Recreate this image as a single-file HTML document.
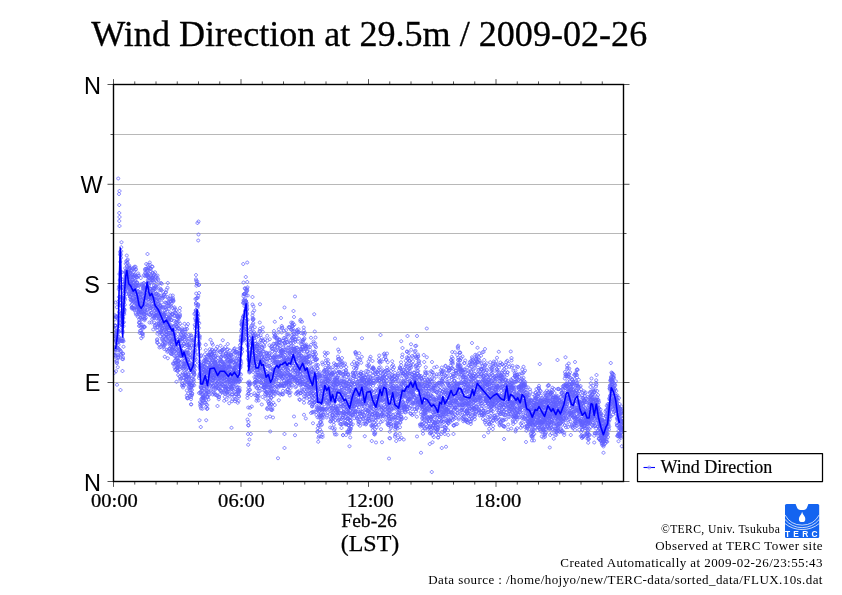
<!DOCTYPE html>
<html lang="en"><head><meta charset="utf-8"><title>Wind Direction at 29.5m / 2009-02-26</title>
<style>html,body{margin:0;padding:0;background:#fff;overflow:hidden}svg{display:block}text{font-family:"Liberation Serif",serif;fill:#000}.sans{font-family:"Liberation Sans",sans-serif}</style></head><body>
<svg width="842" height="595" viewBox="0 0 842 595">
<rect width="842" height="595" fill="#fff"/>
<path d="M113.5 431.5H623.5M113.5 382.5H623.5M113.5 332.5H623.5M113.5 283.5H623.5M113.5 233.5H623.5M113.5 184.5H623.5M113.5 134.5H623.5" stroke="#a0a0a0" stroke-width="0.75" fill="none"/>
<clipPath id="c"><rect x="113.5" y="84.5" width="510.0" height="397.0"/></clipPath>
<path clip-path="url(#c)" d="M114.45 353.25a1.5 1.5 0 1 0 .1 0zM114.45 353.5a1.5 1.5 0 1 0 .1 0zM114.45 358a1.5 1.5 0 1 0 .1 0zM114.45 371.25a1.5 1.5 0 1 0 .1 0zM114.7 318a1.5 1.5 0 1 0 .1 0zM114.7 331a1.5 1.5 0 1 0 .1 0zM114.7 337.75a1.5 1.5 0 1 0 .1 0zM114.7 345.75a1.5 1.5 0 1 0 .1 0zM114.7 350.25a1.5 1.5 0 1 0 .1 0zM114.95 313.75a1.5 1.5 0 1 0 .1 0zM114.95 323.75a1.5 1.5 0 1 0 .1 0zM114.95 337.25a1.5 1.5 0 1 0 .1 0zM114.95 347.75a1.5 1.5 0 1 0 .1 0zM115.2 324.5a1.5 1.5 0 1 0 .1 0zM115.2 336.75a1.5 1.5 0 1 0 .1 0zM115.2 346.25a1.5 1.5 0 1 0 .1 0zM115.2 354.25a1.5 1.5 0 1 0 .1 0zM115.45 324.25a1.5 1.5 0 1 0 .1 0zM115.45 335a1.5 1.5 0 1 0 .1 0zM115.45 348a1.5 1.5 0 1 0 .1 0zM115.45 348.75a1.5 1.5 0 1 0 .1 0zM115.7 301a1.5 1.5 0 1 0 .1 0zM115.7 314.75a1.5 1.5 0 1 0 .1 0zM115.7 326.5a1.5 1.5 0 1 0 .1 0zM115.7 347a1.5 1.5 0 1 0 .1 0zM115.7 354a1.5 1.5 0 1 0 .1 0zM115.95 333.75a1.5 1.5 0 1 0 .1 0zM115.95 335.75a1.5 1.5 0 1 0 .1 0zM115.95 339.5a1.5 1.5 0 1 0 .1 0zM115.95 369.75a1.5 1.5 0 1 0 .1 0zM116.2 315.75a1.5 1.5 0 1 0 .1 0zM116.2 316a1.5 1.5 0 1 0 .1 0zM116.2 329.75a1.5 1.5 0 1 0 .1 0zM116.2 332.75a1.5 1.5 0 1 0 .1 0zM116.45 315.25a1.5 1.5 0 1 0 .1 0zM116.45 326a1.5 1.5 0 1 0 .1 0zM116.45 339.25a1.5 1.5 0 1 0 .1 0zM116.45 341.25a1.5 1.5 0 1 0 .1 0zM116.7 305.75a1.5 1.5 0 1 0 .1 0zM116.7 330a1.5 1.5 0 1 0 .1 0zM116.7 346a1.5 1.5 0 1 0 .1 0zM116.7 359.5a1.5 1.5 0 1 0 .1 0zM116.7 361a1.5 1.5 0 1 0 .1 0zM116.95 338a1.5 1.5 0 1 0 .1 0zM116.95 341a1.5 1.5 0 1 0 .1 0zM116.95 361.75a1.5 1.5 0 1 0 .1 0zM116.95 383.25a1.5 1.5 0 1 0 .1 0zM117.2 331a1.5 1.5 0 1 0 .1 0zM117.2 333.25a1.5 1.5 0 1 0 .1 0zM117.2 341.75a1.5 1.5 0 1 0 .1 0zM117.2 346a1.5 1.5 0 1 0 .1 0zM117.45 330a1.5 1.5 0 1 0 .1 0zM117.45 334.25a1.5 1.5 0 1 0 .1 0zM117.45 336.75a1.5 1.5 0 1 0 .1 0zM117.45 353.25a1.5 1.5 0 1 0 .1 0zM117.7 316.75a1.5 1.5 0 1 0 .1 0zM117.7 330.5a1.5 1.5 0 1 0 .1 0zM117.7 337a1.5 1.5 0 1 0 .1 0zM117.7 341.25a1.5 1.5 0 1 0 .1 0zM117.7 365.75a1.5 1.5 0 1 0 .1 0zM117.95 329a1.5 1.5 0 1 0 .1 0zM117.95 338.25a1.5 1.5 0 1 0 .1 0zM117.95 346.5a1.5 1.5 0 1 0 .1 0zM117.95 355.75a1.5 1.5 0 1 0 .1 0zM118.2 177a1.5 1.5 0 1 0 .1 0zM118.2 300.25a1.5 1.5 0 1 0 .1 0zM118.2 348.75a1.5 1.5 0 1 0 .1 0zM118.2 354a1.5 1.5 0 1 0 .1 0zM118.2 356.75a1.5 1.5 0 1 0 .1 0zM118.45 338.75a1.5 1.5 0 1 0 .1 0zM118.45 343.25a1.5 1.5 0 1 0 .1 0zM118.45 347.25a1.5 1.5 0 1 0 .1 0zM118.45 356a1.5 1.5 0 1 0 .1 0zM118.7 287.75a1.5 1.5 0 1 0 .1 0zM118.7 303.25a1.5 1.5 0 1 0 .1 0zM118.7 314a1.5 1.5 0 1 0 .1 0zM118.7 319.75a1.5 1.5 0 1 0 .1 0zM118.7 323a1.5 1.5 0 1 0 .1 0zM118.95 192.5a1.5 1.5 0 1 0 .1 0zM118.95 285a1.5 1.5 0 1 0 .1 0zM118.95 295.5a1.5 1.5 0 1 0 .1 0zM118.95 335.5a1.5 1.5 0 1 0 .1 0zM118.95 338.5a1.5 1.5 0 1 0 .1 0zM119.2 203.5a1.5 1.5 0 1 0 .1 0zM119.2 211.5a1.5 1.5 0 1 0 .1 0zM119.2 219.5a1.5 1.5 0 1 0 .1 0zM119.2 310.75a1.5 1.5 0 1 0 .1 0zM119.2 324.25a1.5 1.5 0 1 0 .1 0zM119.2 330.25a1.5 1.5 0 1 0 .1 0zM119.2 337a1.5 1.5 0 1 0 .1 0zM119.45 189.5a1.5 1.5 0 1 0 .1 0zM119.45 215.5a1.5 1.5 0 1 0 .1 0zM119.45 224.5a1.5 1.5 0 1 0 .1 0zM119.45 272.5a1.5 1.5 0 1 0 .1 0zM119.45 298.75a1.5 1.5 0 1 0 .1 0zM119.45 324.25a1.5 1.5 0 1 0 .1 0zM119.45 340a1.5 1.5 0 1 0 .1 0zM119.7 278.75a1.5 1.5 0 1 0 .1 0zM119.7 285.5a1.5 1.5 0 1 0 .1 0zM119.7 321.5a1.5 1.5 0 1 0 .1 0zM119.7 339.25a1.5 1.5 0 1 0 .1 0zM119.7 348.25a1.5 1.5 0 1 0 .1 0zM119.95 250.25a1.5 1.5 0 1 0 .1 0zM119.95 253a1.5 1.5 0 1 0 .1 0zM119.95 309.75a1.5 1.5 0 1 0 .1 0zM119.95 317.25a1.5 1.5 0 1 0 .1 0zM120.2 260.25a1.5 1.5 0 1 0 .1 0zM120.2 295.5a1.5 1.5 0 1 0 .1 0zM120.2 304a1.5 1.5 0 1 0 .1 0zM120.2 318.75a1.5 1.5 0 1 0 .1 0zM120.45 297.25a1.5 1.5 0 1 0 .1 0zM120.45 301.5a1.5 1.5 0 1 0 .1 0zM120.45 350.25a1.5 1.5 0 1 0 .1 0zM120.45 388.5a1.5 1.5 0 1 0 .1 0zM120.7 270.25a1.5 1.5 0 1 0 .1 0zM120.7 277a1.5 1.5 0 1 0 .1 0zM120.7 311.5a1.5 1.5 0 1 0 .1 0zM120.7 328.75a1.5 1.5 0 1 0 .1 0zM120.7 349.25a1.5 1.5 0 1 0 .1 0zM120.95 253a1.5 1.5 0 1 0 .1 0zM120.95 256.25a1.5 1.5 0 1 0 .1 0zM120.95 352.5a1.5 1.5 0 1 0 .1 0zM120.95 353.75a1.5 1.5 0 1 0 .1 0zM121.2 245.75a1.5 1.5 0 1 0 .1 0zM121.2 249.75a1.5 1.5 0 1 0 .1 0zM121.2 314.5a1.5 1.5 0 1 0 .1 0zM121.2 339.5a1.5 1.5 0 1 0 .1 0zM121.45 240.75a1.5 1.5 0 1 0 .1 0zM121.45 304.5a1.5 1.5 0 1 0 .1 0zM121.45 312.75a1.5 1.5 0 1 0 .1 0zM121.45 322.5a1.5 1.5 0 1 0 .1 0zM121.7 286.75a1.5 1.5 0 1 0 .1 0zM121.7 311.75a1.5 1.5 0 1 0 .1 0zM121.7 315.75a1.5 1.5 0 1 0 .1 0zM121.7 319.25a1.5 1.5 0 1 0 .1 0zM121.7 339.25a1.5 1.5 0 1 0 .1 0zM121.95 270.75a1.5 1.5 0 1 0 .1 0zM121.95 314a1.5 1.5 0 1 0 .1 0zM121.95 323.5a1.5 1.5 0 1 0 .1 0zM121.95 339.5a1.5 1.5 0 1 0 .1 0zM122.2 285.5a1.5 1.5 0 1 0 .1 0zM122.2 303a1.5 1.5 0 1 0 .1 0zM122.2 336.75a1.5 1.5 0 1 0 .1 0zM122.2 357.5a1.5 1.5 0 1 0 .1 0zM122.45 310a1.5 1.5 0 1 0 .1 0zM122.45 329.5a1.5 1.5 0 1 0 .1 0zM122.45 337.25a1.5 1.5 0 1 0 .1 0zM122.45 369.5a1.5 1.5 0 1 0 .1 0zM122.7 296.75a1.5 1.5 0 1 0 .1 0zM122.7 331a1.5 1.5 0 1 0 .1 0zM122.7 338.5a1.5 1.5 0 1 0 .1 0zM122.7 339.75a1.5 1.5 0 1 0 .1 0zM122.7 352a1.5 1.5 0 1 0 .1 0zM122.95 277.75a1.5 1.5 0 1 0 .1 0zM122.95 352.25a1.5 1.5 0 1 0 .1 0zM122.95 356a1.5 1.5 0 1 0 .1 0zM122.95 357.75a1.5 1.5 0 1 0 .1 0zM123.2 282.75a1.5 1.5 0 1 0 .1 0zM123.2 283a1.5 1.5 0 1 0 .1 0zM123.2 316.75a1.5 1.5 0 1 0 .1 0zM123.2 321.25a1.5 1.5 0 1 0 .1 0zM123.45 304.25a1.5 1.5 0 1 0 .1 0zM123.45 324.75a1.5 1.5 0 1 0 .1 0zM123.45 339.75a1.5 1.5 0 1 0 .1 0zM123.45 345.25a1.5 1.5 0 1 0 .1 0zM123.7 300.25a1.5 1.5 0 1 0 .1 0zM123.7 301a1.5 1.5 0 1 0 .1 0zM123.7 307.25a1.5 1.5 0 1 0 .1 0zM123.7 311.25a1.5 1.5 0 1 0 .1 0zM123.7 320.75a1.5 1.5 0 1 0 .1 0zM123.95 291.75a1.5 1.5 0 1 0 .1 0zM123.95 294.25a1.5 1.5 0 1 0 .1 0zM123.95 296.5a1.5 1.5 0 1 0 .1 0zM123.95 307.25a1.5 1.5 0 1 0 .1 0zM124.2 296a1.5 1.5 0 1 0 .1 0zM124.2 308a1.5 1.5 0 1 0 .1 0zM124.2 310.25a1.5 1.5 0 1 0 .1 0zM124.2 312.75a1.5 1.5 0 1 0 .1 0zM124.45 285.25a1.5 1.5 0 1 0 .1 0zM124.45 287.75a1.5 1.5 0 1 0 .1 0zM124.45 290a1.5 1.5 0 1 0 .1 0zM124.45 308.5a1.5 1.5 0 1 0 .1 0zM124.7 280.75a1.5 1.5 0 1 0 .1 0zM124.7 284.25a1.5 1.5 0 1 0 .1 0zM124.7 297a1.5 1.5 0 1 0 .1 0zM124.7 298.25a1.5 1.5 0 1 0 .1 0zM124.7 303.25a1.5 1.5 0 1 0 .1 0zM124.95 281.25a1.5 1.5 0 1 0 .1 0zM124.95 281.75a1.5 1.5 0 1 0 .1 0zM124.95 288.25a1.5 1.5 0 1 0 .1 0zM124.95 290a1.5 1.5 0 1 0 .1 0zM125.2 266.75a1.5 1.5 0 1 0 .1 0zM125.2 277.5a1.5 1.5 0 1 0 .1 0zM125.2 282.25a1.5 1.5 0 1 0 .1 0zM125.2 284.5a1.5 1.5 0 1 0 .1 0zM125.45 270a1.5 1.5 0 1 0 .1 0zM125.45 271.5a1.5 1.5 0 1 0 .1 0zM125.45 274.25a1.5 1.5 0 1 0 .1 0zM125.45 278.25a1.5 1.5 0 1 0 .1 0zM125.7 262.25a1.5 1.5 0 1 0 .1 0zM125.7 270.25a1.5 1.5 0 1 0 .1 0zM125.7 275a1.5 1.5 0 1 0 .1 0zM125.7 277.5a1.5 1.5 0 1 0 .1 0zM125.7 287.5a1.5 1.5 0 1 0 .1 0zM125.95 271.75a1.5 1.5 0 1 0 .1 0zM125.95 274.25a1.5 1.5 0 1 0 .1 0zM125.95 276.25a1.5 1.5 0 1 0 .1 0zM125.95 281a1.5 1.5 0 1 0 .1 0zM126.2 259.75a1.5 1.5 0 1 0 .1 0zM126.2 272.75a1.5 1.5 0 1 0 .1 0zM126.2 274.75a1.5 1.5 0 1 0 .1 0zM126.2 288a1.5 1.5 0 1 0 .1 0zM126.45 268a1.5 1.5 0 1 0 .1 0zM126.45 272a1.5 1.5 0 1 0 .1 0zM126.45 275.75a1.5 1.5 0 1 0 .1 0zM126.45 277.75a1.5 1.5 0 1 0 .1 0zM126.7 254a1.5 1.5 0 1 0 .1 0zM126.7 269.75a1.5 1.5 0 1 0 .1 0zM126.7 271.75a1.5 1.5 0 1 0 .1 0zM126.7 285a1.5 1.5 0 1 0 .1 0zM126.7 292.5a1.5 1.5 0 1 0 .1 0zM126.95 261.5a1.5 1.5 0 1 0 .1 0zM126.95 264.75a1.5 1.5 0 1 0 .1 0zM126.95 269.75a1.5 1.5 0 1 0 .1 0zM126.95 283.25a1.5 1.5 0 1 0 .1 0zM127.2 259a1.5 1.5 0 1 0 .1 0zM127.2 266a1.5 1.5 0 1 0 .1 0zM127.2 270a1.5 1.5 0 1 0 .1 0zM127.2 273.5a1.5 1.5 0 1 0 .1 0zM127.45 261.25a1.5 1.5 0 1 0 .1 0zM127.45 280.5a1.5 1.5 0 1 0 .1 0zM127.45 282.5a1.5 1.5 0 1 0 .1 0zM127.45 284a1.5 1.5 0 1 0 .1 0zM127.7 258a1.5 1.5 0 1 0 .1 0zM127.7 270a1.5 1.5 0 1 0 .1 0zM127.7 270.75a1.5 1.5 0 1 0 .1 0zM127.7 274.75a1.5 1.5 0 1 0 .1 0zM127.7 281.5a1.5 1.5 0 1 0 .1 0zM127.95 270.5a1.5 1.5 0 1 0 .1 0zM127.95 271.5a1.5 1.5 0 1 0 .1 0zM127.95 275.75a1.5 1.5 0 1 0 .1 0zM127.95 284.25a1.5 1.5 0 1 0 .1 0zM128.2 275a1.5 1.5 0 1 0 .1 0zM128.2 277.75a1.5 1.5 0 1 0 .1 0zM128.2 280.25a1.5 1.5 0 1 0 .1 0zM128.2 283a1.5 1.5 0 1 0 .1 0zM128.45 273a1.5 1.5 0 1 0 .1 0zM128.45 281.25a1.5 1.5 0 1 0 .1 0zM128.45 283a1.5 1.5 0 1 0 .1 0zM128.45 283.75a1.5 1.5 0 1 0 .1 0zM128.7 271a1.5 1.5 0 1 0 .1 0zM128.7 282.75a1.5 1.5 0 1 0 .1 0zM128.7 285.5a1.5 1.5 0 1 0 .1 0zM128.7 292a1.5 1.5 0 1 0 .1 0zM128.7 292.5a1.5 1.5 0 1 0 .1 0zM128.95 265a1.5 1.5 0 1 0 .1 0zM128.95 275.25a1.5 1.5 0 1 0 .1 0zM128.95 286a1.5 1.5 0 1 0 .1 0zM128.95 290.75a1.5 1.5 0 1 0 .1 0zM129.2 264a1.5 1.5 0 1 0 .1 0zM129.2 267.25a1.5 1.5 0 1 0 .1 0zM129.2 268.25a1.5 1.5 0 1 0 .1 0zM129.2 287a1.5 1.5 0 1 0 .1 0zM129.45 266.25a1.5 1.5 0 1 0 .1 0zM129.45 275.75a1.5 1.5 0 1 0 .1 0zM129.45 283.25a1.5 1.5 0 1 0 .1 0zM129.45 284.75a1.5 1.5 0 1 0 .1 0zM129.7 270.5a1.5 1.5 0 1 0 .1 0zM129.7 272a1.5 1.5 0 1 0 .1 0zM129.7 280.75a1.5 1.5 0 1 0 .1 0zM129.7 282a1.5 1.5 0 1 0 .1 0zM129.7 288a1.5 1.5 0 1 0 .1 0zM129.95 266.5a1.5 1.5 0 1 0 .1 0zM129.95 282.75a1.5 1.5 0 1 0 .1 0zM129.95 295a1.5 1.5 0 1 0 .1 0zM129.95 295.5a1.5 1.5 0 1 0 .1 0zM130.2 271.5a1.5 1.5 0 1 0 .1 0zM130.2 283.25a1.5 1.5 0 1 0 .1 0zM130.2 283.75a1.5 1.5 0 1 0 .1 0zM130.2 289.75a1.5 1.5 0 1 0 .1 0zM130.45 278a1.5 1.5 0 1 0 .1 0zM130.45 281a1.5 1.5 0 1 0 .1 0zM130.45 284.75a1.5 1.5 0 1 0 .1 0zM130.45 298a1.5 1.5 0 1 0 .1 0zM130.7 268.75a1.5 1.5 0 1 0 .1 0zM130.7 282.5a1.5 1.5 0 1 0 .1 0zM130.7 283.25a1.5 1.5 0 1 0 .1 0zM130.7 289a1.5 1.5 0 1 0 .1 0zM130.7 295.5a1.5 1.5 0 1 0 .1 0zM130.95 275.25a1.5 1.5 0 1 0 .1 0zM130.95 280a1.5 1.5 0 1 0 .1 0zM130.95 283a1.5 1.5 0 1 0 .1 0zM130.95 293.75a1.5 1.5 0 1 0 .1 0zM131.2 287.5a1.5 1.5 0 1 0 .1 0zM131.2 298.25a1.5 1.5 0 1 0 .1 0zM131.2 299.25a1.5 1.5 0 1 0 .1 0zM131.2 303.75a1.5 1.5 0 1 0 .1 0zM131.45 268.75a1.5 1.5 0 1 0 .1 0zM131.45 278.75a1.5 1.5 0 1 0 .1 0zM131.45 282.25a1.5 1.5 0 1 0 .1 0zM131.45 283.75a1.5 1.5 0 1 0 .1 0zM131.7 289a1.5 1.5 0 1 0 .1 0zM131.7 293.25a1.5 1.5 0 1 0 .1 0zM131.7 306a1.5 1.5 0 1 0 .1 0zM131.7 307a1.5 1.5 0 1 0 .1 0zM131.95 278.25a1.5 1.5 0 1 0 .1 0zM131.95 299.5a1.5 1.5 0 1 0 .1 0zM131.95 302.75a1.5 1.5 0 1 0 .1 0zM131.95 305.75a1.5 1.5 0 1 0 .1 0zM132.2 266.75a1.5 1.5 0 1 0 .1 0zM132.2 272.5a1.5 1.5 0 1 0 .1 0zM132.2 273.75a1.5 1.5 0 1 0 .1 0zM132.2 286a1.5 1.5 0 1 0 .1 0zM132.45 273.75a1.5 1.5 0 1 0 .1 0zM132.45 284.25a1.5 1.5 0 1 0 .1 0zM132.45 289.25a1.5 1.5 0 1 0 .1 0zM132.45 293.25a1.5 1.5 0 1 0 .1 0zM132.7 278.25a1.5 1.5 0 1 0 .1 0zM132.7 283.25a1.5 1.5 0 1 0 .1 0zM132.7 296.25a1.5 1.5 0 1 0 .1 0zM132.7 298.25a1.5 1.5 0 1 0 .1 0zM132.7 306.5a1.5 1.5 0 1 0 .1 0zM132.95 268a1.5 1.5 0 1 0 .1 0zM132.95 275.25a1.5 1.5 0 1 0 .1 0zM132.95 289.5a1.5 1.5 0 1 0 .1 0zM132.95 291.25a1.5 1.5 0 1 0 .1 0zM133.2 275.25a1.5 1.5 0 1 0 .1 0zM133.2 290a1.5 1.5 0 1 0 .1 0zM133.2 291a1.5 1.5 0 1 0 .1 0zM133.2 307a1.5 1.5 0 1 0 .1 0zM133.45 280.5a1.5 1.5 0 1 0 .1 0zM133.45 284.5a1.5 1.5 0 1 0 .1 0zM133.45 289a1.5 1.5 0 1 0 .1 0zM133.45 292a1.5 1.5 0 1 0 .1 0zM133.45 299.75a1.5 1.5 0 1 0 .1 0zM133.7 284.5a1.5 1.5 0 1 0 .1 0zM133.7 287.75a1.5 1.5 0 1 0 .1 0zM133.7 297.25a1.5 1.5 0 1 0 .1 0zM133.7 300.5a1.5 1.5 0 1 0 .1 0zM133.95 266.25a1.5 1.5 0 1 0 .1 0zM133.95 273.5a1.5 1.5 0 1 0 .1 0zM133.95 299a1.5 1.5 0 1 0 .1 0zM133.95 306.5a1.5 1.5 0 1 0 .1 0zM134.2 281a1.5 1.5 0 1 0 .1 0zM134.2 288.75a1.5 1.5 0 1 0 .1 0zM134.2 307.75a1.5 1.5 0 1 0 .1 0zM134.2 308.75a1.5 1.5 0 1 0 .1 0zM134.45 265.25a1.5 1.5 0 1 0 .1 0zM134.45 269.25a1.5 1.5 0 1 0 .1 0zM134.45 280.75a1.5 1.5 0 1 0 .1 0zM134.45 287.25a1.5 1.5 0 1 0 .1 0zM134.45 288a1.5 1.5 0 1 0 .1 0zM134.7 274a1.5 1.5 0 1 0 .1 0zM134.7 279.5a1.5 1.5 0 1 0 .1 0zM134.7 285.25a1.5 1.5 0 1 0 .1 0zM134.7 289.75a1.5 1.5 0 1 0 .1 0zM134.95 272.75a1.5 1.5 0 1 0 .1 0zM134.95 276.25a1.5 1.5 0 1 0 .1 0zM134.95 292.5a1.5 1.5 0 1 0 .1 0zM135.2 295a1.5 1.5 0 1 0 .1 0zM135.2 299.75a1.5 1.5 0 1 0 .1 0zM135.2 301.75a1.5 1.5 0 1 0 .1 0zM135.2 305.5a1.5 1.5 0 1 0 .1 0zM135.45 265.25a1.5 1.5 0 1 0 .1 0zM135.45 268.25a1.5 1.5 0 1 0 .1 0zM135.45 274.5a1.5 1.5 0 1 0 .1 0zM135.45 284a1.5 1.5 0 1 0 .1 0zM135.45 286a1.5 1.5 0 1 0 .1 0zM135.7 293a1.5 1.5 0 1 0 .1 0zM135.7 295.75a1.5 1.5 0 1 0 .1 0zM135.7 298.25a1.5 1.5 0 1 0 .1 0zM135.7 311.5a1.5 1.5 0 1 0 .1 0zM135.95 267.75a1.5 1.5 0 1 0 .1 0zM135.95 292.5a1.5 1.5 0 1 0 .1 0zM135.95 301.5a1.5 1.5 0 1 0 .1 0zM135.95 313a1.5 1.5 0 1 0 .1 0zM136.2 275.75a1.5 1.5 0 1 0 .1 0zM136.2 282.75a1.5 1.5 0 1 0 .1 0zM136.2 284a1.5 1.5 0 1 0 .1 0zM136.2 294.75a1.5 1.5 0 1 0 .1 0zM136.45 280.5a1.5 1.5 0 1 0 .1 0zM136.45 284.5a1.5 1.5 0 1 0 .1 0zM136.45 296.75a1.5 1.5 0 1 0 .1 0zM136.45 297a1.5 1.5 0 1 0 .1 0zM136.45 298.75a1.5 1.5 0 1 0 .1 0zM136.7 276.25a1.5 1.5 0 1 0 .1 0zM136.7 302a1.5 1.5 0 1 0 .1 0zM136.7 302.5a1.5 1.5 0 1 0 .1 0zM136.7 305.5a1.5 1.5 0 1 0 .1 0zM136.95 275.5a1.5 1.5 0 1 0 .1 0zM136.95 281a1.5 1.5 0 1 0 .1 0zM136.95 281.25a1.5 1.5 0 1 0 .1 0zM136.95 306a1.5 1.5 0 1 0 .1 0zM137.2 283.75a1.5 1.5 0 1 0 .1 0zM137.2 291.75a1.5 1.5 0 1 0 .1 0zM137.2 296a1.5 1.5 0 1 0 .1 0zM137.2 308.25a1.5 1.5 0 1 0 .1 0zM137.45 290.75a1.5 1.5 0 1 0 .1 0zM137.45 296a1.5 1.5 0 1 0 .1 0zM137.45 300.75a1.5 1.5 0 1 0 .1 0zM137.45 302.5a1.5 1.5 0 1 0 .1 0zM137.45 313.25a1.5 1.5 0 1 0 .1 0zM137.7 300.75a1.5 1.5 0 1 0 .1 0zM137.7 304.25a1.5 1.5 0 1 0 .1 0zM137.7 306.75a1.5 1.5 0 1 0 .1 0zM137.7 315.25a1.5 1.5 0 1 0 .1 0zM137.95 286.75a1.5 1.5 0 1 0 .1 0zM137.95 290.5a1.5 1.5 0 1 0 .1 0zM137.95 293a1.5 1.5 0 1 0 .1 0zM137.95 300a1.5 1.5 0 1 0 .1 0zM138.2 272a1.5 1.5 0 1 0 .1 0zM138.2 284a1.5 1.5 0 1 0 .1 0zM138.2 289.75a1.5 1.5 0 1 0 .1 0zM138.2 305a1.5 1.5 0 1 0 .1 0zM138.45 273.75a1.5 1.5 0 1 0 .1 0zM138.45 301a1.5 1.5 0 1 0 .1 0zM138.45 310a1.5 1.5 0 1 0 .1 0zM138.45 310.25a1.5 1.5 0 1 0 .1 0zM138.45 311a1.5 1.5 0 1 0 .1 0zM138.7 274.5a1.5 1.5 0 1 0 .1 0zM138.7 292.75a1.5 1.5 0 1 0 .1 0zM138.7 306.75a1.5 1.5 0 1 0 .1 0zM138.7 308.5a1.5 1.5 0 1 0 .1 0zM138.95 284a1.5 1.5 0 1 0 .1 0zM138.95 312.25a1.5 1.5 0 1 0 .1 0zM138.95 321a1.5 1.5 0 1 0 .1 0zM138.95 324.5a1.5 1.5 0 1 0 .1 0zM139.2 306.25a1.5 1.5 0 1 0 .1 0zM139.2 308a1.5 1.5 0 1 0 .1 0zM139.2 318a1.5 1.5 0 1 0 .1 0zM139.2 321.25a1.5 1.5 0 1 0 .1 0zM139.45 290.75a1.5 1.5 0 1 0 .1 0zM139.45 300a1.5 1.5 0 1 0 .1 0zM139.45 302.25a1.5 1.5 0 1 0 .1 0zM139.45 304.5a1.5 1.5 0 1 0 .1 0zM139.45 308.25a1.5 1.5 0 1 0 .1 0zM139.7 296.25a1.5 1.5 0 1 0 .1 0zM139.7 304.5a1.5 1.5 0 1 0 .1 0zM139.7 324a1.5 1.5 0 1 0 .1 0zM139.7 331.5a1.5 1.5 0 1 0 .1 0zM139.95 292.5a1.5 1.5 0 1 0 .1 0zM139.95 304a1.5 1.5 0 1 0 .1 0zM139.95 313.25a1.5 1.5 0 1 0 .1 0zM139.95 329.25a1.5 1.5 0 1 0 .1 0zM140.2 283a1.5 1.5 0 1 0 .1 0zM140.2 295.25a1.5 1.5 0 1 0 .1 0zM140.2 316.25a1.5 1.5 0 1 0 .1 0zM140.2 321a1.5 1.5 0 1 0 .1 0zM140.45 296.25a1.5 1.5 0 1 0 .1 0zM140.45 305.25a1.5 1.5 0 1 0 .1 0zM140.45 305.5a1.5 1.5 0 1 0 .1 0zM140.45 308.5a1.5 1.5 0 1 0 .1 0zM140.45 310.5a1.5 1.5 0 1 0 .1 0zM140.7 276.5a1.5 1.5 0 1 0 .1 0zM140.7 292.75a1.5 1.5 0 1 0 .1 0zM140.7 298.5a1.5 1.5 0 1 0 .1 0zM140.7 316.75a1.5 1.5 0 1 0 .1 0zM140.95 296.25a1.5 1.5 0 1 0 .1 0zM140.95 297.5a1.5 1.5 0 1 0 .1 0zM140.95 311.25a1.5 1.5 0 1 0 .1 0zM140.95 323.5a1.5 1.5 0 1 0 .1 0zM141.2 302.25a1.5 1.5 0 1 0 .1 0zM141.2 325.5a1.5 1.5 0 1 0 .1 0zM141.2 329a1.5 1.5 0 1 0 .1 0zM141.2 336.75a1.5 1.5 0 1 0 .1 0zM141.45 298.75a1.5 1.5 0 1 0 .1 0zM141.45 307.75a1.5 1.5 0 1 0 .1 0zM141.45 309.5a1.5 1.5 0 1 0 .1 0zM141.45 313.75a1.5 1.5 0 1 0 .1 0zM141.45 331.5a1.5 1.5 0 1 0 .1 0zM141.7 289.5a1.5 1.5 0 1 0 .1 0zM141.7 292.5a1.5 1.5 0 1 0 .1 0zM141.7 310.75a1.5 1.5 0 1 0 .1 0zM141.7 317.75a1.5 1.5 0 1 0 .1 0zM141.95 282.75a1.5 1.5 0 1 0 .1 0zM141.95 284a1.5 1.5 0 1 0 .1 0zM141.95 302a1.5 1.5 0 1 0 .1 0zM141.95 310a1.5 1.5 0 1 0 .1 0zM142.2 302.75a1.5 1.5 0 1 0 .1 0zM142.2 306.25a1.5 1.5 0 1 0 .1 0zM142.2 315.75a1.5 1.5 0 1 0 .1 0zM142.2 332.25a1.5 1.5 0 1 0 .1 0zM142.45 302.75a1.5 1.5 0 1 0 .1 0zM142.45 310.5a1.5 1.5 0 1 0 .1 0zM142.45 323.5a1.5 1.5 0 1 0 .1 0zM142.45 327.25a1.5 1.5 0 1 0 .1 0zM142.45 331.75a1.5 1.5 0 1 0 .1 0zM142.7 286.5a1.5 1.5 0 1 0 .1 0zM142.7 325.5a1.5 1.5 0 1 0 .1 0zM142.7 333a1.5 1.5 0 1 0 .1 0zM142.7 335a1.5 1.5 0 1 0 .1 0zM142.95 289.25a1.5 1.5 0 1 0 .1 0zM142.95 290.5a1.5 1.5 0 1 0 .1 0zM142.95 292a1.5 1.5 0 1 0 .1 0zM142.95 295.75a1.5 1.5 0 1 0 .1 0zM143.2 285.25a1.5 1.5 0 1 0 .1 0zM143.2 299.5a1.5 1.5 0 1 0 .1 0zM143.2 301a1.5 1.5 0 1 0 .1 0zM143.2 305.75a1.5 1.5 0 1 0 .1 0zM143.45 281.75a1.5 1.5 0 1 0 .1 0zM143.45 283a1.5 1.5 0 1 0 .1 0zM143.45 286.25a1.5 1.5 0 1 0 .1 0zM143.45 304a1.5 1.5 0 1 0 .1 0zM143.45 311.75a1.5 1.5 0 1 0 .1 0zM143.7 273.75a1.5 1.5 0 1 0 .1 0zM143.7 287a1.5 1.5 0 1 0 .1 0zM143.7 297.25a1.5 1.5 0 1 0 .1 0zM143.95 281.5a1.5 1.5 0 1 0 .1 0zM143.95 297.25a1.5 1.5 0 1 0 .1 0zM143.95 313a1.5 1.5 0 1 0 .1 0zM143.95 317a1.5 1.5 0 1 0 .1 0zM144.2 286.5a1.5 1.5 0 1 0 .1 0zM144.2 309a1.5 1.5 0 1 0 .1 0zM144.2 325.5a1.5 1.5 0 1 0 .1 0zM144.2 325.75a1.5 1.5 0 1 0 .1 0zM144.45 285.5a1.5 1.5 0 1 0 .1 0zM144.45 294.25a1.5 1.5 0 1 0 .1 0zM144.45 312.75a1.5 1.5 0 1 0 .1 0zM144.45 317.25a1.5 1.5 0 1 0 .1 0zM144.45 318.75a1.5 1.5 0 1 0 .1 0zM144.7 274.5a1.5 1.5 0 1 0 .1 0zM144.7 310a1.5 1.5 0 1 0 .1 0zM144.7 312.75a1.5 1.5 0 1 0 .1 0zM144.7 325.25a1.5 1.5 0 1 0 .1 0zM144.95 267.5a1.5 1.5 0 1 0 .1 0zM144.95 288a1.5 1.5 0 1 0 .1 0zM144.95 307.75a1.5 1.5 0 1 0 .1 0zM144.95 317.25a1.5 1.5 0 1 0 .1 0zM145.2 268.75a1.5 1.5 0 1 0 .1 0zM145.2 271a1.5 1.5 0 1 0 .1 0zM145.2 286.25a1.5 1.5 0 1 0 .1 0zM145.2 292.25a1.5 1.5 0 1 0 .1 0zM145.45 272.25a1.5 1.5 0 1 0 .1 0zM145.45 295.5a1.5 1.5 0 1 0 .1 0zM145.45 297.75a1.5 1.5 0 1 0 .1 0zM145.45 303.75a1.5 1.5 0 1 0 .1 0zM145.45 305.25a1.5 1.5 0 1 0 .1 0zM145.7 302.25a1.5 1.5 0 1 0 .1 0zM145.7 303a1.5 1.5 0 1 0 .1 0zM145.7 309a1.5 1.5 0 1 0 .1 0zM145.7 316.25a1.5 1.5 0 1 0 .1 0zM145.95 296.5a1.5 1.5 0 1 0 .1 0zM145.95 299a1.5 1.5 0 1 0 .1 0zM145.95 311.75a1.5 1.5 0 1 0 .1 0zM145.95 313.25a1.5 1.5 0 1 0 .1 0zM146.2 262.5a1.5 1.5 0 1 0 .1 0zM146.2 267.25a1.5 1.5 0 1 0 .1 0zM146.2 290.5a1.5 1.5 0 1 0 .1 0zM146.2 294.5a1.5 1.5 0 1 0 .1 0zM146.45 267.25a1.5 1.5 0 1 0 .1 0zM146.45 273.5a1.5 1.5 0 1 0 .1 0zM146.45 273.75a1.5 1.5 0 1 0 .1 0zM146.45 274.5a1.5 1.5 0 1 0 .1 0zM146.45 287.5a1.5 1.5 0 1 0 .1 0zM146.7 286.5a1.5 1.5 0 1 0 .1 0zM146.7 291.25a1.5 1.5 0 1 0 .1 0zM146.7 291.5a1.5 1.5 0 1 0 .1 0zM146.7 296a1.5 1.5 0 1 0 .1 0zM146.95 268.25a1.5 1.5 0 1 0 .1 0zM146.95 269.5a1.5 1.5 0 1 0 .1 0zM146.95 281.5a1.5 1.5 0 1 0 .1 0zM146.95 285.5a1.5 1.5 0 1 0 .1 0zM147.2 273a1.5 1.5 0 1 0 .1 0zM147.2 292.75a1.5 1.5 0 1 0 .1 0zM147.2 303.75a1.5 1.5 0 1 0 .1 0zM147.2 308.75a1.5 1.5 0 1 0 .1 0zM147.45 252.5a1.5 1.5 0 1 0 .1 0zM147.45 274.25a1.5 1.5 0 1 0 .1 0zM147.45 285a1.5 1.5 0 1 0 .1 0zM147.45 292.75a1.5 1.5 0 1 0 .1 0zM147.45 308a1.5 1.5 0 1 0 .1 0zM147.7 263.25a1.5 1.5 0 1 0 .1 0zM147.7 272.75a1.5 1.5 0 1 0 .1 0zM147.7 273.5a1.5 1.5 0 1 0 .1 0zM147.7 278.75a1.5 1.5 0 1 0 .1 0zM147.95 275a1.5 1.5 0 1 0 .1 0zM147.95 282a1.5 1.5 0 1 0 .1 0zM147.95 287.25a1.5 1.5 0 1 0 .1 0zM147.95 294.5a1.5 1.5 0 1 0 .1 0zM148.2 269a1.5 1.5 0 1 0 .1 0zM148.2 275.5a1.5 1.5 0 1 0 .1 0zM148.2 295.5a1.5 1.5 0 1 0 .1 0zM148.2 298.25a1.5 1.5 0 1 0 .1 0zM148.45 266a1.5 1.5 0 1 0 .1 0zM148.45 267a1.5 1.5 0 1 0 .1 0zM148.45 276.75a1.5 1.5 0 1 0 .1 0zM148.45 282.25a1.5 1.5 0 1 0 .1 0zM148.45 282.5a1.5 1.5 0 1 0 .1 0zM148.7 279.25a1.5 1.5 0 1 0 .1 0zM148.7 286.5a1.5 1.5 0 1 0 .1 0zM148.7 295.75a1.5 1.5 0 1 0 .1 0zM148.7 297.25a1.5 1.5 0 1 0 .1 0zM148.95 283.5a1.5 1.5 0 1 0 .1 0zM148.95 300.5a1.5 1.5 0 1 0 .1 0zM148.95 304.25a1.5 1.5 0 1 0 .1 0zM148.95 312.75a1.5 1.5 0 1 0 .1 0zM149.2 276a1.5 1.5 0 1 0 .1 0zM149.2 276.25a1.5 1.5 0 1 0 .1 0zM149.2 294a1.5 1.5 0 1 0 .1 0zM149.2 302.5a1.5 1.5 0 1 0 .1 0zM149.45 272.5a1.5 1.5 0 1 0 .1 0zM149.45 279a1.5 1.5 0 1 0 .1 0zM149.45 292.25a1.5 1.5 0 1 0 .1 0zM149.45 295.25a1.5 1.5 0 1 0 .1 0zM149.45 321a1.5 1.5 0 1 0 .1 0zM149.7 261a1.5 1.5 0 1 0 .1 0zM149.7 263.25a1.5 1.5 0 1 0 .1 0zM149.7 266.5a1.5 1.5 0 1 0 .1 0zM149.7 306.75a1.5 1.5 0 1 0 .1 0zM149.95 290.75a1.5 1.5 0 1 0 .1 0zM149.95 296.5a1.5 1.5 0 1 0 .1 0zM149.95 305a1.5 1.5 0 1 0 .1 0zM149.95 313.75a1.5 1.5 0 1 0 .1 0zM150.2 281a1.5 1.5 0 1 0 .1 0zM150.2 287a1.5 1.5 0 1 0 .1 0zM150.2 287.25a1.5 1.5 0 1 0 .1 0zM150.2 312.75a1.5 1.5 0 1 0 .1 0zM150.45 267a1.5 1.5 0 1 0 .1 0zM150.45 296.75a1.5 1.5 0 1 0 .1 0zM150.45 298.75a1.5 1.5 0 1 0 .1 0zM150.45 309.5a1.5 1.5 0 1 0 .1 0zM150.7 267.25a1.5 1.5 0 1 0 .1 0zM150.7 270a1.5 1.5 0 1 0 .1 0zM150.7 287.5a1.5 1.5 0 1 0 .1 0zM150.7 291.25a1.5 1.5 0 1 0 .1 0zM150.95 274a1.5 1.5 0 1 0 .1 0zM150.95 275.25a1.5 1.5 0 1 0 .1 0zM150.95 289.5a1.5 1.5 0 1 0 .1 0zM150.95 306.5a1.5 1.5 0 1 0 .1 0zM151.2 291.75a1.5 1.5 0 1 0 .1 0zM151.2 293a1.5 1.5 0 1 0 .1 0zM151.2 296.5a1.5 1.5 0 1 0 .1 0zM151.2 311.25a1.5 1.5 0 1 0 .1 0zM151.45 295.5a1.5 1.5 0 1 0 .1 0zM151.45 297.25a1.5 1.5 0 1 0 .1 0zM151.45 306.25a1.5 1.5 0 1 0 .1 0zM151.45 311a1.5 1.5 0 1 0 .1 0zM151.45 321a1.5 1.5 0 1 0 .1 0zM151.7 277.75a1.5 1.5 0 1 0 .1 0zM151.7 292.5a1.5 1.5 0 1 0 .1 0zM151.7 297.25a1.5 1.5 0 1 0 .1 0zM151.7 304.75a1.5 1.5 0 1 0 .1 0zM151.95 265a1.5 1.5 0 1 0 .1 0zM151.95 276.5a1.5 1.5 0 1 0 .1 0zM151.95 276.75a1.5 1.5 0 1 0 .1 0zM151.95 299.75a1.5 1.5 0 1 0 .1 0zM152.2 281.25a1.5 1.5 0 1 0 .1 0zM152.2 293.5a1.5 1.5 0 1 0 .1 0zM152.2 302.5a1.5 1.5 0 1 0 .1 0zM152.2 317.5a1.5 1.5 0 1 0 .1 0zM152.45 265.25a1.5 1.5 0 1 0 .1 0zM152.45 271a1.5 1.5 0 1 0 .1 0zM152.45 275.75a1.5 1.5 0 1 0 .1 0zM152.45 276.25a1.5 1.5 0 1 0 .1 0zM152.45 279a1.5 1.5 0 1 0 .1 0zM152.7 271.75a1.5 1.5 0 1 0 .1 0zM152.7 278.25a1.5 1.5 0 1 0 .1 0zM152.7 286.75a1.5 1.5 0 1 0 .1 0zM152.7 315a1.5 1.5 0 1 0 .1 0zM152.95 276a1.5 1.5 0 1 0 .1 0zM152.95 289.25a1.5 1.5 0 1 0 .1 0zM152.95 307.25a1.5 1.5 0 1 0 .1 0zM152.95 313.75a1.5 1.5 0 1 0 .1 0zM153.2 296.75a1.5 1.5 0 1 0 .1 0zM153.2 299a1.5 1.5 0 1 0 .1 0zM153.2 301.75a1.5 1.5 0 1 0 .1 0zM153.2 328a1.5 1.5 0 1 0 .1 0zM153.45 274a1.5 1.5 0 1 0 .1 0zM153.45 288.75a1.5 1.5 0 1 0 .1 0zM153.45 291.75a1.5 1.5 0 1 0 .1 0zM153.45 305a1.5 1.5 0 1 0 .1 0zM153.45 316.75a1.5 1.5 0 1 0 .1 0zM153.7 280.75a1.5 1.5 0 1 0 .1 0zM153.7 287a1.5 1.5 0 1 0 .1 0zM153.7 287.25a1.5 1.5 0 1 0 .1 0zM153.7 296.25a1.5 1.5 0 1 0 .1 0zM153.95 284a1.5 1.5 0 1 0 .1 0zM153.95 286.5a1.5 1.5 0 1 0 .1 0zM153.95 297.25a1.5 1.5 0 1 0 .1 0zM153.95 300.5a1.5 1.5 0 1 0 .1 0zM154.2 272.5a1.5 1.5 0 1 0 .1 0zM154.2 297.75a1.5 1.5 0 1 0 .1 0zM154.2 312.5a1.5 1.5 0 1 0 .1 0zM154.2 321a1.5 1.5 0 1 0 .1 0zM154.45 287.5a1.5 1.5 0 1 0 .1 0zM154.45 297.25a1.5 1.5 0 1 0 .1 0zM154.45 309a1.5 1.5 0 1 0 .1 0zM154.45 314.5a1.5 1.5 0 1 0 .1 0zM154.45 316.25a1.5 1.5 0 1 0 .1 0zM154.7 295.25a1.5 1.5 0 1 0 .1 0zM154.7 303.75a1.5 1.5 0 1 0 .1 0zM154.7 314a1.5 1.5 0 1 0 .1 0zM154.7 324.25a1.5 1.5 0 1 0 .1 0zM154.95 270.75a1.5 1.5 0 1 0 .1 0zM154.95 298a1.5 1.5 0 1 0 .1 0zM154.95 301.5a1.5 1.5 0 1 0 .1 0zM154.95 303.75a1.5 1.5 0 1 0 .1 0zM155.2 285a1.5 1.5 0 1 0 .1 0zM155.2 309a1.5 1.5 0 1 0 .1 0zM155.2 323.25a1.5 1.5 0 1 0 .1 0zM155.2 326a1.5 1.5 0 1 0 .1 0zM155.45 277a1.5 1.5 0 1 0 .1 0zM155.45 278.5a1.5 1.5 0 1 0 .1 0zM155.45 287.5a1.5 1.5 0 1 0 .1 0zM155.45 292.5a1.5 1.5 0 1 0 .1 0zM155.45 315.25a1.5 1.5 0 1 0 .1 0zM155.7 275.5a1.5 1.5 0 1 0 .1 0zM155.7 304.75a1.5 1.5 0 1 0 .1 0zM155.7 306.5a1.5 1.5 0 1 0 .1 0zM155.7 313.5a1.5 1.5 0 1 0 .1 0zM155.95 274.25a1.5 1.5 0 1 0 .1 0zM155.95 284.25a1.5 1.5 0 1 0 .1 0zM155.95 304.25a1.5 1.5 0 1 0 .1 0zM155.95 307.75a1.5 1.5 0 1 0 .1 0zM156.2 279.5a1.5 1.5 0 1 0 .1 0zM156.2 292.75a1.5 1.5 0 1 0 .1 0zM156.2 311.75a1.5 1.5 0 1 0 .1 0zM156.2 316.75a1.5 1.5 0 1 0 .1 0zM156.45 286a1.5 1.5 0 1 0 .1 0zM156.45 291.75a1.5 1.5 0 1 0 .1 0zM156.45 306.5a1.5 1.5 0 1 0 .1 0zM156.45 313.25a1.5 1.5 0 1 0 .1 0zM156.45 322.5a1.5 1.5 0 1 0 .1 0zM156.7 292.25a1.5 1.5 0 1 0 .1 0zM156.7 298.25a1.5 1.5 0 1 0 .1 0zM156.7 299.5a1.5 1.5 0 1 0 .1 0zM156.7 308.75a1.5 1.5 0 1 0 .1 0zM156.95 294.25a1.5 1.5 0 1 0 .1 0zM156.95 304a1.5 1.5 0 1 0 .1 0zM156.95 326a1.5 1.5 0 1 0 .1 0zM156.95 338.75a1.5 1.5 0 1 0 .1 0zM157.2 314.25a1.5 1.5 0 1 0 .1 0zM157.2 328.75a1.5 1.5 0 1 0 .1 0zM157.2 337.75a1.5 1.5 0 1 0 .1 0zM157.2 340.75a1.5 1.5 0 1 0 .1 0zM157.45 274a1.5 1.5 0 1 0 .1 0zM157.45 308a1.5 1.5 0 1 0 .1 0zM157.45 313.5a1.5 1.5 0 1 0 .1 0zM157.45 332.25a1.5 1.5 0 1 0 .1 0zM157.45 341.5a1.5 1.5 0 1 0 .1 0zM157.7 277a1.5 1.5 0 1 0 .1 0zM157.7 285a1.5 1.5 0 1 0 .1 0zM157.7 302.5a1.5 1.5 0 1 0 .1 0zM157.7 312.25a1.5 1.5 0 1 0 .1 0zM157.95 300.25a1.5 1.5 0 1 0 .1 0zM157.95 308.25a1.5 1.5 0 1 0 .1 0zM157.95 314.5a1.5 1.5 0 1 0 .1 0zM157.95 325.75a1.5 1.5 0 1 0 .1 0zM158.2 278.25a1.5 1.5 0 1 0 .1 0zM158.2 293a1.5 1.5 0 1 0 .1 0zM158.2 296.5a1.5 1.5 0 1 0 .1 0zM158.2 302.5a1.5 1.5 0 1 0 .1 0zM158.45 298a1.5 1.5 0 1 0 .1 0zM158.45 302.75a1.5 1.5 0 1 0 .1 0zM158.45 319a1.5 1.5 0 1 0 .1 0zM158.45 322a1.5 1.5 0 1 0 .1 0zM158.45 322.75a1.5 1.5 0 1 0 .1 0zM158.7 294a1.5 1.5 0 1 0 .1 0zM158.7 308.5a1.5 1.5 0 1 0 .1 0zM158.7 309.75a1.5 1.5 0 1 0 .1 0zM158.7 312.25a1.5 1.5 0 1 0 .1 0zM158.95 299a1.5 1.5 0 1 0 .1 0zM158.95 317.75a1.5 1.5 0 1 0 .1 0zM158.95 331a1.5 1.5 0 1 0 .1 0zM158.95 343a1.5 1.5 0 1 0 .1 0zM159.2 281.75a1.5 1.5 0 1 0 .1 0zM159.2 295.75a1.5 1.5 0 1 0 .1 0zM159.2 322a1.5 1.5 0 1 0 .1 0zM159.2 323a1.5 1.5 0 1 0 .1 0zM159.45 288.75a1.5 1.5 0 1 0 .1 0zM159.45 311.5a1.5 1.5 0 1 0 .1 0zM159.45 312a1.5 1.5 0 1 0 .1 0zM159.45 316.5a1.5 1.5 0 1 0 .1 0zM159.45 346a1.5 1.5 0 1 0 .1 0zM159.7 307a1.5 1.5 0 1 0 .1 0zM159.7 309.25a1.5 1.5 0 1 0 .1 0zM159.7 309.5a1.5 1.5 0 1 0 .1 0zM159.7 314.25a1.5 1.5 0 1 0 .1 0zM159.95 303.75a1.5 1.5 0 1 0 .1 0zM159.95 317.5a1.5 1.5 0 1 0 .1 0zM159.95 323.75a1.5 1.5 0 1 0 .1 0zM159.95 325.25a1.5 1.5 0 1 0 .1 0zM160.2 304.25a1.5 1.5 0 1 0 .1 0zM160.2 305a1.5 1.5 0 1 0 .1 0zM160.2 313a1.5 1.5 0 1 0 .1 0zM160.2 323.75a1.5 1.5 0 1 0 .1 0zM160.2 334.75a1.5 1.5 0 1 0 .1 0zM160.45 288.25a1.5 1.5 0 1 0 .1 0zM160.45 305a1.5 1.5 0 1 0 .1 0zM160.45 316.5a1.5 1.5 0 1 0 .1 0zM160.45 330.75a1.5 1.5 0 1 0 .1 0zM160.7 287.25a1.5 1.5 0 1 0 .1 0zM160.7 312.25a1.5 1.5 0 1 0 .1 0zM160.7 320.75a1.5 1.5 0 1 0 .1 0zM160.7 345.5a1.5 1.5 0 1 0 .1 0zM160.95 281.5a1.5 1.5 0 1 0 .1 0zM160.95 306.25a1.5 1.5 0 1 0 .1 0zM160.95 319.25a1.5 1.5 0 1 0 .1 0zM160.95 329.75a1.5 1.5 0 1 0 .1 0zM161.2 294a1.5 1.5 0 1 0 .1 0zM161.2 317a1.5 1.5 0 1 0 .1 0zM161.2 322.5a1.5 1.5 0 1 0 .1 0zM161.2 324.25a1.5 1.5 0 1 0 .1 0zM161.2 328.5a1.5 1.5 0 1 0 .1 0zM161.45 288.75a1.5 1.5 0 1 0 .1 0zM161.45 296.25a1.5 1.5 0 1 0 .1 0zM161.45 305.75a1.5 1.5 0 1 0 .1 0zM161.45 313a1.5 1.5 0 1 0 .1 0zM161.7 282.25a1.5 1.5 0 1 0 .1 0zM161.7 301a1.5 1.5 0 1 0 .1 0zM161.7 312.75a1.5 1.5 0 1 0 .1 0zM161.7 330.75a1.5 1.5 0 1 0 .1 0zM161.95 319.5a1.5 1.5 0 1 0 .1 0zM161.95 327a1.5 1.5 0 1 0 .1 0zM161.95 332.25a1.5 1.5 0 1 0 .1 0zM161.95 337.5a1.5 1.5 0 1 0 .1 0zM162.2 297.25a1.5 1.5 0 1 0 .1 0zM162.2 315a1.5 1.5 0 1 0 .1 0zM162.2 328.75a1.5 1.5 0 1 0 .1 0zM162.2 333a1.5 1.5 0 1 0 .1 0zM162.45 326.5a1.5 1.5 0 1 0 .1 0zM162.45 327.5a1.5 1.5 0 1 0 .1 0zM162.45 339a1.5 1.5 0 1 0 .1 0zM162.45 343a1.5 1.5 0 1 0 .1 0zM162.7 306.25a1.5 1.5 0 1 0 .1 0zM162.7 311.25a1.5 1.5 0 1 0 .1 0zM162.7 322a1.5 1.5 0 1 0 .1 0zM162.7 342.25a1.5 1.5 0 1 0 .1 0zM162.95 296.25a1.5 1.5 0 1 0 .1 0zM162.95 305.25a1.5 1.5 0 1 0 .1 0zM162.95 320a1.5 1.5 0 1 0 .1 0zM162.95 336.25a1.5 1.5 0 1 0 .1 0zM163.2 290.5a1.5 1.5 0 1 0 .1 0zM163.2 294.5a1.5 1.5 0 1 0 .1 0zM163.2 313.25a1.5 1.5 0 1 0 .1 0zM163.2 316.5a1.5 1.5 0 1 0 .1 0zM163.2 344a1.5 1.5 0 1 0 .1 0zM163.45 312.25a1.5 1.5 0 1 0 .1 0zM163.45 320.5a1.5 1.5 0 1 0 .1 0zM163.45 323.5a1.5 1.5 0 1 0 .1 0zM163.45 338.25a1.5 1.5 0 1 0 .1 0zM163.7 293.5a1.5 1.5 0 1 0 .1 0zM163.7 314.75a1.5 1.5 0 1 0 .1 0zM163.7 315a1.5 1.5 0 1 0 .1 0zM163.7 345.5a1.5 1.5 0 1 0 .1 0zM163.95 312.5a1.5 1.5 0 1 0 .1 0zM163.95 313.25a1.5 1.5 0 1 0 .1 0zM163.95 334.75a1.5 1.5 0 1 0 .1 0zM163.95 340.25a1.5 1.5 0 1 0 .1 0zM164.2 293a1.5 1.5 0 1 0 .1 0zM164.2 316.25a1.5 1.5 0 1 0 .1 0zM164.2 318.5a1.5 1.5 0 1 0 .1 0zM164.2 343.75a1.5 1.5 0 1 0 .1 0zM164.2 347.5a1.5 1.5 0 1 0 .1 0zM164.45 305.75a1.5 1.5 0 1 0 .1 0zM164.45 313.25a1.5 1.5 0 1 0 .1 0zM164.45 320.25a1.5 1.5 0 1 0 .1 0zM164.45 326.25a1.5 1.5 0 1 0 .1 0zM164.7 312a1.5 1.5 0 1 0 .1 0zM164.7 321.25a1.5 1.5 0 1 0 .1 0zM164.7 321.75a1.5 1.5 0 1 0 .1 0zM164.7 355.25a1.5 1.5 0 1 0 .1 0zM164.95 295a1.5 1.5 0 1 0 .1 0zM164.95 301a1.5 1.5 0 1 0 .1 0zM164.95 308.75a1.5 1.5 0 1 0 .1 0zM164.95 341a1.5 1.5 0 1 0 .1 0zM165.2 321.25a1.5 1.5 0 1 0 .1 0zM165.2 322.75a1.5 1.5 0 1 0 .1 0zM165.2 323.25a1.5 1.5 0 1 0 .1 0zM165.2 328a1.5 1.5 0 1 0 .1 0zM165.2 343a1.5 1.5 0 1 0 .1 0zM165.45 291.25a1.5 1.5 0 1 0 .1 0zM165.45 305.75a1.5 1.5 0 1 0 .1 0zM165.45 311.25a1.5 1.5 0 1 0 .1 0zM165.45 326a1.5 1.5 0 1 0 .1 0zM165.7 330.5a1.5 1.5 0 1 0 .1 0zM165.7 333.5a1.5 1.5 0 1 0 .1 0zM165.7 337.25a1.5 1.5 0 1 0 .1 0zM165.7 341.5a1.5 1.5 0 1 0 .1 0zM165.95 290.75a1.5 1.5 0 1 0 .1 0zM165.95 301.25a1.5 1.5 0 1 0 .1 0zM165.95 329.25a1.5 1.5 0 1 0 .1 0zM165.95 332.75a1.5 1.5 0 1 0 .1 0zM166.2 308a1.5 1.5 0 1 0 .1 0zM166.2 315a1.5 1.5 0 1 0 .1 0zM166.2 330.25a1.5 1.5 0 1 0 .1 0zM166.2 333.5a1.5 1.5 0 1 0 .1 0zM166.2 338a1.5 1.5 0 1 0 .1 0zM166.45 288.25a1.5 1.5 0 1 0 .1 0zM166.45 307.75a1.5 1.5 0 1 0 .1 0zM166.45 326.5a1.5 1.5 0 1 0 .1 0zM166.45 335.25a1.5 1.5 0 1 0 .1 0zM166.7 301.75a1.5 1.5 0 1 0 .1 0zM166.7 304.75a1.5 1.5 0 1 0 .1 0zM166.7 315.25a1.5 1.5 0 1 0 .1 0zM166.7 348.25a1.5 1.5 0 1 0 .1 0zM166.95 321.25a1.5 1.5 0 1 0 .1 0zM166.95 325.5a1.5 1.5 0 1 0 .1 0zM166.95 325.75a1.5 1.5 0 1 0 .1 0zM166.95 330.5a1.5 1.5 0 1 0 .1 0zM167.2 295.5a1.5 1.5 0 1 0 .1 0zM167.2 320.25a1.5 1.5 0 1 0 .1 0zM167.2 326.25a1.5 1.5 0 1 0 .1 0zM167.2 333.25a1.5 1.5 0 1 0 .1 0zM167.2 350.25a1.5 1.5 0 1 0 .1 0zM167.45 286.25a1.5 1.5 0 1 0 .1 0zM167.45 319.5a1.5 1.5 0 1 0 .1 0zM167.45 327a1.5 1.5 0 1 0 .1 0zM167.45 339.25a1.5 1.5 0 1 0 .1 0zM167.7 281.5a1.5 1.5 0 1 0 .1 0zM167.7 322.75a1.5 1.5 0 1 0 .1 0zM167.7 335.25a1.5 1.5 0 1 0 .1 0zM167.7 356.75a1.5 1.5 0 1 0 .1 0zM167.95 316.5a1.5 1.5 0 1 0 .1 0zM167.95 318a1.5 1.5 0 1 0 .1 0zM167.95 322.25a1.5 1.5 0 1 0 .1 0zM167.95 349.25a1.5 1.5 0 1 0 .1 0zM168.2 297a1.5 1.5 0 1 0 .1 0zM168.2 300.25a1.5 1.5 0 1 0 .1 0zM168.2 304.25a1.5 1.5 0 1 0 .1 0zM168.2 317a1.5 1.5 0 1 0 .1 0zM168.2 325.5a1.5 1.5 0 1 0 .1 0zM168.45 301a1.5 1.5 0 1 0 .1 0zM168.45 316.75a1.5 1.5 0 1 0 .1 0zM168.45 321.25a1.5 1.5 0 1 0 .1 0zM168.45 329a1.5 1.5 0 1 0 .1 0zM168.7 301.75a1.5 1.5 0 1 0 .1 0zM168.7 307.5a1.5 1.5 0 1 0 .1 0zM168.7 318.25a1.5 1.5 0 1 0 .1 0zM168.7 335.25a1.5 1.5 0 1 0 .1 0zM168.95 324.75a1.5 1.5 0 1 0 .1 0zM168.95 331.25a1.5 1.5 0 1 0 .1 0zM168.95 339.75a1.5 1.5 0 1 0 .1 0zM168.95 347.25a1.5 1.5 0 1 0 .1 0zM169.2 304.5a1.5 1.5 0 1 0 .1 0zM169.2 312.5a1.5 1.5 0 1 0 .1 0zM169.2 316.5a1.5 1.5 0 1 0 .1 0zM169.2 319.75a1.5 1.5 0 1 0 .1 0zM169.2 328.75a1.5 1.5 0 1 0 .1 0zM169.45 315.75a1.5 1.5 0 1 0 .1 0zM169.45 324.75a1.5 1.5 0 1 0 .1 0zM169.45 341.75a1.5 1.5 0 1 0 .1 0zM169.45 343a1.5 1.5 0 1 0 .1 0zM169.7 297.5a1.5 1.5 0 1 0 .1 0zM169.7 310.75a1.5 1.5 0 1 0 .1 0zM169.7 314a1.5 1.5 0 1 0 .1 0zM169.7 326.5a1.5 1.5 0 1 0 .1 0zM169.95 317.5a1.5 1.5 0 1 0 .1 0zM169.95 331.75a1.5 1.5 0 1 0 .1 0zM169.95 338a1.5 1.5 0 1 0 .1 0zM169.95 346.75a1.5 1.5 0 1 0 .1 0zM170.2 316a1.5 1.5 0 1 0 .1 0zM170.2 331.5a1.5 1.5 0 1 0 .1 0zM170.2 337a1.5 1.5 0 1 0 .1 0zM170.2 341.25a1.5 1.5 0 1 0 .1 0zM170.2 347.75a1.5 1.5 0 1 0 .1 0zM170.45 294a1.5 1.5 0 1 0 .1 0zM170.45 300.25a1.5 1.5 0 1 0 .1 0zM170.45 303.5a1.5 1.5 0 1 0 .1 0zM170.45 351.5a1.5 1.5 0 1 0 .1 0zM170.7 323.5a1.5 1.5 0 1 0 .1 0zM170.7 324.75a1.5 1.5 0 1 0 .1 0zM170.7 334.25a1.5 1.5 0 1 0 .1 0zM170.7 339.5a1.5 1.5 0 1 0 .1 0zM170.95 305a1.5 1.5 0 1 0 .1 0zM170.95 324.75a1.5 1.5 0 1 0 .1 0zM170.95 332a1.5 1.5 0 1 0 .1 0zM170.95 352.25a1.5 1.5 0 1 0 .1 0zM171.2 297.5a1.5 1.5 0 1 0 .1 0zM171.2 299.5a1.5 1.5 0 1 0 .1 0zM171.2 318.5a1.5 1.5 0 1 0 .1 0zM171.2 332.5a1.5 1.5 0 1 0 .1 0zM171.2 345.5a1.5 1.5 0 1 0 .1 0zM171.45 302a1.5 1.5 0 1 0 .1 0zM171.45 342.5a1.5 1.5 0 1 0 .1 0zM171.45 343a1.5 1.5 0 1 0 .1 0zM171.45 352.5a1.5 1.5 0 1 0 .1 0zM171.7 312.75a1.5 1.5 0 1 0 .1 0zM171.7 318.5a1.5 1.5 0 1 0 .1 0zM171.7 326.25a1.5 1.5 0 1 0 .1 0zM171.7 350.75a1.5 1.5 0 1 0 .1 0zM171.95 331.25a1.5 1.5 0 1 0 .1 0zM171.95 338.25a1.5 1.5 0 1 0 .1 0zM171.95 347.25a1.5 1.5 0 1 0 .1 0zM171.95 348.5a1.5 1.5 0 1 0 .1 0zM172.2 298.75a1.5 1.5 0 1 0 .1 0zM172.2 313a1.5 1.5 0 1 0 .1 0zM172.2 339.5a1.5 1.5 0 1 0 .1 0zM172.2 346.5a1.5 1.5 0 1 0 .1 0zM172.2 347.75a1.5 1.5 0 1 0 .1 0zM172.45 297.75a1.5 1.5 0 1 0 .1 0zM172.45 306.5a1.5 1.5 0 1 0 .1 0zM172.45 312.25a1.5 1.5 0 1 0 .1 0zM172.45 352.5a1.5 1.5 0 1 0 .1 0zM172.7 294a1.5 1.5 0 1 0 .1 0zM172.7 312.5a1.5 1.5 0 1 0 .1 0zM172.7 337a1.5 1.5 0 1 0 .1 0zM172.7 338a1.5 1.5 0 1 0 .1 0zM172.95 296.75a1.5 1.5 0 1 0 .1 0zM172.95 299a1.5 1.5 0 1 0 .1 0zM172.95 345.75a1.5 1.5 0 1 0 .1 0zM172.95 349a1.5 1.5 0 1 0 .1 0zM173.2 300a1.5 1.5 0 1 0 .1 0zM173.2 332.5a1.5 1.5 0 1 0 .1 0zM173.2 337.5a1.5 1.5 0 1 0 .1 0zM173.2 361.75a1.5 1.5 0 1 0 .1 0zM173.2 362.5a1.5 1.5 0 1 0 .1 0zM173.45 299a1.5 1.5 0 1 0 .1 0zM173.45 329.25a1.5 1.5 0 1 0 .1 0zM173.45 334.75a1.5 1.5 0 1 0 .1 0zM173.45 340.25a1.5 1.5 0 1 0 .1 0zM173.7 314.25a1.5 1.5 0 1 0 .1 0zM173.7 319.25a1.5 1.5 0 1 0 .1 0zM173.7 345.5a1.5 1.5 0 1 0 .1 0zM173.7 346a1.5 1.5 0 1 0 .1 0zM173.95 325.25a1.5 1.5 0 1 0 .1 0zM173.95 332.75a1.5 1.5 0 1 0 .1 0zM173.95 334a1.5 1.5 0 1 0 .1 0zM173.95 354a1.5 1.5 0 1 0 .1 0zM174.2 308.5a1.5 1.5 0 1 0 .1 0zM174.2 324a1.5 1.5 0 1 0 .1 0zM174.2 332.5a1.5 1.5 0 1 0 .1 0zM174.2 333.75a1.5 1.5 0 1 0 .1 0zM174.2 350.25a1.5 1.5 0 1 0 .1 0zM174.45 305.75a1.5 1.5 0 1 0 .1 0zM174.45 343.25a1.5 1.5 0 1 0 .1 0zM174.45 362a1.5 1.5 0 1 0 .1 0zM174.45 365.75a1.5 1.5 0 1 0 .1 0zM174.7 307a1.5 1.5 0 1 0 .1 0zM174.7 329.75a1.5 1.5 0 1 0 .1 0zM174.7 342.75a1.5 1.5 0 1 0 .1 0zM174.7 359.5a1.5 1.5 0 1 0 .1 0zM174.95 314.5a1.5 1.5 0 1 0 .1 0zM174.95 323.75a1.5 1.5 0 1 0 .1 0zM174.95 337a1.5 1.5 0 1 0 .1 0zM174.95 338.75a1.5 1.5 0 1 0 .1 0zM175.2 310.75a1.5 1.5 0 1 0 .1 0zM175.2 327.75a1.5 1.5 0 1 0 .1 0zM175.2 341.5a1.5 1.5 0 1 0 .1 0zM175.2 355a1.5 1.5 0 1 0 .1 0zM175.2 368.5a1.5 1.5 0 1 0 .1 0zM175.45 339.75a1.5 1.5 0 1 0 .1 0zM175.45 349.75a1.5 1.5 0 1 0 .1 0zM175.45 358.75a1.5 1.5 0 1 0 .1 0zM175.45 361.25a1.5 1.5 0 1 0 .1 0zM175.7 311.5a1.5 1.5 0 1 0 .1 0zM175.7 339.25a1.5 1.5 0 1 0 .1 0zM175.7 346.5a1.5 1.5 0 1 0 .1 0zM175.7 367.5a1.5 1.5 0 1 0 .1 0zM175.95 312.25a1.5 1.5 0 1 0 .1 0zM175.95 320.5a1.5 1.5 0 1 0 .1 0zM175.95 323.25a1.5 1.5 0 1 0 .1 0zM175.95 361.25a1.5 1.5 0 1 0 .1 0zM176.2 308.5a1.5 1.5 0 1 0 .1 0zM176.2 336.5a1.5 1.5 0 1 0 .1 0zM176.2 343a1.5 1.5 0 1 0 .1 0zM176.2 347.75a1.5 1.5 0 1 0 .1 0zM176.2 351.5a1.5 1.5 0 1 0 .1 0zM176.45 356a1.5 1.5 0 1 0 .1 0zM176.45 357.25a1.5 1.5 0 1 0 .1 0zM176.45 365.5a1.5 1.5 0 1 0 .1 0zM176.45 380.25a1.5 1.5 0 1 0 .1 0zM176.7 318.5a1.5 1.5 0 1 0 .1 0zM176.7 343.25a1.5 1.5 0 1 0 .1 0zM176.7 348.5a1.5 1.5 0 1 0 .1 0zM176.7 362.75a1.5 1.5 0 1 0 .1 0zM176.95 314.5a1.5 1.5 0 1 0 .1 0zM176.95 320a1.5 1.5 0 1 0 .1 0zM176.95 324.75a1.5 1.5 0 1 0 .1 0zM176.95 325.5a1.5 1.5 0 1 0 .1 0zM177.2 321.25a1.5 1.5 0 1 0 .1 0zM177.2 356.5a1.5 1.5 0 1 0 .1 0zM177.2 366.5a1.5 1.5 0 1 0 .1 0zM177.2 367a1.5 1.5 0 1 0 .1 0zM177.2 369a1.5 1.5 0 1 0 .1 0zM177.45 315.5a1.5 1.5 0 1 0 .1 0zM177.45 327a1.5 1.5 0 1 0 .1 0zM177.45 359.75a1.5 1.5 0 1 0 .1 0zM177.45 369.75a1.5 1.5 0 1 0 .1 0zM177.7 332.5a1.5 1.5 0 1 0 .1 0zM177.7 356.25a1.5 1.5 0 1 0 .1 0zM177.7 361a1.5 1.5 0 1 0 .1 0zM177.7 364a1.5 1.5 0 1 0 .1 0zM177.95 326.75a1.5 1.5 0 1 0 .1 0zM177.95 338.25a1.5 1.5 0 1 0 .1 0zM177.95 365.5a1.5 1.5 0 1 0 .1 0zM177.95 369a1.5 1.5 0 1 0 .1 0zM178.2 314.75a1.5 1.5 0 1 0 .1 0zM178.2 316.25a1.5 1.5 0 1 0 .1 0zM178.2 349.25a1.5 1.5 0 1 0 .1 0zM178.2 362.5a1.5 1.5 0 1 0 .1 0zM178.2 373.5a1.5 1.5 0 1 0 .1 0zM178.45 315.75a1.5 1.5 0 1 0 .1 0zM178.45 320a1.5 1.5 0 1 0 .1 0zM178.45 352a1.5 1.5 0 1 0 .1 0zM178.45 359.5a1.5 1.5 0 1 0 .1 0zM178.7 323.75a1.5 1.5 0 1 0 .1 0zM178.7 344.5a1.5 1.5 0 1 0 .1 0zM178.7 352.5a1.5 1.5 0 1 0 .1 0zM178.7 359.5a1.5 1.5 0 1 0 .1 0zM178.95 316.75a1.5 1.5 0 1 0 .1 0zM178.95 327.25a1.5 1.5 0 1 0 .1 0zM178.95 339.25a1.5 1.5 0 1 0 .1 0zM178.95 345.5a1.5 1.5 0 1 0 .1 0zM179.2 340a1.5 1.5 0 1 0 .1 0zM179.2 342a1.5 1.5 0 1 0 .1 0zM179.2 348.5a1.5 1.5 0 1 0 .1 0zM179.2 359.75a1.5 1.5 0 1 0 .1 0zM179.2 364a1.5 1.5 0 1 0 .1 0zM179.45 309.5a1.5 1.5 0 1 0 .1 0zM179.45 330a1.5 1.5 0 1 0 .1 0zM179.45 353.75a1.5 1.5 0 1 0 .1 0zM179.45 375a1.5 1.5 0 1 0 .1 0zM179.7 312.75a1.5 1.5 0 1 0 .1 0zM179.7 315a1.5 1.5 0 1 0 .1 0zM179.7 365.25a1.5 1.5 0 1 0 .1 0zM179.7 368a1.5 1.5 0 1 0 .1 0zM179.95 306.5a1.5 1.5 0 1 0 .1 0zM179.95 314a1.5 1.5 0 1 0 .1 0zM179.95 335.75a1.5 1.5 0 1 0 .1 0zM179.95 352.25a1.5 1.5 0 1 0 .1 0zM180.2 322.25a1.5 1.5 0 1 0 .1 0zM180.2 336a1.5 1.5 0 1 0 .1 0zM180.2 348.75a1.5 1.5 0 1 0 .1 0zM180.2 354a1.5 1.5 0 1 0 .1 0zM180.2 378.25a1.5 1.5 0 1 0 .1 0zM180.45 338a1.5 1.5 0 1 0 .1 0zM180.45 338.75a1.5 1.5 0 1 0 .1 0zM180.45 351.25a1.5 1.5 0 1 0 .1 0zM180.45 377a1.5 1.5 0 1 0 .1 0zM180.7 349a1.5 1.5 0 1 0 .1 0zM180.7 354a1.5 1.5 0 1 0 .1 0zM180.7 354.25a1.5 1.5 0 1 0 .1 0zM180.7 361a1.5 1.5 0 1 0 .1 0zM180.95 350.5a1.5 1.5 0 1 0 .1 0zM180.95 354.5a1.5 1.5 0 1 0 .1 0zM180.95 354.75a1.5 1.5 0 1 0 .1 0zM180.95 365a1.5 1.5 0 1 0 .1 0zM181.2 332.5a1.5 1.5 0 1 0 .1 0zM181.2 333.75a1.5 1.5 0 1 0 .1 0zM181.2 344.75a1.5 1.5 0 1 0 .1 0zM181.2 345.75a1.5 1.5 0 1 0 .1 0zM181.2 348.75a1.5 1.5 0 1 0 .1 0zM181.45 328.75a1.5 1.5 0 1 0 .1 0zM181.45 336.75a1.5 1.5 0 1 0 .1 0zM181.45 354.5a1.5 1.5 0 1 0 .1 0zM181.45 377a1.5 1.5 0 1 0 .1 0zM181.7 330.5a1.5 1.5 0 1 0 .1 0zM181.7 339.75a1.5 1.5 0 1 0 .1 0zM181.7 359.75a1.5 1.5 0 1 0 .1 0zM181.7 373.5a1.5 1.5 0 1 0 .1 0zM181.95 326.75a1.5 1.5 0 1 0 .1 0zM181.95 351.5a1.5 1.5 0 1 0 .1 0zM181.95 381.75a1.5 1.5 0 1 0 .1 0zM181.95 384.25a1.5 1.5 0 1 0 .1 0zM182.2 337.5a1.5 1.5 0 1 0 .1 0zM182.2 344.25a1.5 1.5 0 1 0 .1 0zM182.2 349.5a1.5 1.5 0 1 0 .1 0zM182.2 351.25a1.5 1.5 0 1 0 .1 0zM182.2 366.5a1.5 1.5 0 1 0 .1 0zM182.45 328.25a1.5 1.5 0 1 0 .1 0zM182.45 330.25a1.5 1.5 0 1 0 .1 0zM182.45 344a1.5 1.5 0 1 0 .1 0zM182.45 351.5a1.5 1.5 0 1 0 .1 0zM182.7 354.25a1.5 1.5 0 1 0 .1 0zM182.7 354.75a1.5 1.5 0 1 0 .1 0zM182.7 371.5a1.5 1.5 0 1 0 .1 0zM182.7 382.5a1.5 1.5 0 1 0 .1 0zM182.95 353a1.5 1.5 0 1 0 .1 0zM182.95 373a1.5 1.5 0 1 0 .1 0zM182.95 386a1.5 1.5 0 1 0 .1 0zM183.2 332.5a1.5 1.5 0 1 0 .1 0zM183.2 336.5a1.5 1.5 0 1 0 .1 0zM183.2 365.25a1.5 1.5 0 1 0 .1 0zM183.2 367.5a1.5 1.5 0 1 0 .1 0zM183.2 384a1.5 1.5 0 1 0 .1 0zM183.45 354.25a1.5 1.5 0 1 0 .1 0zM183.45 359.5a1.5 1.5 0 1 0 .1 0zM183.45 364.75a1.5 1.5 0 1 0 .1 0zM183.45 376.5a1.5 1.5 0 1 0 .1 0zM183.7 351.25a1.5 1.5 0 1 0 .1 0zM183.7 356a1.5 1.5 0 1 0 .1 0zM183.7 362a1.5 1.5 0 1 0 .1 0zM183.7 363a1.5 1.5 0 1 0 .1 0zM183.95 342.25a1.5 1.5 0 1 0 .1 0zM183.95 342.5a1.5 1.5 0 1 0 .1 0zM183.95 367a1.5 1.5 0 1 0 .1 0zM183.95 384a1.5 1.5 0 1 0 .1 0zM184.2 334a1.5 1.5 0 1 0 .1 0zM184.2 335.5a1.5 1.5 0 1 0 .1 0zM184.2 350.25a1.5 1.5 0 1 0 .1 0zM184.2 354a1.5 1.5 0 1 0 .1 0zM184.2 376.25a1.5 1.5 0 1 0 .1 0zM184.45 322.25a1.5 1.5 0 1 0 .1 0zM184.45 335.5a1.5 1.5 0 1 0 .1 0zM184.45 338a1.5 1.5 0 1 0 .1 0zM184.45 363.25a1.5 1.5 0 1 0 .1 0zM184.7 344.5a1.5 1.5 0 1 0 .1 0zM184.7 355.25a1.5 1.5 0 1 0 .1 0zM184.7 359.25a1.5 1.5 0 1 0 .1 0zM184.7 381a1.5 1.5 0 1 0 .1 0zM184.95 328a1.5 1.5 0 1 0 .1 0zM184.95 362a1.5 1.5 0 1 0 .1 0zM184.95 363a1.5 1.5 0 1 0 .1 0zM184.95 371.5a1.5 1.5 0 1 0 .1 0zM185.2 330.25a1.5 1.5 0 1 0 .1 0zM185.2 332.25a1.5 1.5 0 1 0 .1 0zM185.2 340.5a1.5 1.5 0 1 0 .1 0zM185.2 365a1.5 1.5 0 1 0 .1 0zM185.2 373.75a1.5 1.5 0 1 0 .1 0zM185.45 327.75a1.5 1.5 0 1 0 .1 0zM185.45 333.5a1.5 1.5 0 1 0 .1 0zM185.45 336.25a1.5 1.5 0 1 0 .1 0zM185.45 351.25a1.5 1.5 0 1 0 .1 0zM185.7 362.5a1.5 1.5 0 1 0 .1 0zM185.7 371.25a1.5 1.5 0 1 0 .1 0zM185.7 378a1.5 1.5 0 1 0 .1 0zM185.7 379.5a1.5 1.5 0 1 0 .1 0zM185.95 355a1.5 1.5 0 1 0 .1 0zM185.95 367.75a1.5 1.5 0 1 0 .1 0zM185.95 372.75a1.5 1.5 0 1 0 .1 0zM185.95 374.25a1.5 1.5 0 1 0 .1 0zM186.2 357.25a1.5 1.5 0 1 0 .1 0zM186.2 364a1.5 1.5 0 1 0 .1 0zM186.2 374.75a1.5 1.5 0 1 0 .1 0zM186.2 375.25a1.5 1.5 0 1 0 .1 0zM186.2 377.5a1.5 1.5 0 1 0 .1 0zM186.45 351a1.5 1.5 0 1 0 .1 0zM186.45 352.25a1.5 1.5 0 1 0 .1 0zM186.45 374a1.5 1.5 0 1 0 .1 0zM186.45 378.5a1.5 1.5 0 1 0 .1 0zM186.7 324.75a1.5 1.5 0 1 0 .1 0zM186.7 348.5a1.5 1.5 0 1 0 .1 0zM186.7 389a1.5 1.5 0 1 0 .1 0zM186.7 394a1.5 1.5 0 1 0 .1 0zM186.95 327.5a1.5 1.5 0 1 0 .1 0zM186.95 343.75a1.5 1.5 0 1 0 .1 0zM186.95 359.75a1.5 1.5 0 1 0 .1 0zM186.95 396.25a1.5 1.5 0 1 0 .1 0zM187.2 341a1.5 1.5 0 1 0 .1 0zM187.2 359.25a1.5 1.5 0 1 0 .1 0zM187.2 366a1.5 1.5 0 1 0 .1 0zM187.2 367.25a1.5 1.5 0 1 0 .1 0zM187.2 383a1.5 1.5 0 1 0 .1 0zM187.45 343.75a1.5 1.5 0 1 0 .1 0zM187.45 348.5a1.5 1.5 0 1 0 .1 0zM187.45 362a1.5 1.5 0 1 0 .1 0zM187.45 397a1.5 1.5 0 1 0 .1 0zM187.7 337.25a1.5 1.5 0 1 0 .1 0zM187.7 350.75a1.5 1.5 0 1 0 .1 0zM187.7 354.5a1.5 1.5 0 1 0 .1 0zM187.7 358a1.5 1.5 0 1 0 .1 0zM187.95 322.5a1.5 1.5 0 1 0 .1 0zM187.95 339.75a1.5 1.5 0 1 0 .1 0zM187.95 352.5a1.5 1.5 0 1 0 .1 0zM187.95 358.25a1.5 1.5 0 1 0 .1 0zM187.95 396.5a1.5 1.5 0 1 0 .1 0zM188.2 372.75a1.5 1.5 0 1 0 .1 0zM188.2 375a1.5 1.5 0 1 0 .1 0zM188.2 381.25a1.5 1.5 0 1 0 .1 0zM188.2 392a1.5 1.5 0 1 0 .1 0zM188.45 343.25a1.5 1.5 0 1 0 .1 0zM188.45 359a1.5 1.5 0 1 0 .1 0zM188.45 368.5a1.5 1.5 0 1 0 .1 0zM188.45 373.25a1.5 1.5 0 1 0 .1 0zM188.7 351.5a1.5 1.5 0 1 0 .1 0zM188.7 360.5a1.5 1.5 0 1 0 .1 0zM188.7 377.25a1.5 1.5 0 1 0 .1 0zM188.7 385.5a1.5 1.5 0 1 0 .1 0zM188.95 333.25a1.5 1.5 0 1 0 .1 0zM188.95 337.25a1.5 1.5 0 1 0 .1 0zM188.95 363.75a1.5 1.5 0 1 0 .1 0zM188.95 376.25a1.5 1.5 0 1 0 .1 0zM188.95 382.5a1.5 1.5 0 1 0 .1 0zM189.2 342.75a1.5 1.5 0 1 0 .1 0zM189.2 344.25a1.5 1.5 0 1 0 .1 0zM189.2 345.75a1.5 1.5 0 1 0 .1 0zM189.2 380.75a1.5 1.5 0 1 0 .1 0zM189.45 361a1.5 1.5 0 1 0 .1 0zM189.45 376a1.5 1.5 0 1 0 .1 0zM189.45 381.75a1.5 1.5 0 1 0 .1 0zM189.45 386.5a1.5 1.5 0 1 0 .1 0zM189.7 356a1.5 1.5 0 1 0 .1 0zM189.7 375a1.5 1.5 0 1 0 .1 0zM189.7 381a1.5 1.5 0 1 0 .1 0zM189.7 382.5a1.5 1.5 0 1 0 .1 0zM189.95 364.25a1.5 1.5 0 1 0 .1 0zM189.95 364.5a1.5 1.5 0 1 0 .1 0zM189.95 385.25a1.5 1.5 0 1 0 .1 0zM189.95 388.75a1.5 1.5 0 1 0 .1 0zM189.95 394.5a1.5 1.5 0 1 0 .1 0zM190.2 346.25a1.5 1.5 0 1 0 .1 0zM190.2 346.5a1.5 1.5 0 1 0 .1 0zM190.2 353.75a1.5 1.5 0 1 0 .1 0zM190.2 365.75a1.5 1.5 0 1 0 .1 0zM190.45 334.25a1.5 1.5 0 1 0 .1 0zM190.45 364.5a1.5 1.5 0 1 0 .1 0zM190.45 381a1.5 1.5 0 1 0 .1 0zM190.45 391a1.5 1.5 0 1 0 .1 0zM190.7 364.5a1.5 1.5 0 1 0 .1 0zM190.7 370.75a1.5 1.5 0 1 0 .1 0zM190.7 386a1.5 1.5 0 1 0 .1 0zM190.7 388.5a1.5 1.5 0 1 0 .1 0zM190.95 379.75a1.5 1.5 0 1 0 .1 0zM190.95 393.75a1.5 1.5 0 1 0 .1 0zM190.95 395.75a1.5 1.5 0 1 0 .1 0zM190.95 397.75a1.5 1.5 0 1 0 .1 0zM190.95 402.75a1.5 1.5 0 1 0 .1 0zM191.2 333.75a1.5 1.5 0 1 0 .1 0zM191.2 355.75a1.5 1.5 0 1 0 .1 0zM191.2 383.75a1.5 1.5 0 1 0 .1 0zM191.2 403a1.5 1.5 0 1 0 .1 0zM191.45 336a1.5 1.5 0 1 0 .1 0zM191.45 362.75a1.5 1.5 0 1 0 .1 0zM191.45 367.75a1.5 1.5 0 1 0 .1 0zM191.45 386a1.5 1.5 0 1 0 .1 0zM191.7 339.25a1.5 1.5 0 1 0 .1 0zM191.7 354.5a1.5 1.5 0 1 0 .1 0zM191.7 365.25a1.5 1.5 0 1 0 .1 0zM191.7 384a1.5 1.5 0 1 0 .1 0zM191.95 344a1.5 1.5 0 1 0 .1 0zM191.95 363.25a1.5 1.5 0 1 0 .1 0zM191.95 388.5a1.5 1.5 0 1 0 .1 0zM191.95 392a1.5 1.5 0 1 0 .1 0zM191.95 393.75a1.5 1.5 0 1 0 .1 0zM192.2 340.5a1.5 1.5 0 1 0 .1 0zM192.2 377a1.5 1.5 0 1 0 .1 0zM192.2 384a1.5 1.5 0 1 0 .1 0zM192.2 392a1.5 1.5 0 1 0 .1 0zM192.45 338.75a1.5 1.5 0 1 0 .1 0zM192.45 362.25a1.5 1.5 0 1 0 .1 0zM192.45 369.75a1.5 1.5 0 1 0 .1 0zM192.45 384.25a1.5 1.5 0 1 0 .1 0zM192.7 349a1.5 1.5 0 1 0 .1 0zM192.7 350.75a1.5 1.5 0 1 0 .1 0zM192.7 355.75a1.5 1.5 0 1 0 .1 0zM192.7 367.5a1.5 1.5 0 1 0 .1 0zM192.95 357.75a1.5 1.5 0 1 0 .1 0zM192.95 363.5a1.5 1.5 0 1 0 .1 0zM192.95 364.5a1.5 1.5 0 1 0 .1 0zM192.95 371.5a1.5 1.5 0 1 0 .1 0zM192.95 382.5a1.5 1.5 0 1 0 .1 0zM193.2 352a1.5 1.5 0 1 0 .1 0zM193.2 366.25a1.5 1.5 0 1 0 .1 0zM193.2 370.75a1.5 1.5 0 1 0 .1 0zM193.2 378.5a1.5 1.5 0 1 0 .1 0zM193.45 339a1.5 1.5 0 1 0 .1 0zM193.45 356.75a1.5 1.5 0 1 0 .1 0zM193.45 360a1.5 1.5 0 1 0 .1 0zM193.45 374.75a1.5 1.5 0 1 0 .1 0zM193.7 364.25a1.5 1.5 0 1 0 .1 0zM193.7 370.75a1.5 1.5 0 1 0 .1 0zM193.7 378a1.5 1.5 0 1 0 .1 0zM193.7 380.25a1.5 1.5 0 1 0 .1 0zM193.95 344a1.5 1.5 0 1 0 .1 0zM193.95 364a1.5 1.5 0 1 0 .1 0zM193.95 368a1.5 1.5 0 1 0 .1 0zM193.95 371a1.5 1.5 0 1 0 .1 0zM193.95 372a1.5 1.5 0 1 0 .1 0zM194.2 337.75a1.5 1.5 0 1 0 .1 0zM194.2 344.25a1.5 1.5 0 1 0 .1 0zM194.2 373.5a1.5 1.5 0 1 0 .1 0zM194.2 383.75a1.5 1.5 0 1 0 .1 0zM194.45 312.5a1.5 1.5 0 1 0 .1 0zM194.45 349.75a1.5 1.5 0 1 0 .1 0zM194.45 358.75a1.5 1.5 0 1 0 .1 0zM194.45 372.75a1.5 1.5 0 1 0 .1 0zM194.7 323.25a1.5 1.5 0 1 0 .1 0zM194.7 348.5a1.5 1.5 0 1 0 .1 0zM194.7 351.5a1.5 1.5 0 1 0 .1 0zM194.7 368.75a1.5 1.5 0 1 0 .1 0zM194.95 317a1.5 1.5 0 1 0 .1 0zM194.95 327a1.5 1.5 0 1 0 .1 0zM194.95 343a1.5 1.5 0 1 0 .1 0zM194.95 346a1.5 1.5 0 1 0 .1 0zM194.95 364.75a1.5 1.5 0 1 0 .1 0zM195.2 311.25a1.5 1.5 0 1 0 .1 0zM195.2 353a1.5 1.5 0 1 0 .1 0zM195.2 356.25a1.5 1.5 0 1 0 .1 0zM195.2 361.5a1.5 1.5 0 1 0 .1 0zM195.45 297.5a1.5 1.5 0 1 0 .1 0zM195.45 324.5a1.5 1.5 0 1 0 .1 0zM195.45 335a1.5 1.5 0 1 0 .1 0zM195.45 348.75a1.5 1.5 0 1 0 .1 0zM195.7 308.75a1.5 1.5 0 1 0 .1 0zM195.7 313.75a1.5 1.5 0 1 0 .1 0zM195.7 319.5a1.5 1.5 0 1 0 .1 0zM195.7 358a1.5 1.5 0 1 0 .1 0zM195.95 273.5a1.5 1.5 0 1 0 .1 0zM195.95 277.75a1.5 1.5 0 1 0 .1 0zM195.95 301.5a1.5 1.5 0 1 0 .1 0zM195.95 301.75a1.5 1.5 0 1 0 .1 0zM195.95 308.75a1.5 1.5 0 1 0 .1 0zM196.2 279.25a1.5 1.5 0 1 0 .1 0zM196.2 292a1.5 1.5 0 1 0 .1 0zM196.2 303.5a1.5 1.5 0 1 0 .1 0zM196.2 317.75a1.5 1.5 0 1 0 .1 0zM196.45 284.25a1.5 1.5 0 1 0 .1 0zM196.45 297a1.5 1.5 0 1 0 .1 0zM196.45 310.25a1.5 1.5 0 1 0 .1 0zM196.45 319.5a1.5 1.5 0 1 0 .1 0zM196.7 296.75a1.5 1.5 0 1 0 .1 0zM196.7 309.25a1.5 1.5 0 1 0 .1 0zM196.7 310.5a1.5 1.5 0 1 0 .1 0zM196.7 324.5a1.5 1.5 0 1 0 .1 0zM196.95 282a1.5 1.5 0 1 0 .1 0zM196.95 282.25a1.5 1.5 0 1 0 .1 0zM196.95 313.75a1.5 1.5 0 1 0 .1 0zM196.95 317.75a1.5 1.5 0 1 0 .1 0zM196.95 321a1.5 1.5 0 1 0 .1 0zM197.2 280a1.5 1.5 0 1 0 .1 0zM197.2 313.25a1.5 1.5 0 1 0 .1 0zM197.2 319.5a1.5 1.5 0 1 0 .1 0zM197.2 324.75a1.5 1.5 0 1 0 .1 0zM197.45 221.5a1.5 1.5 0 1 0 .1 0zM197.45 306.25a1.5 1.5 0 1 0 .1 0zM197.45 320.75a1.5 1.5 0 1 0 .1 0zM197.45 330.75a1.5 1.5 0 1 0 .1 0zM197.7 296.25a1.5 1.5 0 1 0 .1 0zM197.7 331.25a1.5 1.5 0 1 0 .1 0zM197.7 331.5a1.5 1.5 0 1 0 .1 0zM197.7 334.75a1.5 1.5 0 1 0 .1 0zM197.95 302.75a1.5 1.5 0 1 0 .1 0zM197.95 304.5a1.5 1.5 0 1 0 .1 0zM197.95 312a1.5 1.5 0 1 0 .1 0zM197.95 317.75a1.5 1.5 0 1 0 .1 0zM197.95 325a1.5 1.5 0 1 0 .1 0zM198.2 239a1.5 1.5 0 1 0 .1 0zM198.2 294.5a1.5 1.5 0 1 0 .1 0zM198.2 303.5a1.5 1.5 0 1 0 .1 0zM198.2 314.5a1.5 1.5 0 1 0 .1 0zM198.2 320.5a1.5 1.5 0 1 0 .1 0zM198.45 220a1.5 1.5 0 1 0 .1 0zM198.45 233a1.5 1.5 0 1 0 .1 0zM198.45 340a1.5 1.5 0 1 0 .1 0zM198.45 344.5a1.5 1.5 0 1 0 .1 0zM198.45 353a1.5 1.5 0 1 0 .1 0zM198.7 283.5a1.5 1.5 0 1 0 .1 0zM198.7 326.5a1.5 1.5 0 1 0 .1 0zM198.7 334.5a1.5 1.5 0 1 0 .1 0zM198.7 343.75a1.5 1.5 0 1 0 .1 0zM198.95 283.25a1.5 1.5 0 1 0 .1 0zM198.95 291.5a1.5 1.5 0 1 0 .1 0zM198.95 341.5a1.5 1.5 0 1 0 .1 0zM198.95 376.5a1.5 1.5 0 1 0 .1 0zM198.95 391.5a1.5 1.5 0 1 0 .1 0zM199.2 321.75a1.5 1.5 0 1 0 .1 0zM199.2 342a1.5 1.5 0 1 0 .1 0zM199.2 362a1.5 1.5 0 1 0 .1 0zM199.2 374.5a1.5 1.5 0 1 0 .1 0zM199.45 336a1.5 1.5 0 1 0 .1 0zM199.45 337.5a1.5 1.5 0 1 0 .1 0zM199.45 343a1.5 1.5 0 1 0 .1 0zM199.45 366a1.5 1.5 0 1 0 .1 0zM199.45 418.75a1.5 1.5 0 1 0 .1 0zM199.7 334.5a1.5 1.5 0 1 0 .1 0zM199.7 360a1.5 1.5 0 1 0 .1 0zM199.7 365.5a1.5 1.5 0 1 0 .1 0zM199.7 372.5a1.5 1.5 0 1 0 .1 0zM199.95 347a1.5 1.5 0 1 0 .1 0zM199.95 364a1.5 1.5 0 1 0 .1 0zM199.95 372.75a1.5 1.5 0 1 0 .1 0zM199.95 374.75a1.5 1.5 0 1 0 .1 0zM199.95 400.75a1.5 1.5 0 1 0 .1 0zM200.2 363.5a1.5 1.5 0 1 0 .1 0zM200.2 368.5a1.5 1.5 0 1 0 .1 0zM200.2 371a1.5 1.5 0 1 0 .1 0zM200.2 403.25a1.5 1.5 0 1 0 .1 0zM200.45 367.25a1.5 1.5 0 1 0 .1 0zM200.45 391a1.5 1.5 0 1 0 .1 0zM200.45 391.25a1.5 1.5 0 1 0 .1 0zM200.45 405a1.5 1.5 0 1 0 .1 0zM200.7 366.75a1.5 1.5 0 1 0 .1 0zM200.7 384.5a1.5 1.5 0 1 0 .1 0zM200.7 385.75a1.5 1.5 0 1 0 .1 0zM200.7 390a1.5 1.5 0 1 0 .1 0zM200.7 425.5a1.5 1.5 0 1 0 .1 0zM200.95 354.75a1.5 1.5 0 1 0 .1 0zM200.95 382a1.5 1.5 0 1 0 .1 0zM200.95 386.5a1.5 1.5 0 1 0 .1 0zM200.95 401.75a1.5 1.5 0 1 0 .1 0zM200.95 407a1.5 1.5 0 1 0 .1 0zM201.2 353.75a1.5 1.5 0 1 0 .1 0zM201.2 381a1.5 1.5 0 1 0 .1 0zM201.2 386a1.5 1.5 0 1 0 .1 0zM201.2 397.5a1.5 1.5 0 1 0 .1 0zM201.45 379.5a1.5 1.5 0 1 0 .1 0zM201.45 387a1.5 1.5 0 1 0 .1 0zM201.45 393.25a1.5 1.5 0 1 0 .1 0zM201.45 403.75a1.5 1.5 0 1 0 .1 0zM201.7 363.25a1.5 1.5 0 1 0 .1 0zM201.7 364.25a1.5 1.5 0 1 0 .1 0zM201.7 377.25a1.5 1.5 0 1 0 .1 0zM201.7 389.5a1.5 1.5 0 1 0 .1 0zM201.95 367a1.5 1.5 0 1 0 .1 0zM201.95 375.5a1.5 1.5 0 1 0 .1 0zM201.95 396.75a1.5 1.5 0 1 0 .1 0zM201.95 398.75a1.5 1.5 0 1 0 .1 0zM201.95 402.25a1.5 1.5 0 1 0 .1 0zM202.2 371.5a1.5 1.5 0 1 0 .1 0zM202.2 373a1.5 1.5 0 1 0 .1 0zM202.2 376.25a1.5 1.5 0 1 0 .1 0zM202.2 381.25a1.5 1.5 0 1 0 .1 0zM202.45 366.25a1.5 1.5 0 1 0 .1 0zM202.45 388.75a1.5 1.5 0 1 0 .1 0zM202.45 392.5a1.5 1.5 0 1 0 .1 0zM202.45 407.25a1.5 1.5 0 1 0 .1 0zM202.7 370.25a1.5 1.5 0 1 0 .1 0zM202.7 371.25a1.5 1.5 0 1 0 .1 0zM202.7 374.75a1.5 1.5 0 1 0 .1 0zM202.7 381.5a1.5 1.5 0 1 0 .1 0zM202.95 368a1.5 1.5 0 1 0 .1 0zM202.95 374.25a1.5 1.5 0 1 0 .1 0zM202.95 393.75a1.5 1.5 0 1 0 .1 0zM202.95 396a1.5 1.5 0 1 0 .1 0zM202.95 396.25a1.5 1.5 0 1 0 .1 0zM203.2 378.5a1.5 1.5 0 1 0 .1 0zM203.2 394.75a1.5 1.5 0 1 0 .1 0zM203.2 396.75a1.5 1.5 0 1 0 .1 0zM203.2 399.25a1.5 1.5 0 1 0 .1 0zM203.45 362.5a1.5 1.5 0 1 0 .1 0zM203.45 365.5a1.5 1.5 0 1 0 .1 0zM203.45 395.75a1.5 1.5 0 1 0 .1 0zM203.45 397a1.5 1.5 0 1 0 .1 0zM203.7 361.75a1.5 1.5 0 1 0 .1 0zM203.7 368a1.5 1.5 0 1 0 .1 0zM203.7 384.25a1.5 1.5 0 1 0 .1 0zM203.7 386.5a1.5 1.5 0 1 0 .1 0zM203.95 359.75a1.5 1.5 0 1 0 .1 0zM203.95 372.75a1.5 1.5 0 1 0 .1 0zM203.95 379a1.5 1.5 0 1 0 .1 0zM203.95 387.5a1.5 1.5 0 1 0 .1 0zM203.95 399a1.5 1.5 0 1 0 .1 0zM204.2 358.75a1.5 1.5 0 1 0 .1 0zM204.2 361.75a1.5 1.5 0 1 0 .1 0zM204.2 364.25a1.5 1.5 0 1 0 .1 0zM204.2 395a1.5 1.5 0 1 0 .1 0zM204.45 382.5a1.5 1.5 0 1 0 .1 0zM204.45 383a1.5 1.5 0 1 0 .1 0zM204.45 396.75a1.5 1.5 0 1 0 .1 0zM204.45 401.25a1.5 1.5 0 1 0 .1 0zM204.7 365.5a1.5 1.5 0 1 0 .1 0zM204.7 369.75a1.5 1.5 0 1 0 .1 0zM204.7 379.5a1.5 1.5 0 1 0 .1 0zM204.7 384.75a1.5 1.5 0 1 0 .1 0zM204.95 352.75a1.5 1.5 0 1 0 .1 0zM204.95 369.25a1.5 1.5 0 1 0 .1 0zM204.95 371a1.5 1.5 0 1 0 .1 0zM204.95 380.5a1.5 1.5 0 1 0 .1 0zM204.95 391a1.5 1.5 0 1 0 .1 0zM205.2 356a1.5 1.5 0 1 0 .1 0zM205.2 358a1.5 1.5 0 1 0 .1 0zM205.2 363a1.5 1.5 0 1 0 .1 0zM205.2 365.25a1.5 1.5 0 1 0 .1 0zM205.45 368.5a1.5 1.5 0 1 0 .1 0zM205.45 374a1.5 1.5 0 1 0 .1 0zM205.45 392.75a1.5 1.5 0 1 0 .1 0zM205.45 401a1.5 1.5 0 1 0 .1 0zM205.7 343.25a1.5 1.5 0 1 0 .1 0zM205.7 348.75a1.5 1.5 0 1 0 .1 0zM205.7 359a1.5 1.5 0 1 0 .1 0zM205.7 380.75a1.5 1.5 0 1 0 .1 0zM205.95 357.25a1.5 1.5 0 1 0 .1 0zM205.95 359.75a1.5 1.5 0 1 0 .1 0zM205.95 369.5a1.5 1.5 0 1 0 .1 0zM205.95 398.75a1.5 1.5 0 1 0 .1 0zM206.2 370a1.5 1.5 0 1 0 .1 0zM206.2 392.25a1.5 1.5 0 1 0 .1 0zM206.2 402.75a1.5 1.5 0 1 0 .1 0zM206.2 405.5a1.5 1.5 0 1 0 .1 0zM206.2 418.75a1.5 1.5 0 1 0 .1 0zM206.45 371.5a1.5 1.5 0 1 0 .1 0zM206.45 388.75a1.5 1.5 0 1 0 .1 0zM206.45 390.25a1.5 1.5 0 1 0 .1 0zM206.45 391.75a1.5 1.5 0 1 0 .1 0zM206.7 366.25a1.5 1.5 0 1 0 .1 0zM206.7 371.5a1.5 1.5 0 1 0 .1 0zM206.7 385.75a1.5 1.5 0 1 0 .1 0zM206.95 355.25a1.5 1.5 0 1 0 .1 0zM206.95 368.75a1.5 1.5 0 1 0 .1 0zM206.95 386.75a1.5 1.5 0 1 0 .1 0zM206.95 395.5a1.5 1.5 0 1 0 .1 0zM206.95 407.5a1.5 1.5 0 1 0 .1 0zM207.2 358a1.5 1.5 0 1 0 .1 0zM207.2 373.5a1.5 1.5 0 1 0 .1 0zM207.2 384.75a1.5 1.5 0 1 0 .1 0zM207.2 403.5a1.5 1.5 0 1 0 .1 0zM207.45 360.75a1.5 1.5 0 1 0 .1 0zM207.45 389.5a1.5 1.5 0 1 0 .1 0zM207.45 395a1.5 1.5 0 1 0 .1 0zM207.45 407a1.5 1.5 0 1 0 .1 0zM207.7 370.5a1.5 1.5 0 1 0 .1 0zM207.7 377a1.5 1.5 0 1 0 .1 0zM207.7 379.75a1.5 1.5 0 1 0 .1 0zM207.7 395.75a1.5 1.5 0 1 0 .1 0zM207.95 368a1.5 1.5 0 1 0 .1 0zM207.95 370.5a1.5 1.5 0 1 0 .1 0zM207.95 371.5a1.5 1.5 0 1 0 .1 0zM207.95 382.5a1.5 1.5 0 1 0 .1 0zM208.2 353.25a1.5 1.5 0 1 0 .1 0zM208.2 361a1.5 1.5 0 1 0 .1 0zM208.2 379.75a1.5 1.5 0 1 0 .1 0zM208.2 383a1.5 1.5 0 1 0 .1 0zM208.45 375a1.5 1.5 0 1 0 .1 0zM208.45 391a1.5 1.5 0 1 0 .1 0zM208.45 393.25a1.5 1.5 0 1 0 .1 0zM208.45 398a1.5 1.5 0 1 0 .1 0zM208.7 353.5a1.5 1.5 0 1 0 .1 0zM208.7 365.5a1.5 1.5 0 1 0 .1 0zM208.7 368a1.5 1.5 0 1 0 .1 0zM208.7 390.25a1.5 1.5 0 1 0 .1 0zM208.95 353a1.5 1.5 0 1 0 .1 0zM208.95 361.5a1.5 1.5 0 1 0 .1 0zM208.95 367.5a1.5 1.5 0 1 0 .1 0zM208.95 371.25a1.5 1.5 0 1 0 .1 0zM208.95 379.5a1.5 1.5 0 1 0 .1 0zM209.2 354a1.5 1.5 0 1 0 .1 0zM209.2 354.25a1.5 1.5 0 1 0 .1 0zM209.2 366a1.5 1.5 0 1 0 .1 0zM209.2 366.25a1.5 1.5 0 1 0 .1 0zM209.45 358.25a1.5 1.5 0 1 0 .1 0zM209.45 370a1.5 1.5 0 1 0 .1 0zM209.45 376.5a1.5 1.5 0 1 0 .1 0zM209.45 393a1.5 1.5 0 1 0 .1 0zM209.7 347.75a1.5 1.5 0 1 0 .1 0zM209.7 351a1.5 1.5 0 1 0 .1 0zM209.7 354a1.5 1.5 0 1 0 .1 0zM209.7 370.75a1.5 1.5 0 1 0 .1 0zM209.95 365.25a1.5 1.5 0 1 0 .1 0zM209.95 372.5a1.5 1.5 0 1 0 .1 0zM209.95 374.25a1.5 1.5 0 1 0 .1 0zM209.95 379.25a1.5 1.5 0 1 0 .1 0zM209.95 383.25a1.5 1.5 0 1 0 .1 0zM210.2 369a1.5 1.5 0 1 0 .1 0zM210.2 375a1.5 1.5 0 1 0 .1 0zM210.2 384.5a1.5 1.5 0 1 0 .1 0zM210.45 338.25a1.5 1.5 0 1 0 .1 0zM210.45 350a1.5 1.5 0 1 0 .1 0zM210.45 362.75a1.5 1.5 0 1 0 .1 0zM210.45 373.5a1.5 1.5 0 1 0 .1 0zM210.7 355.25a1.5 1.5 0 1 0 .1 0zM210.7 370a1.5 1.5 0 1 0 .1 0zM210.7 377.5a1.5 1.5 0 1 0 .1 0zM210.7 389.25a1.5 1.5 0 1 0 .1 0zM210.95 353.5a1.5 1.5 0 1 0 .1 0zM210.95 364.25a1.5 1.5 0 1 0 .1 0zM210.95 365.5a1.5 1.5 0 1 0 .1 0zM210.95 378.25a1.5 1.5 0 1 0 .1 0zM210.95 388a1.5 1.5 0 1 0 .1 0zM211.2 353.5a1.5 1.5 0 1 0 .1 0zM211.2 356.5a1.5 1.5 0 1 0 .1 0zM211.2 358a1.5 1.5 0 1 0 .1 0zM211.2 361.5a1.5 1.5 0 1 0 .1 0zM211.45 352.75a1.5 1.5 0 1 0 .1 0zM211.45 361.25a1.5 1.5 0 1 0 .1 0zM211.45 367.5a1.5 1.5 0 1 0 .1 0zM211.45 382.75a1.5 1.5 0 1 0 .1 0zM211.7 352.5a1.5 1.5 0 1 0 .1 0zM211.7 352.75a1.5 1.5 0 1 0 .1 0zM211.7 357a1.5 1.5 0 1 0 .1 0zM211.7 366.5a1.5 1.5 0 1 0 .1 0zM211.95 341.5a1.5 1.5 0 1 0 .1 0zM211.95 348a1.5 1.5 0 1 0 .1 0zM211.95 373.75a1.5 1.5 0 1 0 .1 0zM211.95 378.75a1.5 1.5 0 1 0 .1 0zM211.95 382a1.5 1.5 0 1 0 .1 0zM212.2 348.75a1.5 1.5 0 1 0 .1 0zM212.2 351.5a1.5 1.5 0 1 0 .1 0zM212.2 364a1.5 1.5 0 1 0 .1 0zM212.2 385.25a1.5 1.5 0 1 0 .1 0zM212.45 369a1.5 1.5 0 1 0 .1 0zM212.45 369.25a1.5 1.5 0 1 0 .1 0zM212.45 370.25a1.5 1.5 0 1 0 .1 0zM212.45 374.5a1.5 1.5 0 1 0 .1 0zM212.7 343.25a1.5 1.5 0 1 0 .1 0zM212.7 354.5a1.5 1.5 0 1 0 .1 0zM212.7 358.5a1.5 1.5 0 1 0 .1 0zM212.7 393a1.5 1.5 0 1 0 .1 0zM212.95 371.5a1.5 1.5 0 1 0 .1 0zM212.95 373.5a1.5 1.5 0 1 0 .1 0zM212.95 376a1.5 1.5 0 1 0 .1 0zM212.95 378.75a1.5 1.5 0 1 0 .1 0zM212.95 384.25a1.5 1.5 0 1 0 .1 0zM213.2 370.25a1.5 1.5 0 1 0 .1 0zM213.2 375.5a1.5 1.5 0 1 0 .1 0zM213.2 376a1.5 1.5 0 1 0 .1 0zM213.2 390.25a1.5 1.5 0 1 0 .1 0zM213.45 356.5a1.5 1.5 0 1 0 .1 0zM213.45 360.5a1.5 1.5 0 1 0 .1 0zM213.45 378.75a1.5 1.5 0 1 0 .1 0zM213.45 385a1.5 1.5 0 1 0 .1 0zM213.7 350.25a1.5 1.5 0 1 0 .1 0zM213.7 375.75a1.5 1.5 0 1 0 .1 0zM213.7 376.75a1.5 1.5 0 1 0 .1 0zM213.7 391.75a1.5 1.5 0 1 0 .1 0zM213.95 349.75a1.5 1.5 0 1 0 .1 0zM213.95 351.75a1.5 1.5 0 1 0 .1 0zM213.95 356a1.5 1.5 0 1 0 .1 0zM213.95 365.25a1.5 1.5 0 1 0 .1 0zM213.95 366.5a1.5 1.5 0 1 0 .1 0zM214.2 364.5a1.5 1.5 0 1 0 .1 0zM214.2 373.25a1.5 1.5 0 1 0 .1 0zM214.2 381a1.5 1.5 0 1 0 .1 0zM214.2 386.25a1.5 1.5 0 1 0 .1 0zM214.45 365.25a1.5 1.5 0 1 0 .1 0zM214.45 366a1.5 1.5 0 1 0 .1 0zM214.45 374a1.5 1.5 0 1 0 .1 0zM214.45 391.25a1.5 1.5 0 1 0 .1 0zM214.7 359.25a1.5 1.5 0 1 0 .1 0zM214.7 360.25a1.5 1.5 0 1 0 .1 0zM214.7 361a1.5 1.5 0 1 0 .1 0zM214.7 362a1.5 1.5 0 1 0 .1 0zM214.7 376.5a1.5 1.5 0 1 0 .1 0zM214.95 361.25a1.5 1.5 0 1 0 .1 0zM214.95 364a1.5 1.5 0 1 0 .1 0zM214.95 379.75a1.5 1.5 0 1 0 .1 0zM214.95 393.25a1.5 1.5 0 1 0 .1 0zM215.2 354.5a1.5 1.5 0 1 0 .1 0zM215.2 361a1.5 1.5 0 1 0 .1 0zM215.2 362.25a1.5 1.5 0 1 0 .1 0zM215.2 367.25a1.5 1.5 0 1 0 .1 0zM215.45 354.75a1.5 1.5 0 1 0 .1 0zM215.45 365.25a1.5 1.5 0 1 0 .1 0zM215.45 369.25a1.5 1.5 0 1 0 .1 0zM215.45 387.75a1.5 1.5 0 1 0 .1 0zM215.7 358a1.5 1.5 0 1 0 .1 0zM215.7 367a1.5 1.5 0 1 0 .1 0zM215.7 374a1.5 1.5 0 1 0 .1 0zM215.7 376.75a1.5 1.5 0 1 0 .1 0zM215.7 386.75a1.5 1.5 0 1 0 .1 0zM215.95 347.5a1.5 1.5 0 1 0 .1 0zM215.95 370.5a1.5 1.5 0 1 0 .1 0zM215.95 383a1.5 1.5 0 1 0 .1 0zM215.95 386a1.5 1.5 0 1 0 .1 0zM216.2 366.25a1.5 1.5 0 1 0 .1 0zM216.2 372.5a1.5 1.5 0 1 0 .1 0zM216.2 383.5a1.5 1.5 0 1 0 .1 0zM216.2 393.25a1.5 1.5 0 1 0 .1 0zM216.45 366.25a1.5 1.5 0 1 0 .1 0zM216.45 371.25a1.5 1.5 0 1 0 .1 0zM216.45 372a1.5 1.5 0 1 0 .1 0zM216.45 375.5a1.5 1.5 0 1 0 .1 0zM216.7 354a1.5 1.5 0 1 0 .1 0zM216.7 365a1.5 1.5 0 1 0 .1 0zM216.7 368.25a1.5 1.5 0 1 0 .1 0zM216.7 382a1.5 1.5 0 1 0 .1 0zM216.7 394a1.5 1.5 0 1 0 .1 0zM216.95 364a1.5 1.5 0 1 0 .1 0zM216.95 366.75a1.5 1.5 0 1 0 .1 0zM216.95 381.75a1.5 1.5 0 1 0 .1 0zM216.95 385.5a1.5 1.5 0 1 0 .1 0zM217.2 345.25a1.5 1.5 0 1 0 .1 0zM217.2 370a1.5 1.5 0 1 0 .1 0zM217.2 371.75a1.5 1.5 0 1 0 .1 0zM217.2 377a1.5 1.5 0 1 0 .1 0zM217.45 350a1.5 1.5 0 1 0 .1 0zM217.45 381.75a1.5 1.5 0 1 0 .1 0zM217.45 394.25a1.5 1.5 0 1 0 .1 0zM217.45 404.5a1.5 1.5 0 1 0 .1 0zM217.7 348.5a1.5 1.5 0 1 0 .1 0zM217.7 356.5a1.5 1.5 0 1 0 .1 0zM217.7 359.75a1.5 1.5 0 1 0 .1 0zM217.7 365.25a1.5 1.5 0 1 0 .1 0zM217.7 373a1.5 1.5 0 1 0 .1 0zM217.95 370a1.5 1.5 0 1 0 .1 0zM217.95 371a1.5 1.5 0 1 0 .1 0zM217.95 374a1.5 1.5 0 1 0 .1 0zM217.95 386.5a1.5 1.5 0 1 0 .1 0zM218.2 361.5a1.5 1.5 0 1 0 .1 0zM218.2 364a1.5 1.5 0 1 0 .1 0zM218.2 367.25a1.5 1.5 0 1 0 .1 0zM218.2 373.75a1.5 1.5 0 1 0 .1 0zM218.45 363a1.5 1.5 0 1 0 .1 0zM218.45 377.75a1.5 1.5 0 1 0 .1 0zM218.45 379.25a1.5 1.5 0 1 0 .1 0zM218.45 380.25a1.5 1.5 0 1 0 .1 0zM218.7 367.75a1.5 1.5 0 1 0 .1 0zM218.7 370a1.5 1.5 0 1 0 .1 0zM218.7 386.75a1.5 1.5 0 1 0 .1 0zM218.7 395.75a1.5 1.5 0 1 0 .1 0zM218.7 397.75a1.5 1.5 0 1 0 .1 0zM218.95 374a1.5 1.5 0 1 0 .1 0zM218.95 374.25a1.5 1.5 0 1 0 .1 0zM218.95 387.75a1.5 1.5 0 1 0 .1 0zM218.95 395.5a1.5 1.5 0 1 0 .1 0zM219.2 364.75a1.5 1.5 0 1 0 .1 0zM219.2 368.75a1.5 1.5 0 1 0 .1 0zM219.2 372.5a1.5 1.5 0 1 0 .1 0zM219.2 383a1.5 1.5 0 1 0 .1 0zM219.45 364.75a1.5 1.5 0 1 0 .1 0zM219.45 367.5a1.5 1.5 0 1 0 .1 0zM219.45 371.25a1.5 1.5 0 1 0 .1 0zM219.45 385.5a1.5 1.5 0 1 0 .1 0zM219.7 368a1.5 1.5 0 1 0 .1 0zM219.7 369.25a1.5 1.5 0 1 0 .1 0zM219.7 373.5a1.5 1.5 0 1 0 .1 0zM219.7 375.25a1.5 1.5 0 1 0 .1 0zM219.7 378.75a1.5 1.5 0 1 0 .1 0zM219.95 360a1.5 1.5 0 1 0 .1 0zM219.95 364.5a1.5 1.5 0 1 0 .1 0zM219.95 365a1.5 1.5 0 1 0 .1 0zM219.95 376.75a1.5 1.5 0 1 0 .1 0zM220.2 350.5a1.5 1.5 0 1 0 .1 0zM220.2 372.75a1.5 1.5 0 1 0 .1 0zM220.2 389a1.5 1.5 0 1 0 .1 0zM220.2 392.5a1.5 1.5 0 1 0 .1 0zM220.45 344.25a1.5 1.5 0 1 0 .1 0zM220.45 351a1.5 1.5 0 1 0 .1 0zM220.45 355.75a1.5 1.5 0 1 0 .1 0zM220.45 382.5a1.5 1.5 0 1 0 .1 0zM220.7 358a1.5 1.5 0 1 0 .1 0zM220.7 359.25a1.5 1.5 0 1 0 .1 0zM220.7 366.5a1.5 1.5 0 1 0 .1 0zM220.7 368a1.5 1.5 0 1 0 .1 0zM220.7 384a1.5 1.5 0 1 0 .1 0zM220.95 368.5a1.5 1.5 0 1 0 .1 0zM220.95 370a1.5 1.5 0 1 0 .1 0zM220.95 373.25a1.5 1.5 0 1 0 .1 0zM220.95 375.5a1.5 1.5 0 1 0 .1 0zM221.2 355.25a1.5 1.5 0 1 0 .1 0zM221.2 367a1.5 1.5 0 1 0 .1 0zM221.2 389a1.5 1.5 0 1 0 .1 0zM221.2 389.75a1.5 1.5 0 1 0 .1 0zM221.45 355.5a1.5 1.5 0 1 0 .1 0zM221.45 359.5a1.5 1.5 0 1 0 .1 0zM221.45 375.25a1.5 1.5 0 1 0 .1 0zM221.45 378.75a1.5 1.5 0 1 0 .1 0zM221.7 348.75a1.5 1.5 0 1 0 .1 0zM221.7 360a1.5 1.5 0 1 0 .1 0zM221.7 360.25a1.5 1.5 0 1 0 .1 0zM221.7 382.5a1.5 1.5 0 1 0 .1 0zM221.7 391a1.5 1.5 0 1 0 .1 0zM221.95 350a1.5 1.5 0 1 0 .1 0zM221.95 368.75a1.5 1.5 0 1 0 .1 0zM221.95 376a1.5 1.5 0 1 0 .1 0zM221.95 383.25a1.5 1.5 0 1 0 .1 0zM222.2 348.25a1.5 1.5 0 1 0 .1 0zM222.2 365.75a1.5 1.5 0 1 0 .1 0zM222.2 366.5a1.5 1.5 0 1 0 .1 0zM222.2 377a1.5 1.5 0 1 0 .1 0zM222.45 363a1.5 1.5 0 1 0 .1 0zM222.45 372a1.5 1.5 0 1 0 .1 0zM222.45 379.75a1.5 1.5 0 1 0 .1 0zM222.45 387.25a1.5 1.5 0 1 0 .1 0zM222.7 338.75a1.5 1.5 0 1 0 .1 0zM222.7 354.25a1.5 1.5 0 1 0 .1 0zM222.7 369a1.5 1.5 0 1 0 .1 0zM222.7 371.75a1.5 1.5 0 1 0 .1 0zM222.7 372.75a1.5 1.5 0 1 0 .1 0zM222.95 348.5a1.5 1.5 0 1 0 .1 0zM222.95 353a1.5 1.5 0 1 0 .1 0zM222.95 373a1.5 1.5 0 1 0 .1 0zM222.95 383.25a1.5 1.5 0 1 0 .1 0zM223.2 361a1.5 1.5 0 1 0 .1 0zM223.2 366.75a1.5 1.5 0 1 0 .1 0zM223.2 372.5a1.5 1.5 0 1 0 .1 0zM223.2 374.25a1.5 1.5 0 1 0 .1 0zM223.45 362.5a1.5 1.5 0 1 0 .1 0zM223.45 368.25a1.5 1.5 0 1 0 .1 0zM223.45 373.5a1.5 1.5 0 1 0 .1 0zM223.45 380a1.5 1.5 0 1 0 .1 0zM223.7 347.5a1.5 1.5 0 1 0 .1 0zM223.7 363.5a1.5 1.5 0 1 0 .1 0zM223.7 364.5a1.5 1.5 0 1 0 .1 0zM223.7 369.25a1.5 1.5 0 1 0 .1 0zM223.7 384.75a1.5 1.5 0 1 0 .1 0zM223.95 364.75a1.5 1.5 0 1 0 .1 0zM223.95 365.75a1.5 1.5 0 1 0 .1 0zM223.95 376.25a1.5 1.5 0 1 0 .1 0zM223.95 391.25a1.5 1.5 0 1 0 .1 0zM224.2 365.75a1.5 1.5 0 1 0 .1 0zM224.2 373a1.5 1.5 0 1 0 .1 0zM224.2 374.75a1.5 1.5 0 1 0 .1 0zM224.2 399.25a1.5 1.5 0 1 0 .1 0zM224.45 362.75a1.5 1.5 0 1 0 .1 0zM224.45 379.5a1.5 1.5 0 1 0 .1 0zM224.45 385.25a1.5 1.5 0 1 0 .1 0zM224.45 390.25a1.5 1.5 0 1 0 .1 0zM224.7 362.25a1.5 1.5 0 1 0 .1 0zM224.7 368a1.5 1.5 0 1 0 .1 0zM224.7 376.25a1.5 1.5 0 1 0 .1 0zM224.7 378.75a1.5 1.5 0 1 0 .1 0zM224.7 395.25a1.5 1.5 0 1 0 .1 0zM224.95 354.75a1.5 1.5 0 1 0 .1 0zM224.95 370.5a1.5 1.5 0 1 0 .1 0zM224.95 387a1.5 1.5 0 1 0 .1 0zM224.95 392.25a1.5 1.5 0 1 0 .1 0zM225.2 345.5a1.5 1.5 0 1 0 .1 0zM225.2 360.5a1.5 1.5 0 1 0 .1 0zM225.2 367.5a1.5 1.5 0 1 0 .1 0zM225.2 385.5a1.5 1.5 0 1 0 .1 0zM225.45 367.25a1.5 1.5 0 1 0 .1 0zM225.45 370a1.5 1.5 0 1 0 .1 0zM225.45 381.75a1.5 1.5 0 1 0 .1 0zM225.45 389.25a1.5 1.5 0 1 0 .1 0zM225.7 369.25a1.5 1.5 0 1 0 .1 0zM225.7 373.25a1.5 1.5 0 1 0 .1 0zM225.7 374.5a1.5 1.5 0 1 0 .1 0zM225.7 375.5a1.5 1.5 0 1 0 .1 0zM225.7 388.25a1.5 1.5 0 1 0 .1 0zM225.95 352a1.5 1.5 0 1 0 .1 0zM225.95 352.25a1.5 1.5 0 1 0 .1 0zM225.95 354.75a1.5 1.5 0 1 0 .1 0zM225.95 385a1.5 1.5 0 1 0 .1 0zM226.2 351.25a1.5 1.5 0 1 0 .1 0zM226.2 356.5a1.5 1.5 0 1 0 .1 0zM226.2 365a1.5 1.5 0 1 0 .1 0zM226.2 385.25a1.5 1.5 0 1 0 .1 0zM226.45 355.75a1.5 1.5 0 1 0 .1 0zM226.45 366a1.5 1.5 0 1 0 .1 0zM226.45 378.25a1.5 1.5 0 1 0 .1 0zM226.45 398a1.5 1.5 0 1 0 .1 0zM226.7 359a1.5 1.5 0 1 0 .1 0zM226.7 369.5a1.5 1.5 0 1 0 .1 0zM226.7 370.75a1.5 1.5 0 1 0 .1 0zM226.7 386a1.5 1.5 0 1 0 .1 0zM226.7 390.5a1.5 1.5 0 1 0 .1 0zM226.95 348.25a1.5 1.5 0 1 0 .1 0zM226.95 381a1.5 1.5 0 1 0 .1 0zM226.95 386.75a1.5 1.5 0 1 0 .1 0zM226.95 392a1.5 1.5 0 1 0 .1 0zM227.2 378a1.5 1.5 0 1 0 .1 0zM227.2 382a1.5 1.5 0 1 0 .1 0zM227.2 386.75a1.5 1.5 0 1 0 .1 0zM227.2 390.25a1.5 1.5 0 1 0 .1 0zM227.45 359.75a1.5 1.5 0 1 0 .1 0zM227.45 365.5a1.5 1.5 0 1 0 .1 0zM227.45 369.25a1.5 1.5 0 1 0 .1 0zM227.45 369.5a1.5 1.5 0 1 0 .1 0zM227.7 342.5a1.5 1.5 0 1 0 .1 0zM227.7 347.75a1.5 1.5 0 1 0 .1 0zM227.7 353.5a1.5 1.5 0 1 0 .1 0zM227.7 354.5a1.5 1.5 0 1 0 .1 0zM227.7 358.25a1.5 1.5 0 1 0 .1 0zM227.95 352.25a1.5 1.5 0 1 0 .1 0zM227.95 365.75a1.5 1.5 0 1 0 .1 0zM227.95 373.75a1.5 1.5 0 1 0 .1 0zM227.95 393.75a1.5 1.5 0 1 0 .1 0zM228.2 358a1.5 1.5 0 1 0 .1 0zM228.2 376.5a1.5 1.5 0 1 0 .1 0zM228.2 380a1.5 1.5 0 1 0 .1 0zM228.2 387.5a1.5 1.5 0 1 0 .1 0zM228.45 362.25a1.5 1.5 0 1 0 .1 0zM228.45 363.25a1.5 1.5 0 1 0 .1 0zM228.45 373.5a1.5 1.5 0 1 0 .1 0zM228.45 390.5a1.5 1.5 0 1 0 .1 0zM228.7 355.25a1.5 1.5 0 1 0 .1 0zM228.7 365a1.5 1.5 0 1 0 .1 0zM228.7 378a1.5 1.5 0 1 0 .1 0zM228.7 387.5a1.5 1.5 0 1 0 .1 0zM228.7 390.25a1.5 1.5 0 1 0 .1 0zM228.95 355.5a1.5 1.5 0 1 0 .1 0zM228.95 365a1.5 1.5 0 1 0 .1 0zM228.95 366.25a1.5 1.5 0 1 0 .1 0zM228.95 377.5a1.5 1.5 0 1 0 .1 0zM229.2 378a1.5 1.5 0 1 0 .1 0zM229.2 378.75a1.5 1.5 0 1 0 .1 0zM229.2 395a1.5 1.5 0 1 0 .1 0zM229.2 401.75a1.5 1.5 0 1 0 .1 0zM229.45 352.75a1.5 1.5 0 1 0 .1 0zM229.45 356.5a1.5 1.5 0 1 0 .1 0zM229.45 360a1.5 1.5 0 1 0 .1 0zM229.45 371.5a1.5 1.5 0 1 0 .1 0zM229.7 359.75a1.5 1.5 0 1 0 .1 0zM229.7 365a1.5 1.5 0 1 0 .1 0zM229.7 370.25a1.5 1.5 0 1 0 .1 0zM229.7 380.25a1.5 1.5 0 1 0 .1 0zM229.7 382.75a1.5 1.5 0 1 0 .1 0zM229.95 349a1.5 1.5 0 1 0 .1 0zM229.95 373a1.5 1.5 0 1 0 .1 0zM229.95 376a1.5 1.5 0 1 0 .1 0zM229.95 383.75a1.5 1.5 0 1 0 .1 0zM230.2 359.25a1.5 1.5 0 1 0 .1 0zM230.2 359.5a1.5 1.5 0 1 0 .1 0zM230.2 361.25a1.5 1.5 0 1 0 .1 0zM230.2 365.25a1.5 1.5 0 1 0 .1 0zM230.45 356.5a1.5 1.5 0 1 0 .1 0zM230.45 363.5a1.5 1.5 0 1 0 .1 0zM230.45 370.75a1.5 1.5 0 1 0 .1 0zM230.45 383.25a1.5 1.5 0 1 0 .1 0zM230.7 352.75a1.5 1.5 0 1 0 .1 0zM230.7 353.75a1.5 1.5 0 1 0 .1 0zM230.7 358.75a1.5 1.5 0 1 0 .1 0zM230.7 379.5a1.5 1.5 0 1 0 .1 0zM230.7 385.75a1.5 1.5 0 1 0 .1 0zM230.95 354.75a1.5 1.5 0 1 0 .1 0zM230.95 367.25a1.5 1.5 0 1 0 .1 0zM230.95 372.5a1.5 1.5 0 1 0 .1 0zM230.95 384.75a1.5 1.5 0 1 0 .1 0zM231.2 378.5a1.5 1.5 0 1 0 .1 0zM231.2 381.5a1.5 1.5 0 1 0 .1 0zM231.2 387a1.5 1.5 0 1 0 .1 0zM231.2 387.75a1.5 1.5 0 1 0 .1 0zM231.45 353.5a1.5 1.5 0 1 0 .1 0zM231.45 359.25a1.5 1.5 0 1 0 .1 0zM231.45 377.25a1.5 1.5 0 1 0 .1 0zM231.45 379.5a1.5 1.5 0 1 0 .1 0zM231.45 426.25a1.5 1.5 0 1 0 .1 0zM231.7 359.25a1.5 1.5 0 1 0 .1 0zM231.7 368.25a1.5 1.5 0 1 0 .1 0zM231.7 371.25a1.5 1.5 0 1 0 .1 0zM231.7 385.5a1.5 1.5 0 1 0 .1 0zM231.7 392.75a1.5 1.5 0 1 0 .1 0zM231.95 359.25a1.5 1.5 0 1 0 .1 0zM231.95 372.75a1.5 1.5 0 1 0 .1 0zM231.95 393a1.5 1.5 0 1 0 .1 0zM231.95 399.75a1.5 1.5 0 1 0 .1 0zM232.2 376.5a1.5 1.5 0 1 0 .1 0zM232.2 377a1.5 1.5 0 1 0 .1 0zM232.2 387.75a1.5 1.5 0 1 0 .1 0zM232.45 372.5a1.5 1.5 0 1 0 .1 0zM232.45 387a1.5 1.5 0 1 0 .1 0zM232.45 393a1.5 1.5 0 1 0 .1 0zM232.45 397.75a1.5 1.5 0 1 0 .1 0zM232.7 366.25a1.5 1.5 0 1 0 .1 0zM232.7 372.25a1.5 1.5 0 1 0 .1 0zM232.7 376.25a1.5 1.5 0 1 0 .1 0zM232.7 377a1.5 1.5 0 1 0 .1 0zM232.95 371a1.5 1.5 0 1 0 .1 0zM232.95 375.25a1.5 1.5 0 1 0 .1 0zM232.95 380a1.5 1.5 0 1 0 .1 0zM232.95 384.5a1.5 1.5 0 1 0 .1 0zM233.2 349.5a1.5 1.5 0 1 0 .1 0zM233.2 358.25a1.5 1.5 0 1 0 .1 0zM233.2 360.5a1.5 1.5 0 1 0 .1 0zM233.2 381.5a1.5 1.5 0 1 0 .1 0zM233.45 352.75a1.5 1.5 0 1 0 .1 0zM233.45 360.5a1.5 1.5 0 1 0 .1 0zM233.45 366.75a1.5 1.5 0 1 0 .1 0zM233.45 373a1.5 1.5 0 1 0 .1 0zM233.7 373.75a1.5 1.5 0 1 0 .1 0zM233.7 380.25a1.5 1.5 0 1 0 .1 0zM233.7 382.75a1.5 1.5 0 1 0 .1 0zM233.7 385a1.5 1.5 0 1 0 .1 0zM233.7 389.25a1.5 1.5 0 1 0 .1 0zM233.95 368.25a1.5 1.5 0 1 0 .1 0zM233.95 368.5a1.5 1.5 0 1 0 .1 0zM233.95 370.25a1.5 1.5 0 1 0 .1 0zM233.95 377.5a1.5 1.5 0 1 0 .1 0zM234.2 347.5a1.5 1.5 0 1 0 .1 0zM234.2 349a1.5 1.5 0 1 0 .1 0zM234.2 379a1.5 1.5 0 1 0 .1 0zM234.2 379.25a1.5 1.5 0 1 0 .1 0zM234.45 356.75a1.5 1.5 0 1 0 .1 0zM234.45 366.5a1.5 1.5 0 1 0 .1 0zM234.45 367a1.5 1.5 0 1 0 .1 0zM234.45 371.75a1.5 1.5 0 1 0 .1 0zM234.7 346.75a1.5 1.5 0 1 0 .1 0zM234.7 363a1.5 1.5 0 1 0 .1 0zM234.7 366a1.5 1.5 0 1 0 .1 0zM234.7 367.5a1.5 1.5 0 1 0 .1 0zM234.7 395a1.5 1.5 0 1 0 .1 0zM234.95 362.5a1.5 1.5 0 1 0 .1 0zM234.95 381a1.5 1.5 0 1 0 .1 0zM234.95 390.25a1.5 1.5 0 1 0 .1 0zM234.95 399.75a1.5 1.5 0 1 0 .1 0zM235.2 350.5a1.5 1.5 0 1 0 .1 0zM235.2 351.25a1.5 1.5 0 1 0 .1 0zM235.2 376.5a1.5 1.5 0 1 0 .1 0zM235.2 397.5a1.5 1.5 0 1 0 .1 0zM235.45 361.25a1.5 1.5 0 1 0 .1 0zM235.45 366.25a1.5 1.5 0 1 0 .1 0zM235.45 378.5a1.5 1.5 0 1 0 .1 0zM235.45 382.25a1.5 1.5 0 1 0 .1 0zM235.7 362.75a1.5 1.5 0 1 0 .1 0zM235.7 366a1.5 1.5 0 1 0 .1 0zM235.7 368.5a1.5 1.5 0 1 0 .1 0zM235.7 374.25a1.5 1.5 0 1 0 .1 0zM235.7 378.5a1.5 1.5 0 1 0 .1 0zM235.95 359.75a1.5 1.5 0 1 0 .1 0zM235.95 371.25a1.5 1.5 0 1 0 .1 0zM235.95 392.75a1.5 1.5 0 1 0 .1 0zM235.95 393a1.5 1.5 0 1 0 .1 0zM236.2 350.5a1.5 1.5 0 1 0 .1 0zM236.2 380.25a1.5 1.5 0 1 0 .1 0zM236.2 392.25a1.5 1.5 0 1 0 .1 0zM236.2 398a1.5 1.5 0 1 0 .1 0zM236.45 356.5a1.5 1.5 0 1 0 .1 0zM236.45 365.75a1.5 1.5 0 1 0 .1 0zM236.45 371a1.5 1.5 0 1 0 .1 0zM236.45 377.25a1.5 1.5 0 1 0 .1 0zM236.7 350.25a1.5 1.5 0 1 0 .1 0zM236.7 369.5a1.5 1.5 0 1 0 .1 0zM236.7 371.5a1.5 1.5 0 1 0 .1 0zM236.7 380a1.5 1.5 0 1 0 .1 0zM236.7 386.25a1.5 1.5 0 1 0 .1 0zM236.95 359.75a1.5 1.5 0 1 0 .1 0zM236.95 374.5a1.5 1.5 0 1 0 .1 0zM236.95 375.75a1.5 1.5 0 1 0 .1 0zM236.95 379.5a1.5 1.5 0 1 0 .1 0zM237.2 350.5a1.5 1.5 0 1 0 .1 0zM237.2 364a1.5 1.5 0 1 0 .1 0zM237.2 376.5a1.5 1.5 0 1 0 .1 0zM237.2 386a1.5 1.5 0 1 0 .1 0zM237.45 352a1.5 1.5 0 1 0 .1 0zM237.45 355a1.5 1.5 0 1 0 .1 0zM237.45 362.5a1.5 1.5 0 1 0 .1 0zM237.45 375.5a1.5 1.5 0 1 0 .1 0zM237.7 361.5a1.5 1.5 0 1 0 .1 0zM237.7 372.5a1.5 1.5 0 1 0 .1 0zM237.7 385.5a1.5 1.5 0 1 0 .1 0zM237.7 388.5a1.5 1.5 0 1 0 .1 0zM237.7 401.25a1.5 1.5 0 1 0 .1 0zM237.95 363a1.5 1.5 0 1 0 .1 0zM237.95 370.5a1.5 1.5 0 1 0 .1 0zM237.95 379.25a1.5 1.5 0 1 0 .1 0zM237.95 388.75a1.5 1.5 0 1 0 .1 0zM238.2 370.5a1.5 1.5 0 1 0 .1 0zM238.2 378a1.5 1.5 0 1 0 .1 0zM238.2 389.75a1.5 1.5 0 1 0 .1 0zM238.2 392.5a1.5 1.5 0 1 0 .1 0zM238.45 357.5a1.5 1.5 0 1 0 .1 0zM238.45 378.5a1.5 1.5 0 1 0 .1 0zM238.45 390.75a1.5 1.5 0 1 0 .1 0zM238.45 399.5a1.5 1.5 0 1 0 .1 0zM238.7 352a1.5 1.5 0 1 0 .1 0zM238.7 368.5a1.5 1.5 0 1 0 .1 0zM238.7 375.5a1.5 1.5 0 1 0 .1 0zM238.7 380.75a1.5 1.5 0 1 0 .1 0zM238.7 394.5a1.5 1.5 0 1 0 .1 0zM238.95 378a1.5 1.5 0 1 0 .1 0zM238.95 390a1.5 1.5 0 1 0 .1 0zM238.95 390.25a1.5 1.5 0 1 0 .1 0zM238.95 395.25a1.5 1.5 0 1 0 .1 0zM239.2 346.75a1.5 1.5 0 1 0 .1 0zM239.2 357.25a1.5 1.5 0 1 0 .1 0zM239.2 380a1.5 1.5 0 1 0 .1 0zM239.2 388.5a1.5 1.5 0 1 0 .1 0zM239.45 364a1.5 1.5 0 1 0 .1 0zM239.45 364.5a1.5 1.5 0 1 0 .1 0zM239.45 377.5a1.5 1.5 0 1 0 .1 0zM239.45 386.25a1.5 1.5 0 1 0 .1 0zM239.7 351.25a1.5 1.5 0 1 0 .1 0zM239.7 358.5a1.5 1.5 0 1 0 .1 0zM239.7 372a1.5 1.5 0 1 0 .1 0zM239.7 379.75a1.5 1.5 0 1 0 .1 0zM239.7 389a1.5 1.5 0 1 0 .1 0zM239.95 343.5a1.5 1.5 0 1 0 .1 0zM239.95 354.75a1.5 1.5 0 1 0 .1 0zM239.95 364a1.5 1.5 0 1 0 .1 0zM239.95 366.75a1.5 1.5 0 1 0 .1 0zM240.2 346.75a1.5 1.5 0 1 0 .1 0zM240.2 352a1.5 1.5 0 1 0 .1 0zM240.2 358.25a1.5 1.5 0 1 0 .1 0zM240.2 358.75a1.5 1.5 0 1 0 .1 0zM240.45 349a1.5 1.5 0 1 0 .1 0zM240.45 352.25a1.5 1.5 0 1 0 .1 0zM240.45 363.5a1.5 1.5 0 1 0 .1 0zM240.45 365.75a1.5 1.5 0 1 0 .1 0zM240.7 338a1.5 1.5 0 1 0 .1 0zM240.7 339.5a1.5 1.5 0 1 0 .1 0zM240.7 346.25a1.5 1.5 0 1 0 .1 0zM240.7 353a1.5 1.5 0 1 0 .1 0zM240.7 359.75a1.5 1.5 0 1 0 .1 0zM240.95 335.25a1.5 1.5 0 1 0 .1 0zM240.95 338.5a1.5 1.5 0 1 0 .1 0zM240.95 373a1.5 1.5 0 1 0 .1 0zM240.95 377.5a1.5 1.5 0 1 0 .1 0zM241.2 329.25a1.5 1.5 0 1 0 .1 0zM241.2 339.75a1.5 1.5 0 1 0 .1 0zM241.2 342.25a1.5 1.5 0 1 0 .1 0zM241.2 361.75a1.5 1.5 0 1 0 .1 0zM241.45 320.25a1.5 1.5 0 1 0 .1 0zM241.45 323a1.5 1.5 0 1 0 .1 0zM241.45 333.75a1.5 1.5 0 1 0 .1 0zM241.45 339.25a1.5 1.5 0 1 0 .1 0zM241.45 347a1.5 1.5 0 1 0 .1 0zM241.7 322.5a1.5 1.5 0 1 0 .1 0zM241.7 323.5a1.5 1.5 0 1 0 .1 0zM241.7 327.5a1.5 1.5 0 1 0 .1 0zM241.7 347.5a1.5 1.5 0 1 0 .1 0zM241.95 319a1.5 1.5 0 1 0 .1 0zM241.95 327.5a1.5 1.5 0 1 0 .1 0zM241.95 340a1.5 1.5 0 1 0 .1 0zM241.95 350.25a1.5 1.5 0 1 0 .1 0zM242.2 322a1.5 1.5 0 1 0 .1 0zM242.2 324.75a1.5 1.5 0 1 0 .1 0zM242.2 334.75a1.5 1.5 0 1 0 .1 0zM242.2 337.5a1.5 1.5 0 1 0 .1 0zM242.45 330.5a1.5 1.5 0 1 0 .1 0zM242.45 331.5a1.5 1.5 0 1 0 .1 0zM242.45 334a1.5 1.5 0 1 0 .1 0zM242.45 335a1.5 1.5 0 1 0 .1 0zM242.45 339a1.5 1.5 0 1 0 .1 0zM242.7 317.5a1.5 1.5 0 1 0 .1 0zM242.7 320.25a1.5 1.5 0 1 0 .1 0zM242.7 337.5a1.5 1.5 0 1 0 .1 0zM242.7 338a1.5 1.5 0 1 0 .1 0zM242.95 301.5a1.5 1.5 0 1 0 .1 0zM242.95 326a1.5 1.5 0 1 0 .1 0zM242.95 327a1.5 1.5 0 1 0 .1 0zM242.95 332.5a1.5 1.5 0 1 0 .1 0zM243.2 262.5a1.5 1.5 0 1 0 .1 0zM243.2 315a1.5 1.5 0 1 0 .1 0zM243.2 315.25a1.5 1.5 0 1 0 .1 0zM243.2 323a1.5 1.5 0 1 0 .1 0zM243.2 323.75a1.5 1.5 0 1 0 .1 0zM243.45 281a1.5 1.5 0 1 0 .1 0zM243.45 294.75a1.5 1.5 0 1 0 .1 0zM243.45 315.25a1.5 1.5 0 1 0 .1 0zM243.45 332.25a1.5 1.5 0 1 0 .1 0zM243.45 337.75a1.5 1.5 0 1 0 .1 0zM243.7 292.75a1.5 1.5 0 1 0 .1 0zM243.7 298.5a1.5 1.5 0 1 0 .1 0zM243.7 299.25a1.5 1.5 0 1 0 .1 0zM243.7 300.75a1.5 1.5 0 1 0 .1 0zM243.95 292.5a1.5 1.5 0 1 0 .1 0zM243.95 301.5a1.5 1.5 0 1 0 .1 0zM243.95 313.25a1.5 1.5 0 1 0 .1 0zM243.95 322.75a1.5 1.5 0 1 0 .1 0zM244.2 328.5a1.5 1.5 0 1 0 .1 0zM244.2 333.25a1.5 1.5 0 1 0 .1 0zM244.2 337a1.5 1.5 0 1 0 .1 0zM244.2 337.5a1.5 1.5 0 1 0 .1 0zM244.45 292.5a1.5 1.5 0 1 0 .1 0zM244.45 304.75a1.5 1.5 0 1 0 .1 0zM244.45 315a1.5 1.5 0 1 0 .1 0zM244.45 335a1.5 1.5 0 1 0 .1 0zM244.45 339a1.5 1.5 0 1 0 .1 0zM244.7 286.75a1.5 1.5 0 1 0 .1 0zM244.7 292.5a1.5 1.5 0 1 0 .1 0zM244.7 324.5a1.5 1.5 0 1 0 .1 0zM244.7 326.75a1.5 1.5 0 1 0 .1 0zM244.95 297.75a1.5 1.5 0 1 0 .1 0zM244.95 302.25a1.5 1.5 0 1 0 .1 0zM244.95 309a1.5 1.5 0 1 0 .1 0zM244.95 330.5a1.5 1.5 0 1 0 .1 0zM245.2 287.25a1.5 1.5 0 1 0 .1 0zM245.2 310.5a1.5 1.5 0 1 0 .1 0zM245.2 316.25a1.5 1.5 0 1 0 .1 0zM245.2 316.75a1.5 1.5 0 1 0 .1 0zM245.45 292.25a1.5 1.5 0 1 0 .1 0zM245.45 299.5a1.5 1.5 0 1 0 .1 0zM245.45 299.75a1.5 1.5 0 1 0 .1 0zM245.45 301.75a1.5 1.5 0 1 0 .1 0zM245.45 327.75a1.5 1.5 0 1 0 .1 0zM245.7 275.5a1.5 1.5 0 1 0 .1 0zM245.7 299.25a1.5 1.5 0 1 0 .1 0zM245.7 309.75a1.5 1.5 0 1 0 .1 0zM245.7 322.25a1.5 1.5 0 1 0 .1 0zM245.95 288.25a1.5 1.5 0 1 0 .1 0zM245.95 290.75a1.5 1.5 0 1 0 .1 0zM245.95 299.5a1.5 1.5 0 1 0 .1 0zM245.95 301.25a1.5 1.5 0 1 0 .1 0zM246.2 294a1.5 1.5 0 1 0 .1 0zM246.2 303.75a1.5 1.5 0 1 0 .1 0zM246.2 305.25a1.5 1.5 0 1 0 .1 0zM246.2 320a1.5 1.5 0 1 0 .1 0zM246.45 303a1.5 1.5 0 1 0 .1 0zM246.45 319a1.5 1.5 0 1 0 .1 0zM246.45 322.5a1.5 1.5 0 1 0 .1 0zM246.45 327.75a1.5 1.5 0 1 0 .1 0zM246.45 330.5a1.5 1.5 0 1 0 .1 0zM246.7 301.25a1.5 1.5 0 1 0 .1 0zM246.7 308a1.5 1.5 0 1 0 .1 0zM246.7 308.25a1.5 1.5 0 1 0 .1 0zM246.7 311.5a1.5 1.5 0 1 0 .1 0zM246.95 287a1.5 1.5 0 1 0 .1 0zM246.95 289.75a1.5 1.5 0 1 0 .1 0zM246.95 304.25a1.5 1.5 0 1 0 .1 0zM246.95 312.75a1.5 1.5 0 1 0 .1 0zM247.2 261a1.5 1.5 0 1 0 .1 0zM247.2 280.5a1.5 1.5 0 1 0 .1 0zM247.2 288.75a1.5 1.5 0 1 0 .1 0zM247.2 307a1.5 1.5 0 1 0 .1 0zM247.2 342.75a1.5 1.5 0 1 0 .1 0zM247.45 285.75a1.5 1.5 0 1 0 .1 0zM247.45 318.25a1.5 1.5 0 1 0 .1 0zM247.45 393.75a1.5 1.5 0 1 0 .1 0zM247.45 396.5a1.5 1.5 0 1 0 .1 0zM247.45 418a1.5 1.5 0 1 0 .1 0zM247.7 294a1.5 1.5 0 1 0 .1 0zM247.7 332a1.5 1.5 0 1 0 .1 0zM247.7 349.25a1.5 1.5 0 1 0 .1 0zM247.7 381.25a1.5 1.5 0 1 0 .1 0zM247.95 334.25a1.5 1.5 0 1 0 .1 0zM247.95 339.25a1.5 1.5 0 1 0 .1 0zM247.95 345a1.5 1.5 0 1 0 .1 0zM247.95 432.5a1.5 1.5 0 1 0 .1 0zM248.2 343.5a1.5 1.5 0 1 0 .1 0zM248.2 357.25a1.5 1.5 0 1 0 .1 0zM248.2 389.75a1.5 1.5 0 1 0 .1 0zM248.2 406a1.5 1.5 0 1 0 .1 0zM248.2 423.75a1.5 1.5 0 1 0 .1 0zM248.2 443.25a1.5 1.5 0 1 0 .1 0zM248.45 386.25a1.5 1.5 0 1 0 .1 0zM248.45 392a1.5 1.5 0 1 0 .1 0zM248.45 392.25a1.5 1.5 0 1 0 .1 0zM248.45 420.5a1.5 1.5 0 1 0 .1 0zM248.45 424a1.5 1.5 0 1 0 .1 0zM248.7 354a1.5 1.5 0 1 0 .1 0zM248.7 355a1.5 1.5 0 1 0 .1 0zM248.7 358.75a1.5 1.5 0 1 0 .1 0zM248.7 382a1.5 1.5 0 1 0 .1 0zM248.95 346a1.5 1.5 0 1 0 .1 0zM248.95 351.25a1.5 1.5 0 1 0 .1 0zM248.95 364.5a1.5 1.5 0 1 0 .1 0zM248.95 369.25a1.5 1.5 0 1 0 .1 0zM249.2 355.25a1.5 1.5 0 1 0 .1 0zM249.2 371a1.5 1.5 0 1 0 .1 0zM249.2 380a1.5 1.5 0 1 0 .1 0zM249.2 388.75a1.5 1.5 0 1 0 .1 0zM249.45 359.75a1.5 1.5 0 1 0 .1 0zM249.45 369.5a1.5 1.5 0 1 0 .1 0zM249.45 383.25a1.5 1.5 0 1 0 .1 0zM249.45 383.75a1.5 1.5 0 1 0 .1 0zM249.45 438a1.5 1.5 0 1 0 .1 0zM249.7 336.75a1.5 1.5 0 1 0 .1 0zM249.7 362a1.5 1.5 0 1 0 .1 0zM249.7 382.75a1.5 1.5 0 1 0 .1 0zM249.7 413.25a1.5 1.5 0 1 0 .1 0zM249.95 370.75a1.5 1.5 0 1 0 .1 0zM249.95 381.5a1.5 1.5 0 1 0 .1 0zM249.95 388.25a1.5 1.5 0 1 0 .1 0zM249.95 406.25a1.5 1.5 0 1 0 .1 0zM250.2 327.75a1.5 1.5 0 1 0 .1 0zM250.2 352a1.5 1.5 0 1 0 .1 0zM250.2 354.25a1.5 1.5 0 1 0 .1 0zM250.2 361a1.5 1.5 0 1 0 .1 0zM250.45 341a1.5 1.5 0 1 0 .1 0zM250.45 351.5a1.5 1.5 0 1 0 .1 0zM250.45 351.75a1.5 1.5 0 1 0 .1 0zM250.45 358.25a1.5 1.5 0 1 0 .1 0zM250.45 366a1.5 1.5 0 1 0 .1 0zM250.7 326a1.5 1.5 0 1 0 .1 0zM250.7 355a1.5 1.5 0 1 0 .1 0zM250.7 369.5a1.5 1.5 0 1 0 .1 0zM250.7 432.5a1.5 1.5 0 1 0 .1 0zM250.95 350.5a1.5 1.5 0 1 0 .1 0zM250.95 350.75a1.5 1.5 0 1 0 .1 0zM250.95 355.25a1.5 1.5 0 1 0 .1 0zM250.95 356a1.5 1.5 0 1 0 .1 0zM251.2 330.25a1.5 1.5 0 1 0 .1 0zM251.2 339.75a1.5 1.5 0 1 0 .1 0zM251.2 357.5a1.5 1.5 0 1 0 .1 0zM251.2 393.5a1.5 1.5 0 1 0 .1 0zM251.45 324.25a1.5 1.5 0 1 0 .1 0zM251.45 334.75a1.5 1.5 0 1 0 .1 0zM251.45 342a1.5 1.5 0 1 0 .1 0zM251.45 359.25a1.5 1.5 0 1 0 .1 0zM251.45 365.75a1.5 1.5 0 1 0 .1 0zM251.7 338.25a1.5 1.5 0 1 0 .1 0zM251.7 351.25a1.5 1.5 0 1 0 .1 0zM251.7 367a1.5 1.5 0 1 0 .1 0zM251.7 405a1.5 1.5 0 1 0 .1 0zM251.95 336a1.5 1.5 0 1 0 .1 0zM251.95 338.75a1.5 1.5 0 1 0 .1 0zM251.95 346.5a1.5 1.5 0 1 0 .1 0zM251.95 364.25a1.5 1.5 0 1 0 .1 0zM252.2 331.25a1.5 1.5 0 1 0 .1 0zM252.2 341.25a1.5 1.5 0 1 0 .1 0zM252.2 346.5a1.5 1.5 0 1 0 .1 0zM252.2 348.25a1.5 1.5 0 1 0 .1 0zM252.45 295.5a1.5 1.5 0 1 0 .1 0zM252.45 303a1.5 1.5 0 1 0 .1 0zM252.45 314a1.5 1.5 0 1 0 .1 0zM252.45 327a1.5 1.5 0 1 0 .1 0zM252.45 332.25a1.5 1.5 0 1 0 .1 0zM252.45 337.25a1.5 1.5 0 1 0 .1 0zM252.45 348a1.5 1.5 0 1 0 .1 0zM252.45 353.75a1.5 1.5 0 1 0 .1 0zM252.7 311a1.5 1.5 0 1 0 .1 0zM252.7 316.75a1.5 1.5 0 1 0 .1 0zM252.7 318a1.5 1.5 0 1 0 .1 0zM252.7 323a1.5 1.5 0 1 0 .1 0zM252.95 318.5a1.5 1.5 0 1 0 .1 0zM252.95 345a1.5 1.5 0 1 0 .1 0zM252.95 360.5a1.5 1.5 0 1 0 .1 0zM252.95 362a1.5 1.5 0 1 0 .1 0zM253.2 321.5a1.5 1.5 0 1 0 .1 0zM253.2 358.25a1.5 1.5 0 1 0 .1 0zM253.2 362a1.5 1.5 0 1 0 .1 0zM253.2 370.5a1.5 1.5 0 1 0 .1 0zM253.45 305a1.5 1.5 0 1 0 .1 0zM253.45 317.5a1.5 1.5 0 1 0 .1 0zM253.45 334.75a1.5 1.5 0 1 0 .1 0zM253.45 345.5a1.5 1.5 0 1 0 .1 0zM253.45 367.25a1.5 1.5 0 1 0 .1 0zM253.7 333.5a1.5 1.5 0 1 0 .1 0zM253.7 352.25a1.5 1.5 0 1 0 .1 0zM253.7 360a1.5 1.5 0 1 0 .1 0zM253.7 361.5a1.5 1.5 0 1 0 .1 0zM253.95 330.5a1.5 1.5 0 1 0 .1 0zM253.95 334.75a1.5 1.5 0 1 0 .1 0zM253.95 336.5a1.5 1.5 0 1 0 .1 0zM253.95 364a1.5 1.5 0 1 0 .1 0zM254.2 309a1.5 1.5 0 1 0 .1 0zM254.2 347.5a1.5 1.5 0 1 0 .1 0zM254.2 366.25a1.5 1.5 0 1 0 .1 0zM254.2 382.75a1.5 1.5 0 1 0 .1 0zM254.45 344.75a1.5 1.5 0 1 0 .1 0zM254.45 369a1.5 1.5 0 1 0 .1 0zM254.45 375.5a1.5 1.5 0 1 0 .1 0zM254.45 381.5a1.5 1.5 0 1 0 .1 0zM254.45 391.75a1.5 1.5 0 1 0 .1 0zM254.7 325.75a1.5 1.5 0 1 0 .1 0zM254.7 332.25a1.5 1.5 0 1 0 .1 0zM254.7 345.25a1.5 1.5 0 1 0 .1 0zM254.7 380.5a1.5 1.5 0 1 0 .1 0zM254.95 342.25a1.5 1.5 0 1 0 .1 0zM254.95 358a1.5 1.5 0 1 0 .1 0zM254.95 363.25a1.5 1.5 0 1 0 .1 0zM254.95 380.75a1.5 1.5 0 1 0 .1 0zM255.2 339.5a1.5 1.5 0 1 0 .1 0zM255.2 354.25a1.5 1.5 0 1 0 .1 0zM255.2 377.75a1.5 1.5 0 1 0 .1 0zM255.2 393.75a1.5 1.5 0 1 0 .1 0zM255.45 334a1.5 1.5 0 1 0 .1 0zM255.45 342.5a1.5 1.5 0 1 0 .1 0zM255.45 354a1.5 1.5 0 1 0 .1 0zM255.45 359.75a1.5 1.5 0 1 0 .1 0zM255.45 384.25a1.5 1.5 0 1 0 .1 0zM255.7 348.25a1.5 1.5 0 1 0 .1 0zM255.7 352a1.5 1.5 0 1 0 .1 0zM255.7 356.25a1.5 1.5 0 1 0 .1 0zM255.7 373.25a1.5 1.5 0 1 0 .1 0zM255.95 342a1.5 1.5 0 1 0 .1 0zM255.95 354.5a1.5 1.5 0 1 0 .1 0zM255.95 366a1.5 1.5 0 1 0 .1 0zM255.95 375.75a1.5 1.5 0 1 0 .1 0zM256.2 336a1.5 1.5 0 1 0 .1 0zM256.2 349a1.5 1.5 0 1 0 .1 0zM256.2 357.75a1.5 1.5 0 1 0 .1 0zM256.2 360a1.5 1.5 0 1 0 .1 0zM256.45 344.5a1.5 1.5 0 1 0 .1 0zM256.45 354.5a1.5 1.5 0 1 0 .1 0zM256.45 380.25a1.5 1.5 0 1 0 .1 0zM256.45 386.25a1.5 1.5 0 1 0 .1 0zM256.45 399.25a1.5 1.5 0 1 0 .1 0zM256.7 358a1.5 1.5 0 1 0 .1 0zM256.7 379a1.5 1.5 0 1 0 .1 0zM256.7 379.25a1.5 1.5 0 1 0 .1 0zM256.7 381a1.5 1.5 0 1 0 .1 0zM256.95 344.75a1.5 1.5 0 1 0 .1 0zM256.95 347.25a1.5 1.5 0 1 0 .1 0zM256.95 369a1.5 1.5 0 1 0 .1 0zM256.95 394.25a1.5 1.5 0 1 0 .1 0zM257.2 370.75a1.5 1.5 0 1 0 .1 0zM257.2 373.75a1.5 1.5 0 1 0 .1 0zM257.2 386.5a1.5 1.5 0 1 0 .1 0zM257.2 397.25a1.5 1.5 0 1 0 .1 0zM257.45 342.75a1.5 1.5 0 1 0 .1 0zM257.45 345.25a1.5 1.5 0 1 0 .1 0zM257.45 349.5a1.5 1.5 0 1 0 .1 0zM257.45 368.25a1.5 1.5 0 1 0 .1 0zM257.45 376.75a1.5 1.5 0 1 0 .1 0zM257.7 357a1.5 1.5 0 1 0 .1 0zM257.7 371a1.5 1.5 0 1 0 .1 0zM257.7 373a1.5 1.5 0 1 0 .1 0zM257.7 395.5a1.5 1.5 0 1 0 .1 0zM257.95 363a1.5 1.5 0 1 0 .1 0zM257.95 363.5a1.5 1.5 0 1 0 .1 0zM257.95 385a1.5 1.5 0 1 0 .1 0zM257.95 392.5a1.5 1.5 0 1 0 .1 0zM258.2 332.75a1.5 1.5 0 1 0 .1 0zM258.2 334.5a1.5 1.5 0 1 0 .1 0zM258.2 350.75a1.5 1.5 0 1 0 .1 0zM258.2 358a1.5 1.5 0 1 0 .1 0zM258.45 353.75a1.5 1.5 0 1 0 .1 0zM258.45 360.75a1.5 1.5 0 1 0 .1 0zM258.45 371a1.5 1.5 0 1 0 .1 0zM258.45 394.25a1.5 1.5 0 1 0 .1 0zM258.45 399a1.5 1.5 0 1 0 .1 0zM258.7 346.5a1.5 1.5 0 1 0 .1 0zM258.7 350.75a1.5 1.5 0 1 0 .1 0zM258.7 355.5a1.5 1.5 0 1 0 .1 0zM258.7 389.5a1.5 1.5 0 1 0 .1 0zM258.95 349a1.5 1.5 0 1 0 .1 0zM258.95 356.75a1.5 1.5 0 1 0 .1 0zM258.95 374a1.5 1.5 0 1 0 .1 0zM258.95 378a1.5 1.5 0 1 0 .1 0zM259.2 366.75a1.5 1.5 0 1 0 .1 0zM259.2 367.75a1.5 1.5 0 1 0 .1 0zM259.2 373.5a1.5 1.5 0 1 0 .1 0zM259.2 375.25a1.5 1.5 0 1 0 .1 0zM259.45 329.75a1.5 1.5 0 1 0 .1 0zM259.45 341a1.5 1.5 0 1 0 .1 0zM259.45 344.75a1.5 1.5 0 1 0 .1 0zM259.45 362.5a1.5 1.5 0 1 0 .1 0zM259.45 380.75a1.5 1.5 0 1 0 .1 0zM259.7 321a1.5 1.5 0 1 0 .1 0zM259.7 342.75a1.5 1.5 0 1 0 .1 0zM259.7 362a1.5 1.5 0 1 0 .1 0zM259.7 386.5a1.5 1.5 0 1 0 .1 0zM259.95 302.75a1.5 1.5 0 1 0 .1 0zM259.95 327.25a1.5 1.5 0 1 0 .1 0zM259.95 349.5a1.5 1.5 0 1 0 .1 0zM259.95 358.5a1.5 1.5 0 1 0 .1 0zM259.95 363a1.5 1.5 0 1 0 .1 0zM259.95 369a1.5 1.5 0 1 0 .1 0zM260.2 329.5a1.5 1.5 0 1 0 .1 0zM260.2 351.5a1.5 1.5 0 1 0 .1 0zM260.2 353.5a1.5 1.5 0 1 0 .1 0zM260.2 389.25a1.5 1.5 0 1 0 .1 0zM260.45 333.75a1.5 1.5 0 1 0 .1 0zM260.45 353.25a1.5 1.5 0 1 0 .1 0zM260.45 359.25a1.5 1.5 0 1 0 .1 0zM260.45 361.75a1.5 1.5 0 1 0 .1 0zM260.45 367.25a1.5 1.5 0 1 0 .1 0zM260.7 338.5a1.5 1.5 0 1 0 .1 0zM260.7 366.25a1.5 1.5 0 1 0 .1 0zM260.7 374a1.5 1.5 0 1 0 .1 0zM260.7 376.5a1.5 1.5 0 1 0 .1 0zM260.95 352.5a1.5 1.5 0 1 0 .1 0zM260.95 361.75a1.5 1.5 0 1 0 .1 0zM260.95 381a1.5 1.5 0 1 0 .1 0zM260.95 384.5a1.5 1.5 0 1 0 .1 0zM261.2 339a1.5 1.5 0 1 0 .1 0zM261.2 373.75a1.5 1.5 0 1 0 .1 0zM261.2 380.5a1.5 1.5 0 1 0 .1 0zM261.2 381.25a1.5 1.5 0 1 0 .1 0zM261.45 336.5a1.5 1.5 0 1 0 .1 0zM261.45 345.5a1.5 1.5 0 1 0 .1 0zM261.45 360.75a1.5 1.5 0 1 0 .1 0zM261.45 371.75a1.5 1.5 0 1 0 .1 0zM261.45 377.25a1.5 1.5 0 1 0 .1 0zM261.7 355.75a1.5 1.5 0 1 0 .1 0zM261.7 375a1.5 1.5 0 1 0 .1 0zM261.7 403a1.5 1.5 0 1 0 .1 0zM261.95 355.5a1.5 1.5 0 1 0 .1 0zM261.95 368a1.5 1.5 0 1 0 .1 0zM261.95 373.25a1.5 1.5 0 1 0 .1 0zM261.95 375a1.5 1.5 0 1 0 .1 0zM262.2 346a1.5 1.5 0 1 0 .1 0zM262.2 346.5a1.5 1.5 0 1 0 .1 0zM262.2 359.25a1.5 1.5 0 1 0 .1 0zM262.2 366a1.5 1.5 0 1 0 .1 0zM262.45 354.5a1.5 1.5 0 1 0 .1 0zM262.45 367a1.5 1.5 0 1 0 .1 0zM262.45 371.75a1.5 1.5 0 1 0 .1 0zM262.45 375.75a1.5 1.5 0 1 0 .1 0zM262.45 395.5a1.5 1.5 0 1 0 .1 0zM262.7 326a1.5 1.5 0 1 0 .1 0zM262.7 330.25a1.5 1.5 0 1 0 .1 0zM262.7 350.25a1.5 1.5 0 1 0 .1 0zM262.95 339.5a1.5 1.5 0 1 0 .1 0zM262.95 349.5a1.5 1.5 0 1 0 .1 0zM262.95 374.5a1.5 1.5 0 1 0 .1 0zM262.95 377a1.5 1.5 0 1 0 .1 0zM263.2 339a1.5 1.5 0 1 0 .1 0zM263.2 358a1.5 1.5 0 1 0 .1 0zM263.2 361.5a1.5 1.5 0 1 0 .1 0zM263.2 375.5a1.5 1.5 0 1 0 .1 0zM263.45 370a1.5 1.5 0 1 0 .1 0zM263.45 375.25a1.5 1.5 0 1 0 .1 0zM263.45 380.75a1.5 1.5 0 1 0 .1 0zM263.45 385.5a1.5 1.5 0 1 0 .1 0zM263.45 386a1.5 1.5 0 1 0 .1 0zM263.7 343.5a1.5 1.5 0 1 0 .1 0zM263.7 358.5a1.5 1.5 0 1 0 .1 0zM263.7 365a1.5 1.5 0 1 0 .1 0zM263.7 386.25a1.5 1.5 0 1 0 .1 0zM263.95 350a1.5 1.5 0 1 0 .1 0zM263.95 355.75a1.5 1.5 0 1 0 .1 0zM263.95 361.75a1.5 1.5 0 1 0 .1 0zM263.95 383.25a1.5 1.5 0 1 0 .1 0zM264.2 345a1.5 1.5 0 1 0 .1 0zM264.2 375.5a1.5 1.5 0 1 0 .1 0zM264.2 383.75a1.5 1.5 0 1 0 .1 0zM264.2 389.25a1.5 1.5 0 1 0 .1 0zM264.45 362.75a1.5 1.5 0 1 0 .1 0zM264.45 368.75a1.5 1.5 0 1 0 .1 0zM264.45 370.75a1.5 1.5 0 1 0 .1 0zM264.45 375a1.5 1.5 0 1 0 .1 0zM264.45 383.5a1.5 1.5 0 1 0 .1 0zM264.7 354.75a1.5 1.5 0 1 0 .1 0zM264.7 359.25a1.5 1.5 0 1 0 .1 0zM264.7 385.5a1.5 1.5 0 1 0 .1 0zM264.7 386.5a1.5 1.5 0 1 0 .1 0zM264.95 337.75a1.5 1.5 0 1 0 .1 0zM264.95 341.25a1.5 1.5 0 1 0 .1 0zM264.95 368.5a1.5 1.5 0 1 0 .1 0zM264.95 392.75a1.5 1.5 0 1 0 .1 0zM265.2 365.5a1.5 1.5 0 1 0 .1 0zM265.2 382.5a1.5 1.5 0 1 0 .1 0zM265.2 383.25a1.5 1.5 0 1 0 .1 0zM265.2 389.25a1.5 1.5 0 1 0 .1 0zM265.45 373.5a1.5 1.5 0 1 0 .1 0zM265.45 373.75a1.5 1.5 0 1 0 .1 0zM265.45 379.25a1.5 1.5 0 1 0 .1 0zM265.45 384a1.5 1.5 0 1 0 .1 0zM265.45 397.25a1.5 1.5 0 1 0 .1 0zM265.7 377a1.5 1.5 0 1 0 .1 0zM265.7 379a1.5 1.5 0 1 0 .1 0zM265.7 385.75a1.5 1.5 0 1 0 .1 0zM265.7 390.25a1.5 1.5 0 1 0 .1 0zM265.95 377a1.5 1.5 0 1 0 .1 0zM265.95 378.5a1.5 1.5 0 1 0 .1 0zM265.95 379.25a1.5 1.5 0 1 0 .1 0zM265.95 379.75a1.5 1.5 0 1 0 .1 0zM266.2 382.25a1.5 1.5 0 1 0 .1 0zM266.2 385a1.5 1.5 0 1 0 .1 0zM266.2 390.25a1.5 1.5 0 1 0 .1 0zM266.2 393.5a1.5 1.5 0 1 0 .1 0zM266.45 351.75a1.5 1.5 0 1 0 .1 0zM266.45 352.25a1.5 1.5 0 1 0 .1 0zM266.45 357.5a1.5 1.5 0 1 0 .1 0zM266.45 360.5a1.5 1.5 0 1 0 .1 0zM266.45 391.25a1.5 1.5 0 1 0 .1 0zM266.45 416a1.5 1.5 0 1 0 .1 0zM266.7 351.25a1.5 1.5 0 1 0 .1 0zM266.7 354.25a1.5 1.5 0 1 0 .1 0zM266.7 362.75a1.5 1.5 0 1 0 .1 0zM266.7 379.5a1.5 1.5 0 1 0 .1 0zM266.95 370.25a1.5 1.5 0 1 0 .1 0zM266.95 380.5a1.5 1.5 0 1 0 .1 0zM266.95 381.5a1.5 1.5 0 1 0 .1 0zM266.95 407a1.5 1.5 0 1 0 .1 0zM267.2 334.25a1.5 1.5 0 1 0 .1 0zM267.2 375.25a1.5 1.5 0 1 0 .1 0zM267.2 376.5a1.5 1.5 0 1 0 .1 0zM267.2 392a1.5 1.5 0 1 0 .1 0zM267.45 339a1.5 1.5 0 1 0 .1 0zM267.45 353a1.5 1.5 0 1 0 .1 0zM267.45 364.5a1.5 1.5 0 1 0 .1 0zM267.45 383.5a1.5 1.5 0 1 0 .1 0zM267.45 407.75a1.5 1.5 0 1 0 .1 0zM267.7 356.75a1.5 1.5 0 1 0 .1 0zM267.7 377.75a1.5 1.5 0 1 0 .1 0zM267.7 385.5a1.5 1.5 0 1 0 .1 0zM267.7 390a1.5 1.5 0 1 0 .1 0zM267.95 357.5a1.5 1.5 0 1 0 .1 0zM267.95 372a1.5 1.5 0 1 0 .1 0zM267.95 394.25a1.5 1.5 0 1 0 .1 0zM267.95 406a1.5 1.5 0 1 0 .1 0zM268.2 377a1.5 1.5 0 1 0 .1 0zM268.2 393.5a1.5 1.5 0 1 0 .1 0zM268.2 400.5a1.5 1.5 0 1 0 .1 0zM268.45 371.25a1.5 1.5 0 1 0 .1 0zM268.45 375.75a1.5 1.5 0 1 0 .1 0zM268.45 377.25a1.5 1.5 0 1 0 .1 0zM268.45 385.75a1.5 1.5 0 1 0 .1 0zM268.45 399.5a1.5 1.5 0 1 0 .1 0zM268.7 374.75a1.5 1.5 0 1 0 .1 0zM268.7 375.5a1.5 1.5 0 1 0 .1 0zM268.7 379.25a1.5 1.5 0 1 0 .1 0zM268.7 380a1.5 1.5 0 1 0 .1 0zM268.95 354.25a1.5 1.5 0 1 0 .1 0zM268.95 381a1.5 1.5 0 1 0 .1 0zM268.95 402a1.5 1.5 0 1 0 .1 0zM268.95 402.5a1.5 1.5 0 1 0 .1 0zM269.2 352.5a1.5 1.5 0 1 0 .1 0zM269.2 364.5a1.5 1.5 0 1 0 .1 0zM269.2 373.5a1.5 1.5 0 1 0 .1 0zM269.2 380.5a1.5 1.5 0 1 0 .1 0zM269.2 386a1.5 1.5 0 1 0 .1 0zM269.45 343.75a1.5 1.5 0 1 0 .1 0zM269.45 351.25a1.5 1.5 0 1 0 .1 0zM269.45 364.25a1.5 1.5 0 1 0 .1 0zM269.45 382.75a1.5 1.5 0 1 0 .1 0zM269.7 337.75a1.5 1.5 0 1 0 .1 0zM269.7 372.25a1.5 1.5 0 1 0 .1 0zM269.7 383.5a1.5 1.5 0 1 0 .1 0zM269.7 389a1.5 1.5 0 1 0 .1 0zM269.95 359.25a1.5 1.5 0 1 0 .1 0zM269.95 373.25a1.5 1.5 0 1 0 .1 0zM269.95 381.5a1.5 1.5 0 1 0 .1 0zM269.95 404a1.5 1.5 0 1 0 .1 0zM269.95 415a1.5 1.5 0 1 0 .1 0zM270.2 356a1.5 1.5 0 1 0 .1 0zM270.2 366.5a1.5 1.5 0 1 0 .1 0zM270.2 386a1.5 1.5 0 1 0 .1 0zM270.2 391.5a1.5 1.5 0 1 0 .1 0zM270.2 398.5a1.5 1.5 0 1 0 .1 0zM270.2 430a1.5 1.5 0 1 0 .1 0zM270.45 368a1.5 1.5 0 1 0 .1 0zM270.45 375.25a1.5 1.5 0 1 0 .1 0zM270.45 385a1.5 1.5 0 1 0 .1 0zM270.45 394.25a1.5 1.5 0 1 0 .1 0zM270.7 356a1.5 1.5 0 1 0 .1 0zM270.7 380.5a1.5 1.5 0 1 0 .1 0zM270.7 389.5a1.5 1.5 0 1 0 .1 0zM270.7 390.5a1.5 1.5 0 1 0 .1 0zM270.95 345.25a1.5 1.5 0 1 0 .1 0zM270.95 387.5a1.5 1.5 0 1 0 .1 0zM270.95 396a1.5 1.5 0 1 0 .1 0zM270.95 407.75a1.5 1.5 0 1 0 .1 0zM271.2 363.5a1.5 1.5 0 1 0 .1 0zM271.2 392.5a1.5 1.5 0 1 0 .1 0zM271.2 396.5a1.5 1.5 0 1 0 .1 0zM271.2 402.5a1.5 1.5 0 1 0 .1 0zM271.2 408.5a1.5 1.5 0 1 0 .1 0zM271.45 372.5a1.5 1.5 0 1 0 .1 0zM271.45 373.25a1.5 1.5 0 1 0 .1 0zM271.45 385a1.5 1.5 0 1 0 .1 0zM271.45 403.25a1.5 1.5 0 1 0 .1 0zM271.7 347.5a1.5 1.5 0 1 0 .1 0zM271.7 373a1.5 1.5 0 1 0 .1 0zM271.7 375.25a1.5 1.5 0 1 0 .1 0zM271.95 344.75a1.5 1.5 0 1 0 .1 0zM271.95 346.75a1.5 1.5 0 1 0 .1 0zM271.95 372a1.5 1.5 0 1 0 .1 0zM271.95 379a1.5 1.5 0 1 0 .1 0zM272.2 350a1.5 1.5 0 1 0 .1 0zM272.2 353.75a1.5 1.5 0 1 0 .1 0zM272.2 388.75a1.5 1.5 0 1 0 .1 0zM272.2 407a1.5 1.5 0 1 0 .1 0zM272.2 408.5a1.5 1.5 0 1 0 .1 0zM272.45 359a1.5 1.5 0 1 0 .1 0zM272.45 367.5a1.5 1.5 0 1 0 .1 0zM272.45 380a1.5 1.5 0 1 0 .1 0zM272.45 390a1.5 1.5 0 1 0 .1 0zM272.7 355.75a1.5 1.5 0 1 0 .1 0zM272.7 373.25a1.5 1.5 0 1 0 .1 0zM272.7 375a1.5 1.5 0 1 0 .1 0zM272.7 384.25a1.5 1.5 0 1 0 .1 0zM272.95 356a1.5 1.5 0 1 0 .1 0zM272.95 368.25a1.5 1.5 0 1 0 .1 0zM272.95 381.5a1.5 1.5 0 1 0 .1 0zM272.95 384.25a1.5 1.5 0 1 0 .1 0zM272.95 416a1.5 1.5 0 1 0 .1 0zM273.2 347.25a1.5 1.5 0 1 0 .1 0zM273.2 371a1.5 1.5 0 1 0 .1 0zM273.2 381a1.5 1.5 0 1 0 .1 0zM273.2 390.25a1.5 1.5 0 1 0 .1 0zM273.2 401.25a1.5 1.5 0 1 0 .1 0zM273.45 342.25a1.5 1.5 0 1 0 .1 0zM273.45 360a1.5 1.5 0 1 0 .1 0zM273.45 390.25a1.5 1.5 0 1 0 .1 0zM273.45 394.5a1.5 1.5 0 1 0 .1 0zM273.7 361.75a1.5 1.5 0 1 0 .1 0zM273.7 368.25a1.5 1.5 0 1 0 .1 0zM273.7 368.75a1.5 1.5 0 1 0 .1 0zM273.7 380.25a1.5 1.5 0 1 0 .1 0zM273.95 329.5a1.5 1.5 0 1 0 .1 0zM273.95 332a1.5 1.5 0 1 0 .1 0zM273.95 368.75a1.5 1.5 0 1 0 .1 0zM273.95 392.25a1.5 1.5 0 1 0 .1 0zM274.2 335.25a1.5 1.5 0 1 0 .1 0zM274.2 355.5a1.5 1.5 0 1 0 .1 0zM274.2 356.75a1.5 1.5 0 1 0 .1 0zM274.2 378.75a1.5 1.5 0 1 0 .1 0zM274.2 388.5a1.5 1.5 0 1 0 .1 0zM274.45 342.5a1.5 1.5 0 1 0 .1 0zM274.45 358.5a1.5 1.5 0 1 0 .1 0zM274.45 366.25a1.5 1.5 0 1 0 .1 0zM274.45 385a1.5 1.5 0 1 0 .1 0zM274.7 320.25a1.5 1.5 0 1 0 .1 0zM274.7 356.75a1.5 1.5 0 1 0 .1 0zM274.7 376.25a1.5 1.5 0 1 0 .1 0zM274.7 376.75a1.5 1.5 0 1 0 .1 0zM274.7 403.5a1.5 1.5 0 1 0 .1 0zM274.95 333.25a1.5 1.5 0 1 0 .1 0zM274.95 344.5a1.5 1.5 0 1 0 .1 0zM274.95 350.5a1.5 1.5 0 1 0 .1 0zM274.95 360.5a1.5 1.5 0 1 0 .1 0zM275.2 334a1.5 1.5 0 1 0 .1 0zM275.2 335.25a1.5 1.5 0 1 0 .1 0zM275.2 354a1.5 1.5 0 1 0 .1 0zM275.2 361.25a1.5 1.5 0 1 0 .1 0zM275.2 374a1.5 1.5 0 1 0 .1 0zM275.45 336.5a1.5 1.5 0 1 0 .1 0zM275.45 348.5a1.5 1.5 0 1 0 .1 0zM275.45 358a1.5 1.5 0 1 0 .1 0zM275.45 380.5a1.5 1.5 0 1 0 .1 0zM275.7 360.25a1.5 1.5 0 1 0 .1 0zM275.7 362a1.5 1.5 0 1 0 .1 0zM275.7 378.25a1.5 1.5 0 1 0 .1 0zM275.7 392.25a1.5 1.5 0 1 0 .1 0zM275.95 349.25a1.5 1.5 0 1 0 .1 0zM275.95 368.25a1.5 1.5 0 1 0 .1 0zM275.95 369.5a1.5 1.5 0 1 0 .1 0zM275.95 371.75a1.5 1.5 0 1 0 .1 0zM276.2 342.25a1.5 1.5 0 1 0 .1 0zM276.2 355.25a1.5 1.5 0 1 0 .1 0zM276.2 360.75a1.5 1.5 0 1 0 .1 0zM276.2 366.5a1.5 1.5 0 1 0 .1 0zM276.2 371.75a1.5 1.5 0 1 0 .1 0zM276.45 377a1.5 1.5 0 1 0 .1 0zM276.45 384.75a1.5 1.5 0 1 0 .1 0zM276.45 388.5a1.5 1.5 0 1 0 .1 0zM276.45 390.25a1.5 1.5 0 1 0 .1 0zM276.7 336.5a1.5 1.5 0 1 0 .1 0zM276.7 341a1.5 1.5 0 1 0 .1 0zM276.7 353.75a1.5 1.5 0 1 0 .1 0zM276.7 384.5a1.5 1.5 0 1 0 .1 0zM276.95 338a1.5 1.5 0 1 0 .1 0zM276.95 355.5a1.5 1.5 0 1 0 .1 0zM276.95 371.75a1.5 1.5 0 1 0 .1 0zM276.95 373.5a1.5 1.5 0 1 0 .1 0zM277.2 336.25a1.5 1.5 0 1 0 .1 0zM277.2 345.25a1.5 1.5 0 1 0 .1 0zM277.2 360.75a1.5 1.5 0 1 0 .1 0zM277.2 364a1.5 1.5 0 1 0 .1 0zM277.2 369.5a1.5 1.5 0 1 0 .1 0zM277.45 342.25a1.5 1.5 0 1 0 .1 0zM277.45 346a1.5 1.5 0 1 0 .1 0zM277.45 368a1.5 1.5 0 1 0 .1 0zM277.45 375.5a1.5 1.5 0 1 0 .1 0zM277.7 363.25a1.5 1.5 0 1 0 .1 0zM277.7 364a1.5 1.5 0 1 0 .1 0zM277.7 376.25a1.5 1.5 0 1 0 .1 0zM277.7 385a1.5 1.5 0 1 0 .1 0zM277.95 360.25a1.5 1.5 0 1 0 .1 0zM277.95 368.75a1.5 1.5 0 1 0 .1 0zM277.95 373.5a1.5 1.5 0 1 0 .1 0zM277.95 391.5a1.5 1.5 0 1 0 .1 0zM277.95 456.75a1.5 1.5 0 1 0 .1 0zM278.2 331a1.5 1.5 0 1 0 .1 0zM278.2 362.5a1.5 1.5 0 1 0 .1 0zM278.2 369.25a1.5 1.5 0 1 0 .1 0zM278.2 382.75a1.5 1.5 0 1 0 .1 0zM278.2 386a1.5 1.5 0 1 0 .1 0zM278.45 340.75a1.5 1.5 0 1 0 .1 0zM278.45 355.25a1.5 1.5 0 1 0 .1 0zM278.45 360.75a1.5 1.5 0 1 0 .1 0zM278.45 370.75a1.5 1.5 0 1 0 .1 0zM278.7 327.75a1.5 1.5 0 1 0 .1 0zM278.7 343.75a1.5 1.5 0 1 0 .1 0zM278.7 362a1.5 1.5 0 1 0 .1 0zM278.7 367a1.5 1.5 0 1 0 .1 0zM278.7 398.75a1.5 1.5 0 1 0 .1 0zM278.95 338.75a1.5 1.5 0 1 0 .1 0zM278.95 364.5a1.5 1.5 0 1 0 .1 0zM278.95 373a1.5 1.5 0 1 0 .1 0zM278.95 379.5a1.5 1.5 0 1 0 .1 0zM279.2 338a1.5 1.5 0 1 0 .1 0zM279.2 349.75a1.5 1.5 0 1 0 .1 0zM279.2 363.5a1.5 1.5 0 1 0 .1 0zM279.2 365.5a1.5 1.5 0 1 0 .1 0zM279.2 369.5a1.5 1.5 0 1 0 .1 0zM279.45 340.5a1.5 1.5 0 1 0 .1 0zM279.45 341a1.5 1.5 0 1 0 .1 0zM279.45 358.25a1.5 1.5 0 1 0 .1 0zM279.7 370.25a1.5 1.5 0 1 0 .1 0zM279.7 370.5a1.5 1.5 0 1 0 .1 0zM279.7 384a1.5 1.5 0 1 0 .1 0zM279.7 392a1.5 1.5 0 1 0 .1 0zM279.95 338.25a1.5 1.5 0 1 0 .1 0zM279.95 355a1.5 1.5 0 1 0 .1 0zM279.95 360.5a1.5 1.5 0 1 0 .1 0zM279.95 383.25a1.5 1.5 0 1 0 .1 0zM280.2 344.25a1.5 1.5 0 1 0 .1 0zM280.2 347.5a1.5 1.5 0 1 0 .1 0zM280.2 366.75a1.5 1.5 0 1 0 .1 0zM280.2 384.75a1.5 1.5 0 1 0 .1 0zM280.2 393.25a1.5 1.5 0 1 0 .1 0zM280.45 348a1.5 1.5 0 1 0 .1 0zM280.45 350.75a1.5 1.5 0 1 0 .1 0zM280.45 366.5a1.5 1.5 0 1 0 .1 0zM280.45 374a1.5 1.5 0 1 0 .1 0zM280.7 353.5a1.5 1.5 0 1 0 .1 0zM280.7 354.25a1.5 1.5 0 1 0 .1 0zM280.7 374.5a1.5 1.5 0 1 0 .1 0zM280.7 383.5a1.5 1.5 0 1 0 .1 0zM280.95 316.5a1.5 1.5 0 1 0 .1 0zM280.95 349.5a1.5 1.5 0 1 0 .1 0zM280.95 369a1.5 1.5 0 1 0 .1 0zM280.95 373.75a1.5 1.5 0 1 0 .1 0zM280.95 375.25a1.5 1.5 0 1 0 .1 0zM281.2 349.25a1.5 1.5 0 1 0 .1 0zM281.2 354.25a1.5 1.5 0 1 0 .1 0zM281.2 361.25a1.5 1.5 0 1 0 .1 0zM281.2 373a1.5 1.5 0 1 0 .1 0zM281.2 375.75a1.5 1.5 0 1 0 .1 0zM281.45 349.5a1.5 1.5 0 1 0 .1 0zM281.45 352a1.5 1.5 0 1 0 .1 0zM281.45 361.5a1.5 1.5 0 1 0 .1 0zM281.45 382.5a1.5 1.5 0 1 0 .1 0zM281.7 324.5a1.5 1.5 0 1 0 .1 0zM281.7 331a1.5 1.5 0 1 0 .1 0zM281.7 350.25a1.5 1.5 0 1 0 .1 0zM281.7 392.5a1.5 1.5 0 1 0 .1 0zM281.95 326.5a1.5 1.5 0 1 0 .1 0zM281.95 350.5a1.5 1.5 0 1 0 .1 0zM281.95 376.5a1.5 1.5 0 1 0 .1 0zM281.95 384.25a1.5 1.5 0 1 0 .1 0zM282.2 326a1.5 1.5 0 1 0 .1 0zM282.2 360a1.5 1.5 0 1 0 .1 0zM282.2 369.5a1.5 1.5 0 1 0 .1 0zM282.2 371.75a1.5 1.5 0 1 0 .1 0zM282.2 373.5a1.5 1.5 0 1 0 .1 0zM282.2 377.25a1.5 1.5 0 1 0 .1 0zM282.45 348.75a1.5 1.5 0 1 0 .1 0zM282.45 354.25a1.5 1.5 0 1 0 .1 0zM282.45 362.5a1.5 1.5 0 1 0 .1 0zM282.45 392.75a1.5 1.5 0 1 0 .1 0zM282.7 342.25a1.5 1.5 0 1 0 .1 0zM282.7 354.5a1.5 1.5 0 1 0 .1 0zM282.7 383.5a1.5 1.5 0 1 0 .1 0zM282.7 384.75a1.5 1.5 0 1 0 .1 0zM282.95 339.25a1.5 1.5 0 1 0 .1 0zM282.95 339.5a1.5 1.5 0 1 0 .1 0zM282.95 389.25a1.5 1.5 0 1 0 .1 0zM282.95 393a1.5 1.5 0 1 0 .1 0zM283.2 346a1.5 1.5 0 1 0 .1 0zM283.2 350a1.5 1.5 0 1 0 .1 0zM283.2 351a1.5 1.5 0 1 0 .1 0zM283.2 358a1.5 1.5 0 1 0 .1 0zM283.2 364a1.5 1.5 0 1 0 .1 0zM283.45 356a1.5 1.5 0 1 0 .1 0zM283.45 367a1.5 1.5 0 1 0 .1 0zM283.45 375a1.5 1.5 0 1 0 .1 0zM283.45 382.25a1.5 1.5 0 1 0 .1 0zM283.7 336.5a1.5 1.5 0 1 0 .1 0zM283.7 375.75a1.5 1.5 0 1 0 .1 0zM283.7 379.5a1.5 1.5 0 1 0 .1 0zM283.95 329.25a1.5 1.5 0 1 0 .1 0zM283.95 347.75a1.5 1.5 0 1 0 .1 0zM283.95 357.75a1.5 1.5 0 1 0 .1 0zM283.95 384.25a1.5 1.5 0 1 0 .1 0zM284.2 341a1.5 1.5 0 1 0 .1 0zM284.2 359.25a1.5 1.5 0 1 0 .1 0zM284.2 373a1.5 1.5 0 1 0 .1 0zM284.2 378.75a1.5 1.5 0 1 0 .1 0zM284.2 384.5a1.5 1.5 0 1 0 .1 0zM284.45 306a1.5 1.5 0 1 0 .1 0zM284.45 341.25a1.5 1.5 0 1 0 .1 0zM284.45 360.25a1.5 1.5 0 1 0 .1 0zM284.45 362.25a1.5 1.5 0 1 0 .1 0zM284.45 371.75a1.5 1.5 0 1 0 .1 0zM284.45 432.5a1.5 1.5 0 1 0 .1 0zM284.45 446.5a1.5 1.5 0 1 0 .1 0zM284.7 359a1.5 1.5 0 1 0 .1 0zM284.7 365.5a1.5 1.5 0 1 0 .1 0zM284.7 365.75a1.5 1.5 0 1 0 .1 0zM284.7 384.5a1.5 1.5 0 1 0 .1 0zM284.95 342.25a1.5 1.5 0 1 0 .1 0zM284.95 348.5a1.5 1.5 0 1 0 .1 0zM284.95 363.5a1.5 1.5 0 1 0 .1 0zM284.95 374a1.5 1.5 0 1 0 .1 0zM285.2 336.25a1.5 1.5 0 1 0 .1 0zM285.2 350.75a1.5 1.5 0 1 0 .1 0zM285.2 353.25a1.5 1.5 0 1 0 .1 0zM285.2 357.5a1.5 1.5 0 1 0 .1 0zM285.2 368.75a1.5 1.5 0 1 0 .1 0zM285.45 360.25a1.5 1.5 0 1 0 .1 0zM285.45 372.5a1.5 1.5 0 1 0 .1 0zM285.45 390a1.5 1.5 0 1 0 .1 0zM285.7 337.75a1.5 1.5 0 1 0 .1 0zM285.7 344.25a1.5 1.5 0 1 0 .1 0zM285.7 364.25a1.5 1.5 0 1 0 .1 0zM285.7 381.5a1.5 1.5 0 1 0 .1 0zM285.95 328.75a1.5 1.5 0 1 0 .1 0zM285.95 359.25a1.5 1.5 0 1 0 .1 0zM285.95 381.25a1.5 1.5 0 1 0 .1 0zM285.95 382.5a1.5 1.5 0 1 0 .1 0zM286.2 348.5a1.5 1.5 0 1 0 .1 0zM286.2 356.5a1.5 1.5 0 1 0 .1 0zM286.2 361.75a1.5 1.5 0 1 0 .1 0zM286.2 365.5a1.5 1.5 0 1 0 .1 0zM286.2 370.25a1.5 1.5 0 1 0 .1 0zM286.45 337.75a1.5 1.5 0 1 0 .1 0zM286.45 361.25a1.5 1.5 0 1 0 .1 0zM286.45 374.75a1.5 1.5 0 1 0 .1 0zM286.45 378a1.5 1.5 0 1 0 .1 0zM286.7 333a1.5 1.5 0 1 0 .1 0zM286.7 365a1.5 1.5 0 1 0 .1 0zM286.7 365.25a1.5 1.5 0 1 0 .1 0zM286.7 381.25a1.5 1.5 0 1 0 .1 0zM286.95 340.75a1.5 1.5 0 1 0 .1 0zM286.95 358a1.5 1.5 0 1 0 .1 0zM286.95 364.75a1.5 1.5 0 1 0 .1 0zM286.95 381.5a1.5 1.5 0 1 0 .1 0zM287.2 340.5a1.5 1.5 0 1 0 .1 0zM287.2 352.25a1.5 1.5 0 1 0 .1 0zM287.2 356a1.5 1.5 0 1 0 .1 0zM287.2 367.25a1.5 1.5 0 1 0 .1 0zM287.2 390.5a1.5 1.5 0 1 0 .1 0zM287.45 368.75a1.5 1.5 0 1 0 .1 0zM287.45 374.5a1.5 1.5 0 1 0 .1 0zM287.45 380.5a1.5 1.5 0 1 0 .1 0zM287.45 388.25a1.5 1.5 0 1 0 .1 0zM287.7 371.25a1.5 1.5 0 1 0 .1 0zM287.7 377.5a1.5 1.5 0 1 0 .1 0zM287.7 381a1.5 1.5 0 1 0 .1 0zM287.7 387.5a1.5 1.5 0 1 0 .1 0zM287.95 332.75a1.5 1.5 0 1 0 .1 0zM287.95 348.75a1.5 1.5 0 1 0 .1 0zM287.95 357.5a1.5 1.5 0 1 0 .1 0zM287.95 369a1.5 1.5 0 1 0 .1 0zM288.2 334.25a1.5 1.5 0 1 0 .1 0zM288.2 346.5a1.5 1.5 0 1 0 .1 0zM288.2 368.5a1.5 1.5 0 1 0 .1 0zM288.2 376.5a1.5 1.5 0 1 0 .1 0zM288.2 379a1.5 1.5 0 1 0 .1 0zM288.45 340.75a1.5 1.5 0 1 0 .1 0zM288.45 358.25a1.5 1.5 0 1 0 .1 0zM288.45 383a1.5 1.5 0 1 0 .1 0zM288.45 391.5a1.5 1.5 0 1 0 .1 0zM288.7 325.5a1.5 1.5 0 1 0 .1 0zM288.7 346a1.5 1.5 0 1 0 .1 0zM288.7 358a1.5 1.5 0 1 0 .1 0zM288.7 373a1.5 1.5 0 1 0 .1 0zM288.7 380.5a1.5 1.5 0 1 0 .1 0zM288.95 356a1.5 1.5 0 1 0 .1 0zM288.95 372.75a1.5 1.5 0 1 0 .1 0zM288.95 384a1.5 1.5 0 1 0 .1 0zM288.95 385.5a1.5 1.5 0 1 0 .1 0zM289.2 326a1.5 1.5 0 1 0 .1 0zM289.2 351.25a1.5 1.5 0 1 0 .1 0zM289.2 357.5a1.5 1.5 0 1 0 .1 0zM289.2 379a1.5 1.5 0 1 0 .1 0zM289.2 391a1.5 1.5 0 1 0 .1 0zM289.45 326a1.5 1.5 0 1 0 .1 0zM289.45 350a1.5 1.5 0 1 0 .1 0zM289.45 352.25a1.5 1.5 0 1 0 .1 0zM289.45 355.75a1.5 1.5 0 1 0 .1 0zM289.7 373.75a1.5 1.5 0 1 0 .1 0zM289.7 379.25a1.5 1.5 0 1 0 .1 0zM289.7 381.5a1.5 1.5 0 1 0 .1 0zM289.7 394a1.5 1.5 0 1 0 .1 0zM289.95 345.75a1.5 1.5 0 1 0 .1 0zM289.95 363.25a1.5 1.5 0 1 0 .1 0zM289.95 363.75a1.5 1.5 0 1 0 .1 0zM289.95 381.5a1.5 1.5 0 1 0 .1 0zM290.2 352.5a1.5 1.5 0 1 0 .1 0zM290.2 357.75a1.5 1.5 0 1 0 .1 0zM290.2 371.75a1.5 1.5 0 1 0 .1 0zM290.2 373.5a1.5 1.5 0 1 0 .1 0zM290.2 380a1.5 1.5 0 1 0 .1 0zM290.45 350.75a1.5 1.5 0 1 0 .1 0zM290.45 367.5a1.5 1.5 0 1 0 .1 0zM290.45 386.5a1.5 1.5 0 1 0 .1 0zM290.45 390.75a1.5 1.5 0 1 0 .1 0zM290.7 338.5a1.5 1.5 0 1 0 .1 0zM290.7 341.25a1.5 1.5 0 1 0 .1 0zM290.7 358.75a1.5 1.5 0 1 0 .1 0zM290.7 361.5a1.5 1.5 0 1 0 .1 0zM290.95 342a1.5 1.5 0 1 0 .1 0zM290.95 344.75a1.5 1.5 0 1 0 .1 0zM290.95 373.75a1.5 1.5 0 1 0 .1 0zM290.95 375.75a1.5 1.5 0 1 0 .1 0zM291.2 321a1.5 1.5 0 1 0 .1 0zM291.2 328.25a1.5 1.5 0 1 0 .1 0zM291.2 353.5a1.5 1.5 0 1 0 .1 0zM291.2 360.25a1.5 1.5 0 1 0 .1 0zM291.2 376a1.5 1.5 0 1 0 .1 0zM291.45 349.25a1.5 1.5 0 1 0 .1 0zM291.45 358a1.5 1.5 0 1 0 .1 0zM291.45 360.25a1.5 1.5 0 1 0 .1 0zM291.45 375.25a1.5 1.5 0 1 0 .1 0zM291.7 328.25a1.5 1.5 0 1 0 .1 0zM291.7 349.25a1.5 1.5 0 1 0 .1 0zM291.7 351.75a1.5 1.5 0 1 0 .1 0zM291.7 383a1.5 1.5 0 1 0 .1 0zM291.95 333.25a1.5 1.5 0 1 0 .1 0zM291.95 336.25a1.5 1.5 0 1 0 .1 0zM291.95 337.25a1.5 1.5 0 1 0 .1 0zM291.95 375.5a1.5 1.5 0 1 0 .1 0zM292.2 322.25a1.5 1.5 0 1 0 .1 0zM292.2 324a1.5 1.5 0 1 0 .1 0zM292.2 324.75a1.5 1.5 0 1 0 .1 0zM292.2 361a1.5 1.5 0 1 0 .1 0zM292.2 361.75a1.5 1.5 0 1 0 .1 0zM292.2 379a1.5 1.5 0 1 0 .1 0zM292.45 347.75a1.5 1.5 0 1 0 .1 0zM292.45 355.75a1.5 1.5 0 1 0 .1 0zM292.45 358.25a1.5 1.5 0 1 0 .1 0zM292.45 383.75a1.5 1.5 0 1 0 .1 0zM292.7 321.25a1.5 1.5 0 1 0 .1 0zM292.7 327.25a1.5 1.5 0 1 0 .1 0zM292.7 329.25a1.5 1.5 0 1 0 .1 0zM292.7 364.25a1.5 1.5 0 1 0 .1 0zM292.95 324.5a1.5 1.5 0 1 0 .1 0zM292.95 338.75a1.5 1.5 0 1 0 .1 0zM292.95 369.25a1.5 1.5 0 1 0 .1 0zM292.95 377.75a1.5 1.5 0 1 0 .1 0zM293.2 336.75a1.5 1.5 0 1 0 .1 0zM293.2 341.5a1.5 1.5 0 1 0 .1 0zM293.2 364a1.5 1.5 0 1 0 .1 0zM293.2 368.25a1.5 1.5 0 1 0 .1 0zM293.2 375.75a1.5 1.5 0 1 0 .1 0zM293.45 309.5a1.5 1.5 0 1 0 .1 0zM293.45 332.75a1.5 1.5 0 1 0 .1 0zM293.45 335.25a1.5 1.5 0 1 0 .1 0zM293.45 347.5a1.5 1.5 0 1 0 .1 0zM293.45 375.5a1.5 1.5 0 1 0 .1 0zM293.7 345a1.5 1.5 0 1 0 .1 0zM293.7 347a1.5 1.5 0 1 0 .1 0zM293.7 356.25a1.5 1.5 0 1 0 .1 0zM293.7 359.5a1.5 1.5 0 1 0 .1 0zM293.95 315.5a1.5 1.5 0 1 0 .1 0zM293.95 348a1.5 1.5 0 1 0 .1 0zM293.95 349.75a1.5 1.5 0 1 0 .1 0zM293.95 350.5a1.5 1.5 0 1 0 .1 0zM293.95 377a1.5 1.5 0 1 0 .1 0zM293.95 415a1.5 1.5 0 1 0 .1 0zM294.2 323.25a1.5 1.5 0 1 0 .1 0zM294.2 332.5a1.5 1.5 0 1 0 .1 0zM294.2 357.5a1.5 1.5 0 1 0 .1 0zM294.2 370.25a1.5 1.5 0 1 0 .1 0zM294.2 379a1.5 1.5 0 1 0 .1 0zM294.45 330a1.5 1.5 0 1 0 .1 0zM294.45 348a1.5 1.5 0 1 0 .1 0zM294.45 351.5a1.5 1.5 0 1 0 .1 0zM294.45 367.25a1.5 1.5 0 1 0 .1 0zM294.7 338.25a1.5 1.5 0 1 0 .1 0zM294.7 346.75a1.5 1.5 0 1 0 .1 0zM294.7 355.75a1.5 1.5 0 1 0 .1 0zM294.7 366.5a1.5 1.5 0 1 0 .1 0zM294.95 295a1.5 1.5 0 1 0 .1 0zM294.95 347.75a1.5 1.5 0 1 0 .1 0zM294.95 349.5a1.5 1.5 0 1 0 .1 0zM294.95 376a1.5 1.5 0 1 0 .1 0zM294.95 376.5a1.5 1.5 0 1 0 .1 0zM294.95 433.75a1.5 1.5 0 1 0 .1 0zM295.2 338a1.5 1.5 0 1 0 .1 0zM295.2 340.25a1.5 1.5 0 1 0 .1 0zM295.2 350.5a1.5 1.5 0 1 0 .1 0zM295.2 356a1.5 1.5 0 1 0 .1 0zM295.2 372.75a1.5 1.5 0 1 0 .1 0zM295.45 338a1.5 1.5 0 1 0 .1 0zM295.45 368.75a1.5 1.5 0 1 0 .1 0zM295.45 376.5a1.5 1.5 0 1 0 .1 0zM295.45 385.75a1.5 1.5 0 1 0 .1 0zM295.7 363.75a1.5 1.5 0 1 0 .1 0zM295.7 368.25a1.5 1.5 0 1 0 .1 0zM295.7 378.5a1.5 1.5 0 1 0 .1 0zM295.7 392.25a1.5 1.5 0 1 0 .1 0zM295.95 355a1.5 1.5 0 1 0 .1 0zM295.95 357.75a1.5 1.5 0 1 0 .1 0zM295.95 368.75a1.5 1.5 0 1 0 .1 0zM295.95 369.5a1.5 1.5 0 1 0 .1 0zM295.95 380.5a1.5 1.5 0 1 0 .1 0zM295.95 423.25a1.5 1.5 0 1 0 .1 0zM296.2 346.5a1.5 1.5 0 1 0 .1 0zM296.2 359a1.5 1.5 0 1 0 .1 0zM296.2 363.5a1.5 1.5 0 1 0 .1 0zM296.2 384.75a1.5 1.5 0 1 0 .1 0zM296.45 332.5a1.5 1.5 0 1 0 .1 0zM296.45 334.75a1.5 1.5 0 1 0 .1 0zM296.45 356a1.5 1.5 0 1 0 .1 0zM296.45 372.5a1.5 1.5 0 1 0 .1 0zM296.7 329.75a1.5 1.5 0 1 0 .1 0zM296.7 350.75a1.5 1.5 0 1 0 .1 0zM296.7 351.75a1.5 1.5 0 1 0 .1 0zM296.7 375.5a1.5 1.5 0 1 0 .1 0zM296.95 328.5a1.5 1.5 0 1 0 .1 0zM296.95 346.25a1.5 1.5 0 1 0 .1 0zM296.95 360.25a1.5 1.5 0 1 0 .1 0zM296.95 378.5a1.5 1.5 0 1 0 .1 0zM296.95 391.5a1.5 1.5 0 1 0 .1 0zM297.2 346.25a1.5 1.5 0 1 0 .1 0zM297.2 363.5a1.5 1.5 0 1 0 .1 0zM297.2 376.75a1.5 1.5 0 1 0 .1 0zM297.2 379.5a1.5 1.5 0 1 0 .1 0zM297.45 373a1.5 1.5 0 1 0 .1 0zM297.45 379.75a1.5 1.5 0 1 0 .1 0zM297.45 381.75a1.5 1.5 0 1 0 .1 0zM297.45 390.25a1.5 1.5 0 1 0 .1 0zM297.7 330a1.5 1.5 0 1 0 .1 0zM297.7 331a1.5 1.5 0 1 0 .1 0zM297.7 372.25a1.5 1.5 0 1 0 .1 0zM297.7 381.25a1.5 1.5 0 1 0 .1 0zM297.95 340.25a1.5 1.5 0 1 0 .1 0zM297.95 366.5a1.5 1.5 0 1 0 .1 0zM297.95 369.75a1.5 1.5 0 1 0 .1 0zM297.95 372.25a1.5 1.5 0 1 0 .1 0zM297.95 393.25a1.5 1.5 0 1 0 .1 0zM298.2 350.25a1.5 1.5 0 1 0 .1 0zM298.2 353.75a1.5 1.5 0 1 0 .1 0zM298.2 365a1.5 1.5 0 1 0 .1 0zM298.2 391a1.5 1.5 0 1 0 .1 0zM298.45 327.75a1.5 1.5 0 1 0 .1 0zM298.45 367.5a1.5 1.5 0 1 0 .1 0zM298.45 368.5a1.5 1.5 0 1 0 .1 0zM298.45 376.75a1.5 1.5 0 1 0 .1 0zM298.7 330.75a1.5 1.5 0 1 0 .1 0zM298.7 364.75a1.5 1.5 0 1 0 .1 0zM298.7 365.5a1.5 1.5 0 1 0 .1 0zM298.7 389.75a1.5 1.5 0 1 0 .1 0zM298.95 337a1.5 1.5 0 1 0 .1 0zM298.95 356.5a1.5 1.5 0 1 0 .1 0zM298.95 364.25a1.5 1.5 0 1 0 .1 0zM298.95 365.75a1.5 1.5 0 1 0 .1 0zM298.95 377a1.5 1.5 0 1 0 .1 0zM299.2 350a1.5 1.5 0 1 0 .1 0zM299.2 352a1.5 1.5 0 1 0 .1 0zM299.2 353a1.5 1.5 0 1 0 .1 0zM299.2 354.25a1.5 1.5 0 1 0 .1 0zM299.45 350a1.5 1.5 0 1 0 .1 0zM299.45 356.75a1.5 1.5 0 1 0 .1 0zM299.45 379.25a1.5 1.5 0 1 0 .1 0zM299.45 397.75a1.5 1.5 0 1 0 .1 0zM299.7 369.75a1.5 1.5 0 1 0 .1 0zM299.7 380a1.5 1.5 0 1 0 .1 0zM299.7 381a1.5 1.5 0 1 0 .1 0zM299.7 398.5a1.5 1.5 0 1 0 .1 0zM299.95 372.25a1.5 1.5 0 1 0 .1 0zM299.95 373a1.5 1.5 0 1 0 .1 0zM299.95 382.25a1.5 1.5 0 1 0 .1 0zM299.95 383.5a1.5 1.5 0 1 0 .1 0zM299.95 391.5a1.5 1.5 0 1 0 .1 0zM300.2 361a1.5 1.5 0 1 0 .1 0zM300.2 369.5a1.5 1.5 0 1 0 .1 0zM300.2 373.75a1.5 1.5 0 1 0 .1 0zM300.2 379.25a1.5 1.5 0 1 0 .1 0zM300.45 318.25a1.5 1.5 0 1 0 .1 0zM300.45 319.75a1.5 1.5 0 1 0 .1 0zM300.45 347a1.5 1.5 0 1 0 .1 0zM300.45 356a1.5 1.5 0 1 0 .1 0zM300.45 358.5a1.5 1.5 0 1 0 .1 0zM300.45 361.75a1.5 1.5 0 1 0 .1 0zM300.7 360a1.5 1.5 0 1 0 .1 0zM300.7 370a1.5 1.5 0 1 0 .1 0zM300.7 370.25a1.5 1.5 0 1 0 .1 0zM300.7 391.75a1.5 1.5 0 1 0 .1 0zM300.95 331.5a1.5 1.5 0 1 0 .1 0zM300.95 342.75a1.5 1.5 0 1 0 .1 0zM300.95 347.5a1.5 1.5 0 1 0 .1 0zM300.95 347.75a1.5 1.5 0 1 0 .1 0zM300.95 354.25a1.5 1.5 0 1 0 .1 0zM301.2 350.25a1.5 1.5 0 1 0 .1 0zM301.2 360a1.5 1.5 0 1 0 .1 0zM301.2 383a1.5 1.5 0 1 0 .1 0zM301.2 391.5a1.5 1.5 0 1 0 .1 0zM301.45 348.25a1.5 1.5 0 1 0 .1 0zM301.45 375.5a1.5 1.5 0 1 0 .1 0zM301.45 376.25a1.5 1.5 0 1 0 .1 0zM301.45 382.5a1.5 1.5 0 1 0 .1 0zM301.7 340.25a1.5 1.5 0 1 0 .1 0zM301.7 354.5a1.5 1.5 0 1 0 .1 0zM301.7 377.5a1.5 1.5 0 1 0 .1 0zM301.7 386.75a1.5 1.5 0 1 0 .1 0zM301.95 320.25a1.5 1.5 0 1 0 .1 0zM301.95 365.75a1.5 1.5 0 1 0 .1 0zM301.95 366.75a1.5 1.5 0 1 0 .1 0zM301.95 368.75a1.5 1.5 0 1 0 .1 0zM301.95 380.5a1.5 1.5 0 1 0 .1 0zM302.2 342.5a1.5 1.5 0 1 0 .1 0zM302.2 345.75a1.5 1.5 0 1 0 .1 0zM302.2 362.25a1.5 1.5 0 1 0 .1 0zM302.2 388.25a1.5 1.5 0 1 0 .1 0zM302.45 339a1.5 1.5 0 1 0 .1 0zM302.45 347.5a1.5 1.5 0 1 0 .1 0zM302.45 359.25a1.5 1.5 0 1 0 .1 0zM302.45 378.5a1.5 1.5 0 1 0 .1 0zM302.7 355a1.5 1.5 0 1 0 .1 0zM302.7 356.5a1.5 1.5 0 1 0 .1 0zM302.7 382.25a1.5 1.5 0 1 0 .1 0zM302.7 390.25a1.5 1.5 0 1 0 .1 0zM302.95 338.25a1.5 1.5 0 1 0 .1 0zM302.95 340.5a1.5 1.5 0 1 0 .1 0zM302.95 345.5a1.5 1.5 0 1 0 .1 0zM302.95 368.25a1.5 1.5 0 1 0 .1 0zM302.95 370a1.5 1.5 0 1 0 .1 0zM303.2 331.75a1.5 1.5 0 1 0 .1 0zM303.2 359.75a1.5 1.5 0 1 0 .1 0zM303.2 363.25a1.5 1.5 0 1 0 .1 0zM303.2 365.25a1.5 1.5 0 1 0 .1 0zM303.45 348a1.5 1.5 0 1 0 .1 0zM303.45 365a1.5 1.5 0 1 0 .1 0zM303.45 375.25a1.5 1.5 0 1 0 .1 0zM303.45 380a1.5 1.5 0 1 0 .1 0zM303.7 326a1.5 1.5 0 1 0 .1 0zM303.7 329a1.5 1.5 0 1 0 .1 0zM303.7 358.25a1.5 1.5 0 1 0 .1 0zM303.7 373.5a1.5 1.5 0 1 0 .1 0zM303.7 398a1.5 1.5 0 1 0 .1 0zM303.95 338a1.5 1.5 0 1 0 .1 0zM303.95 366.75a1.5 1.5 0 1 0 .1 0zM303.95 388.5a1.5 1.5 0 1 0 .1 0zM303.95 394.75a1.5 1.5 0 1 0 .1 0zM303.95 401.25a1.5 1.5 0 1 0 .1 0zM303.95 413.25a1.5 1.5 0 1 0 .1 0zM304.2 333.25a1.5 1.5 0 1 0 .1 0zM304.2 350a1.5 1.5 0 1 0 .1 0zM304.2 356.5a1.5 1.5 0 1 0 .1 0zM304.2 382.75a1.5 1.5 0 1 0 .1 0zM304.45 337a1.5 1.5 0 1 0 .1 0zM304.45 358.25a1.5 1.5 0 1 0 .1 0zM304.45 360.5a1.5 1.5 0 1 0 .1 0zM304.45 361a1.5 1.5 0 1 0 .1 0zM304.7 357a1.5 1.5 0 1 0 .1 0zM304.7 361.75a1.5 1.5 0 1 0 .1 0zM304.7 368.5a1.5 1.5 0 1 0 .1 0zM304.7 380a1.5 1.5 0 1 0 .1 0zM304.95 331.25a1.5 1.5 0 1 0 .1 0zM304.95 344a1.5 1.5 0 1 0 .1 0zM304.95 370.5a1.5 1.5 0 1 0 .1 0zM304.95 382.75a1.5 1.5 0 1 0 .1 0zM304.95 383.5a1.5 1.5 0 1 0 .1 0zM305.2 344a1.5 1.5 0 1 0 .1 0zM305.2 344.75a1.5 1.5 0 1 0 .1 0zM305.2 345.75a1.5 1.5 0 1 0 .1 0zM305.2 392.25a1.5 1.5 0 1 0 .1 0zM305.45 347.5a1.5 1.5 0 1 0 .1 0zM305.45 370a1.5 1.5 0 1 0 .1 0zM305.45 374.5a1.5 1.5 0 1 0 .1 0zM305.45 394.75a1.5 1.5 0 1 0 .1 0zM305.7 372.75a1.5 1.5 0 1 0 .1 0zM305.7 379a1.5 1.5 0 1 0 .1 0zM305.7 386a1.5 1.5 0 1 0 .1 0zM305.7 390.25a1.5 1.5 0 1 0 .1 0zM305.7 417a1.5 1.5 0 1 0 .1 0zM305.95 346.5a1.5 1.5 0 1 0 .1 0zM305.95 356.5a1.5 1.5 0 1 0 .1 0zM305.95 360.25a1.5 1.5 0 1 0 .1 0zM305.95 363a1.5 1.5 0 1 0 .1 0zM305.95 376a1.5 1.5 0 1 0 .1 0zM306.2 343a1.5 1.5 0 1 0 .1 0zM306.2 345a1.5 1.5 0 1 0 .1 0zM306.2 353.5a1.5 1.5 0 1 0 .1 0zM306.2 366.75a1.5 1.5 0 1 0 .1 0zM306.45 345a1.5 1.5 0 1 0 .1 0zM306.45 355.25a1.5 1.5 0 1 0 .1 0zM306.45 358.5a1.5 1.5 0 1 0 .1 0zM306.45 383.5a1.5 1.5 0 1 0 .1 0zM306.7 361.25a1.5 1.5 0 1 0 .1 0zM306.7 369.75a1.5 1.5 0 1 0 .1 0zM306.7 383.5a1.5 1.5 0 1 0 .1 0zM306.7 392a1.5 1.5 0 1 0 .1 0zM306.95 350.25a1.5 1.5 0 1 0 .1 0zM306.95 356a1.5 1.5 0 1 0 .1 0zM306.95 386.5a1.5 1.5 0 1 0 .1 0zM306.95 388.25a1.5 1.5 0 1 0 .1 0zM306.95 396.25a1.5 1.5 0 1 0 .1 0zM307.2 349.5a1.5 1.5 0 1 0 .1 0zM307.2 356.25a1.5 1.5 0 1 0 .1 0zM307.2 359.75a1.5 1.5 0 1 0 .1 0zM307.2 370.75a1.5 1.5 0 1 0 .1 0zM307.45 375.75a1.5 1.5 0 1 0 .1 0zM307.45 376a1.5 1.5 0 1 0 .1 0zM307.45 378.5a1.5 1.5 0 1 0 .1 0zM307.45 384.25a1.5 1.5 0 1 0 .1 0zM307.7 374.75a1.5 1.5 0 1 0 .1 0zM307.7 376.5a1.5 1.5 0 1 0 .1 0zM307.7 381.5a1.5 1.5 0 1 0 .1 0zM307.7 385.25a1.5 1.5 0 1 0 .1 0zM307.95 345.5a1.5 1.5 0 1 0 .1 0zM307.95 368.75a1.5 1.5 0 1 0 .1 0zM307.95 370.5a1.5 1.5 0 1 0 .1 0zM307.95 381.25a1.5 1.5 0 1 0 .1 0zM307.95 392.5a1.5 1.5 0 1 0 .1 0zM308.2 355.5a1.5 1.5 0 1 0 .1 0zM308.2 360.25a1.5 1.5 0 1 0 .1 0zM308.2 369.5a1.5 1.5 0 1 0 .1 0zM308.2 372.5a1.5 1.5 0 1 0 .1 0zM308.45 352.75a1.5 1.5 0 1 0 .1 0zM308.45 368.25a1.5 1.5 0 1 0 .1 0zM308.45 371.5a1.5 1.5 0 1 0 .1 0zM308.45 380.25a1.5 1.5 0 1 0 .1 0zM308.7 354.75a1.5 1.5 0 1 0 .1 0zM308.7 362.5a1.5 1.5 0 1 0 .1 0zM308.7 366.75a1.5 1.5 0 1 0 .1 0zM308.7 385.25a1.5 1.5 0 1 0 .1 0zM308.95 358a1.5 1.5 0 1 0 .1 0zM308.95 371.5a1.5 1.5 0 1 0 .1 0zM308.95 375a1.5 1.5 0 1 0 .1 0zM308.95 377.75a1.5 1.5 0 1 0 .1 0zM308.95 395.25a1.5 1.5 0 1 0 .1 0zM309.2 378.75a1.5 1.5 0 1 0 .1 0zM309.2 385.5a1.5 1.5 0 1 0 .1 0zM309.2 388.75a1.5 1.5 0 1 0 .1 0zM309.2 401.5a1.5 1.5 0 1 0 .1 0zM309.45 351.75a1.5 1.5 0 1 0 .1 0zM309.45 392a1.5 1.5 0 1 0 .1 0zM309.45 398a1.5 1.5 0 1 0 .1 0zM309.7 345.5a1.5 1.5 0 1 0 .1 0zM309.7 354.5a1.5 1.5 0 1 0 .1 0zM309.7 372.25a1.5 1.5 0 1 0 .1 0zM309.7 379.25a1.5 1.5 0 1 0 .1 0zM309.95 377a1.5 1.5 0 1 0 .1 0zM309.95 379.25a1.5 1.5 0 1 0 .1 0zM309.95 383.25a1.5 1.5 0 1 0 .1 0zM309.95 386.75a1.5 1.5 0 1 0 .1 0zM309.95 400.5a1.5 1.5 0 1 0 .1 0zM310.2 348.25a1.5 1.5 0 1 0 .1 0zM310.2 362a1.5 1.5 0 1 0 .1 0zM310.2 371.25a1.5 1.5 0 1 0 .1 0zM310.2 378.5a1.5 1.5 0 1 0 .1 0zM310.45 361a1.5 1.5 0 1 0 .1 0zM310.45 375.25a1.5 1.5 0 1 0 .1 0zM310.45 388.5a1.5 1.5 0 1 0 .1 0zM310.45 391.5a1.5 1.5 0 1 0 .1 0zM310.7 379.5a1.5 1.5 0 1 0 .1 0zM310.7 383.75a1.5 1.5 0 1 0 .1 0zM310.7 385.25a1.5 1.5 0 1 0 .1 0zM310.7 393.25a1.5 1.5 0 1 0 .1 0zM310.95 336.25a1.5 1.5 0 1 0 .1 0zM310.95 343.25a1.5 1.5 0 1 0 .1 0zM310.95 377.25a1.5 1.5 0 1 0 .1 0zM310.95 386a1.5 1.5 0 1 0 .1 0zM310.95 411.5a1.5 1.5 0 1 0 .1 0zM311.2 377.75a1.5 1.5 0 1 0 .1 0zM311.2 378.75a1.5 1.5 0 1 0 .1 0zM311.2 380.5a1.5 1.5 0 1 0 .1 0zM311.2 390.25a1.5 1.5 0 1 0 .1 0zM311.45 366a1.5 1.5 0 1 0 .1 0zM311.45 370.5a1.5 1.5 0 1 0 .1 0zM311.45 375.75a1.5 1.5 0 1 0 .1 0zM311.45 380.5a1.5 1.5 0 1 0 .1 0zM311.7 370.5a1.5 1.5 0 1 0 .1 0zM311.7 373.25a1.5 1.5 0 1 0 .1 0zM311.7 394.5a1.5 1.5 0 1 0 .1 0zM311.7 399a1.5 1.5 0 1 0 .1 0zM311.95 355.25a1.5 1.5 0 1 0 .1 0zM311.95 367.5a1.5 1.5 0 1 0 .1 0zM311.95 370.5a1.5 1.5 0 1 0 .1 0zM311.95 372a1.5 1.5 0 1 0 .1 0zM311.95 404.75a1.5 1.5 0 1 0 .1 0zM312.2 380a1.5 1.5 0 1 0 .1 0zM312.2 395.75a1.5 1.5 0 1 0 .1 0zM312.2 405a1.5 1.5 0 1 0 .1 0zM312.2 410.5a1.5 1.5 0 1 0 .1 0zM312.45 377.25a1.5 1.5 0 1 0 .1 0zM312.45 385.75a1.5 1.5 0 1 0 .1 0zM312.45 390.25a1.5 1.5 0 1 0 .1 0zM312.45 403.5a1.5 1.5 0 1 0 .1 0zM312.7 370.25a1.5 1.5 0 1 0 .1 0zM312.7 392.25a1.5 1.5 0 1 0 .1 0zM312.7 402.75a1.5 1.5 0 1 0 .1 0zM312.7 411a1.5 1.5 0 1 0 .1 0zM312.95 350.75a1.5 1.5 0 1 0 .1 0zM312.95 353.5a1.5 1.5 0 1 0 .1 0zM312.95 360a1.5 1.5 0 1 0 .1 0zM312.95 391.75a1.5 1.5 0 1 0 .1 0zM312.95 396a1.5 1.5 0 1 0 .1 0zM312.95 421.75a1.5 1.5 0 1 0 .1 0zM313.2 365.75a1.5 1.5 0 1 0 .1 0zM313.2 384.5a1.5 1.5 0 1 0 .1 0zM313.2 389a1.5 1.5 0 1 0 .1 0zM313.2 399.5a1.5 1.5 0 1 0 .1 0zM313.45 340a1.5 1.5 0 1 0 .1 0zM313.45 342a1.5 1.5 0 1 0 .1 0zM313.45 369a1.5 1.5 0 1 0 .1 0zM313.45 383a1.5 1.5 0 1 0 .1 0zM313.7 383.5a1.5 1.5 0 1 0 .1 0zM313.7 383.75a1.5 1.5 0 1 0 .1 0zM313.7 384.5a1.5 1.5 0 1 0 .1 0zM313.7 387.25a1.5 1.5 0 1 0 .1 0zM313.95 355a1.5 1.5 0 1 0 .1 0zM313.95 386a1.5 1.5 0 1 0 .1 0zM313.95 386.5a1.5 1.5 0 1 0 .1 0zM313.95 401.25a1.5 1.5 0 1 0 .1 0zM313.95 410.25a1.5 1.5 0 1 0 .1 0zM314.2 312.75a1.5 1.5 0 1 0 .1 0zM314.2 355.75a1.5 1.5 0 1 0 .1 0zM314.2 381a1.5 1.5 0 1 0 .1 0zM314.2 400.25a1.5 1.5 0 1 0 .1 0zM314.45 350a1.5 1.5 0 1 0 .1 0zM314.45 376.5a1.5 1.5 0 1 0 .1 0zM314.45 378.25a1.5 1.5 0 1 0 .1 0zM314.45 394.75a1.5 1.5 0 1 0 .1 0zM314.7 330a1.5 1.5 0 1 0 .1 0zM314.7 378.25a1.5 1.5 0 1 0 .1 0zM314.7 379.75a1.5 1.5 0 1 0 .1 0zM314.7 394.5a1.5 1.5 0 1 0 .1 0zM314.7 401a1.5 1.5 0 1 0 .1 0zM314.95 350.5a1.5 1.5 0 1 0 .1 0zM314.95 354.25a1.5 1.5 0 1 0 .1 0zM314.95 375.5a1.5 1.5 0 1 0 .1 0zM314.95 377.25a1.5 1.5 0 1 0 .1 0zM314.95 379a1.5 1.5 0 1 0 .1 0zM315.2 342a1.5 1.5 0 1 0 .1 0zM315.2 344.75a1.5 1.5 0 1 0 .1 0zM315.2 358a1.5 1.5 0 1 0 .1 0zM315.2 400.5a1.5 1.5 0 1 0 .1 0zM315.45 336a1.5 1.5 0 1 0 .1 0zM315.45 358.5a1.5 1.5 0 1 0 .1 0zM315.45 385.25a1.5 1.5 0 1 0 .1 0zM315.45 387a1.5 1.5 0 1 0 .1 0zM315.7 369a1.5 1.5 0 1 0 .1 0zM315.7 383.25a1.5 1.5 0 1 0 .1 0zM315.7 386.25a1.5 1.5 0 1 0 .1 0zM315.7 395.75a1.5 1.5 0 1 0 .1 0zM315.95 345.75a1.5 1.5 0 1 0 .1 0zM315.95 352.75a1.5 1.5 0 1 0 .1 0zM315.95 375a1.5 1.5 0 1 0 .1 0zM315.95 392.75a1.5 1.5 0 1 0 .1 0zM315.95 410.5a1.5 1.5 0 1 0 .1 0zM316.2 358.5a1.5 1.5 0 1 0 .1 0zM316.2 363a1.5 1.5 0 1 0 .1 0zM316.2 381.75a1.5 1.5 0 1 0 .1 0zM316.2 392.75a1.5 1.5 0 1 0 .1 0zM316.45 357.25a1.5 1.5 0 1 0 .1 0zM316.45 364.25a1.5 1.5 0 1 0 .1 0zM316.45 408.25a1.5 1.5 0 1 0 .1 0zM316.45 413.5a1.5 1.5 0 1 0 .1 0zM316.7 370.75a1.5 1.5 0 1 0 .1 0zM316.7 391.75a1.5 1.5 0 1 0 .1 0zM316.7 404.75a1.5 1.5 0 1 0 .1 0zM316.7 406.5a1.5 1.5 0 1 0 .1 0zM316.95 357.75a1.5 1.5 0 1 0 .1 0zM316.95 375.75a1.5 1.5 0 1 0 .1 0zM316.95 378.25a1.5 1.5 0 1 0 .1 0zM316.95 379a1.5 1.5 0 1 0 .1 0zM316.95 398.75a1.5 1.5 0 1 0 .1 0zM317.2 366.75a1.5 1.5 0 1 0 .1 0zM317.2 373.25a1.5 1.5 0 1 0 .1 0zM317.2 373.75a1.5 1.5 0 1 0 .1 0zM317.2 398.75a1.5 1.5 0 1 0 .1 0zM317.45 389a1.5 1.5 0 1 0 .1 0zM317.45 415.75a1.5 1.5 0 1 0 .1 0zM317.45 430a1.5 1.5 0 1 0 .1 0zM317.45 430.5a1.5 1.5 0 1 0 .1 0zM317.7 367a1.5 1.5 0 1 0 .1 0zM317.7 376a1.5 1.5 0 1 0 .1 0zM317.7 397.5a1.5 1.5 0 1 0 .1 0zM317.7 426.75a1.5 1.5 0 1 0 .1 0zM317.95 363.5a1.5 1.5 0 1 0 .1 0zM317.95 386.25a1.5 1.5 0 1 0 .1 0zM317.95 396.75a1.5 1.5 0 1 0 .1 0zM317.95 398a1.5 1.5 0 1 0 .1 0zM317.95 408.75a1.5 1.5 0 1 0 .1 0zM318.2 385a1.5 1.5 0 1 0 .1 0zM318.2 398.5a1.5 1.5 0 1 0 .1 0zM318.2 407.25a1.5 1.5 0 1 0 .1 0zM318.2 423.75a1.5 1.5 0 1 0 .1 0zM318.2 440.25a1.5 1.5 0 1 0 .1 0zM318.45 394.25a1.5 1.5 0 1 0 .1 0zM318.45 404a1.5 1.5 0 1 0 .1 0zM318.45 405.75a1.5 1.5 0 1 0 .1 0zM318.45 436.25a1.5 1.5 0 1 0 .1 0zM318.7 371.75a1.5 1.5 0 1 0 .1 0zM318.7 373.5a1.5 1.5 0 1 0 .1 0zM318.7 376a1.5 1.5 0 1 0 .1 0zM318.7 424a1.5 1.5 0 1 0 .1 0zM318.95 381a1.5 1.5 0 1 0 .1 0zM318.95 387.75a1.5 1.5 0 1 0 .1 0zM318.95 399.5a1.5 1.5 0 1 0 .1 0zM318.95 410a1.5 1.5 0 1 0 .1 0zM318.95 434.75a1.5 1.5 0 1 0 .1 0zM319.2 374.75a1.5 1.5 0 1 0 .1 0zM319.2 395.25a1.5 1.5 0 1 0 .1 0zM319.2 413.5a1.5 1.5 0 1 0 .1 0zM319.2 416.25a1.5 1.5 0 1 0 .1 0zM319.45 389.25a1.5 1.5 0 1 0 .1 0zM319.45 398.75a1.5 1.5 0 1 0 .1 0zM319.45 406.75a1.5 1.5 0 1 0 .1 0zM319.45 409.25a1.5 1.5 0 1 0 .1 0zM319.7 372.75a1.5 1.5 0 1 0 .1 0zM319.7 376.25a1.5 1.5 0 1 0 .1 0zM319.7 390.25a1.5 1.5 0 1 0 .1 0zM319.7 414.25a1.5 1.5 0 1 0 .1 0zM319.95 370.75a1.5 1.5 0 1 0 .1 0zM319.95 382.5a1.5 1.5 0 1 0 .1 0zM319.95 407a1.5 1.5 0 1 0 .1 0zM319.95 415.5a1.5 1.5 0 1 0 .1 0zM319.95 428a1.5 1.5 0 1 0 .1 0zM320.2 374.25a1.5 1.5 0 1 0 .1 0zM320.2 384.75a1.5 1.5 0 1 0 .1 0zM320.2 399a1.5 1.5 0 1 0 .1 0zM320.2 420.5a1.5 1.5 0 1 0 .1 0zM320.45 374.75a1.5 1.5 0 1 0 .1 0zM320.45 401.25a1.5 1.5 0 1 0 .1 0zM320.45 408.25a1.5 1.5 0 1 0 .1 0zM320.45 420.5a1.5 1.5 0 1 0 .1 0zM320.7 394a1.5 1.5 0 1 0 .1 0zM320.7 400a1.5 1.5 0 1 0 .1 0zM320.7 411.75a1.5 1.5 0 1 0 .1 0zM320.7 424a1.5 1.5 0 1 0 .1 0zM320.95 386.75a1.5 1.5 0 1 0 .1 0zM320.95 407a1.5 1.5 0 1 0 .1 0zM320.95 407.25a1.5 1.5 0 1 0 .1 0zM320.95 413.75a1.5 1.5 0 1 0 .1 0zM320.95 417a1.5 1.5 0 1 0 .1 0zM320.95 435a1.5 1.5 0 1 0 .1 0zM321.2 394.25a1.5 1.5 0 1 0 .1 0zM321.2 400.5a1.5 1.5 0 1 0 .1 0zM321.2 413.75a1.5 1.5 0 1 0 .1 0zM321.2 420.5a1.5 1.5 0 1 0 .1 0zM321.45 379.25a1.5 1.5 0 1 0 .1 0zM321.45 392.25a1.5 1.5 0 1 0 .1 0zM321.45 398.75a1.5 1.5 0 1 0 .1 0zM321.45 430.25a1.5 1.5 0 1 0 .1 0zM321.7 379.75a1.5 1.5 0 1 0 .1 0zM321.7 389.75a1.5 1.5 0 1 0 .1 0zM321.7 392.75a1.5 1.5 0 1 0 .1 0zM321.7 404.75a1.5 1.5 0 1 0 .1 0zM321.95 382.75a1.5 1.5 0 1 0 .1 0zM321.95 384.25a1.5 1.5 0 1 0 .1 0zM321.95 396.75a1.5 1.5 0 1 0 .1 0zM321.95 407.25a1.5 1.5 0 1 0 .1 0zM321.95 423a1.5 1.5 0 1 0 .1 0zM322.2 361a1.5 1.5 0 1 0 .1 0zM322.2 374.25a1.5 1.5 0 1 0 .1 0zM322.2 407a1.5 1.5 0 1 0 .1 0zM322.2 407.75a1.5 1.5 0 1 0 .1 0zM322.45 378.75a1.5 1.5 0 1 0 .1 0zM322.45 409a1.5 1.5 0 1 0 .1 0zM322.45 415.75a1.5 1.5 0 1 0 .1 0zM322.45 433.25a1.5 1.5 0 1 0 .1 0zM322.45 435.5a1.5 1.5 0 1 0 .1 0zM322.7 363a1.5 1.5 0 1 0 .1 0zM322.7 389.25a1.5 1.5 0 1 0 .1 0zM322.7 413a1.5 1.5 0 1 0 .1 0zM322.7 413.75a1.5 1.5 0 1 0 .1 0zM322.7 417a1.5 1.5 0 1 0 .1 0zM322.95 383.75a1.5 1.5 0 1 0 .1 0zM322.95 397.5a1.5 1.5 0 1 0 .1 0zM322.95 399a1.5 1.5 0 1 0 .1 0zM322.95 408a1.5 1.5 0 1 0 .1 0zM323.2 374.75a1.5 1.5 0 1 0 .1 0zM323.2 380.75a1.5 1.5 0 1 0 .1 0zM323.2 398.25a1.5 1.5 0 1 0 .1 0zM323.2 407a1.5 1.5 0 1 0 .1 0zM323.45 383a1.5 1.5 0 1 0 .1 0zM323.45 387.5a1.5 1.5 0 1 0 .1 0zM323.45 399.25a1.5 1.5 0 1 0 .1 0zM323.45 407.75a1.5 1.5 0 1 0 .1 0zM323.7 385.75a1.5 1.5 0 1 0 .1 0zM323.7 386.25a1.5 1.5 0 1 0 .1 0zM323.7 398a1.5 1.5 0 1 0 .1 0zM323.7 400.25a1.5 1.5 0 1 0 .1 0zM323.7 413.25a1.5 1.5 0 1 0 .1 0zM323.95 369.75a1.5 1.5 0 1 0 .1 0zM323.95 387.5a1.5 1.5 0 1 0 .1 0zM323.95 390.25a1.5 1.5 0 1 0 .1 0zM323.95 392.75a1.5 1.5 0 1 0 .1 0zM324.2 369a1.5 1.5 0 1 0 .1 0zM324.2 370.5a1.5 1.5 0 1 0 .1 0zM324.2 372.75a1.5 1.5 0 1 0 .1 0zM324.2 397.25a1.5 1.5 0 1 0 .1 0zM324.45 385.25a1.5 1.5 0 1 0 .1 0zM324.45 388.75a1.5 1.5 0 1 0 .1 0zM324.45 402.75a1.5 1.5 0 1 0 .1 0zM324.45 409.25a1.5 1.5 0 1 0 .1 0zM324.7 351a1.5 1.5 0 1 0 .1 0zM324.7 368.5a1.5 1.5 0 1 0 .1 0zM324.7 375a1.5 1.5 0 1 0 .1 0zM324.7 387.25a1.5 1.5 0 1 0 .1 0zM324.7 411a1.5 1.5 0 1 0 .1 0zM324.95 354.5a1.5 1.5 0 1 0 .1 0zM324.95 385.5a1.5 1.5 0 1 0 .1 0zM324.95 394a1.5 1.5 0 1 0 .1 0zM324.95 397.25a1.5 1.5 0 1 0 .1 0zM325.2 361.75a1.5 1.5 0 1 0 .1 0zM325.2 377.25a1.5 1.5 0 1 0 .1 0zM325.2 381a1.5 1.5 0 1 0 .1 0zM325.2 407.75a1.5 1.5 0 1 0 .1 0zM325.45 366.25a1.5 1.5 0 1 0 .1 0zM325.45 378a1.5 1.5 0 1 0 .1 0zM325.45 380.5a1.5 1.5 0 1 0 .1 0zM325.45 385.5a1.5 1.5 0 1 0 .1 0zM325.7 375.25a1.5 1.5 0 1 0 .1 0zM325.7 380.25a1.5 1.5 0 1 0 .1 0zM325.7 386.5a1.5 1.5 0 1 0 .1 0zM325.7 396.75a1.5 1.5 0 1 0 .1 0zM325.7 398.5a1.5 1.5 0 1 0 .1 0zM325.95 358.75a1.5 1.5 0 1 0 .1 0zM325.95 380.5a1.5 1.5 0 1 0 .1 0zM325.95 393.75a1.5 1.5 0 1 0 .1 0zM326.2 352.25a1.5 1.5 0 1 0 .1 0zM326.2 368.25a1.5 1.5 0 1 0 .1 0zM326.2 383.75a1.5 1.5 0 1 0 .1 0zM326.2 387a1.5 1.5 0 1 0 .1 0zM326.45 374a1.5 1.5 0 1 0 .1 0zM326.45 377.25a1.5 1.5 0 1 0 .1 0zM326.45 385a1.5 1.5 0 1 0 .1 0zM326.45 407.25a1.5 1.5 0 1 0 .1 0zM326.7 370.25a1.5 1.5 0 1 0 .1 0zM326.7 378.5a1.5 1.5 0 1 0 .1 0zM326.7 393.25a1.5 1.5 0 1 0 .1 0zM326.7 407.5a1.5 1.5 0 1 0 .1 0zM326.7 416a1.5 1.5 0 1 0 .1 0zM326.95 381.75a1.5 1.5 0 1 0 .1 0zM326.95 384.5a1.5 1.5 0 1 0 .1 0zM326.95 392.75a1.5 1.5 0 1 0 .1 0zM326.95 414.25a1.5 1.5 0 1 0 .1 0zM327.2 371a1.5 1.5 0 1 0 .1 0zM327.2 377a1.5 1.5 0 1 0 .1 0zM327.2 381.5a1.5 1.5 0 1 0 .1 0zM327.2 402a1.5 1.5 0 1 0 .1 0zM327.45 372.25a1.5 1.5 0 1 0 .1 0zM327.45 400.75a1.5 1.5 0 1 0 .1 0zM327.45 402.75a1.5 1.5 0 1 0 .1 0zM327.45 406.25a1.5 1.5 0 1 0 .1 0zM327.7 351.5a1.5 1.5 0 1 0 .1 0zM327.7 358.25a1.5 1.5 0 1 0 .1 0zM327.7 375a1.5 1.5 0 1 0 .1 0zM327.7 378.75a1.5 1.5 0 1 0 .1 0zM327.7 387.5a1.5 1.5 0 1 0 .1 0zM327.95 361.75a1.5 1.5 0 1 0 .1 0zM327.95 396.5a1.5 1.5 0 1 0 .1 0zM327.95 400.5a1.5 1.5 0 1 0 .1 0zM327.95 411a1.5 1.5 0 1 0 .1 0zM328.2 366.5a1.5 1.5 0 1 0 .1 0zM328.2 378.75a1.5 1.5 0 1 0 .1 0zM328.2 382.5a1.5 1.5 0 1 0 .1 0zM328.2 390.75a1.5 1.5 0 1 0 .1 0zM328.45 362a1.5 1.5 0 1 0 .1 0zM328.45 365a1.5 1.5 0 1 0 .1 0zM328.45 390.75a1.5 1.5 0 1 0 .1 0zM328.45 401.5a1.5 1.5 0 1 0 .1 0zM328.7 370.75a1.5 1.5 0 1 0 .1 0zM328.7 374.25a1.5 1.5 0 1 0 .1 0zM328.7 386.75a1.5 1.5 0 1 0 .1 0zM328.7 390.5a1.5 1.5 0 1 0 .1 0zM328.7 400a1.5 1.5 0 1 0 .1 0zM328.95 379a1.5 1.5 0 1 0 .1 0zM328.95 391.75a1.5 1.5 0 1 0 .1 0zM328.95 397.25a1.5 1.5 0 1 0 .1 0zM328.95 402.25a1.5 1.5 0 1 0 .1 0zM329.2 368a1.5 1.5 0 1 0 .1 0zM329.2 387.5a1.5 1.5 0 1 0 .1 0zM329.2 391.5a1.5 1.5 0 1 0 .1 0zM329.2 407.5a1.5 1.5 0 1 0 .1 0zM329.45 365.75a1.5 1.5 0 1 0 .1 0zM329.45 376.75a1.5 1.5 0 1 0 .1 0zM329.45 378.25a1.5 1.5 0 1 0 .1 0zM329.45 382.5a1.5 1.5 0 1 0 .1 0zM329.7 371.75a1.5 1.5 0 1 0 .1 0zM329.7 390.25a1.5 1.5 0 1 0 .1 0zM329.7 397.5a1.5 1.5 0 1 0 .1 0zM329.7 399a1.5 1.5 0 1 0 .1 0zM329.7 412.25a1.5 1.5 0 1 0 .1 0zM329.95 377.75a1.5 1.5 0 1 0 .1 0zM329.95 380.25a1.5 1.5 0 1 0 .1 0zM329.95 390.75a1.5 1.5 0 1 0 .1 0zM329.95 399.75a1.5 1.5 0 1 0 .1 0zM330.2 393.75a1.5 1.5 0 1 0 .1 0zM330.2 398.75a1.5 1.5 0 1 0 .1 0zM330.2 420a1.5 1.5 0 1 0 .1 0zM330.2 426a1.5 1.5 0 1 0 .1 0zM330.45 391.75a1.5 1.5 0 1 0 .1 0zM330.45 394.25a1.5 1.5 0 1 0 .1 0zM330.45 398.25a1.5 1.5 0 1 0 .1 0zM330.45 406.5a1.5 1.5 0 1 0 .1 0zM330.7 374.5a1.5 1.5 0 1 0 .1 0zM330.7 393.25a1.5 1.5 0 1 0 .1 0zM330.7 393.75a1.5 1.5 0 1 0 .1 0zM330.7 403.5a1.5 1.5 0 1 0 .1 0zM330.7 420a1.5 1.5 0 1 0 .1 0zM330.95 372.5a1.5 1.5 0 1 0 .1 0zM330.95 384.5a1.5 1.5 0 1 0 .1 0zM330.95 404.75a1.5 1.5 0 1 0 .1 0zM330.95 416.25a1.5 1.5 0 1 0 .1 0zM331.2 373.5a1.5 1.5 0 1 0 .1 0zM331.2 397.25a1.5 1.5 0 1 0 .1 0zM331.2 399a1.5 1.5 0 1 0 .1 0zM331.2 417.25a1.5 1.5 0 1 0 .1 0zM331.45 393a1.5 1.5 0 1 0 .1 0zM331.45 399.25a1.5 1.5 0 1 0 .1 0zM331.45 406.5a1.5 1.5 0 1 0 .1 0zM331.45 418.75a1.5 1.5 0 1 0 .1 0zM331.7 373a1.5 1.5 0 1 0 .1 0zM331.7 385.5a1.5 1.5 0 1 0 .1 0zM331.7 392.25a1.5 1.5 0 1 0 .1 0zM331.7 394a1.5 1.5 0 1 0 .1 0zM331.7 410.5a1.5 1.5 0 1 0 .1 0zM331.95 371.5a1.5 1.5 0 1 0 .1 0zM331.95 385.25a1.5 1.5 0 1 0 .1 0zM331.95 394.75a1.5 1.5 0 1 0 .1 0zM331.95 408.75a1.5 1.5 0 1 0 .1 0zM332.2 388.5a1.5 1.5 0 1 0 .1 0zM332.2 388.75a1.5 1.5 0 1 0 .1 0zM332.2 413.25a1.5 1.5 0 1 0 .1 0zM332.2 426.5a1.5 1.5 0 1 0 .1 0zM332.45 365.75a1.5 1.5 0 1 0 .1 0zM332.45 371.25a1.5 1.5 0 1 0 .1 0zM332.45 380.5a1.5 1.5 0 1 0 .1 0zM332.45 398.75a1.5 1.5 0 1 0 .1 0zM332.7 368.25a1.5 1.5 0 1 0 .1 0zM332.7 372a1.5 1.5 0 1 0 .1 0zM332.7 385.75a1.5 1.5 0 1 0 .1 0zM332.7 398.5a1.5 1.5 0 1 0 .1 0zM332.7 413.75a1.5 1.5 0 1 0 .1 0zM332.95 381a1.5 1.5 0 1 0 .1 0zM332.95 406.75a1.5 1.5 0 1 0 .1 0zM332.95 410.25a1.5 1.5 0 1 0 .1 0zM332.95 414a1.5 1.5 0 1 0 .1 0zM333.2 372.5a1.5 1.5 0 1 0 .1 0zM333.2 391a1.5 1.5 0 1 0 .1 0zM333.2 398a1.5 1.5 0 1 0 .1 0zM333.2 416.5a1.5 1.5 0 1 0 .1 0zM333.45 376.25a1.5 1.5 0 1 0 .1 0zM333.45 404.25a1.5 1.5 0 1 0 .1 0zM333.45 410.75a1.5 1.5 0 1 0 .1 0zM333.45 420.25a1.5 1.5 0 1 0 .1 0zM333.7 382.75a1.5 1.5 0 1 0 .1 0zM333.7 383.75a1.5 1.5 0 1 0 .1 0zM333.7 389a1.5 1.5 0 1 0 .1 0zM333.7 392.75a1.5 1.5 0 1 0 .1 0zM333.7 423.25a1.5 1.5 0 1 0 .1 0zM333.95 361.75a1.5 1.5 0 1 0 .1 0zM333.95 380.75a1.5 1.5 0 1 0 .1 0zM333.95 381.75a1.5 1.5 0 1 0 .1 0zM333.95 415a1.5 1.5 0 1 0 .1 0zM334.2 371a1.5 1.5 0 1 0 .1 0zM334.2 389.25a1.5 1.5 0 1 0 .1 0zM334.2 401.25a1.5 1.5 0 1 0 .1 0zM334.2 428.5a1.5 1.5 0 1 0 .1 0zM334.45 378.5a1.5 1.5 0 1 0 .1 0zM334.45 388.25a1.5 1.5 0 1 0 .1 0zM334.45 388.75a1.5 1.5 0 1 0 .1 0zM334.45 431a1.5 1.5 0 1 0 .1 0zM334.7 393.75a1.5 1.5 0 1 0 .1 0zM334.7 400.25a1.5 1.5 0 1 0 .1 0zM334.7 406.5a1.5 1.5 0 1 0 .1 0zM334.7 408.75a1.5 1.5 0 1 0 .1 0zM334.7 427a1.5 1.5 0 1 0 .1 0zM334.95 337a1.5 1.5 0 1 0 .1 0zM334.95 376.75a1.5 1.5 0 1 0 .1 0zM334.95 377.75a1.5 1.5 0 1 0 .1 0zM334.95 399.75a1.5 1.5 0 1 0 .1 0zM334.95 416a1.5 1.5 0 1 0 .1 0zM334.95 433a1.5 1.5 0 1 0 .1 0zM335.2 373a1.5 1.5 0 1 0 .1 0zM335.2 394a1.5 1.5 0 1 0 .1 0zM335.2 405a1.5 1.5 0 1 0 .1 0zM335.2 418.75a1.5 1.5 0 1 0 .1 0zM335.45 363a1.5 1.5 0 1 0 .1 0zM335.45 384.5a1.5 1.5 0 1 0 .1 0zM335.45 386.5a1.5 1.5 0 1 0 .1 0zM335.45 394.5a1.5 1.5 0 1 0 .1 0zM335.7 363.5a1.5 1.5 0 1 0 .1 0zM335.7 378.5a1.5 1.5 0 1 0 .1 0zM335.7 381.75a1.5 1.5 0 1 0 .1 0zM335.7 405a1.5 1.5 0 1 0 .1 0zM335.7 410.75a1.5 1.5 0 1 0 .1 0zM335.95 365.75a1.5 1.5 0 1 0 .1 0zM335.95 383.25a1.5 1.5 0 1 0 .1 0zM335.95 385.5a1.5 1.5 0 1 0 .1 0zM335.95 407a1.5 1.5 0 1 0 .1 0zM336.2 379a1.5 1.5 0 1 0 .1 0zM336.2 398a1.5 1.5 0 1 0 .1 0zM336.2 408.25a1.5 1.5 0 1 0 .1 0zM336.2 413.75a1.5 1.5 0 1 0 .1 0zM336.45 369.5a1.5 1.5 0 1 0 .1 0zM336.45 389.25a1.5 1.5 0 1 0 .1 0zM336.45 389.75a1.5 1.5 0 1 0 .1 0zM336.45 393.25a1.5 1.5 0 1 0 .1 0zM336.45 433a1.5 1.5 0 1 0 .1 0zM336.7 376.5a1.5 1.5 0 1 0 .1 0zM336.7 377a1.5 1.5 0 1 0 .1 0zM336.7 382.75a1.5 1.5 0 1 0 .1 0zM336.7 391.25a1.5 1.5 0 1 0 .1 0zM336.7 395a1.5 1.5 0 1 0 .1 0zM336.95 376a1.5 1.5 0 1 0 .1 0zM336.95 388.75a1.5 1.5 0 1 0 .1 0zM336.95 407.25a1.5 1.5 0 1 0 .1 0zM336.95 411.5a1.5 1.5 0 1 0 .1 0zM337.2 363.5a1.5 1.5 0 1 0 .1 0zM337.2 378.5a1.5 1.5 0 1 0 .1 0zM337.2 379.25a1.5 1.5 0 1 0 .1 0zM337.2 408.75a1.5 1.5 0 1 0 .1 0zM337.45 371.5a1.5 1.5 0 1 0 .1 0zM337.45 379.75a1.5 1.5 0 1 0 .1 0zM337.45 408.25a1.5 1.5 0 1 0 .1 0zM337.45 412.25a1.5 1.5 0 1 0 .1 0zM337.7 375.75a1.5 1.5 0 1 0 .1 0zM337.7 382.75a1.5 1.5 0 1 0 .1 0zM337.7 404.25a1.5 1.5 0 1 0 .1 0zM337.7 407.25a1.5 1.5 0 1 0 .1 0zM337.7 413.75a1.5 1.5 0 1 0 .1 0zM337.95 355a1.5 1.5 0 1 0 .1 0zM337.95 357.75a1.5 1.5 0 1 0 .1 0zM337.95 383a1.5 1.5 0 1 0 .1 0zM337.95 419.25a1.5 1.5 0 1 0 .1 0zM338.2 348a1.5 1.5 0 1 0 .1 0zM338.2 363.75a1.5 1.5 0 1 0 .1 0zM338.2 365.5a1.5 1.5 0 1 0 .1 0zM338.2 396a1.5 1.5 0 1 0 .1 0zM338.45 370.25a1.5 1.5 0 1 0 .1 0zM338.45 410.5a1.5 1.5 0 1 0 .1 0zM338.45 411.5a1.5 1.5 0 1 0 .1 0zM338.7 357.25a1.5 1.5 0 1 0 .1 0zM338.7 373.75a1.5 1.5 0 1 0 .1 0zM338.7 378.5a1.5 1.5 0 1 0 .1 0zM338.7 390.25a1.5 1.5 0 1 0 .1 0zM338.7 418.75a1.5 1.5 0 1 0 .1 0zM338.95 389.5a1.5 1.5 0 1 0 .1 0zM338.95 397.5a1.5 1.5 0 1 0 .1 0zM338.95 398.5a1.5 1.5 0 1 0 .1 0zM338.95 417.75a1.5 1.5 0 1 0 .1 0zM339.2 350.25a1.5 1.5 0 1 0 .1 0zM339.2 357.75a1.5 1.5 0 1 0 .1 0zM339.2 387.75a1.5 1.5 0 1 0 .1 0zM339.2 404.75a1.5 1.5 0 1 0 .1 0zM339.45 370.75a1.5 1.5 0 1 0 .1 0zM339.45 381.75a1.5 1.5 0 1 0 .1 0zM339.45 398a1.5 1.5 0 1 0 .1 0zM339.45 411.25a1.5 1.5 0 1 0 .1 0zM339.7 370.25a1.5 1.5 0 1 0 .1 0zM339.7 371.75a1.5 1.5 0 1 0 .1 0zM339.7 389.75a1.5 1.5 0 1 0 .1 0zM339.7 411.75a1.5 1.5 0 1 0 .1 0zM339.7 416a1.5 1.5 0 1 0 .1 0zM339.95 361a1.5 1.5 0 1 0 .1 0zM339.95 383.5a1.5 1.5 0 1 0 .1 0zM339.95 397.5a1.5 1.5 0 1 0 .1 0zM339.95 398.25a1.5 1.5 0 1 0 .1 0zM340.2 379.75a1.5 1.5 0 1 0 .1 0zM340.2 382.25a1.5 1.5 0 1 0 .1 0zM340.2 391.25a1.5 1.5 0 1 0 .1 0zM340.2 422.5a1.5 1.5 0 1 0 .1 0zM340.45 371.5a1.5 1.5 0 1 0 .1 0zM340.45 390.25a1.5 1.5 0 1 0 .1 0zM340.45 391.5a1.5 1.5 0 1 0 .1 0zM340.45 400a1.5 1.5 0 1 0 .1 0zM340.7 394.75a1.5 1.5 0 1 0 .1 0zM340.7 396a1.5 1.5 0 1 0 .1 0zM340.7 399a1.5 1.5 0 1 0 .1 0zM340.7 402.5a1.5 1.5 0 1 0 .1 0zM340.7 422.5a1.5 1.5 0 1 0 .1 0zM340.95 360.75a1.5 1.5 0 1 0 .1 0zM340.95 389.5a1.5 1.5 0 1 0 .1 0zM340.95 395.75a1.5 1.5 0 1 0 .1 0zM340.95 405a1.5 1.5 0 1 0 .1 0zM341.2 365.75a1.5 1.5 0 1 0 .1 0zM341.2 381.75a1.5 1.5 0 1 0 .1 0zM341.2 404.75a1.5 1.5 0 1 0 .1 0zM341.2 408.75a1.5 1.5 0 1 0 .1 0zM341.45 362.25a1.5 1.5 0 1 0 .1 0zM341.45 417.5a1.5 1.5 0 1 0 .1 0zM341.45 422.75a1.5 1.5 0 1 0 .1 0zM341.45 426.5a1.5 1.5 0 1 0 .1 0zM341.7 379.75a1.5 1.5 0 1 0 .1 0zM341.7 385.75a1.5 1.5 0 1 0 .1 0zM341.7 386a1.5 1.5 0 1 0 .1 0zM341.7 388.25a1.5 1.5 0 1 0 .1 0zM341.7 391.25a1.5 1.5 0 1 0 .1 0zM341.95 356.5a1.5 1.5 0 1 0 .1 0zM341.95 360.25a1.5 1.5 0 1 0 .1 0zM341.95 393a1.5 1.5 0 1 0 .1 0zM341.95 396.5a1.5 1.5 0 1 0 .1 0zM342.2 376.75a1.5 1.5 0 1 0 .1 0zM342.2 389.75a1.5 1.5 0 1 0 .1 0zM342.2 398.5a1.5 1.5 0 1 0 .1 0zM342.2 398.75a1.5 1.5 0 1 0 .1 0zM342.45 364.25a1.5 1.5 0 1 0 .1 0zM342.45 380.5a1.5 1.5 0 1 0 .1 0zM342.45 416a1.5 1.5 0 1 0 .1 0zM342.45 422.5a1.5 1.5 0 1 0 .1 0zM342.7 393.5a1.5 1.5 0 1 0 .1 0zM342.7 404.25a1.5 1.5 0 1 0 .1 0zM342.7 411.75a1.5 1.5 0 1 0 .1 0zM342.7 413.5a1.5 1.5 0 1 0 .1 0zM342.7 416a1.5 1.5 0 1 0 .1 0zM342.95 373.75a1.5 1.5 0 1 0 .1 0zM342.95 418.5a1.5 1.5 0 1 0 .1 0zM342.95 433.5a1.5 1.5 0 1 0 .1 0zM342.95 433.75a1.5 1.5 0 1 0 .1 0zM343.2 372.5a1.5 1.5 0 1 0 .1 0zM343.2 401.75a1.5 1.5 0 1 0 .1 0zM343.2 410.5a1.5 1.5 0 1 0 .1 0zM343.2 413.75a1.5 1.5 0 1 0 .1 0zM343.45 369.75a1.5 1.5 0 1 0 .1 0zM343.45 373a1.5 1.5 0 1 0 .1 0zM343.45 384a1.5 1.5 0 1 0 .1 0zM343.45 404.5a1.5 1.5 0 1 0 .1 0zM343.7 377a1.5 1.5 0 1 0 .1 0zM343.7 380.25a1.5 1.5 0 1 0 .1 0zM343.7 385a1.5 1.5 0 1 0 .1 0zM343.7 393.5a1.5 1.5 0 1 0 .1 0zM343.7 410a1.5 1.5 0 1 0 .1 0zM343.95 380.75a1.5 1.5 0 1 0 .1 0zM343.95 407.5a1.5 1.5 0 1 0 .1 0zM343.95 411a1.5 1.5 0 1 0 .1 0zM343.95 412a1.5 1.5 0 1 0 .1 0zM344.2 363.5a1.5 1.5 0 1 0 .1 0zM344.2 380a1.5 1.5 0 1 0 .1 0zM344.2 391.5a1.5 1.5 0 1 0 .1 0zM344.45 387a1.5 1.5 0 1 0 .1 0zM344.45 395.25a1.5 1.5 0 1 0 .1 0zM344.45 402.5a1.5 1.5 0 1 0 .1 0zM344.45 402.75a1.5 1.5 0 1 0 .1 0zM344.7 384.25a1.5 1.5 0 1 0 .1 0zM344.7 396.75a1.5 1.5 0 1 0 .1 0zM344.7 399.25a1.5 1.5 0 1 0 .1 0zM344.7 402.75a1.5 1.5 0 1 0 .1 0zM344.7 411.75a1.5 1.5 0 1 0 .1 0zM344.95 362a1.5 1.5 0 1 0 .1 0zM344.95 371.5a1.5 1.5 0 1 0 .1 0zM344.95 419.25a1.5 1.5 0 1 0 .1 0zM344.95 421.5a1.5 1.5 0 1 0 .1 0zM345.2 372.75a1.5 1.5 0 1 0 .1 0zM345.2 403.25a1.5 1.5 0 1 0 .1 0zM345.2 406a1.5 1.5 0 1 0 .1 0zM345.2 416a1.5 1.5 0 1 0 .1 0zM345.45 380.75a1.5 1.5 0 1 0 .1 0zM345.45 392a1.5 1.5 0 1 0 .1 0zM345.45 393.75a1.5 1.5 0 1 0 .1 0zM345.45 423a1.5 1.5 0 1 0 .1 0zM345.7 369a1.5 1.5 0 1 0 .1 0zM345.7 387.25a1.5 1.5 0 1 0 .1 0zM345.7 391.75a1.5 1.5 0 1 0 .1 0zM345.7 415.25a1.5 1.5 0 1 0 .1 0zM345.7 421.75a1.5 1.5 0 1 0 .1 0zM345.95 368.5a1.5 1.5 0 1 0 .1 0zM345.95 370.75a1.5 1.5 0 1 0 .1 0zM345.95 383.25a1.5 1.5 0 1 0 .1 0zM345.95 433.5a1.5 1.5 0 1 0 .1 0zM346.2 365.5a1.5 1.5 0 1 0 .1 0zM346.2 381.25a1.5 1.5 0 1 0 .1 0zM346.2 399.75a1.5 1.5 0 1 0 .1 0zM346.2 422.5a1.5 1.5 0 1 0 .1 0zM346.45 375.25a1.5 1.5 0 1 0 .1 0zM346.45 387.25a1.5 1.5 0 1 0 .1 0zM346.45 412.5a1.5 1.5 0 1 0 .1 0zM346.45 422.5a1.5 1.5 0 1 0 .1 0zM346.7 387.25a1.5 1.5 0 1 0 .1 0zM346.7 401.75a1.5 1.5 0 1 0 .1 0zM346.7 405.5a1.5 1.5 0 1 0 .1 0zM346.7 407.75a1.5 1.5 0 1 0 .1 0zM346.7 422.75a1.5 1.5 0 1 0 .1 0zM346.95 382a1.5 1.5 0 1 0 .1 0zM346.95 396a1.5 1.5 0 1 0 .1 0zM346.95 410.5a1.5 1.5 0 1 0 .1 0zM346.95 417.5a1.5 1.5 0 1 0 .1 0zM347.2 378.5a1.5 1.5 0 1 0 .1 0zM347.2 383.75a1.5 1.5 0 1 0 .1 0zM347.2 405.5a1.5 1.5 0 1 0 .1 0zM347.2 416.75a1.5 1.5 0 1 0 .1 0zM347.45 409.5a1.5 1.5 0 1 0 .1 0zM347.45 412.25a1.5 1.5 0 1 0 .1 0zM347.45 429.75a1.5 1.5 0 1 0 .1 0zM347.45 430.5a1.5 1.5 0 1 0 .1 0zM347.7 393a1.5 1.5 0 1 0 .1 0zM347.7 400a1.5 1.5 0 1 0 .1 0zM347.7 406.5a1.5 1.5 0 1 0 .1 0zM347.7 406.75a1.5 1.5 0 1 0 .1 0zM347.7 430.75a1.5 1.5 0 1 0 .1 0zM347.95 373.25a1.5 1.5 0 1 0 .1 0zM347.95 373.5a1.5 1.5 0 1 0 .1 0zM347.95 385.25a1.5 1.5 0 1 0 .1 0zM347.95 416.75a1.5 1.5 0 1 0 .1 0zM348.2 372.25a1.5 1.5 0 1 0 .1 0zM348.2 382.5a1.5 1.5 0 1 0 .1 0zM348.2 411.5a1.5 1.5 0 1 0 .1 0zM348.2 424a1.5 1.5 0 1 0 .1 0zM348.45 395.5a1.5 1.5 0 1 0 .1 0zM348.45 401.25a1.5 1.5 0 1 0 .1 0zM348.45 407.5a1.5 1.5 0 1 0 .1 0zM348.45 411.25a1.5 1.5 0 1 0 .1 0zM348.7 384.5a1.5 1.5 0 1 0 .1 0zM348.7 410.25a1.5 1.5 0 1 0 .1 0zM348.7 417.75a1.5 1.5 0 1 0 .1 0zM348.7 423.75a1.5 1.5 0 1 0 .1 0zM348.7 424a1.5 1.5 0 1 0 .1 0zM348.95 403a1.5 1.5 0 1 0 .1 0zM348.95 412a1.5 1.5 0 1 0 .1 0zM348.95 421.75a1.5 1.5 0 1 0 .1 0zM348.95 427.75a1.5 1.5 0 1 0 .1 0zM349.2 380a1.5 1.5 0 1 0 .1 0zM349.2 389.25a1.5 1.5 0 1 0 .1 0zM349.2 390.25a1.5 1.5 0 1 0 .1 0zM349.2 430.5a1.5 1.5 0 1 0 .1 0zM349.45 379.25a1.5 1.5 0 1 0 .1 0zM349.45 389a1.5 1.5 0 1 0 .1 0zM349.45 396a1.5 1.5 0 1 0 .1 0zM349.45 397.75a1.5 1.5 0 1 0 .1 0zM349.45 431.75a1.5 1.5 0 1 0 .1 0zM349.45 444.75a1.5 1.5 0 1 0 .1 0zM349.7 403a1.5 1.5 0 1 0 .1 0zM349.7 412.25a1.5 1.5 0 1 0 .1 0zM349.7 415.5a1.5 1.5 0 1 0 .1 0zM349.7 429.5a1.5 1.5 0 1 0 .1 0zM349.95 385.75a1.5 1.5 0 1 0 .1 0zM349.95 403.25a1.5 1.5 0 1 0 .1 0zM349.95 409a1.5 1.5 0 1 0 .1 0zM349.95 419.25a1.5 1.5 0 1 0 .1 0zM350.2 377.75a1.5 1.5 0 1 0 .1 0zM350.2 426.75a1.5 1.5 0 1 0 .1 0zM350.2 428.25a1.5 1.5 0 1 0 .1 0zM350.2 436a1.5 1.5 0 1 0 .1 0zM350.45 376a1.5 1.5 0 1 0 .1 0zM350.45 409a1.5 1.5 0 1 0 .1 0zM350.45 415.75a1.5 1.5 0 1 0 .1 0zM350.45 418.5a1.5 1.5 0 1 0 .1 0zM350.45 422.5a1.5 1.5 0 1 0 .1 0zM350.7 382.75a1.5 1.5 0 1 0 .1 0zM350.7 391a1.5 1.5 0 1 0 .1 0zM350.7 419.25a1.5 1.5 0 1 0 .1 0zM350.7 427.25a1.5 1.5 0 1 0 .1 0zM350.95 385.75a1.5 1.5 0 1 0 .1 0zM350.95 386.5a1.5 1.5 0 1 0 .1 0zM350.95 396.75a1.5 1.5 0 1 0 .1 0zM350.95 422a1.5 1.5 0 1 0 .1 0zM351.2 389.75a1.5 1.5 0 1 0 .1 0zM351.2 402.25a1.5 1.5 0 1 0 .1 0zM351.2 412.25a1.5 1.5 0 1 0 .1 0zM351.2 425a1.5 1.5 0 1 0 .1 0zM351.45 390a1.5 1.5 0 1 0 .1 0zM351.45 401a1.5 1.5 0 1 0 .1 0zM351.45 404.5a1.5 1.5 0 1 0 .1 0zM351.45 405.75a1.5 1.5 0 1 0 .1 0zM351.45 407.5a1.5 1.5 0 1 0 .1 0zM351.7 382.5a1.5 1.5 0 1 0 .1 0zM351.7 384a1.5 1.5 0 1 0 .1 0zM351.7 397.5a1.5 1.5 0 1 0 .1 0zM351.7 413.75a1.5 1.5 0 1 0 .1 0zM351.95 362.75a1.5 1.5 0 1 0 .1 0zM351.95 394a1.5 1.5 0 1 0 .1 0zM351.95 394.25a1.5 1.5 0 1 0 .1 0zM351.95 395.25a1.5 1.5 0 1 0 .1 0zM352.2 380.75a1.5 1.5 0 1 0 .1 0zM352.2 399.5a1.5 1.5 0 1 0 .1 0zM352.2 400.5a1.5 1.5 0 1 0 .1 0zM352.2 404.75a1.5 1.5 0 1 0 .1 0zM352.45 397.5a1.5 1.5 0 1 0 .1 0zM352.45 400a1.5 1.5 0 1 0 .1 0zM352.45 401.25a1.5 1.5 0 1 0 .1 0zM352.45 406.75a1.5 1.5 0 1 0 .1 0zM352.45 413a1.5 1.5 0 1 0 .1 0zM352.7 372a1.5 1.5 0 1 0 .1 0zM352.7 402.75a1.5 1.5 0 1 0 .1 0zM352.7 413.5a1.5 1.5 0 1 0 .1 0zM352.7 422.75a1.5 1.5 0 1 0 .1 0zM352.95 371a1.5 1.5 0 1 0 .1 0zM352.95 374.5a1.5 1.5 0 1 0 .1 0zM352.95 379.25a1.5 1.5 0 1 0 .1 0zM352.95 381.25a1.5 1.5 0 1 0 .1 0zM353.2 371a1.5 1.5 0 1 0 .1 0zM353.2 397.25a1.5 1.5 0 1 0 .1 0zM353.2 405a1.5 1.5 0 1 0 .1 0zM353.2 410.25a1.5 1.5 0 1 0 .1 0zM353.45 396a1.5 1.5 0 1 0 .1 0zM353.45 401.75a1.5 1.5 0 1 0 .1 0zM353.45 404.5a1.5 1.5 0 1 0 .1 0zM353.45 408.75a1.5 1.5 0 1 0 .1 0zM353.45 413a1.5 1.5 0 1 0 .1 0zM353.7 391.75a1.5 1.5 0 1 0 .1 0zM353.7 394.25a1.5 1.5 0 1 0 .1 0zM353.7 396a1.5 1.5 0 1 0 .1 0zM353.7 400.25a1.5 1.5 0 1 0 .1 0zM353.95 360.25a1.5 1.5 0 1 0 .1 0zM353.95 366.5a1.5 1.5 0 1 0 .1 0zM353.95 374.5a1.5 1.5 0 1 0 .1 0zM353.95 383a1.5 1.5 0 1 0 .1 0zM354.2 374.75a1.5 1.5 0 1 0 .1 0zM354.2 397.75a1.5 1.5 0 1 0 .1 0zM354.2 404.5a1.5 1.5 0 1 0 .1 0zM354.2 416.75a1.5 1.5 0 1 0 .1 0zM354.45 375.5a1.5 1.5 0 1 0 .1 0zM354.45 382.5a1.5 1.5 0 1 0 .1 0zM354.45 388.25a1.5 1.5 0 1 0 .1 0zM354.45 392.25a1.5 1.5 0 1 0 .1 0zM354.45 411a1.5 1.5 0 1 0 .1 0zM354.7 388a1.5 1.5 0 1 0 .1 0zM354.7 393.5a1.5 1.5 0 1 0 .1 0zM354.7 400.75a1.5 1.5 0 1 0 .1 0zM354.7 404.75a1.5 1.5 0 1 0 .1 0zM354.95 371.5a1.5 1.5 0 1 0 .1 0zM354.95 398.75a1.5 1.5 0 1 0 .1 0zM354.95 410.25a1.5 1.5 0 1 0 .1 0zM354.95 413a1.5 1.5 0 1 0 .1 0zM355.2 385.75a1.5 1.5 0 1 0 .1 0zM355.2 398.75a1.5 1.5 0 1 0 .1 0zM355.2 409.25a1.5 1.5 0 1 0 .1 0zM355.2 410.5a1.5 1.5 0 1 0 .1 0zM355.45 350.5a1.5 1.5 0 1 0 .1 0zM355.45 351a1.5 1.5 0 1 0 .1 0zM355.45 364a1.5 1.5 0 1 0 .1 0zM355.45 392.5a1.5 1.5 0 1 0 .1 0zM355.45 403.25a1.5 1.5 0 1 0 .1 0zM355.7 352a1.5 1.5 0 1 0 .1 0zM355.7 371.25a1.5 1.5 0 1 0 .1 0zM355.7 388.5a1.5 1.5 0 1 0 .1 0zM355.7 395a1.5 1.5 0 1 0 .1 0zM355.95 353a1.5 1.5 0 1 0 .1 0zM355.95 367.5a1.5 1.5 0 1 0 .1 0zM355.95 378.25a1.5 1.5 0 1 0 .1 0zM355.95 394.75a1.5 1.5 0 1 0 .1 0zM356.2 388.75a1.5 1.5 0 1 0 .1 0zM356.2 390a1.5 1.5 0 1 0 .1 0zM356.2 397.75a1.5 1.5 0 1 0 .1 0zM356.2 406.5a1.5 1.5 0 1 0 .1 0zM356.45 366.5a1.5 1.5 0 1 0 .1 0zM356.45 375.25a1.5 1.5 0 1 0 .1 0zM356.45 388a1.5 1.5 0 1 0 .1 0zM356.45 400.25a1.5 1.5 0 1 0 .1 0zM356.45 410.5a1.5 1.5 0 1 0 .1 0zM356.7 364.75a1.5 1.5 0 1 0 .1 0zM356.7 380.5a1.5 1.5 0 1 0 .1 0zM356.7 401a1.5 1.5 0 1 0 .1 0zM356.7 416a1.5 1.5 0 1 0 .1 0zM356.95 361.75a1.5 1.5 0 1 0 .1 0zM356.95 381.75a1.5 1.5 0 1 0 .1 0zM356.95 388a1.5 1.5 0 1 0 .1 0zM356.95 416.75a1.5 1.5 0 1 0 .1 0zM357.2 361.75a1.5 1.5 0 1 0 .1 0zM357.2 390.75a1.5 1.5 0 1 0 .1 0zM357.2 403a1.5 1.5 0 1 0 .1 0zM357.2 417.25a1.5 1.5 0 1 0 .1 0zM357.45 356.25a1.5 1.5 0 1 0 .1 0zM357.45 371.25a1.5 1.5 0 1 0 .1 0zM357.45 399.5a1.5 1.5 0 1 0 .1 0zM357.45 400.25a1.5 1.5 0 1 0 .1 0zM357.7 363a1.5 1.5 0 1 0 .1 0zM357.7 383.25a1.5 1.5 0 1 0 .1 0zM357.7 384.5a1.5 1.5 0 1 0 .1 0zM357.7 403.5a1.5 1.5 0 1 0 .1 0zM357.95 388a1.5 1.5 0 1 0 .1 0zM357.95 391.75a1.5 1.5 0 1 0 .1 0zM357.95 396.5a1.5 1.5 0 1 0 .1 0zM357.95 412.5a1.5 1.5 0 1 0 .1 0zM358.2 380.25a1.5 1.5 0 1 0 .1 0zM358.2 396a1.5 1.5 0 1 0 .1 0zM358.2 400a1.5 1.5 0 1 0 .1 0zM358.2 420a1.5 1.5 0 1 0 .1 0zM358.45 384.5a1.5 1.5 0 1 0 .1 0zM358.45 408a1.5 1.5 0 1 0 .1 0zM358.45 410a1.5 1.5 0 1 0 .1 0zM358.45 415.5a1.5 1.5 0 1 0 .1 0zM358.45 422.75a1.5 1.5 0 1 0 .1 0zM358.7 357.75a1.5 1.5 0 1 0 .1 0zM358.7 373.75a1.5 1.5 0 1 0 .1 0zM358.7 393.5a1.5 1.5 0 1 0 .1 0zM358.7 402.5a1.5 1.5 0 1 0 .1 0zM358.95 377.5a1.5 1.5 0 1 0 .1 0zM358.95 399.5a1.5 1.5 0 1 0 .1 0zM358.95 405.75a1.5 1.5 0 1 0 .1 0zM358.95 420.75a1.5 1.5 0 1 0 .1 0zM359.2 351.75a1.5 1.5 0 1 0 .1 0zM359.2 373.5a1.5 1.5 0 1 0 .1 0zM359.2 383.5a1.5 1.5 0 1 0 .1 0zM359.2 400a1.5 1.5 0 1 0 .1 0zM359.45 379.25a1.5 1.5 0 1 0 .1 0zM359.45 391.5a1.5 1.5 0 1 0 .1 0zM359.45 393.25a1.5 1.5 0 1 0 .1 0zM359.45 400a1.5 1.5 0 1 0 .1 0zM359.45 420.25a1.5 1.5 0 1 0 .1 0zM359.7 386.5a1.5 1.5 0 1 0 .1 0zM359.7 392.5a1.5 1.5 0 1 0 .1 0zM359.7 412a1.5 1.5 0 1 0 .1 0zM359.95 399.25a1.5 1.5 0 1 0 .1 0zM359.95 403a1.5 1.5 0 1 0 .1 0zM359.95 412a1.5 1.5 0 1 0 .1 0zM359.95 424.25a1.5 1.5 0 1 0 .1 0zM360.2 358.25a1.5 1.5 0 1 0 .1 0zM360.2 379.5a1.5 1.5 0 1 0 .1 0zM360.2 384.5a1.5 1.5 0 1 0 .1 0zM360.2 400.75a1.5 1.5 0 1 0 .1 0zM360.45 372.25a1.5 1.5 0 1 0 .1 0zM360.45 384.25a1.5 1.5 0 1 0 .1 0zM360.45 393.25a1.5 1.5 0 1 0 .1 0zM360.45 398.25a1.5 1.5 0 1 0 .1 0zM360.45 410.25a1.5 1.5 0 1 0 .1 0zM360.7 372a1.5 1.5 0 1 0 .1 0zM360.7 387.75a1.5 1.5 0 1 0 .1 0zM360.7 392.75a1.5 1.5 0 1 0 .1 0zM360.7 418a1.5 1.5 0 1 0 .1 0zM360.95 370.25a1.5 1.5 0 1 0 .1 0zM360.95 372.75a1.5 1.5 0 1 0 .1 0zM360.95 375.5a1.5 1.5 0 1 0 .1 0zM360.95 385.5a1.5 1.5 0 1 0 .1 0zM361.2 361.25a1.5 1.5 0 1 0 .1 0zM361.2 385a1.5 1.5 0 1 0 .1 0zM361.2 389.25a1.5 1.5 0 1 0 .1 0zM361.2 414.5a1.5 1.5 0 1 0 .1 0zM361.45 377.25a1.5 1.5 0 1 0 .1 0zM361.45 381.5a1.5 1.5 0 1 0 .1 0zM361.45 387.25a1.5 1.5 0 1 0 .1 0zM361.45 402.5a1.5 1.5 0 1 0 .1 0zM361.45 415.5a1.5 1.5 0 1 0 .1 0zM361.7 355.25a1.5 1.5 0 1 0 .1 0zM361.7 377.75a1.5 1.5 0 1 0 .1 0zM361.7 379.25a1.5 1.5 0 1 0 .1 0zM361.7 412a1.5 1.5 0 1 0 .1 0zM361.95 336.75a1.5 1.5 0 1 0 .1 0zM361.95 375a1.5 1.5 0 1 0 .1 0zM361.95 376.75a1.5 1.5 0 1 0 .1 0zM361.95 379.5a1.5 1.5 0 1 0 .1 0zM361.95 410.25a1.5 1.5 0 1 0 .1 0zM362.2 381.5a1.5 1.5 0 1 0 .1 0zM362.2 384.5a1.5 1.5 0 1 0 .1 0zM362.2 399.5a1.5 1.5 0 1 0 .1 0zM362.2 404.25a1.5 1.5 0 1 0 .1 0zM362.45 373.75a1.5 1.5 0 1 0 .1 0zM362.45 400.75a1.5 1.5 0 1 0 .1 0zM362.45 402.5a1.5 1.5 0 1 0 .1 0zM362.45 410.5a1.5 1.5 0 1 0 .1 0zM362.45 417.25a1.5 1.5 0 1 0 .1 0zM362.7 376.25a1.5 1.5 0 1 0 .1 0zM362.7 388.75a1.5 1.5 0 1 0 .1 0zM362.7 402.5a1.5 1.5 0 1 0 .1 0zM362.7 407.25a1.5 1.5 0 1 0 .1 0zM362.95 371.25a1.5 1.5 0 1 0 .1 0zM362.95 382.5a1.5 1.5 0 1 0 .1 0zM362.95 394a1.5 1.5 0 1 0 .1 0zM362.95 397.75a1.5 1.5 0 1 0 .1 0zM363.2 386a1.5 1.5 0 1 0 .1 0zM363.2 395.25a1.5 1.5 0 1 0 .1 0zM363.2 397.25a1.5 1.5 0 1 0 .1 0zM363.2 422.25a1.5 1.5 0 1 0 .1 0zM363.45 378.25a1.5 1.5 0 1 0 .1 0zM363.45 386.75a1.5 1.5 0 1 0 .1 0zM363.45 398.25a1.5 1.5 0 1 0 .1 0zM363.45 402.25a1.5 1.5 0 1 0 .1 0zM363.45 417.5a1.5 1.5 0 1 0 .1 0zM363.7 391a1.5 1.5 0 1 0 .1 0zM363.7 396a1.5 1.5 0 1 0 .1 0zM363.7 396.5a1.5 1.5 0 1 0 .1 0zM363.7 404.25a1.5 1.5 0 1 0 .1 0zM363.95 378a1.5 1.5 0 1 0 .1 0zM363.95 379.25a1.5 1.5 0 1 0 .1 0zM363.95 391.25a1.5 1.5 0 1 0 .1 0zM363.95 413.25a1.5 1.5 0 1 0 .1 0zM364.2 381a1.5 1.5 0 1 0 .1 0zM364.2 384a1.5 1.5 0 1 0 .1 0zM364.2 386.75a1.5 1.5 0 1 0 .1 0zM364.2 392.25a1.5 1.5 0 1 0 .1 0zM364.45 376a1.5 1.5 0 1 0 .1 0zM364.45 380.5a1.5 1.5 0 1 0 .1 0zM364.45 390a1.5 1.5 0 1 0 .1 0zM364.45 400.75a1.5 1.5 0 1 0 .1 0zM364.45 414.75a1.5 1.5 0 1 0 .1 0zM364.7 398.25a1.5 1.5 0 1 0 .1 0zM364.7 398.5a1.5 1.5 0 1 0 .1 0zM364.7 413.75a1.5 1.5 0 1 0 .1 0zM364.7 422a1.5 1.5 0 1 0 .1 0zM364.7 434.75a1.5 1.5 0 1 0 .1 0zM364.95 386.75a1.5 1.5 0 1 0 .1 0zM364.95 394.25a1.5 1.5 0 1 0 .1 0zM364.95 396.25a1.5 1.5 0 1 0 .1 0zM365.2 376a1.5 1.5 0 1 0 .1 0zM365.2 396.75a1.5 1.5 0 1 0 .1 0zM365.2 399a1.5 1.5 0 1 0 .1 0zM365.2 401.5a1.5 1.5 0 1 0 .1 0zM365.45 407.5a1.5 1.5 0 1 0 .1 0zM365.45 408.25a1.5 1.5 0 1 0 .1 0zM365.45 411.25a1.5 1.5 0 1 0 .1 0zM365.45 416.75a1.5 1.5 0 1 0 .1 0zM365.45 419.75a1.5 1.5 0 1 0 .1 0zM365.7 375.75a1.5 1.5 0 1 0 .1 0zM365.7 383.25a1.5 1.5 0 1 0 .1 0zM365.7 386.25a1.5 1.5 0 1 0 .1 0zM365.7 423a1.5 1.5 0 1 0 .1 0zM365.95 373.5a1.5 1.5 0 1 0 .1 0zM365.95 396.75a1.5 1.5 0 1 0 .1 0zM365.95 402.25a1.5 1.5 0 1 0 .1 0zM365.95 402.75a1.5 1.5 0 1 0 .1 0zM366.2 369.5a1.5 1.5 0 1 0 .1 0zM366.2 379.25a1.5 1.5 0 1 0 .1 0zM366.2 387.5a1.5 1.5 0 1 0 .1 0zM366.2 422.25a1.5 1.5 0 1 0 .1 0zM366.45 381.75a1.5 1.5 0 1 0 .1 0zM366.45 382.5a1.5 1.5 0 1 0 .1 0zM366.45 384.25a1.5 1.5 0 1 0 .1 0zM366.45 400a1.5 1.5 0 1 0 .1 0zM366.45 401.25a1.5 1.5 0 1 0 .1 0zM366.7 373.25a1.5 1.5 0 1 0 .1 0zM366.7 378.5a1.5 1.5 0 1 0 .1 0zM366.7 382.75a1.5 1.5 0 1 0 .1 0zM366.7 408.25a1.5 1.5 0 1 0 .1 0zM366.95 387.25a1.5 1.5 0 1 0 .1 0zM366.95 388.75a1.5 1.5 0 1 0 .1 0zM366.95 394.75a1.5 1.5 0 1 0 .1 0zM366.95 395.75a1.5 1.5 0 1 0 .1 0zM367.2 364a1.5 1.5 0 1 0 .1 0zM367.2 394.25a1.5 1.5 0 1 0 .1 0zM367.2 399a1.5 1.5 0 1 0 .1 0zM367.2 420a1.5 1.5 0 1 0 .1 0zM367.45 390.75a1.5 1.5 0 1 0 .1 0zM367.45 396.5a1.5 1.5 0 1 0 .1 0zM367.45 404a1.5 1.5 0 1 0 .1 0zM367.45 409.25a1.5 1.5 0 1 0 .1 0zM367.45 420.5a1.5 1.5 0 1 0 .1 0zM367.7 370a1.5 1.5 0 1 0 .1 0zM367.7 379.25a1.5 1.5 0 1 0 .1 0zM367.7 380.75a1.5 1.5 0 1 0 .1 0zM367.7 396a1.5 1.5 0 1 0 .1 0zM367.95 384.5a1.5 1.5 0 1 0 .1 0zM367.95 388.5a1.5 1.5 0 1 0 .1 0zM367.95 411.75a1.5 1.5 0 1 0 .1 0zM367.95 417.5a1.5 1.5 0 1 0 .1 0zM368.2 375.5a1.5 1.5 0 1 0 .1 0zM368.2 380.25a1.5 1.5 0 1 0 .1 0zM368.2 408.75a1.5 1.5 0 1 0 .1 0zM368.2 409.75a1.5 1.5 0 1 0 .1 0zM368.45 360a1.5 1.5 0 1 0 .1 0zM368.45 364.75a1.5 1.5 0 1 0 .1 0zM368.45 395.5a1.5 1.5 0 1 0 .1 0zM368.45 409.75a1.5 1.5 0 1 0 .1 0zM368.45 414.75a1.5 1.5 0 1 0 .1 0zM368.7 394.25a1.5 1.5 0 1 0 .1 0zM368.7 416.75a1.5 1.5 0 1 0 .1 0zM368.7 417a1.5 1.5 0 1 0 .1 0zM368.7 418.75a1.5 1.5 0 1 0 .1 0zM368.95 363.5a1.5 1.5 0 1 0 .1 0zM368.95 378.5a1.5 1.5 0 1 0 .1 0zM368.95 381.5a1.5 1.5 0 1 0 .1 0zM368.95 414.75a1.5 1.5 0 1 0 .1 0zM369.2 367.75a1.5 1.5 0 1 0 .1 0zM369.2 389.75a1.5 1.5 0 1 0 .1 0zM369.2 397a1.5 1.5 0 1 0 .1 0zM369.2 410.75a1.5 1.5 0 1 0 .1 0zM369.45 392.5a1.5 1.5 0 1 0 .1 0zM369.45 404a1.5 1.5 0 1 0 .1 0zM369.45 407.25a1.5 1.5 0 1 0 .1 0zM369.45 413a1.5 1.5 0 1 0 .1 0zM369.45 419.5a1.5 1.5 0 1 0 .1 0zM369.7 357.25a1.5 1.5 0 1 0 .1 0zM369.7 379.5a1.5 1.5 0 1 0 .1 0zM369.7 399.75a1.5 1.5 0 1 0 .1 0zM369.7 405.25a1.5 1.5 0 1 0 .1 0zM369.95 375.5a1.5 1.5 0 1 0 .1 0zM369.95 380.25a1.5 1.5 0 1 0 .1 0zM369.95 380.5a1.5 1.5 0 1 0 .1 0zM369.95 388.25a1.5 1.5 0 1 0 .1 0zM370.2 372a1.5 1.5 0 1 0 .1 0zM370.2 384.5a1.5 1.5 0 1 0 .1 0zM370.2 391.75a1.5 1.5 0 1 0 .1 0zM370.2 403.5a1.5 1.5 0 1 0 .1 0zM370.45 355.25a1.5 1.5 0 1 0 .1 0zM370.45 376a1.5 1.5 0 1 0 .1 0zM370.45 379.5a1.5 1.5 0 1 0 .1 0zM370.45 382.5a1.5 1.5 0 1 0 .1 0zM370.45 387.75a1.5 1.5 0 1 0 .1 0zM370.7 377a1.5 1.5 0 1 0 .1 0zM370.7 380.75a1.5 1.5 0 1 0 .1 0zM370.7 391.25a1.5 1.5 0 1 0 .1 0zM370.7 398.25a1.5 1.5 0 1 0 .1 0zM370.95 389.75a1.5 1.5 0 1 0 .1 0zM370.95 390.25a1.5 1.5 0 1 0 .1 0zM370.95 404.75a1.5 1.5 0 1 0 .1 0zM370.95 405.75a1.5 1.5 0 1 0 .1 0zM371.2 382.25a1.5 1.5 0 1 0 .1 0zM371.2 397a1.5 1.5 0 1 0 .1 0zM371.2 400a1.5 1.5 0 1 0 .1 0zM371.2 406.25a1.5 1.5 0 1 0 .1 0zM371.45 389.25a1.5 1.5 0 1 0 .1 0zM371.45 394.75a1.5 1.5 0 1 0 .1 0zM371.45 409.5a1.5 1.5 0 1 0 .1 0zM371.45 423.5a1.5 1.5 0 1 0 .1 0zM371.45 424.5a1.5 1.5 0 1 0 .1 0zM371.7 397.5a1.5 1.5 0 1 0 .1 0zM371.7 415a1.5 1.5 0 1 0 .1 0zM371.7 418.5a1.5 1.5 0 1 0 .1 0zM371.7 439.5a1.5 1.5 0 1 0 .1 0zM371.95 381.25a1.5 1.5 0 1 0 .1 0zM371.95 389.75a1.5 1.5 0 1 0 .1 0zM371.95 413.25a1.5 1.5 0 1 0 .1 0zM371.95 420a1.5 1.5 0 1 0 .1 0zM372.2 394.25a1.5 1.5 0 1 0 .1 0zM372.2 400a1.5 1.5 0 1 0 .1 0zM372.2 402.5a1.5 1.5 0 1 0 .1 0zM372.2 412.75a1.5 1.5 0 1 0 .1 0zM372.45 359.5a1.5 1.5 0 1 0 .1 0zM372.45 367a1.5 1.5 0 1 0 .1 0zM372.45 409.75a1.5 1.5 0 1 0 .1 0zM372.45 413.5a1.5 1.5 0 1 0 .1 0zM372.45 425.5a1.5 1.5 0 1 0 .1 0zM372.7 366.25a1.5 1.5 0 1 0 .1 0zM372.7 370.5a1.5 1.5 0 1 0 .1 0zM372.7 423.5a1.5 1.5 0 1 0 .1 0zM372.7 428.75a1.5 1.5 0 1 0 .1 0zM372.95 367.5a1.5 1.5 0 1 0 .1 0zM372.95 377a1.5 1.5 0 1 0 .1 0zM372.95 381.5a1.5 1.5 0 1 0 .1 0zM372.95 384.25a1.5 1.5 0 1 0 .1 0zM373.2 365.75a1.5 1.5 0 1 0 .1 0zM373.2 374a1.5 1.5 0 1 0 .1 0zM373.2 407.5a1.5 1.5 0 1 0 .1 0zM373.2 418.25a1.5 1.5 0 1 0 .1 0zM373.45 367a1.5 1.5 0 1 0 .1 0zM373.45 379a1.5 1.5 0 1 0 .1 0zM373.45 395.75a1.5 1.5 0 1 0 .1 0zM373.45 402a1.5 1.5 0 1 0 .1 0zM373.45 424.5a1.5 1.5 0 1 0 .1 0zM373.7 379a1.5 1.5 0 1 0 .1 0zM373.7 397.75a1.5 1.5 0 1 0 .1 0zM373.7 402a1.5 1.5 0 1 0 .1 0zM373.7 402.25a1.5 1.5 0 1 0 .1 0zM373.95 367.25a1.5 1.5 0 1 0 .1 0zM373.95 381.75a1.5 1.5 0 1 0 .1 0zM373.95 400.25a1.5 1.5 0 1 0 .1 0zM373.95 401.5a1.5 1.5 0 1 0 .1 0zM374.2 390.75a1.5 1.5 0 1 0 .1 0zM374.2 395.5a1.5 1.5 0 1 0 .1 0zM374.2 400a1.5 1.5 0 1 0 .1 0zM374.2 432.75a1.5 1.5 0 1 0 .1 0zM374.45 371.25a1.5 1.5 0 1 0 .1 0zM374.45 403.25a1.5 1.5 0 1 0 .1 0zM374.45 408.25a1.5 1.5 0 1 0 .1 0zM374.45 412.25a1.5 1.5 0 1 0 .1 0zM374.45 431.25a1.5 1.5 0 1 0 .1 0zM374.7 395a1.5 1.5 0 1 0 .1 0zM374.7 400a1.5 1.5 0 1 0 .1 0zM374.7 411.75a1.5 1.5 0 1 0 .1 0zM374.7 433a1.5 1.5 0 1 0 .1 0zM374.95 396.5a1.5 1.5 0 1 0 .1 0zM374.95 414.25a1.5 1.5 0 1 0 .1 0zM374.95 423.25a1.5 1.5 0 1 0 .1 0zM374.95 427.75a1.5 1.5 0 1 0 .1 0zM375.2 372.5a1.5 1.5 0 1 0 .1 0zM375.2 381a1.5 1.5 0 1 0 .1 0zM375.2 395.25a1.5 1.5 0 1 0 .1 0zM375.2 431.5a1.5 1.5 0 1 0 .1 0zM375.45 370.75a1.5 1.5 0 1 0 .1 0zM375.45 389.5a1.5 1.5 0 1 0 .1 0zM375.45 401.75a1.5 1.5 0 1 0 .1 0zM375.45 411a1.5 1.5 0 1 0 .1 0zM375.45 418.5a1.5 1.5 0 1 0 .1 0zM375.7 395a1.5 1.5 0 1 0 .1 0zM375.7 403.25a1.5 1.5 0 1 0 .1 0zM375.7 416a1.5 1.5 0 1 0 .1 0zM375.7 419.5a1.5 1.5 0 1 0 .1 0zM375.95 398.25a1.5 1.5 0 1 0 .1 0zM375.95 406.75a1.5 1.5 0 1 0 .1 0zM375.95 415.75a1.5 1.5 0 1 0 .1 0zM375.95 422.75a1.5 1.5 0 1 0 .1 0zM375.95 441a1.5 1.5 0 1 0 .1 0zM376.2 375a1.5 1.5 0 1 0 .1 0zM376.2 387.5a1.5 1.5 0 1 0 .1 0zM376.2 401.25a1.5 1.5 0 1 0 .1 0zM376.2 404.5a1.5 1.5 0 1 0 .1 0zM376.45 391.75a1.5 1.5 0 1 0 .1 0zM376.45 395.5a1.5 1.5 0 1 0 .1 0zM376.45 405a1.5 1.5 0 1 0 .1 0zM376.45 409.25a1.5 1.5 0 1 0 .1 0zM376.45 426a1.5 1.5 0 1 0 .1 0zM376.7 377.75a1.5 1.5 0 1 0 .1 0zM376.7 402a1.5 1.5 0 1 0 .1 0zM376.7 404.75a1.5 1.5 0 1 0 .1 0zM376.7 413.75a1.5 1.5 0 1 0 .1 0zM376.95 379.25a1.5 1.5 0 1 0 .1 0zM376.95 397.5a1.5 1.5 0 1 0 .1 0zM376.95 402a1.5 1.5 0 1 0 .1 0zM377.2 370.75a1.5 1.5 0 1 0 .1 0zM377.2 378.75a1.5 1.5 0 1 0 .1 0zM377.2 398.25a1.5 1.5 0 1 0 .1 0zM377.2 411.75a1.5 1.5 0 1 0 .1 0zM377.2 412.25a1.5 1.5 0 1 0 .1 0zM377.45 370.5a1.5 1.5 0 1 0 .1 0zM377.45 375a1.5 1.5 0 1 0 .1 0zM377.45 394.25a1.5 1.5 0 1 0 .1 0zM377.45 403a1.5 1.5 0 1 0 .1 0zM377.7 388.25a1.5 1.5 0 1 0 .1 0zM377.7 394a1.5 1.5 0 1 0 .1 0zM377.7 400a1.5 1.5 0 1 0 .1 0zM377.7 410a1.5 1.5 0 1 0 .1 0zM377.95 368.5a1.5 1.5 0 1 0 .1 0zM377.95 377.5a1.5 1.5 0 1 0 .1 0zM377.95 404.25a1.5 1.5 0 1 0 .1 0zM377.95 416a1.5 1.5 0 1 0 .1 0zM378.2 372.75a1.5 1.5 0 1 0 .1 0zM378.2 396.25a1.5 1.5 0 1 0 .1 0zM378.2 402a1.5 1.5 0 1 0 .1 0zM378.2 414a1.5 1.5 0 1 0 .1 0zM378.2 415.75a1.5 1.5 0 1 0 .1 0zM378.45 369.5a1.5 1.5 0 1 0 .1 0zM378.45 395.25a1.5 1.5 0 1 0 .1 0zM378.45 401.5a1.5 1.5 0 1 0 .1 0zM378.45 413a1.5 1.5 0 1 0 .1 0zM378.7 387.75a1.5 1.5 0 1 0 .1 0zM378.7 406a1.5 1.5 0 1 0 .1 0zM378.7 406.5a1.5 1.5 0 1 0 .1 0zM378.7 423.25a1.5 1.5 0 1 0 .1 0zM378.95 357.5a1.5 1.5 0 1 0 .1 0zM378.95 366.25a1.5 1.5 0 1 0 .1 0zM378.95 379a1.5 1.5 0 1 0 .1 0zM378.95 387.25a1.5 1.5 0 1 0 .1 0zM379.2 354a1.5 1.5 0 1 0 .1 0zM379.2 360.25a1.5 1.5 0 1 0 .1 0zM379.2 376.75a1.5 1.5 0 1 0 .1 0zM379.2 379.5a1.5 1.5 0 1 0 .1 0zM379.2 383.5a1.5 1.5 0 1 0 .1 0zM379.45 378.75a1.5 1.5 0 1 0 .1 0zM379.45 398a1.5 1.5 0 1 0 .1 0zM379.45 399.25a1.5 1.5 0 1 0 .1 0zM379.45 405.5a1.5 1.5 0 1 0 .1 0zM379.7 385.75a1.5 1.5 0 1 0 .1 0zM379.7 390.5a1.5 1.5 0 1 0 .1 0zM379.7 393.5a1.5 1.5 0 1 0 .1 0zM379.7 394.25a1.5 1.5 0 1 0 .1 0zM379.95 359.5a1.5 1.5 0 1 0 .1 0zM379.95 361.25a1.5 1.5 0 1 0 .1 0zM379.95 387.25a1.5 1.5 0 1 0 .1 0zM379.95 395.5a1.5 1.5 0 1 0 .1 0zM380.2 374.5a1.5 1.5 0 1 0 .1 0zM380.2 376.75a1.5 1.5 0 1 0 .1 0zM380.2 385a1.5 1.5 0 1 0 .1 0zM380.2 416.25a1.5 1.5 0 1 0 .1 0zM380.45 333.5a1.5 1.5 0 1 0 .1 0zM380.45 365.75a1.5 1.5 0 1 0 .1 0zM380.45 371a1.5 1.5 0 1 0 .1 0zM380.45 395a1.5 1.5 0 1 0 .1 0zM380.45 398a1.5 1.5 0 1 0 .1 0zM380.7 387.25a1.5 1.5 0 1 0 .1 0zM380.7 399a1.5 1.5 0 1 0 .1 0zM380.7 414.75a1.5 1.5 0 1 0 .1 0zM380.7 420.5a1.5 1.5 0 1 0 .1 0zM380.95 383.25a1.5 1.5 0 1 0 .1 0zM380.95 395.5a1.5 1.5 0 1 0 .1 0zM380.95 398.25a1.5 1.5 0 1 0 .1 0zM380.95 427.75a1.5 1.5 0 1 0 .1 0zM381.2 380.25a1.5 1.5 0 1 0 .1 0zM381.2 388.75a1.5 1.5 0 1 0 .1 0zM381.2 404a1.5 1.5 0 1 0 .1 0zM381.2 405a1.5 1.5 0 1 0 .1 0zM381.2 413a1.5 1.5 0 1 0 .1 0zM381.45 360.25a1.5 1.5 0 1 0 .1 0zM381.45 377.75a1.5 1.5 0 1 0 .1 0zM381.45 394.25a1.5 1.5 0 1 0 .1 0zM381.45 408.75a1.5 1.5 0 1 0 .1 0zM381.7 388.75a1.5 1.5 0 1 0 .1 0zM381.7 405.75a1.5 1.5 0 1 0 .1 0zM381.7 408.25a1.5 1.5 0 1 0 .1 0zM381.7 413.25a1.5 1.5 0 1 0 .1 0zM381.95 369.75a1.5 1.5 0 1 0 .1 0zM381.95 394.25a1.5 1.5 0 1 0 .1 0zM381.95 399.25a1.5 1.5 0 1 0 .1 0zM381.95 412.25a1.5 1.5 0 1 0 .1 0zM381.95 440.75a1.5 1.5 0 1 0 .1 0zM382.2 376.5a1.5 1.5 0 1 0 .1 0zM382.2 386.25a1.5 1.5 0 1 0 .1 0zM382.2 387.75a1.5 1.5 0 1 0 .1 0zM382.2 395.25a1.5 1.5 0 1 0 .1 0zM382.2 399a1.5 1.5 0 1 0 .1 0zM382.45 374a1.5 1.5 0 1 0 .1 0zM382.45 397.75a1.5 1.5 0 1 0 .1 0zM382.45 412.25a1.5 1.5 0 1 0 .1 0zM382.45 419.75a1.5 1.5 0 1 0 .1 0zM382.7 378a1.5 1.5 0 1 0 .1 0zM382.7 391.75a1.5 1.5 0 1 0 .1 0zM382.7 406.5a1.5 1.5 0 1 0 .1 0zM382.7 409.25a1.5 1.5 0 1 0 .1 0zM382.95 375.25a1.5 1.5 0 1 0 .1 0zM382.95 385.5a1.5 1.5 0 1 0 .1 0zM382.95 411a1.5 1.5 0 1 0 .1 0zM382.95 414.75a1.5 1.5 0 1 0 .1 0zM383.2 368.75a1.5 1.5 0 1 0 .1 0zM383.2 372.75a1.5 1.5 0 1 0 .1 0zM383.2 391.5a1.5 1.5 0 1 0 .1 0zM383.2 392.25a1.5 1.5 0 1 0 .1 0zM383.2 393a1.5 1.5 0 1 0 .1 0zM383.45 357.5a1.5 1.5 0 1 0 .1 0zM383.45 379.5a1.5 1.5 0 1 0 .1 0zM383.45 383.75a1.5 1.5 0 1 0 .1 0zM383.45 385a1.5 1.5 0 1 0 .1 0zM383.7 352.75a1.5 1.5 0 1 0 .1 0zM383.7 379a1.5 1.5 0 1 0 .1 0zM383.7 379.5a1.5 1.5 0 1 0 .1 0zM383.7 413.75a1.5 1.5 0 1 0 .1 0zM383.95 370.25a1.5 1.5 0 1 0 .1 0zM383.95 376.5a1.5 1.5 0 1 0 .1 0zM383.95 388.5a1.5 1.5 0 1 0 .1 0zM383.95 406.75a1.5 1.5 0 1 0 .1 0zM384.2 374.5a1.5 1.5 0 1 0 .1 0zM384.2 381.75a1.5 1.5 0 1 0 .1 0zM384.2 391a1.5 1.5 0 1 0 .1 0zM384.2 400.5a1.5 1.5 0 1 0 .1 0zM384.2 415a1.5 1.5 0 1 0 .1 0zM384.45 352a1.5 1.5 0 1 0 .1 0zM384.45 382a1.5 1.5 0 1 0 .1 0zM384.45 388a1.5 1.5 0 1 0 .1 0zM384.45 389.5a1.5 1.5 0 1 0 .1 0zM384.7 387.5a1.5 1.5 0 1 0 .1 0zM384.7 392.25a1.5 1.5 0 1 0 .1 0zM384.7 402.75a1.5 1.5 0 1 0 .1 0zM384.7 408.5a1.5 1.5 0 1 0 .1 0zM384.95 377.75a1.5 1.5 0 1 0 .1 0zM384.95 385.25a1.5 1.5 0 1 0 .1 0zM384.95 396.5a1.5 1.5 0 1 0 .1 0zM384.95 408a1.5 1.5 0 1 0 .1 0zM385.2 354a1.5 1.5 0 1 0 .1 0zM385.2 355.5a1.5 1.5 0 1 0 .1 0zM385.2 369.5a1.5 1.5 0 1 0 .1 0zM385.2 373.5a1.5 1.5 0 1 0 .1 0zM385.2 405.75a1.5 1.5 0 1 0 .1 0zM385.45 382.25a1.5 1.5 0 1 0 .1 0zM385.45 382.75a1.5 1.5 0 1 0 .1 0zM385.45 391.5a1.5 1.5 0 1 0 .1 0zM385.45 399.25a1.5 1.5 0 1 0 .1 0zM385.7 372.75a1.5 1.5 0 1 0 .1 0zM385.7 383.5a1.5 1.5 0 1 0 .1 0zM385.7 397.75a1.5 1.5 0 1 0 .1 0zM385.7 398.75a1.5 1.5 0 1 0 .1 0zM385.95 358.25a1.5 1.5 0 1 0 .1 0zM385.95 386a1.5 1.5 0 1 0 .1 0zM385.95 392.5a1.5 1.5 0 1 0 .1 0zM385.95 393a1.5 1.5 0 1 0 .1 0zM386.2 358.25a1.5 1.5 0 1 0 .1 0zM386.2 388.5a1.5 1.5 0 1 0 .1 0zM386.2 396.5a1.5 1.5 0 1 0 .1 0zM386.2 398.25a1.5 1.5 0 1 0 .1 0zM386.2 418a1.5 1.5 0 1 0 .1 0zM386.45 379a1.5 1.5 0 1 0 .1 0zM386.45 384.25a1.5 1.5 0 1 0 .1 0zM386.45 398a1.5 1.5 0 1 0 .1 0zM386.45 413a1.5 1.5 0 1 0 .1 0zM386.7 368.75a1.5 1.5 0 1 0 .1 0zM386.7 375.75a1.5 1.5 0 1 0 .1 0zM386.7 402.25a1.5 1.5 0 1 0 .1 0zM386.7 402.5a1.5 1.5 0 1 0 .1 0zM386.95 352a1.5 1.5 0 1 0 .1 0zM386.95 366a1.5 1.5 0 1 0 .1 0zM386.95 390.25a1.5 1.5 0 1 0 .1 0zM386.95 410.25a1.5 1.5 0 1 0 .1 0zM387.2 379.5a1.5 1.5 0 1 0 .1 0zM387.2 396a1.5 1.5 0 1 0 .1 0zM387.2 398.25a1.5 1.5 0 1 0 .1 0zM387.2 403a1.5 1.5 0 1 0 .1 0zM387.2 406.25a1.5 1.5 0 1 0 .1 0zM387.45 406.75a1.5 1.5 0 1 0 .1 0zM387.45 413.5a1.5 1.5 0 1 0 .1 0zM387.45 419a1.5 1.5 0 1 0 .1 0zM387.45 422.25a1.5 1.5 0 1 0 .1 0zM387.7 360.75a1.5 1.5 0 1 0 .1 0zM387.7 369a1.5 1.5 0 1 0 .1 0zM387.7 371.5a1.5 1.5 0 1 0 .1 0zM387.7 405.5a1.5 1.5 0 1 0 .1 0zM387.95 392a1.5 1.5 0 1 0 .1 0zM387.95 411a1.5 1.5 0 1 0 .1 0zM387.95 414.75a1.5 1.5 0 1 0 .1 0zM387.95 423.5a1.5 1.5 0 1 0 .1 0zM388.2 388.5a1.5 1.5 0 1 0 .1 0zM388.2 400a1.5 1.5 0 1 0 .1 0zM388.2 402.5a1.5 1.5 0 1 0 .1 0zM388.2 405.5a1.5 1.5 0 1 0 .1 0zM388.2 422a1.5 1.5 0 1 0 .1 0zM388.45 389.75a1.5 1.5 0 1 0 .1 0zM388.45 395.25a1.5 1.5 0 1 0 .1 0zM388.45 409.5a1.5 1.5 0 1 0 .1 0zM388.45 414.75a1.5 1.5 0 1 0 .1 0zM388.7 367.75a1.5 1.5 0 1 0 .1 0zM388.7 402a1.5 1.5 0 1 0 .1 0zM388.7 406a1.5 1.5 0 1 0 .1 0zM388.7 414.25a1.5 1.5 0 1 0 .1 0zM388.95 371a1.5 1.5 0 1 0 .1 0zM388.95 411.25a1.5 1.5 0 1 0 .1 0zM388.95 421.75a1.5 1.5 0 1 0 .1 0zM388.95 423.75a1.5 1.5 0 1 0 .1 0zM388.95 457a1.5 1.5 0 1 0 .1 0zM389.2 374.75a1.5 1.5 0 1 0 .1 0zM389.2 376a1.5 1.5 0 1 0 .1 0zM389.2 389.5a1.5 1.5 0 1 0 .1 0zM389.2 391.5a1.5 1.5 0 1 0 .1 0zM389.2 408.25a1.5 1.5 0 1 0 .1 0zM389.45 391.25a1.5 1.5 0 1 0 .1 0zM389.45 391.75a1.5 1.5 0 1 0 .1 0zM389.45 416.5a1.5 1.5 0 1 0 .1 0zM389.45 417.75a1.5 1.5 0 1 0 .1 0zM389.45 436.5a1.5 1.5 0 1 0 .1 0zM389.7 390.5a1.5 1.5 0 1 0 .1 0zM389.7 412.5a1.5 1.5 0 1 0 .1 0zM389.7 420a1.5 1.5 0 1 0 .1 0zM389.7 430.25a1.5 1.5 0 1 0 .1 0zM389.95 386.75a1.5 1.5 0 1 0 .1 0zM389.95 387.5a1.5 1.5 0 1 0 .1 0zM389.95 390.75a1.5 1.5 0 1 0 .1 0zM389.95 408.75a1.5 1.5 0 1 0 .1 0zM389.95 437a1.5 1.5 0 1 0 .1 0zM390.2 375.75a1.5 1.5 0 1 0 .1 0zM390.2 383.25a1.5 1.5 0 1 0 .1 0zM390.2 384.75a1.5 1.5 0 1 0 .1 0zM390.2 391.25a1.5 1.5 0 1 0 .1 0zM390.2 405.75a1.5 1.5 0 1 0 .1 0zM390.45 380a1.5 1.5 0 1 0 .1 0zM390.45 393.25a1.5 1.5 0 1 0 .1 0zM390.45 399.5a1.5 1.5 0 1 0 .1 0zM390.45 403a1.5 1.5 0 1 0 .1 0zM390.7 383a1.5 1.5 0 1 0 .1 0zM390.7 422.25a1.5 1.5 0 1 0 .1 0zM390.7 422.5a1.5 1.5 0 1 0 .1 0zM390.7 426.75a1.5 1.5 0 1 0 .1 0zM390.95 369.5a1.5 1.5 0 1 0 .1 0zM390.95 402.25a1.5 1.5 0 1 0 .1 0zM390.95 415.25a1.5 1.5 0 1 0 .1 0zM390.95 425.25a1.5 1.5 0 1 0 .1 0zM391.2 390.25a1.5 1.5 0 1 0 .1 0zM391.2 409a1.5 1.5 0 1 0 .1 0zM391.2 412.75a1.5 1.5 0 1 0 .1 0zM391.2 416.75a1.5 1.5 0 1 0 .1 0zM391.2 417.75a1.5 1.5 0 1 0 .1 0zM391.45 390.75a1.5 1.5 0 1 0 .1 0zM391.45 395.75a1.5 1.5 0 1 0 .1 0zM391.45 407.25a1.5 1.5 0 1 0 .1 0zM391.45 407.75a1.5 1.5 0 1 0 .1 0zM391.7 377.25a1.5 1.5 0 1 0 .1 0zM391.7 377.5a1.5 1.5 0 1 0 .1 0zM391.7 378.75a1.5 1.5 0 1 0 .1 0zM391.7 380.25a1.5 1.5 0 1 0 .1 0zM391.95 364.75a1.5 1.5 0 1 0 .1 0zM391.95 373.25a1.5 1.5 0 1 0 .1 0zM391.95 385.75a1.5 1.5 0 1 0 .1 0zM391.95 387a1.5 1.5 0 1 0 .1 0zM392.2 359.75a1.5 1.5 0 1 0 .1 0zM392.2 374a1.5 1.5 0 1 0 .1 0zM392.2 383a1.5 1.5 0 1 0 .1 0zM392.2 393.25a1.5 1.5 0 1 0 .1 0zM392.2 396.5a1.5 1.5 0 1 0 .1 0zM392.45 391a1.5 1.5 0 1 0 .1 0zM392.45 392.75a1.5 1.5 0 1 0 .1 0zM392.45 404.25a1.5 1.5 0 1 0 .1 0zM392.45 418.25a1.5 1.5 0 1 0 .1 0zM392.7 376.75a1.5 1.5 0 1 0 .1 0zM392.7 379.5a1.5 1.5 0 1 0 .1 0zM392.7 394.5a1.5 1.5 0 1 0 .1 0zM392.7 397.25a1.5 1.5 0 1 0 .1 0zM392.95 363.5a1.5 1.5 0 1 0 .1 0zM392.95 367.75a1.5 1.5 0 1 0 .1 0zM392.95 384a1.5 1.5 0 1 0 .1 0zM392.95 386.5a1.5 1.5 0 1 0 .1 0zM393.2 375a1.5 1.5 0 1 0 .1 0zM393.2 391.75a1.5 1.5 0 1 0 .1 0zM393.2 401.5a1.5 1.5 0 1 0 .1 0zM393.2 402.25a1.5 1.5 0 1 0 .1 0zM393.2 413.25a1.5 1.5 0 1 0 .1 0zM393.45 387a1.5 1.5 0 1 0 .1 0zM393.45 391.5a1.5 1.5 0 1 0 .1 0zM393.45 407a1.5 1.5 0 1 0 .1 0zM393.45 423a1.5 1.5 0 1 0 .1 0zM393.7 384.5a1.5 1.5 0 1 0 .1 0zM393.7 388.5a1.5 1.5 0 1 0 .1 0zM393.7 405.5a1.5 1.5 0 1 0 .1 0zM393.7 424.25a1.5 1.5 0 1 0 .1 0zM393.95 366a1.5 1.5 0 1 0 .1 0zM393.95 391.75a1.5 1.5 0 1 0 .1 0zM393.95 395a1.5 1.5 0 1 0 .1 0zM393.95 398.75a1.5 1.5 0 1 0 .1 0zM394.2 387a1.5 1.5 0 1 0 .1 0zM394.2 395.25a1.5 1.5 0 1 0 .1 0zM394.2 402a1.5 1.5 0 1 0 .1 0zM394.2 403.25a1.5 1.5 0 1 0 .1 0zM394.2 406.75a1.5 1.5 0 1 0 .1 0zM394.45 374.75a1.5 1.5 0 1 0 .1 0zM394.45 388.75a1.5 1.5 0 1 0 .1 0zM394.45 398.75a1.5 1.5 0 1 0 .1 0zM394.45 418.5a1.5 1.5 0 1 0 .1 0zM394.7 374.5a1.5 1.5 0 1 0 .1 0zM394.7 378.5a1.5 1.5 0 1 0 .1 0zM394.7 393.25a1.5 1.5 0 1 0 .1 0zM394.7 416a1.5 1.5 0 1 0 .1 0zM394.95 371.25a1.5 1.5 0 1 0 .1 0zM394.95 390a1.5 1.5 0 1 0 .1 0zM394.95 394.25a1.5 1.5 0 1 0 .1 0zM394.95 415.5a1.5 1.5 0 1 0 .1 0zM394.95 435.25a1.5 1.5 0 1 0 .1 0zM395.2 377.75a1.5 1.5 0 1 0 .1 0zM395.2 395.25a1.5 1.5 0 1 0 .1 0zM395.2 412.75a1.5 1.5 0 1 0 .1 0zM395.2 428a1.5 1.5 0 1 0 .1 0zM395.2 433.25a1.5 1.5 0 1 0 .1 0zM395.45 380.25a1.5 1.5 0 1 0 .1 0zM395.45 391.25a1.5 1.5 0 1 0 .1 0zM395.45 391.75a1.5 1.5 0 1 0 .1 0zM395.45 417.25a1.5 1.5 0 1 0 .1 0zM395.7 415.5a1.5 1.5 0 1 0 .1 0zM395.7 421.5a1.5 1.5 0 1 0 .1 0zM395.7 425.75a1.5 1.5 0 1 0 .1 0zM395.7 432.25a1.5 1.5 0 1 0 .1 0zM395.95 392.25a1.5 1.5 0 1 0 .1 0zM395.95 394a1.5 1.5 0 1 0 .1 0zM395.95 403.25a1.5 1.5 0 1 0 .1 0zM395.95 423.5a1.5 1.5 0 1 0 .1 0zM396.2 384.5a1.5 1.5 0 1 0 .1 0zM396.2 405.5a1.5 1.5 0 1 0 .1 0zM396.2 425.25a1.5 1.5 0 1 0 .1 0zM396.2 426a1.5 1.5 0 1 0 .1 0zM396.2 439.5a1.5 1.5 0 1 0 .1 0zM396.45 386.5a1.5 1.5 0 1 0 .1 0zM396.45 398.75a1.5 1.5 0 1 0 .1 0zM396.45 408a1.5 1.5 0 1 0 .1 0zM396.45 422a1.5 1.5 0 1 0 .1 0zM396.7 377a1.5 1.5 0 1 0 .1 0zM396.7 398a1.5 1.5 0 1 0 .1 0zM396.7 405.75a1.5 1.5 0 1 0 .1 0zM396.7 424.75a1.5 1.5 0 1 0 .1 0zM396.95 376a1.5 1.5 0 1 0 .1 0zM396.95 384.75a1.5 1.5 0 1 0 .1 0zM396.95 389.25a1.5 1.5 0 1 0 .1 0zM396.95 421.75a1.5 1.5 0 1 0 .1 0zM397.2 386.75a1.5 1.5 0 1 0 .1 0zM397.2 387.75a1.5 1.5 0 1 0 .1 0zM397.2 392.5a1.5 1.5 0 1 0 .1 0zM397.2 392.75a1.5 1.5 0 1 0 .1 0zM397.2 393.5a1.5 1.5 0 1 0 .1 0zM397.45 403a1.5 1.5 0 1 0 .1 0zM397.45 411a1.5 1.5 0 1 0 .1 0zM397.45 416.5a1.5 1.5 0 1 0 .1 0zM397.45 427a1.5 1.5 0 1 0 .1 0zM397.7 374.25a1.5 1.5 0 1 0 .1 0zM397.7 393.5a1.5 1.5 0 1 0 .1 0zM397.7 403.5a1.5 1.5 0 1 0 .1 0zM397.7 413.5a1.5 1.5 0 1 0 .1 0zM397.95 372.5a1.5 1.5 0 1 0 .1 0zM397.95 374a1.5 1.5 0 1 0 .1 0zM397.95 400.25a1.5 1.5 0 1 0 .1 0zM397.95 407.5a1.5 1.5 0 1 0 .1 0zM398.2 380a1.5 1.5 0 1 0 .1 0zM398.2 383.75a1.5 1.5 0 1 0 .1 0zM398.2 407.25a1.5 1.5 0 1 0 .1 0zM398.2 421.25a1.5 1.5 0 1 0 .1 0zM398.2 436a1.5 1.5 0 1 0 .1 0zM398.45 378.75a1.5 1.5 0 1 0 .1 0zM398.45 390a1.5 1.5 0 1 0 .1 0zM398.45 395.25a1.5 1.5 0 1 0 .1 0zM398.45 406a1.5 1.5 0 1 0 .1 0zM398.7 387a1.5 1.5 0 1 0 .1 0zM398.7 411.25a1.5 1.5 0 1 0 .1 0zM398.7 411.75a1.5 1.5 0 1 0 .1 0zM398.7 413.5a1.5 1.5 0 1 0 .1 0zM398.95 369a1.5 1.5 0 1 0 .1 0zM398.95 392.5a1.5 1.5 0 1 0 .1 0zM398.95 404.5a1.5 1.5 0 1 0 .1 0zM398.95 417.25a1.5 1.5 0 1 0 .1 0zM399.2 400.5a1.5 1.5 0 1 0 .1 0zM399.2 404.5a1.5 1.5 0 1 0 .1 0zM399.2 405.75a1.5 1.5 0 1 0 .1 0zM399.2 408.75a1.5 1.5 0 1 0 .1 0zM399.2 410.5a1.5 1.5 0 1 0 .1 0zM399.45 394.5a1.5 1.5 0 1 0 .1 0zM399.45 402.25a1.5 1.5 0 1 0 .1 0zM399.45 402.75a1.5 1.5 0 1 0 .1 0zM399.45 412.25a1.5 1.5 0 1 0 .1 0zM399.7 365.75a1.5 1.5 0 1 0 .1 0zM399.7 403.75a1.5 1.5 0 1 0 .1 0zM399.7 432.25a1.5 1.5 0 1 0 .1 0zM399.7 437.75a1.5 1.5 0 1 0 .1 0zM399.95 367a1.5 1.5 0 1 0 .1 0zM399.95 396.5a1.5 1.5 0 1 0 .1 0zM399.95 396.75a1.5 1.5 0 1 0 .1 0zM399.95 425.75a1.5 1.5 0 1 0 .1 0zM400.2 366.5a1.5 1.5 0 1 0 .1 0zM400.2 389.75a1.5 1.5 0 1 0 .1 0zM400.2 392a1.5 1.5 0 1 0 .1 0zM400.2 420.5a1.5 1.5 0 1 0 .1 0zM400.2 421.5a1.5 1.5 0 1 0 .1 0zM400.45 387.5a1.5 1.5 0 1 0 .1 0zM400.45 391.5a1.5 1.5 0 1 0 .1 0zM400.45 397a1.5 1.5 0 1 0 .1 0zM400.45 417.5a1.5 1.5 0 1 0 .1 0zM400.7 367.75a1.5 1.5 0 1 0 .1 0zM400.7 392a1.5 1.5 0 1 0 .1 0zM400.7 404a1.5 1.5 0 1 0 .1 0zM400.7 414.75a1.5 1.5 0 1 0 .1 0zM400.95 360.75a1.5 1.5 0 1 0 .1 0zM400.95 385a1.5 1.5 0 1 0 .1 0zM400.95 386.25a1.5 1.5 0 1 0 .1 0zM400.95 418.25a1.5 1.5 0 1 0 .1 0zM401.2 339.75a1.5 1.5 0 1 0 .1 0zM401.2 363.75a1.5 1.5 0 1 0 .1 0zM401.2 372a1.5 1.5 0 1 0 .1 0zM401.2 382.75a1.5 1.5 0 1 0 .1 0zM401.2 406.75a1.5 1.5 0 1 0 .1 0zM401.2 415.25a1.5 1.5 0 1 0 .1 0zM401.45 377a1.5 1.5 0 1 0 .1 0zM401.45 381a1.5 1.5 0 1 0 .1 0zM401.45 405.5a1.5 1.5 0 1 0 .1 0zM401.45 416a1.5 1.5 0 1 0 .1 0zM401.45 436.25a1.5 1.5 0 1 0 .1 0zM401.7 382.25a1.5 1.5 0 1 0 .1 0zM401.7 389a1.5 1.5 0 1 0 .1 0zM401.7 393.5a1.5 1.5 0 1 0 .1 0zM401.7 398.25a1.5 1.5 0 1 0 .1 0zM401.95 355.75a1.5 1.5 0 1 0 .1 0zM401.95 370.25a1.5 1.5 0 1 0 .1 0zM401.95 409a1.5 1.5 0 1 0 .1 0zM401.95 417.5a1.5 1.5 0 1 0 .1 0zM402.2 372a1.5 1.5 0 1 0 .1 0zM402.2 374.25a1.5 1.5 0 1 0 .1 0zM402.2 388.75a1.5 1.5 0 1 0 .1 0zM402.2 389.25a1.5 1.5 0 1 0 .1 0zM402.2 410.75a1.5 1.5 0 1 0 .1 0zM402.45 346.5a1.5 1.5 0 1 0 .1 0zM402.45 353a1.5 1.5 0 1 0 .1 0zM402.45 383.25a1.5 1.5 0 1 0 .1 0zM402.45 395.25a1.5 1.5 0 1 0 .1 0zM402.7 368.75a1.5 1.5 0 1 0 .1 0zM402.7 400a1.5 1.5 0 1 0 .1 0zM402.7 401a1.5 1.5 0 1 0 .1 0zM402.7 405a1.5 1.5 0 1 0 .1 0zM402.95 391a1.5 1.5 0 1 0 .1 0zM402.95 393.5a1.5 1.5 0 1 0 .1 0zM402.95 394.25a1.5 1.5 0 1 0 .1 0zM402.95 400.75a1.5 1.5 0 1 0 .1 0zM403.2 371.5a1.5 1.5 0 1 0 .1 0zM403.2 372.25a1.5 1.5 0 1 0 .1 0zM403.2 384.5a1.5 1.5 0 1 0 .1 0zM403.2 388.5a1.5 1.5 0 1 0 .1 0zM403.2 393.75a1.5 1.5 0 1 0 .1 0zM403.45 379.25a1.5 1.5 0 1 0 .1 0zM403.45 380.25a1.5 1.5 0 1 0 .1 0zM403.45 380.75a1.5 1.5 0 1 0 .1 0zM403.45 393a1.5 1.5 0 1 0 .1 0zM403.7 368.25a1.5 1.5 0 1 0 .1 0zM403.7 372a1.5 1.5 0 1 0 .1 0zM403.7 402a1.5 1.5 0 1 0 .1 0zM403.7 405.75a1.5 1.5 0 1 0 .1 0zM403.7 438a1.5 1.5 0 1 0 .1 0zM403.95 392.75a1.5 1.5 0 1 0 .1 0zM403.95 395.25a1.5 1.5 0 1 0 .1 0zM403.95 403.25a1.5 1.5 0 1 0 .1 0zM403.95 405.75a1.5 1.5 0 1 0 .1 0zM403.95 406a1.5 1.5 0 1 0 .1 0zM404.2 394a1.5 1.5 0 1 0 .1 0zM404.2 404.5a1.5 1.5 0 1 0 .1 0zM404.2 407.5a1.5 1.5 0 1 0 .1 0zM404.2 407.75a1.5 1.5 0 1 0 .1 0zM404.45 380.75a1.5 1.5 0 1 0 .1 0zM404.45 389.75a1.5 1.5 0 1 0 .1 0zM404.45 392.5a1.5 1.5 0 1 0 .1 0zM404.45 407.5a1.5 1.5 0 1 0 .1 0zM404.7 382.25a1.5 1.5 0 1 0 .1 0zM404.7 405.5a1.5 1.5 0 1 0 .1 0zM404.7 409a1.5 1.5 0 1 0 .1 0zM404.7 410.5a1.5 1.5 0 1 0 .1 0zM404.95 366a1.5 1.5 0 1 0 .1 0zM404.95 373.25a1.5 1.5 0 1 0 .1 0zM404.95 388.75a1.5 1.5 0 1 0 .1 0zM404.95 394.25a1.5 1.5 0 1 0 .1 0zM404.95 405a1.5 1.5 0 1 0 .1 0zM405.2 370.5a1.5 1.5 0 1 0 .1 0zM405.2 379a1.5 1.5 0 1 0 .1 0zM405.2 395.25a1.5 1.5 0 1 0 .1 0zM405.2 404.25a1.5 1.5 0 1 0 .1 0zM405.45 381.75a1.5 1.5 0 1 0 .1 0zM405.45 405.75a1.5 1.5 0 1 0 .1 0zM405.45 407.25a1.5 1.5 0 1 0 .1 0zM405.45 411a1.5 1.5 0 1 0 .1 0zM405.7 359.25a1.5 1.5 0 1 0 .1 0zM405.7 371.25a1.5 1.5 0 1 0 .1 0zM405.7 389a1.5 1.5 0 1 0 .1 0zM405.7 416.75a1.5 1.5 0 1 0 .1 0zM405.95 364.5a1.5 1.5 0 1 0 .1 0zM405.95 374.5a1.5 1.5 0 1 0 .1 0zM405.95 384a1.5 1.5 0 1 0 .1 0zM405.95 387.75a1.5 1.5 0 1 0 .1 0zM405.95 405a1.5 1.5 0 1 0 .1 0zM406.2 373.25a1.5 1.5 0 1 0 .1 0zM406.2 376a1.5 1.5 0 1 0 .1 0zM406.2 384.75a1.5 1.5 0 1 0 .1 0zM406.2 389.25a1.5 1.5 0 1 0 .1 0zM406.45 362.5a1.5 1.5 0 1 0 .1 0zM406.45 363a1.5 1.5 0 1 0 .1 0zM406.45 367.25a1.5 1.5 0 1 0 .1 0zM406.45 388a1.5 1.5 0 1 0 .1 0zM406.7 356a1.5 1.5 0 1 0 .1 0zM406.7 375.5a1.5 1.5 0 1 0 .1 0zM406.7 386.5a1.5 1.5 0 1 0 .1 0zM406.7 393.25a1.5 1.5 0 1 0 .1 0zM406.95 350a1.5 1.5 0 1 0 .1 0zM406.95 350.25a1.5 1.5 0 1 0 .1 0zM406.95 378a1.5 1.5 0 1 0 .1 0zM406.95 391.5a1.5 1.5 0 1 0 .1 0zM406.95 408.25a1.5 1.5 0 1 0 .1 0zM407.2 372.25a1.5 1.5 0 1 0 .1 0zM407.2 387.5a1.5 1.5 0 1 0 .1 0zM407.2 397a1.5 1.5 0 1 0 .1 0zM407.2 407.75a1.5 1.5 0 1 0 .1 0zM407.45 334.5a1.5 1.5 0 1 0 .1 0zM407.45 368.75a1.5 1.5 0 1 0 .1 0zM407.45 400.25a1.5 1.5 0 1 0 .1 0zM407.45 404.5a1.5 1.5 0 1 0 .1 0zM407.45 405.5a1.5 1.5 0 1 0 .1 0zM407.7 357.25a1.5 1.5 0 1 0 .1 0zM407.7 386.25a1.5 1.5 0 1 0 .1 0zM407.7 399.5a1.5 1.5 0 1 0 .1 0zM407.7 400.25a1.5 1.5 0 1 0 .1 0zM407.95 386.5a1.5 1.5 0 1 0 .1 0zM407.95 389a1.5 1.5 0 1 0 .1 0zM407.95 395.5a1.5 1.5 0 1 0 .1 0zM407.95 398.5a1.5 1.5 0 1 0 .1 0zM407.95 410a1.5 1.5 0 1 0 .1 0zM408.2 371a1.5 1.5 0 1 0 .1 0zM408.2 377.75a1.5 1.5 0 1 0 .1 0zM408.2 384.75a1.5 1.5 0 1 0 .1 0zM408.2 397a1.5 1.5 0 1 0 .1 0zM408.45 351a1.5 1.5 0 1 0 .1 0zM408.45 356.5a1.5 1.5 0 1 0 .1 0zM408.45 385.5a1.5 1.5 0 1 0 .1 0zM408.45 402.75a1.5 1.5 0 1 0 .1 0zM408.7 389.75a1.5 1.5 0 1 0 .1 0zM408.7 390a1.5 1.5 0 1 0 .1 0zM408.7 391.5a1.5 1.5 0 1 0 .1 0zM408.7 397.5a1.5 1.5 0 1 0 .1 0zM408.95 354.5a1.5 1.5 0 1 0 .1 0zM408.95 359.25a1.5 1.5 0 1 0 .1 0zM408.95 385.5a1.5 1.5 0 1 0 .1 0zM408.95 389a1.5 1.5 0 1 0 .1 0zM408.95 398.25a1.5 1.5 0 1 0 .1 0zM409.2 367.5a1.5 1.5 0 1 0 .1 0zM409.2 391.25a1.5 1.5 0 1 0 .1 0zM409.2 395.25a1.5 1.5 0 1 0 .1 0zM409.2 398a1.5 1.5 0 1 0 .1 0zM409.45 359.75a1.5 1.5 0 1 0 .1 0zM409.45 372.25a1.5 1.5 0 1 0 .1 0zM409.45 379.75a1.5 1.5 0 1 0 .1 0zM409.45 384a1.5 1.5 0 1 0 .1 0zM409.7 364.5a1.5 1.5 0 1 0 .1 0zM409.7 366.5a1.5 1.5 0 1 0 .1 0zM409.7 381a1.5 1.5 0 1 0 .1 0zM409.7 382a1.5 1.5 0 1 0 .1 0zM409.95 359.25a1.5 1.5 0 1 0 .1 0zM409.95 370a1.5 1.5 0 1 0 .1 0zM409.95 374.5a1.5 1.5 0 1 0 .1 0zM409.95 387.5a1.5 1.5 0 1 0 .1 0zM409.95 406.5a1.5 1.5 0 1 0 .1 0zM410.2 364a1.5 1.5 0 1 0 .1 0zM410.2 372a1.5 1.5 0 1 0 .1 0zM410.2 379.75a1.5 1.5 0 1 0 .1 0zM410.2 397.75a1.5 1.5 0 1 0 .1 0zM410.45 391.25a1.5 1.5 0 1 0 .1 0zM410.45 398a1.5 1.5 0 1 0 .1 0zM410.45 404.5a1.5 1.5 0 1 0 .1 0zM410.45 412a1.5 1.5 0 1 0 .1 0zM410.7 385.5a1.5 1.5 0 1 0 .1 0zM410.7 390.25a1.5 1.5 0 1 0 .1 0zM410.7 395a1.5 1.5 0 1 0 .1 0zM410.7 395.75a1.5 1.5 0 1 0 .1 0zM410.95 342.75a1.5 1.5 0 1 0 .1 0zM410.95 363.25a1.5 1.5 0 1 0 .1 0zM410.95 366.25a1.5 1.5 0 1 0 .1 0zM410.95 391a1.5 1.5 0 1 0 .1 0zM410.95 397a1.5 1.5 0 1 0 .1 0zM411.2 348.25a1.5 1.5 0 1 0 .1 0zM411.2 384a1.5 1.5 0 1 0 .1 0zM411.2 384.25a1.5 1.5 0 1 0 .1 0zM411.2 412.25a1.5 1.5 0 1 0 .1 0zM411.45 382.25a1.5 1.5 0 1 0 .1 0zM411.45 383.5a1.5 1.5 0 1 0 .1 0zM411.45 388.25a1.5 1.5 0 1 0 .1 0zM411.45 391a1.5 1.5 0 1 0 .1 0zM411.7 375.5a1.5 1.5 0 1 0 .1 0zM411.7 389.25a1.5 1.5 0 1 0 .1 0zM411.7 391.5a1.5 1.5 0 1 0 .1 0zM411.95 372.75a1.5 1.5 0 1 0 .1 0zM411.95 378a1.5 1.5 0 1 0 .1 0zM411.95 387.25a1.5 1.5 0 1 0 .1 0zM411.95 401a1.5 1.5 0 1 0 .1 0zM411.95 407.5a1.5 1.5 0 1 0 .1 0zM412.2 354.5a1.5 1.5 0 1 0 .1 0zM412.2 387a1.5 1.5 0 1 0 .1 0zM412.2 391.25a1.5 1.5 0 1 0 .1 0zM412.2 413.5a1.5 1.5 0 1 0 .1 0zM412.45 383.5a1.5 1.5 0 1 0 .1 0zM412.45 390.5a1.5 1.5 0 1 0 .1 0zM412.45 400.75a1.5 1.5 0 1 0 .1 0zM412.45 402.25a1.5 1.5 0 1 0 .1 0zM412.7 356a1.5 1.5 0 1 0 .1 0zM412.7 376.5a1.5 1.5 0 1 0 .1 0zM412.7 392a1.5 1.5 0 1 0 .1 0zM412.7 395a1.5 1.5 0 1 0 .1 0zM412.95 359.75a1.5 1.5 0 1 0 .1 0zM412.95 363.25a1.5 1.5 0 1 0 .1 0zM412.95 382.75a1.5 1.5 0 1 0 .1 0zM412.95 383.25a1.5 1.5 0 1 0 .1 0zM412.95 387.25a1.5 1.5 0 1 0 .1 0zM413.2 389.5a1.5 1.5 0 1 0 .1 0zM413.2 393a1.5 1.5 0 1 0 .1 0zM413.2 393.75a1.5 1.5 0 1 0 .1 0zM413.2 401.75a1.5 1.5 0 1 0 .1 0zM413.45 377.25a1.5 1.5 0 1 0 .1 0zM413.45 387.25a1.5 1.5 0 1 0 .1 0zM413.45 392.75a1.5 1.5 0 1 0 .1 0zM413.45 401.25a1.5 1.5 0 1 0 .1 0zM413.7 374a1.5 1.5 0 1 0 .1 0zM413.7 384.5a1.5 1.5 0 1 0 .1 0zM413.7 392.25a1.5 1.5 0 1 0 .1 0zM413.7 412.5a1.5 1.5 0 1 0 .1 0zM413.95 370.75a1.5 1.5 0 1 0 .1 0zM413.95 371.5a1.5 1.5 0 1 0 .1 0zM413.95 383.75a1.5 1.5 0 1 0 .1 0zM413.95 387.75a1.5 1.5 0 1 0 .1 0zM413.95 388.25a1.5 1.5 0 1 0 .1 0zM414.2 371.5a1.5 1.5 0 1 0 .1 0zM414.2 377.75a1.5 1.5 0 1 0 .1 0zM414.2 381a1.5 1.5 0 1 0 .1 0zM414.2 396a1.5 1.5 0 1 0 .1 0zM414.45 375a1.5 1.5 0 1 0 .1 0zM414.45 396a1.5 1.5 0 1 0 .1 0zM414.45 405a1.5 1.5 0 1 0 .1 0zM414.45 407.75a1.5 1.5 0 1 0 .1 0zM414.7 350a1.5 1.5 0 1 0 .1 0zM414.7 353.25a1.5 1.5 0 1 0 .1 0zM414.7 374a1.5 1.5 0 1 0 .1 0zM414.7 386a1.5 1.5 0 1 0 .1 0zM414.95 374.5a1.5 1.5 0 1 0 .1 0zM414.95 376.75a1.5 1.5 0 1 0 .1 0zM414.95 380a1.5 1.5 0 1 0 .1 0zM414.95 385.75a1.5 1.5 0 1 0 .1 0zM415.2 344.5a1.5 1.5 0 1 0 .1 0zM415.2 377.75a1.5 1.5 0 1 0 .1 0zM415.2 379.75a1.5 1.5 0 1 0 .1 0zM415.2 396.5a1.5 1.5 0 1 0 .1 0zM415.45 349.25a1.5 1.5 0 1 0 .1 0zM415.45 385.75a1.5 1.5 0 1 0 .1 0zM415.45 400.5a1.5 1.5 0 1 0 .1 0zM415.45 401.75a1.5 1.5 0 1 0 .1 0zM415.7 365a1.5 1.5 0 1 0 .1 0zM415.7 384a1.5 1.5 0 1 0 .1 0zM415.7 384.5a1.5 1.5 0 1 0 .1 0zM415.7 386.75a1.5 1.5 0 1 0 .1 0zM415.95 355a1.5 1.5 0 1 0 .1 0zM415.95 374a1.5 1.5 0 1 0 .1 0zM415.95 383a1.5 1.5 0 1 0 .1 0zM415.95 399.25a1.5 1.5 0 1 0 .1 0zM415.95 410a1.5 1.5 0 1 0 .1 0zM416.2 344.25a1.5 1.5 0 1 0 .1 0zM416.2 356.5a1.5 1.5 0 1 0 .1 0zM416.2 364a1.5 1.5 0 1 0 .1 0zM416.2 378.75a1.5 1.5 0 1 0 .1 0zM416.45 367a1.5 1.5 0 1 0 .1 0zM416.45 386.25a1.5 1.5 0 1 0 .1 0zM416.45 394.75a1.5 1.5 0 1 0 .1 0zM416.45 398.75a1.5 1.5 0 1 0 .1 0zM416.7 375.75a1.5 1.5 0 1 0 .1 0zM416.7 406.75a1.5 1.5 0 1 0 .1 0zM416.7 407.75a1.5 1.5 0 1 0 .1 0zM416.7 415.25a1.5 1.5 0 1 0 .1 0zM416.95 334.5a1.5 1.5 0 1 0 .1 0zM416.95 363a1.5 1.5 0 1 0 .1 0zM416.95 388.5a1.5 1.5 0 1 0 .1 0zM416.95 394.75a1.5 1.5 0 1 0 .1 0zM416.95 406a1.5 1.5 0 1 0 .1 0zM416.95 435a1.5 1.5 0 1 0 .1 0zM417.2 356.5a1.5 1.5 0 1 0 .1 0zM417.2 369.5a1.5 1.5 0 1 0 .1 0zM417.2 376.25a1.5 1.5 0 1 0 .1 0zM417.2 384.25a1.5 1.5 0 1 0 .1 0zM417.45 372.25a1.5 1.5 0 1 0 .1 0zM417.45 398.5a1.5 1.5 0 1 0 .1 0zM417.45 401.25a1.5 1.5 0 1 0 .1 0zM417.45 402.75a1.5 1.5 0 1 0 .1 0zM417.7 355.5a1.5 1.5 0 1 0 .1 0zM417.7 366.25a1.5 1.5 0 1 0 .1 0zM417.7 372a1.5 1.5 0 1 0 .1 0zM417.7 400a1.5 1.5 0 1 0 .1 0zM417.95 353a1.5 1.5 0 1 0 .1 0zM417.95 382.25a1.5 1.5 0 1 0 .1 0zM417.95 382.75a1.5 1.5 0 1 0 .1 0zM417.95 395.25a1.5 1.5 0 1 0 .1 0zM417.95 397.5a1.5 1.5 0 1 0 .1 0zM418.2 354.75a1.5 1.5 0 1 0 .1 0zM418.2 369.5a1.5 1.5 0 1 0 .1 0zM418.2 382a1.5 1.5 0 1 0 .1 0zM418.2 403a1.5 1.5 0 1 0 .1 0zM418.45 360a1.5 1.5 0 1 0 .1 0zM418.45 385.25a1.5 1.5 0 1 0 .1 0zM418.45 398.75a1.5 1.5 0 1 0 .1 0zM418.45 400.25a1.5 1.5 0 1 0 .1 0zM418.7 375a1.5 1.5 0 1 0 .1 0zM418.7 378.25a1.5 1.5 0 1 0 .1 0zM418.7 388.5a1.5 1.5 0 1 0 .1 0zM418.7 388.75a1.5 1.5 0 1 0 .1 0zM418.95 361.75a1.5 1.5 0 1 0 .1 0zM418.95 373.5a1.5 1.5 0 1 0 .1 0zM418.95 374.25a1.5 1.5 0 1 0 .1 0zM418.95 382.75a1.5 1.5 0 1 0 .1 0zM418.95 383.5a1.5 1.5 0 1 0 .1 0zM419.2 359.5a1.5 1.5 0 1 0 .1 0zM419.2 384a1.5 1.5 0 1 0 .1 0zM419.2 395a1.5 1.5 0 1 0 .1 0zM419.45 379a1.5 1.5 0 1 0 .1 0zM419.45 382.75a1.5 1.5 0 1 0 .1 0zM419.45 402a1.5 1.5 0 1 0 .1 0zM419.45 403.75a1.5 1.5 0 1 0 .1 0zM419.7 363.75a1.5 1.5 0 1 0 .1 0zM419.7 384.75a1.5 1.5 0 1 0 .1 0zM419.7 392.25a1.5 1.5 0 1 0 .1 0zM419.7 400.75a1.5 1.5 0 1 0 .1 0zM419.95 382.75a1.5 1.5 0 1 0 .1 0zM419.95 386.5a1.5 1.5 0 1 0 .1 0zM419.95 399a1.5 1.5 0 1 0 .1 0zM419.95 400.75a1.5 1.5 0 1 0 .1 0zM419.95 423a1.5 1.5 0 1 0 .1 0zM420.2 386.75a1.5 1.5 0 1 0 .1 0zM420.2 392.75a1.5 1.5 0 1 0 .1 0zM420.2 393.25a1.5 1.5 0 1 0 .1 0zM420.2 406.25a1.5 1.5 0 1 0 .1 0zM420.45 375.5a1.5 1.5 0 1 0 .1 0zM420.45 402.5a1.5 1.5 0 1 0 .1 0zM420.45 422.75a1.5 1.5 0 1 0 .1 0zM420.45 425a1.5 1.5 0 1 0 .1 0zM420.7 388.5a1.5 1.5 0 1 0 .1 0zM420.7 404.25a1.5 1.5 0 1 0 .1 0zM420.7 410.5a1.5 1.5 0 1 0 .1 0zM420.7 423.5a1.5 1.5 0 1 0 .1 0zM420.95 374.5a1.5 1.5 0 1 0 .1 0zM420.95 398.75a1.5 1.5 0 1 0 .1 0zM420.95 400.75a1.5 1.5 0 1 0 .1 0zM420.95 401a1.5 1.5 0 1 0 .1 0zM420.95 451.25a1.5 1.5 0 1 0 .1 0zM421.2 376.75a1.5 1.5 0 1 0 .1 0zM421.2 382.25a1.5 1.5 0 1 0 .1 0zM421.2 390.25a1.5 1.5 0 1 0 .1 0zM421.2 413a1.5 1.5 0 1 0 .1 0zM421.45 376.75a1.5 1.5 0 1 0 .1 0zM421.45 389.75a1.5 1.5 0 1 0 .1 0zM421.45 403.5a1.5 1.5 0 1 0 .1 0zM421.45 404.75a1.5 1.5 0 1 0 .1 0zM421.7 377.75a1.5 1.5 0 1 0 .1 0zM421.7 386.5a1.5 1.5 0 1 0 .1 0zM421.7 395a1.5 1.5 0 1 0 .1 0zM421.7 397.25a1.5 1.5 0 1 0 .1 0zM421.95 397.75a1.5 1.5 0 1 0 .1 0zM421.95 398.25a1.5 1.5 0 1 0 .1 0zM421.95 400.5a1.5 1.5 0 1 0 .1 0zM421.95 406a1.5 1.5 0 1 0 .1 0zM421.95 423a1.5 1.5 0 1 0 .1 0zM422.2 383a1.5 1.5 0 1 0 .1 0zM422.2 403.5a1.5 1.5 0 1 0 .1 0zM422.2 417a1.5 1.5 0 1 0 .1 0zM422.2 423.25a1.5 1.5 0 1 0 .1 0zM422.45 379a1.5 1.5 0 1 0 .1 0zM422.45 403.75a1.5 1.5 0 1 0 .1 0zM422.45 416.25a1.5 1.5 0 1 0 .1 0zM422.45 420a1.5 1.5 0 1 0 .1 0zM422.7 390.75a1.5 1.5 0 1 0 .1 0zM422.7 407.75a1.5 1.5 0 1 0 .1 0zM422.7 412a1.5 1.5 0 1 0 .1 0zM422.7 429.25a1.5 1.5 0 1 0 .1 0zM422.95 389.25a1.5 1.5 0 1 0 .1 0zM422.95 394.5a1.5 1.5 0 1 0 .1 0zM422.95 404a1.5 1.5 0 1 0 .1 0zM422.95 414a1.5 1.5 0 1 0 .1 0zM422.95 432.25a1.5 1.5 0 1 0 .1 0zM423.2 384.5a1.5 1.5 0 1 0 .1 0zM423.2 387.25a1.5 1.5 0 1 0 .1 0zM423.2 394a1.5 1.5 0 1 0 .1 0zM423.2 407.75a1.5 1.5 0 1 0 .1 0zM423.45 376a1.5 1.5 0 1 0 .1 0zM423.45 385a1.5 1.5 0 1 0 .1 0zM423.45 400.75a1.5 1.5 0 1 0 .1 0zM423.45 405.75a1.5 1.5 0 1 0 .1 0zM423.7 353.5a1.5 1.5 0 1 0 .1 0zM423.7 406.75a1.5 1.5 0 1 0 .1 0zM423.7 421.75a1.5 1.5 0 1 0 .1 0zM423.7 425.25a1.5 1.5 0 1 0 .1 0zM423.95 394.75a1.5 1.5 0 1 0 .1 0zM423.95 412.75a1.5 1.5 0 1 0 .1 0zM423.95 415.25a1.5 1.5 0 1 0 .1 0zM423.95 417a1.5 1.5 0 1 0 .1 0zM423.95 418.5a1.5 1.5 0 1 0 .1 0zM424.2 360.5a1.5 1.5 0 1 0 .1 0zM424.2 383.5a1.5 1.5 0 1 0 .1 0zM424.2 399a1.5 1.5 0 1 0 .1 0zM424.2 402.75a1.5 1.5 0 1 0 .1 0zM424.45 406a1.5 1.5 0 1 0 .1 0zM424.45 409.25a1.5 1.5 0 1 0 .1 0zM424.45 411.5a1.5 1.5 0 1 0 .1 0zM424.45 426.25a1.5 1.5 0 1 0 .1 0zM424.7 378.25a1.5 1.5 0 1 0 .1 0zM424.7 381.25a1.5 1.5 0 1 0 .1 0zM424.7 402a1.5 1.5 0 1 0 .1 0zM424.7 409.25a1.5 1.5 0 1 0 .1 0zM424.95 373.75a1.5 1.5 0 1 0 .1 0zM424.95 393.75a1.5 1.5 0 1 0 .1 0zM424.95 401.5a1.5 1.5 0 1 0 .1 0zM424.95 412a1.5 1.5 0 1 0 .1 0zM424.95 427a1.5 1.5 0 1 0 .1 0zM425.2 370a1.5 1.5 0 1 0 .1 0zM425.2 408a1.5 1.5 0 1 0 .1 0zM425.2 410.5a1.5 1.5 0 1 0 .1 0zM425.2 412.75a1.5 1.5 0 1 0 .1 0zM425.45 371.75a1.5 1.5 0 1 0 .1 0zM425.45 381a1.5 1.5 0 1 0 .1 0zM425.45 385a1.5 1.5 0 1 0 .1 0zM425.45 391.5a1.5 1.5 0 1 0 .1 0zM425.7 365.75a1.5 1.5 0 1 0 .1 0zM425.7 371.25a1.5 1.5 0 1 0 .1 0zM425.7 386.75a1.5 1.5 0 1 0 .1 0zM425.7 392.5a1.5 1.5 0 1 0 .1 0zM425.95 387a1.5 1.5 0 1 0 .1 0zM425.95 401a1.5 1.5 0 1 0 .1 0zM425.95 404.75a1.5 1.5 0 1 0 .1 0zM425.95 408.75a1.5 1.5 0 1 0 .1 0zM425.95 422.5a1.5 1.5 0 1 0 .1 0zM426.2 393a1.5 1.5 0 1 0 .1 0zM426.2 400.75a1.5 1.5 0 1 0 .1 0zM426.2 411.5a1.5 1.5 0 1 0 .1 0zM426.2 419a1.5 1.5 0 1 0 .1 0zM426.45 389.75a1.5 1.5 0 1 0 .1 0zM426.45 395a1.5 1.5 0 1 0 .1 0zM426.45 405a1.5 1.5 0 1 0 .1 0zM426.45 408.75a1.5 1.5 0 1 0 .1 0zM426.7 327a1.5 1.5 0 1 0 .1 0zM426.7 355.75a1.5 1.5 0 1 0 .1 0zM426.7 381.5a1.5 1.5 0 1 0 .1 0zM426.7 400a1.5 1.5 0 1 0 .1 0zM426.7 406.75a1.5 1.5 0 1 0 .1 0zM426.95 378a1.5 1.5 0 1 0 .1 0zM426.95 384.5a1.5 1.5 0 1 0 .1 0zM426.95 397.25a1.5 1.5 0 1 0 .1 0zM426.95 403.75a1.5 1.5 0 1 0 .1 0zM426.95 420.25a1.5 1.5 0 1 0 .1 0zM427.2 396a1.5 1.5 0 1 0 .1 0zM427.2 407.25a1.5 1.5 0 1 0 .1 0zM427.2 415.75a1.5 1.5 0 1 0 .1 0zM427.2 416.5a1.5 1.5 0 1 0 .1 0zM427.45 385.25a1.5 1.5 0 1 0 .1 0zM427.45 415.25a1.5 1.5 0 1 0 .1 0zM427.45 425a1.5 1.5 0 1 0 .1 0zM427.45 428.5a1.5 1.5 0 1 0 .1 0zM427.7 371a1.5 1.5 0 1 0 .1 0zM427.7 374.5a1.5 1.5 0 1 0 .1 0zM427.7 382a1.5 1.5 0 1 0 .1 0zM427.7 399a1.5 1.5 0 1 0 .1 0zM427.95 378.25a1.5 1.5 0 1 0 .1 0zM427.95 379a1.5 1.5 0 1 0 .1 0zM427.95 389a1.5 1.5 0 1 0 .1 0zM427.95 392.5a1.5 1.5 0 1 0 .1 0zM427.95 417.5a1.5 1.5 0 1 0 .1 0zM428.2 384a1.5 1.5 0 1 0 .1 0zM428.2 394a1.5 1.5 0 1 0 .1 0zM428.2 399.75a1.5 1.5 0 1 0 .1 0zM428.2 427.25a1.5 1.5 0 1 0 .1 0zM428.45 395.25a1.5 1.5 0 1 0 .1 0zM428.45 400a1.5 1.5 0 1 0 .1 0zM428.45 408.5a1.5 1.5 0 1 0 .1 0zM428.45 416.25a1.5 1.5 0 1 0 .1 0zM428.7 387a1.5 1.5 0 1 0 .1 0zM428.7 402.75a1.5 1.5 0 1 0 .1 0zM428.7 407.25a1.5 1.5 0 1 0 .1 0zM428.7 421.75a1.5 1.5 0 1 0 .1 0zM428.95 380a1.5 1.5 0 1 0 .1 0zM428.95 382.5a1.5 1.5 0 1 0 .1 0zM428.95 386.75a1.5 1.5 0 1 0 .1 0zM428.95 389.75a1.5 1.5 0 1 0 .1 0zM428.95 395.5a1.5 1.5 0 1 0 .1 0zM429.2 399.5a1.5 1.5 0 1 0 .1 0zM429.2 408.5a1.5 1.5 0 1 0 .1 0zM429.2 419.75a1.5 1.5 0 1 0 .1 0zM429.2 425.25a1.5 1.5 0 1 0 .1 0zM429.45 396.75a1.5 1.5 0 1 0 .1 0zM429.45 402a1.5 1.5 0 1 0 .1 0zM429.45 407.75a1.5 1.5 0 1 0 .1 0zM429.45 409.75a1.5 1.5 0 1 0 .1 0zM429.7 382.75a1.5 1.5 0 1 0 .1 0zM429.7 419.5a1.5 1.5 0 1 0 .1 0zM429.7 425.75a1.5 1.5 0 1 0 .1 0zM429.7 426a1.5 1.5 0 1 0 .1 0zM429.7 442.5a1.5 1.5 0 1 0 .1 0zM429.95 397.5a1.5 1.5 0 1 0 .1 0zM429.95 404.5a1.5 1.5 0 1 0 .1 0zM429.95 415a1.5 1.5 0 1 0 .1 0zM429.95 425.75a1.5 1.5 0 1 0 .1 0zM429.95 432a1.5 1.5 0 1 0 .1 0zM430.2 377.75a1.5 1.5 0 1 0 .1 0zM430.2 378.75a1.5 1.5 0 1 0 .1 0zM430.2 382.75a1.5 1.5 0 1 0 .1 0zM430.2 404.5a1.5 1.5 0 1 0 .1 0zM430.45 392.75a1.5 1.5 0 1 0 .1 0zM430.45 399.5a1.5 1.5 0 1 0 .1 0zM430.45 424.5a1.5 1.5 0 1 0 .1 0zM430.45 431.5a1.5 1.5 0 1 0 .1 0zM430.7 393.75a1.5 1.5 0 1 0 .1 0zM430.7 396.5a1.5 1.5 0 1 0 .1 0zM430.7 400.25a1.5 1.5 0 1 0 .1 0zM430.7 405.25a1.5 1.5 0 1 0 .1 0zM430.7 417.75a1.5 1.5 0 1 0 .1 0zM430.95 386.25a1.5 1.5 0 1 0 .1 0zM430.95 403a1.5 1.5 0 1 0 .1 0zM430.95 415.5a1.5 1.5 0 1 0 .1 0zM430.95 430.75a1.5 1.5 0 1 0 .1 0zM431.2 369.5a1.5 1.5 0 1 0 .1 0zM431.2 380.25a1.5 1.5 0 1 0 .1 0zM431.2 394.5a1.5 1.5 0 1 0 .1 0zM431.2 416.25a1.5 1.5 0 1 0 .1 0zM431.45 403.75a1.5 1.5 0 1 0 .1 0zM431.45 415.5a1.5 1.5 0 1 0 .1 0zM431.45 428.25a1.5 1.5 0 1 0 .1 0zM431.45 431a1.5 1.5 0 1 0 .1 0zM431.7 370.5a1.5 1.5 0 1 0 .1 0zM431.7 373.25a1.5 1.5 0 1 0 .1 0zM431.7 406.25a1.5 1.5 0 1 0 .1 0zM431.7 407.25a1.5 1.5 0 1 0 .1 0zM431.7 418a1.5 1.5 0 1 0 .1 0zM431.7 470.5a1.5 1.5 0 1 0 .1 0zM431.95 360.5a1.5 1.5 0 1 0 .1 0zM431.95 377a1.5 1.5 0 1 0 .1 0zM431.95 388a1.5 1.5 0 1 0 .1 0zM431.95 403a1.5 1.5 0 1 0 .1 0zM432.2 380.25a1.5 1.5 0 1 0 .1 0zM432.2 389.25a1.5 1.5 0 1 0 .1 0zM432.2 403.75a1.5 1.5 0 1 0 .1 0zM432.2 419.5a1.5 1.5 0 1 0 .1 0zM432.45 394.75a1.5 1.5 0 1 0 .1 0zM432.45 410.5a1.5 1.5 0 1 0 .1 0zM432.45 414.75a1.5 1.5 0 1 0 .1 0zM432.45 426.5a1.5 1.5 0 1 0 .1 0zM432.45 440.75a1.5 1.5 0 1 0 .1 0zM432.7 371a1.5 1.5 0 1 0 .1 0zM432.7 386a1.5 1.5 0 1 0 .1 0zM432.7 404a1.5 1.5 0 1 0 .1 0zM432.7 415a1.5 1.5 0 1 0 .1 0zM432.7 433.75a1.5 1.5 0 1 0 .1 0zM432.95 387a1.5 1.5 0 1 0 .1 0zM432.95 395.75a1.5 1.5 0 1 0 .1 0zM432.95 403a1.5 1.5 0 1 0 .1 0zM432.95 423.5a1.5 1.5 0 1 0 .1 0zM433.2 411a1.5 1.5 0 1 0 .1 0zM433.2 420.5a1.5 1.5 0 1 0 .1 0zM433.2 424.25a1.5 1.5 0 1 0 .1 0zM433.2 427a1.5 1.5 0 1 0 .1 0zM433.45 389.75a1.5 1.5 0 1 0 .1 0zM433.45 411a1.5 1.5 0 1 0 .1 0zM433.45 423a1.5 1.5 0 1 0 .1 0zM433.45 423.75a1.5 1.5 0 1 0 .1 0zM433.7 373.5a1.5 1.5 0 1 0 .1 0zM433.7 383.75a1.5 1.5 0 1 0 .1 0zM433.7 386.25a1.5 1.5 0 1 0 .1 0zM433.7 397.5a1.5 1.5 0 1 0 .1 0zM433.7 435.5a1.5 1.5 0 1 0 .1 0zM433.95 377.5a1.5 1.5 0 1 0 .1 0zM433.95 397.75a1.5 1.5 0 1 0 .1 0zM433.95 403a1.5 1.5 0 1 0 .1 0zM433.95 405.25a1.5 1.5 0 1 0 .1 0zM434.2 366a1.5 1.5 0 1 0 .1 0zM434.2 384.75a1.5 1.5 0 1 0 .1 0zM434.2 398.5a1.5 1.5 0 1 0 .1 0zM434.2 399.25a1.5 1.5 0 1 0 .1 0zM434.45 384.25a1.5 1.5 0 1 0 .1 0zM434.45 407.5a1.5 1.5 0 1 0 .1 0zM434.45 408.75a1.5 1.5 0 1 0 .1 0zM434.45 413.25a1.5 1.5 0 1 0 .1 0zM434.7 386.5a1.5 1.5 0 1 0 .1 0zM434.7 389a1.5 1.5 0 1 0 .1 0zM434.7 401.25a1.5 1.5 0 1 0 .1 0zM434.7 420.75a1.5 1.5 0 1 0 .1 0zM434.7 421.75a1.5 1.5 0 1 0 .1 0zM434.95 410.75a1.5 1.5 0 1 0 .1 0zM434.95 415.5a1.5 1.5 0 1 0 .1 0zM434.95 421.25a1.5 1.5 0 1 0 .1 0zM434.95 426.25a1.5 1.5 0 1 0 .1 0zM435.2 381.75a1.5 1.5 0 1 0 .1 0zM435.2 409.75a1.5 1.5 0 1 0 .1 0zM435.2 420a1.5 1.5 0 1 0 .1 0zM435.2 426.25a1.5 1.5 0 1 0 .1 0zM435.45 390a1.5 1.5 0 1 0 .1 0zM435.45 398.25a1.5 1.5 0 1 0 .1 0zM435.45 406.5a1.5 1.5 0 1 0 .1 0zM435.45 408a1.5 1.5 0 1 0 .1 0zM435.7 383.75a1.5 1.5 0 1 0 .1 0zM435.7 397.75a1.5 1.5 0 1 0 .1 0zM435.7 402.5a1.5 1.5 0 1 0 .1 0zM435.7 422a1.5 1.5 0 1 0 .1 0zM435.7 430.5a1.5 1.5 0 1 0 .1 0zM435.95 409.75a1.5 1.5 0 1 0 .1 0zM435.95 412.75a1.5 1.5 0 1 0 .1 0zM435.95 427a1.5 1.5 0 1 0 .1 0zM435.95 430a1.5 1.5 0 1 0 .1 0zM436.2 390.75a1.5 1.5 0 1 0 .1 0zM436.2 396.75a1.5 1.5 0 1 0 .1 0zM436.2 405.25a1.5 1.5 0 1 0 .1 0zM436.2 410a1.5 1.5 0 1 0 .1 0zM436.45 375a1.5 1.5 0 1 0 .1 0zM436.45 398.5a1.5 1.5 0 1 0 .1 0zM436.45 407.75a1.5 1.5 0 1 0 .1 0zM436.45 419a1.5 1.5 0 1 0 .1 0zM436.7 365.25a1.5 1.5 0 1 0 .1 0zM436.7 372.75a1.5 1.5 0 1 0 .1 0zM436.7 384.25a1.5 1.5 0 1 0 .1 0zM436.7 390.75a1.5 1.5 0 1 0 .1 0zM436.7 405.25a1.5 1.5 0 1 0 .1 0zM436.95 382.5a1.5 1.5 0 1 0 .1 0zM436.95 390.25a1.5 1.5 0 1 0 .1 0zM436.95 414a1.5 1.5 0 1 0 .1 0zM436.95 428.5a1.5 1.5 0 1 0 .1 0zM437.2 402.25a1.5 1.5 0 1 0 .1 0zM437.2 403a1.5 1.5 0 1 0 .1 0zM437.2 416.25a1.5 1.5 0 1 0 .1 0zM437.2 428.5a1.5 1.5 0 1 0 .1 0zM437.45 420.25a1.5 1.5 0 1 0 .1 0zM437.45 422.25a1.5 1.5 0 1 0 .1 0zM437.45 425.5a1.5 1.5 0 1 0 .1 0zM437.45 431a1.5 1.5 0 1 0 .1 0zM437.7 394a1.5 1.5 0 1 0 .1 0zM437.7 409.75a1.5 1.5 0 1 0 .1 0zM437.7 423.25a1.5 1.5 0 1 0 .1 0zM437.7 426a1.5 1.5 0 1 0 .1 0zM437.7 426.25a1.5 1.5 0 1 0 .1 0zM437.95 407.75a1.5 1.5 0 1 0 .1 0zM437.95 420.75a1.5 1.5 0 1 0 .1 0zM437.95 427.75a1.5 1.5 0 1 0 .1 0zM437.95 436a1.5 1.5 0 1 0 .1 0zM438.2 405a1.5 1.5 0 1 0 .1 0zM438.2 409.25a1.5 1.5 0 1 0 .1 0zM438.2 414a1.5 1.5 0 1 0 .1 0zM438.2 436a1.5 1.5 0 1 0 .1 0zM438.45 381.5a1.5 1.5 0 1 0 .1 0zM438.45 387.75a1.5 1.5 0 1 0 .1 0zM438.45 397a1.5 1.5 0 1 0 .1 0zM438.45 414.25a1.5 1.5 0 1 0 .1 0zM438.7 381a1.5 1.5 0 1 0 .1 0zM438.7 384.5a1.5 1.5 0 1 0 .1 0zM438.7 403.25a1.5 1.5 0 1 0 .1 0zM438.7 409a1.5 1.5 0 1 0 .1 0zM438.7 433.25a1.5 1.5 0 1 0 .1 0zM438.95 392.75a1.5 1.5 0 1 0 .1 0zM438.95 395a1.5 1.5 0 1 0 .1 0zM438.95 398.75a1.5 1.5 0 1 0 .1 0zM438.95 399.25a1.5 1.5 0 1 0 .1 0zM439.2 372.5a1.5 1.5 0 1 0 .1 0zM439.2 396.75a1.5 1.5 0 1 0 .1 0zM439.2 405a1.5 1.5 0 1 0 .1 0zM439.2 418.25a1.5 1.5 0 1 0 .1 0zM439.45 381.25a1.5 1.5 0 1 0 .1 0zM439.45 399a1.5 1.5 0 1 0 .1 0zM439.45 408.25a1.5 1.5 0 1 0 .1 0zM439.45 408.75a1.5 1.5 0 1 0 .1 0zM439.7 396.25a1.5 1.5 0 1 0 .1 0zM439.7 409.5a1.5 1.5 0 1 0 .1 0zM439.7 411.25a1.5 1.5 0 1 0 .1 0zM439.7 415.5a1.5 1.5 0 1 0 .1 0zM439.95 381.5a1.5 1.5 0 1 0 .1 0zM439.95 388.5a1.5 1.5 0 1 0 .1 0zM439.95 388.75a1.5 1.5 0 1 0 .1 0zM439.95 413.75a1.5 1.5 0 1 0 .1 0zM440.2 385.5a1.5 1.5 0 1 0 .1 0zM440.2 397.25a1.5 1.5 0 1 0 .1 0zM440.2 400.5a1.5 1.5 0 1 0 .1 0zM440.2 407.25a1.5 1.5 0 1 0 .1 0zM440.45 376.75a1.5 1.5 0 1 0 .1 0zM440.45 397.5a1.5 1.5 0 1 0 .1 0zM440.45 405.25a1.5 1.5 0 1 0 .1 0zM440.45 416.25a1.5 1.5 0 1 0 .1 0zM440.7 368.75a1.5 1.5 0 1 0 .1 0zM440.7 392.5a1.5 1.5 0 1 0 .1 0zM440.7 414.25a1.5 1.5 0 1 0 .1 0zM440.7 420.5a1.5 1.5 0 1 0 .1 0zM440.7 424.75a1.5 1.5 0 1 0 .1 0zM440.95 395.75a1.5 1.5 0 1 0 .1 0zM440.95 401.75a1.5 1.5 0 1 0 .1 0zM440.95 407.75a1.5 1.5 0 1 0 .1 0zM440.95 432.75a1.5 1.5 0 1 0 .1 0zM441.2 405.25a1.5 1.5 0 1 0 .1 0zM441.2 410a1.5 1.5 0 1 0 .1 0zM441.2 413.5a1.5 1.5 0 1 0 .1 0zM441.2 419.5a1.5 1.5 0 1 0 .1 0zM441.45 372.5a1.5 1.5 0 1 0 .1 0zM441.45 380.75a1.5 1.5 0 1 0 .1 0zM441.45 404a1.5 1.5 0 1 0 .1 0zM441.45 419.25a1.5 1.5 0 1 0 .1 0zM441.7 366a1.5 1.5 0 1 0 .1 0zM441.7 369.5a1.5 1.5 0 1 0 .1 0zM441.7 372.75a1.5 1.5 0 1 0 .1 0zM441.7 392a1.5 1.5 0 1 0 .1 0zM441.7 420a1.5 1.5 0 1 0 .1 0zM441.7 446.5a1.5 1.5 0 1 0 .1 0zM441.95 370.75a1.5 1.5 0 1 0 .1 0zM441.95 378.75a1.5 1.5 0 1 0 .1 0zM441.95 382a1.5 1.5 0 1 0 .1 0zM441.95 430.25a1.5 1.5 0 1 0 .1 0zM442.2 377.25a1.5 1.5 0 1 0 .1 0zM442.2 405a1.5 1.5 0 1 0 .1 0zM442.2 415.25a1.5 1.5 0 1 0 .1 0zM442.2 424.5a1.5 1.5 0 1 0 .1 0zM442.45 379.5a1.5 1.5 0 1 0 .1 0zM442.45 404.5a1.5 1.5 0 1 0 .1 0zM442.45 410.75a1.5 1.5 0 1 0 .1 0zM442.45 415a1.5 1.5 0 1 0 .1 0zM442.7 370a1.5 1.5 0 1 0 .1 0zM442.7 390.25a1.5 1.5 0 1 0 .1 0zM442.7 390.5a1.5 1.5 0 1 0 .1 0zM442.7 404.25a1.5 1.5 0 1 0 .1 0zM442.7 411a1.5 1.5 0 1 0 .1 0zM442.95 376.75a1.5 1.5 0 1 0 .1 0zM442.95 380.5a1.5 1.5 0 1 0 .1 0zM442.95 383.25a1.5 1.5 0 1 0 .1 0zM442.95 404.25a1.5 1.5 0 1 0 .1 0zM443.2 397a1.5 1.5 0 1 0 .1 0zM443.2 404.25a1.5 1.5 0 1 0 .1 0zM443.2 416a1.5 1.5 0 1 0 .1 0zM443.2 420.25a1.5 1.5 0 1 0 .1 0zM443.45 369.25a1.5 1.5 0 1 0 .1 0zM443.45 384.75a1.5 1.5 0 1 0 .1 0zM443.45 388.25a1.5 1.5 0 1 0 .1 0zM443.45 412.5a1.5 1.5 0 1 0 .1 0zM443.7 372.75a1.5 1.5 0 1 0 .1 0zM443.7 399.25a1.5 1.5 0 1 0 .1 0zM443.7 404.25a1.5 1.5 0 1 0 .1 0zM443.7 406.25a1.5 1.5 0 1 0 .1 0zM443.7 420.5a1.5 1.5 0 1 0 .1 0zM443.95 388.5a1.5 1.5 0 1 0 .1 0zM443.95 410.25a1.5 1.5 0 1 0 .1 0zM443.95 410.75a1.5 1.5 0 1 0 .1 0zM443.95 411.5a1.5 1.5 0 1 0 .1 0zM444.2 391.25a1.5 1.5 0 1 0 .1 0zM444.2 397.5a1.5 1.5 0 1 0 .1 0zM444.2 408.5a1.5 1.5 0 1 0 .1 0zM444.45 400.75a1.5 1.5 0 1 0 .1 0zM444.45 406.5a1.5 1.5 0 1 0 .1 0zM444.45 414.75a1.5 1.5 0 1 0 .1 0zM444.45 430a1.5 1.5 0 1 0 .1 0zM444.7 399.5a1.5 1.5 0 1 0 .1 0zM444.7 400.75a1.5 1.5 0 1 0 .1 0zM444.7 407.25a1.5 1.5 0 1 0 .1 0zM444.7 425.5a1.5 1.5 0 1 0 .1 0zM444.7 432.5a1.5 1.5 0 1 0 .1 0zM444.95 406a1.5 1.5 0 1 0 .1 0zM444.95 426.5a1.5 1.5 0 1 0 .1 0zM444.95 428.25a1.5 1.5 0 1 0 .1 0zM444.95 428.75a1.5 1.5 0 1 0 .1 0zM445.2 389a1.5 1.5 0 1 0 .1 0zM445.2 391a1.5 1.5 0 1 0 .1 0zM445.2 408a1.5 1.5 0 1 0 .1 0zM445.2 412.75a1.5 1.5 0 1 0 .1 0zM445.45 364.25a1.5 1.5 0 1 0 .1 0zM445.45 364.75a1.5 1.5 0 1 0 .1 0zM445.45 374a1.5 1.5 0 1 0 .1 0zM445.45 393.25a1.5 1.5 0 1 0 .1 0zM445.7 376.25a1.5 1.5 0 1 0 .1 0zM445.7 389a1.5 1.5 0 1 0 .1 0zM445.7 392.5a1.5 1.5 0 1 0 .1 0zM445.7 411a1.5 1.5 0 1 0 .1 0zM445.7 419a1.5 1.5 0 1 0 .1 0zM445.95 399a1.5 1.5 0 1 0 .1 0zM445.95 400a1.5 1.5 0 1 0 .1 0zM445.95 407.5a1.5 1.5 0 1 0 .1 0zM445.95 426.5a1.5 1.5 0 1 0 .1 0zM445.95 445.25a1.5 1.5 0 1 0 .1 0zM446.2 368.5a1.5 1.5 0 1 0 .1 0zM446.2 404.5a1.5 1.5 0 1 0 .1 0zM446.2 412.25a1.5 1.5 0 1 0 .1 0zM446.2 414.75a1.5 1.5 0 1 0 .1 0zM446.45 397.25a1.5 1.5 0 1 0 .1 0zM446.45 400.5a1.5 1.5 0 1 0 .1 0zM446.45 401a1.5 1.5 0 1 0 .1 0zM446.45 408.25a1.5 1.5 0 1 0 .1 0zM446.7 372a1.5 1.5 0 1 0 .1 0zM446.7 375.25a1.5 1.5 0 1 0 .1 0zM446.7 380.25a1.5 1.5 0 1 0 .1 0zM446.7 402.5a1.5 1.5 0 1 0 .1 0zM446.7 423.5a1.5 1.5 0 1 0 .1 0zM446.95 385.75a1.5 1.5 0 1 0 .1 0zM446.95 394.25a1.5 1.5 0 1 0 .1 0zM446.95 402.75a1.5 1.5 0 1 0 .1 0zM446.95 418.5a1.5 1.5 0 1 0 .1 0zM447.2 391.25a1.5 1.5 0 1 0 .1 0zM447.2 407.25a1.5 1.5 0 1 0 .1 0zM447.2 407.5a1.5 1.5 0 1 0 .1 0zM447.2 420.75a1.5 1.5 0 1 0 .1 0zM447.45 382a1.5 1.5 0 1 0 .1 0zM447.45 391a1.5 1.5 0 1 0 .1 0zM447.45 408.5a1.5 1.5 0 1 0 .1 0zM447.45 419.25a1.5 1.5 0 1 0 .1 0zM447.7 380.5a1.5 1.5 0 1 0 .1 0zM447.7 382a1.5 1.5 0 1 0 .1 0zM447.7 394a1.5 1.5 0 1 0 .1 0zM447.7 409.25a1.5 1.5 0 1 0 .1 0zM447.7 420.25a1.5 1.5 0 1 0 .1 0zM447.95 386.5a1.5 1.5 0 1 0 .1 0zM447.95 392.25a1.5 1.5 0 1 0 .1 0zM447.95 421.5a1.5 1.5 0 1 0 .1 0zM447.95 428.75a1.5 1.5 0 1 0 .1 0zM448.2 389.75a1.5 1.5 0 1 0 .1 0zM448.2 410.5a1.5 1.5 0 1 0 .1 0zM448.2 410.75a1.5 1.5 0 1 0 .1 0zM448.2 413a1.5 1.5 0 1 0 .1 0zM448.2 433.5a1.5 1.5 0 1 0 .1 0zM448.45 366.25a1.5 1.5 0 1 0 .1 0zM448.45 410a1.5 1.5 0 1 0 .1 0zM448.45 417.75a1.5 1.5 0 1 0 .1 0zM448.45 422a1.5 1.5 0 1 0 .1 0zM448.7 366.75a1.5 1.5 0 1 0 .1 0zM448.7 368.75a1.5 1.5 0 1 0 .1 0zM448.7 395.75a1.5 1.5 0 1 0 .1 0zM448.7 406.25a1.5 1.5 0 1 0 .1 0zM448.7 406.5a1.5 1.5 0 1 0 .1 0zM448.95 369.5a1.5 1.5 0 1 0 .1 0zM448.95 377a1.5 1.5 0 1 0 .1 0zM448.95 393a1.5 1.5 0 1 0 .1 0zM448.95 396a1.5 1.5 0 1 0 .1 0zM449.2 383.25a1.5 1.5 0 1 0 .1 0zM449.2 384.75a1.5 1.5 0 1 0 .1 0zM449.2 391a1.5 1.5 0 1 0 .1 0zM449.2 419a1.5 1.5 0 1 0 .1 0zM449.45 383.75a1.5 1.5 0 1 0 .1 0zM449.45 386.5a1.5 1.5 0 1 0 .1 0zM449.45 398.75a1.5 1.5 0 1 0 .1 0zM449.45 413.25a1.5 1.5 0 1 0 .1 0zM449.7 368.75a1.5 1.5 0 1 0 .1 0zM449.7 394.75a1.5 1.5 0 1 0 .1 0zM449.7 401.5a1.5 1.5 0 1 0 .1 0zM449.7 403.5a1.5 1.5 0 1 0 .1 0zM449.7 409.75a1.5 1.5 0 1 0 .1 0zM449.95 367a1.5 1.5 0 1 0 .1 0zM449.95 401.5a1.5 1.5 0 1 0 .1 0zM449.95 418a1.5 1.5 0 1 0 .1 0zM449.95 419.25a1.5 1.5 0 1 0 .1 0zM450.2 382.25a1.5 1.5 0 1 0 .1 0zM450.2 385.5a1.5 1.5 0 1 0 .1 0zM450.2 389.75a1.5 1.5 0 1 0 .1 0zM450.45 364.25a1.5 1.5 0 1 0 .1 0zM450.45 373.5a1.5 1.5 0 1 0 .1 0zM450.45 395a1.5 1.5 0 1 0 .1 0zM450.45 420.25a1.5 1.5 0 1 0 .1 0zM450.7 382.5a1.5 1.5 0 1 0 .1 0zM450.7 397.5a1.5 1.5 0 1 0 .1 0zM450.7 399.75a1.5 1.5 0 1 0 .1 0zM450.7 401.75a1.5 1.5 0 1 0 .1 0zM450.7 403.5a1.5 1.5 0 1 0 .1 0zM450.95 358.75a1.5 1.5 0 1 0 .1 0zM450.95 400.25a1.5 1.5 0 1 0 .1 0zM450.95 411a1.5 1.5 0 1 0 .1 0zM450.95 416.75a1.5 1.5 0 1 0 .1 0zM451.2 358.25a1.5 1.5 0 1 0 .1 0zM451.2 389.75a1.5 1.5 0 1 0 .1 0zM451.2 403.75a1.5 1.5 0 1 0 .1 0zM451.2 411.25a1.5 1.5 0 1 0 .1 0zM451.45 361.25a1.5 1.5 0 1 0 .1 0zM451.45 386.75a1.5 1.5 0 1 0 .1 0zM451.45 398.25a1.5 1.5 0 1 0 .1 0zM451.45 410.25a1.5 1.5 0 1 0 .1 0zM451.7 355.25a1.5 1.5 0 1 0 .1 0zM451.7 366.75a1.5 1.5 0 1 0 .1 0zM451.7 378.5a1.5 1.5 0 1 0 .1 0zM451.7 394a1.5 1.5 0 1 0 .1 0zM451.7 397a1.5 1.5 0 1 0 .1 0zM451.95 366.5a1.5 1.5 0 1 0 .1 0zM451.95 375.75a1.5 1.5 0 1 0 .1 0zM451.95 395.25a1.5 1.5 0 1 0 .1 0zM451.95 402.25a1.5 1.5 0 1 0 .1 0zM452.2 350.5a1.5 1.5 0 1 0 .1 0zM452.2 390.5a1.5 1.5 0 1 0 .1 0zM452.2 401.25a1.5 1.5 0 1 0 .1 0zM452.2 412a1.5 1.5 0 1 0 .1 0zM452.2 418.75a1.5 1.5 0 1 0 .1 0zM452.45 359.75a1.5 1.5 0 1 0 .1 0zM452.45 361a1.5 1.5 0 1 0 .1 0zM452.45 391a1.5 1.5 0 1 0 .1 0zM452.45 394.5a1.5 1.5 0 1 0 .1 0zM452.7 357a1.5 1.5 0 1 0 .1 0zM452.7 362.25a1.5 1.5 0 1 0 .1 0zM452.7 372.25a1.5 1.5 0 1 0 .1 0zM452.7 386.25a1.5 1.5 0 1 0 .1 0zM452.7 411a1.5 1.5 0 1 0 .1 0zM452.95 374.75a1.5 1.5 0 1 0 .1 0zM452.95 386.5a1.5 1.5 0 1 0 .1 0zM452.95 393.5a1.5 1.5 0 1 0 .1 0zM452.95 406.25a1.5 1.5 0 1 0 .1 0zM453.2 367.25a1.5 1.5 0 1 0 .1 0zM453.2 399a1.5 1.5 0 1 0 .1 0zM453.2 402.25a1.5 1.5 0 1 0 .1 0zM453.2 414.75a1.5 1.5 0 1 0 .1 0zM453.45 387.75a1.5 1.5 0 1 0 .1 0zM453.45 399.75a1.5 1.5 0 1 0 .1 0zM453.45 415.75a1.5 1.5 0 1 0 .1 0zM453.45 423.75a1.5 1.5 0 1 0 .1 0zM453.45 432.5a1.5 1.5 0 1 0 .1 0zM453.7 375.25a1.5 1.5 0 1 0 .1 0zM453.7 392.25a1.5 1.5 0 1 0 .1 0zM453.7 408.5a1.5 1.5 0 1 0 .1 0zM453.7 417.75a1.5 1.5 0 1 0 .1 0zM453.7 424.25a1.5 1.5 0 1 0 .1 0zM453.95 379.5a1.5 1.5 0 1 0 .1 0zM453.95 383.25a1.5 1.5 0 1 0 .1 0zM453.95 386.5a1.5 1.5 0 1 0 .1 0zM453.95 407.25a1.5 1.5 0 1 0 .1 0zM454.2 372.5a1.5 1.5 0 1 0 .1 0zM454.2 382.25a1.5 1.5 0 1 0 .1 0zM454.2 385a1.5 1.5 0 1 0 .1 0zM454.2 423.5a1.5 1.5 0 1 0 .1 0zM454.45 374.5a1.5 1.5 0 1 0 .1 0zM454.45 379a1.5 1.5 0 1 0 .1 0zM454.45 379.5a1.5 1.5 0 1 0 .1 0zM454.45 406a1.5 1.5 0 1 0 .1 0zM454.7 350.75a1.5 1.5 0 1 0 .1 0zM454.7 384.25a1.5 1.5 0 1 0 .1 0zM454.7 384.75a1.5 1.5 0 1 0 .1 0zM454.7 389.25a1.5 1.5 0 1 0 .1 0zM454.7 398.75a1.5 1.5 0 1 0 .1 0zM454.95 390.5a1.5 1.5 0 1 0 .1 0zM454.95 405.75a1.5 1.5 0 1 0 .1 0zM454.95 406.25a1.5 1.5 0 1 0 .1 0zM454.95 412.75a1.5 1.5 0 1 0 .1 0zM455.2 389a1.5 1.5 0 1 0 .1 0zM455.2 390a1.5 1.5 0 1 0 .1 0zM455.2 396.75a1.5 1.5 0 1 0 .1 0zM455.2 406.25a1.5 1.5 0 1 0 .1 0zM455.45 398.25a1.5 1.5 0 1 0 .1 0zM455.45 399.75a1.5 1.5 0 1 0 .1 0zM455.45 401a1.5 1.5 0 1 0 .1 0zM455.45 416.5a1.5 1.5 0 1 0 .1 0zM455.7 369a1.5 1.5 0 1 0 .1 0zM455.7 369.5a1.5 1.5 0 1 0 .1 0zM455.7 399.75a1.5 1.5 0 1 0 .1 0zM455.7 413.75a1.5 1.5 0 1 0 .1 0zM455.7 422.75a1.5 1.5 0 1 0 .1 0zM455.95 371.25a1.5 1.5 0 1 0 .1 0zM455.95 386.25a1.5 1.5 0 1 0 .1 0zM455.95 389.25a1.5 1.5 0 1 0 .1 0zM455.95 394a1.5 1.5 0 1 0 .1 0zM456.2 369.25a1.5 1.5 0 1 0 .1 0zM456.2 391a1.5 1.5 0 1 0 .1 0zM456.2 392.25a1.5 1.5 0 1 0 .1 0zM456.2 400.75a1.5 1.5 0 1 0 .1 0zM456.45 371.75a1.5 1.5 0 1 0 .1 0zM456.45 381.5a1.5 1.5 0 1 0 .1 0zM456.45 388.25a1.5 1.5 0 1 0 .1 0zM456.45 402.75a1.5 1.5 0 1 0 .1 0zM456.7 384.5a1.5 1.5 0 1 0 .1 0zM456.7 388.5a1.5 1.5 0 1 0 .1 0zM456.7 396.75a1.5 1.5 0 1 0 .1 0zM456.7 401a1.5 1.5 0 1 0 .1 0zM456.7 406.25a1.5 1.5 0 1 0 .1 0zM456.95 382.5a1.5 1.5 0 1 0 .1 0zM456.95 387.75a1.5 1.5 0 1 0 .1 0zM456.95 397.5a1.5 1.5 0 1 0 .1 0zM456.95 408.5a1.5 1.5 0 1 0 .1 0zM457.2 353.5a1.5 1.5 0 1 0 .1 0zM457.2 384.75a1.5 1.5 0 1 0 .1 0zM457.2 404a1.5 1.5 0 1 0 .1 0zM457.2 422.5a1.5 1.5 0 1 0 .1 0zM457.45 365a1.5 1.5 0 1 0 .1 0zM457.45 375.5a1.5 1.5 0 1 0 .1 0zM457.45 382.5a1.5 1.5 0 1 0 .1 0zM457.45 408.5a1.5 1.5 0 1 0 .1 0zM457.45 411a1.5 1.5 0 1 0 .1 0zM457.7 345.5a1.5 1.5 0 1 0 .1 0zM457.7 363.75a1.5 1.5 0 1 0 .1 0zM457.7 382.25a1.5 1.5 0 1 0 .1 0zM457.7 391.25a1.5 1.5 0 1 0 .1 0zM457.7 412a1.5 1.5 0 1 0 .1 0zM457.95 347a1.5 1.5 0 1 0 .1 0zM457.95 358.5a1.5 1.5 0 1 0 .1 0zM457.95 361.75a1.5 1.5 0 1 0 .1 0zM457.95 365.25a1.5 1.5 0 1 0 .1 0zM458.2 344.25a1.5 1.5 0 1 0 .1 0zM458.2 356a1.5 1.5 0 1 0 .1 0zM458.2 371.25a1.5 1.5 0 1 0 .1 0zM458.2 382.75a1.5 1.5 0 1 0 .1 0zM458.2 393a1.5 1.5 0 1 0 .1 0zM458.45 363a1.5 1.5 0 1 0 .1 0zM458.45 367a1.5 1.5 0 1 0 .1 0zM458.45 386.25a1.5 1.5 0 1 0 .1 0zM458.45 394.75a1.5 1.5 0 1 0 .1 0zM458.45 398.25a1.5 1.5 0 1 0 .1 0zM458.7 381.75a1.5 1.5 0 1 0 .1 0zM458.7 399.25a1.5 1.5 0 1 0 .1 0zM458.7 416.5a1.5 1.5 0 1 0 .1 0zM458.7 418a1.5 1.5 0 1 0 .1 0zM458.95 358a1.5 1.5 0 1 0 .1 0zM458.95 385.75a1.5 1.5 0 1 0 .1 0zM458.95 393.25a1.5 1.5 0 1 0 .1 0zM458.95 403.75a1.5 1.5 0 1 0 .1 0zM459.2 382.5a1.5 1.5 0 1 0 .1 0zM459.2 389.75a1.5 1.5 0 1 0 .1 0zM459.2 395.25a1.5 1.5 0 1 0 .1 0zM459.2 402.75a1.5 1.5 0 1 0 .1 0zM459.45 351.25a1.5 1.5 0 1 0 .1 0zM459.45 364.5a1.5 1.5 0 1 0 .1 0zM459.45 367.75a1.5 1.5 0 1 0 .1 0zM459.45 372.75a1.5 1.5 0 1 0 .1 0zM459.45 403.5a1.5 1.5 0 1 0 .1 0zM459.7 363a1.5 1.5 0 1 0 .1 0zM459.7 365.75a1.5 1.5 0 1 0 .1 0zM459.7 389.5a1.5 1.5 0 1 0 .1 0zM459.7 394.25a1.5 1.5 0 1 0 .1 0zM459.95 351a1.5 1.5 0 1 0 .1 0zM459.95 359a1.5 1.5 0 1 0 .1 0zM459.95 368a1.5 1.5 0 1 0 .1 0zM459.95 381.5a1.5 1.5 0 1 0 .1 0zM460.2 351.25a1.5 1.5 0 1 0 .1 0zM460.2 358.5a1.5 1.5 0 1 0 .1 0zM460.2 397.25a1.5 1.5 0 1 0 .1 0zM460.2 412.25a1.5 1.5 0 1 0 .1 0zM460.45 367.25a1.5 1.5 0 1 0 .1 0zM460.45 369.75a1.5 1.5 0 1 0 .1 0zM460.45 391a1.5 1.5 0 1 0 .1 0zM460.45 402.5a1.5 1.5 0 1 0 .1 0zM460.45 403.75a1.5 1.5 0 1 0 .1 0zM460.7 364.5a1.5 1.5 0 1 0 .1 0zM460.7 368.25a1.5 1.5 0 1 0 .1 0zM460.7 377.75a1.5 1.5 0 1 0 .1 0zM460.7 392.25a1.5 1.5 0 1 0 .1 0zM460.95 356.5a1.5 1.5 0 1 0 .1 0zM460.95 382a1.5 1.5 0 1 0 .1 0zM460.95 396.75a1.5 1.5 0 1 0 .1 0zM460.95 409a1.5 1.5 0 1 0 .1 0zM461.2 367a1.5 1.5 0 1 0 .1 0zM461.2 370.25a1.5 1.5 0 1 0 .1 0zM461.2 373.5a1.5 1.5 0 1 0 .1 0zM461.2 398a1.5 1.5 0 1 0 .1 0zM461.45 373.5a1.5 1.5 0 1 0 .1 0zM461.45 389.25a1.5 1.5 0 1 0 .1 0zM461.45 406.5a1.5 1.5 0 1 0 .1 0zM461.45 408.5a1.5 1.5 0 1 0 .1 0zM461.45 413.25a1.5 1.5 0 1 0 .1 0zM461.7 369.25a1.5 1.5 0 1 0 .1 0zM461.7 381.75a1.5 1.5 0 1 0 .1 0zM461.7 395.5a1.5 1.5 0 1 0 .1 0zM461.7 398.75a1.5 1.5 0 1 0 .1 0zM461.95 368.75a1.5 1.5 0 1 0 .1 0zM461.95 397.25a1.5 1.5 0 1 0 .1 0zM461.95 402.25a1.5 1.5 0 1 0 .1 0zM461.95 403.25a1.5 1.5 0 1 0 .1 0zM462.2 396a1.5 1.5 0 1 0 .1 0zM462.2 400.5a1.5 1.5 0 1 0 .1 0zM462.2 408a1.5 1.5 0 1 0 .1 0zM462.2 409a1.5 1.5 0 1 0 .1 0zM462.45 355a1.5 1.5 0 1 0 .1 0zM462.45 370.75a1.5 1.5 0 1 0 .1 0zM462.45 386.5a1.5 1.5 0 1 0 .1 0zM462.45 398.25a1.5 1.5 0 1 0 .1 0zM462.45 416.25a1.5 1.5 0 1 0 .1 0zM462.7 378.25a1.5 1.5 0 1 0 .1 0zM462.7 382a1.5 1.5 0 1 0 .1 0zM462.7 392.75a1.5 1.5 0 1 0 .1 0zM462.7 406.5a1.5 1.5 0 1 0 .1 0zM462.95 374.25a1.5 1.5 0 1 0 .1 0zM462.95 375.75a1.5 1.5 0 1 0 .1 0zM462.95 403.75a1.5 1.5 0 1 0 .1 0zM462.95 417.5a1.5 1.5 0 1 0 .1 0zM463.2 369a1.5 1.5 0 1 0 .1 0zM463.2 396.75a1.5 1.5 0 1 0 .1 0zM463.2 403.5a1.5 1.5 0 1 0 .1 0zM463.2 419.75a1.5 1.5 0 1 0 .1 0zM463.45 375.25a1.5 1.5 0 1 0 .1 0zM463.45 381a1.5 1.5 0 1 0 .1 0zM463.45 399.5a1.5 1.5 0 1 0 .1 0zM463.45 402.25a1.5 1.5 0 1 0 .1 0zM463.45 415.25a1.5 1.5 0 1 0 .1 0zM463.7 370.75a1.5 1.5 0 1 0 .1 0zM463.7 385.75a1.5 1.5 0 1 0 .1 0zM463.7 396a1.5 1.5 0 1 0 .1 0zM463.7 415.75a1.5 1.5 0 1 0 .1 0zM463.95 382.75a1.5 1.5 0 1 0 .1 0zM463.95 388.75a1.5 1.5 0 1 0 .1 0zM463.95 408.5a1.5 1.5 0 1 0 .1 0zM463.95 418.25a1.5 1.5 0 1 0 .1 0zM464.2 361.75a1.5 1.5 0 1 0 .1 0zM464.2 367.75a1.5 1.5 0 1 0 .1 0zM464.2 389.25a1.5 1.5 0 1 0 .1 0zM464.2 397a1.5 1.5 0 1 0 .1 0zM464.45 361.5a1.5 1.5 0 1 0 .1 0zM464.45 374.25a1.5 1.5 0 1 0 .1 0zM464.45 380.5a1.5 1.5 0 1 0 .1 0zM464.45 382.75a1.5 1.5 0 1 0 .1 0zM464.45 394.5a1.5 1.5 0 1 0 .1 0zM464.7 368.25a1.5 1.5 0 1 0 .1 0zM464.7 375.5a1.5 1.5 0 1 0 .1 0zM464.7 388.5a1.5 1.5 0 1 0 .1 0zM464.7 404.25a1.5 1.5 0 1 0 .1 0zM464.95 399a1.5 1.5 0 1 0 .1 0zM464.95 401.75a1.5 1.5 0 1 0 .1 0zM464.95 412a1.5 1.5 0 1 0 .1 0zM464.95 412.25a1.5 1.5 0 1 0 .1 0zM465.2 359a1.5 1.5 0 1 0 .1 0zM465.2 370.75a1.5 1.5 0 1 0 .1 0zM465.2 397a1.5 1.5 0 1 0 .1 0zM465.2 419.25a1.5 1.5 0 1 0 .1 0zM465.45 378.25a1.5 1.5 0 1 0 .1 0zM465.45 380.5a1.5 1.5 0 1 0 .1 0zM465.45 396.5a1.5 1.5 0 1 0 .1 0zM465.45 403a1.5 1.5 0 1 0 .1 0zM465.45 404a1.5 1.5 0 1 0 .1 0zM465.7 376.75a1.5 1.5 0 1 0 .1 0zM465.7 381a1.5 1.5 0 1 0 .1 0zM465.7 385.75a1.5 1.5 0 1 0 .1 0zM465.7 390a1.5 1.5 0 1 0 .1 0zM465.95 375.75a1.5 1.5 0 1 0 .1 0zM465.95 384a1.5 1.5 0 1 0 .1 0zM465.95 402.25a1.5 1.5 0 1 0 .1 0zM465.95 418.25a1.5 1.5 0 1 0 .1 0zM466.2 378.5a1.5 1.5 0 1 0 .1 0zM466.2 410.25a1.5 1.5 0 1 0 .1 0zM466.2 417.75a1.5 1.5 0 1 0 .1 0zM466.2 419.75a1.5 1.5 0 1 0 .1 0zM466.45 390.75a1.5 1.5 0 1 0 .1 0zM466.45 399.5a1.5 1.5 0 1 0 .1 0zM466.45 400.75a1.5 1.5 0 1 0 .1 0zM466.45 402a1.5 1.5 0 1 0 .1 0zM466.45 410a1.5 1.5 0 1 0 .1 0zM466.7 383.25a1.5 1.5 0 1 0 .1 0zM466.7 409a1.5 1.5 0 1 0 .1 0zM466.7 409.25a1.5 1.5 0 1 0 .1 0zM466.7 412.75a1.5 1.5 0 1 0 .1 0zM466.95 387.5a1.5 1.5 0 1 0 .1 0zM466.95 390.25a1.5 1.5 0 1 0 .1 0zM466.95 418.5a1.5 1.5 0 1 0 .1 0zM466.95 420.75a1.5 1.5 0 1 0 .1 0zM467.2 365.75a1.5 1.5 0 1 0 .1 0zM467.2 403a1.5 1.5 0 1 0 .1 0zM467.2 411.5a1.5 1.5 0 1 0 .1 0zM467.45 387.75a1.5 1.5 0 1 0 .1 0zM467.45 392.5a1.5 1.5 0 1 0 .1 0zM467.45 407.5a1.5 1.5 0 1 0 .1 0zM467.45 408.25a1.5 1.5 0 1 0 .1 0zM467.45 411.5a1.5 1.5 0 1 0 .1 0zM467.7 371.75a1.5 1.5 0 1 0 .1 0zM467.7 382.5a1.5 1.5 0 1 0 .1 0zM467.7 385a1.5 1.5 0 1 0 .1 0zM467.7 389.25a1.5 1.5 0 1 0 .1 0zM467.95 383.75a1.5 1.5 0 1 0 .1 0zM467.95 395.25a1.5 1.5 0 1 0 .1 0zM467.95 403.5a1.5 1.5 0 1 0 .1 0zM467.95 411.75a1.5 1.5 0 1 0 .1 0zM468.2 369a1.5 1.5 0 1 0 .1 0zM468.2 387a1.5 1.5 0 1 0 .1 0zM468.2 398.5a1.5 1.5 0 1 0 .1 0zM468.2 421.25a1.5 1.5 0 1 0 .1 0zM468.45 363.75a1.5 1.5 0 1 0 .1 0zM468.45 375.25a1.5 1.5 0 1 0 .1 0zM468.45 386.75a1.5 1.5 0 1 0 .1 0zM468.45 399.25a1.5 1.5 0 1 0 .1 0zM468.45 402a1.5 1.5 0 1 0 .1 0zM468.7 370.25a1.5 1.5 0 1 0 .1 0zM468.7 390a1.5 1.5 0 1 0 .1 0zM468.7 398.25a1.5 1.5 0 1 0 .1 0zM468.7 414.25a1.5 1.5 0 1 0 .1 0zM468.95 379.75a1.5 1.5 0 1 0 .1 0zM468.95 399.5a1.5 1.5 0 1 0 .1 0zM468.95 405a1.5 1.5 0 1 0 .1 0zM468.95 409a1.5 1.5 0 1 0 .1 0zM469.2 380.75a1.5 1.5 0 1 0 .1 0zM469.2 401.75a1.5 1.5 0 1 0 .1 0zM469.2 403.25a1.5 1.5 0 1 0 .1 0zM469.2 417.5a1.5 1.5 0 1 0 .1 0zM469.45 377.5a1.5 1.5 0 1 0 .1 0zM469.45 384.5a1.5 1.5 0 1 0 .1 0zM469.45 394.75a1.5 1.5 0 1 0 .1 0zM469.45 407a1.5 1.5 0 1 0 .1 0zM469.45 412a1.5 1.5 0 1 0 .1 0zM469.7 360.75a1.5 1.5 0 1 0 .1 0zM469.7 373.5a1.5 1.5 0 1 0 .1 0zM469.7 394.5a1.5 1.5 0 1 0 .1 0zM469.7 412.5a1.5 1.5 0 1 0 .1 0zM469.95 362.75a1.5 1.5 0 1 0 .1 0zM469.95 373.75a1.5 1.5 0 1 0 .1 0zM469.95 394.5a1.5 1.5 0 1 0 .1 0zM469.95 397.75a1.5 1.5 0 1 0 .1 0zM470.2 385.5a1.5 1.5 0 1 0 .1 0zM470.2 387.5a1.5 1.5 0 1 0 .1 0zM470.2 407a1.5 1.5 0 1 0 .1 0zM470.2 420.25a1.5 1.5 0 1 0 .1 0zM470.45 388.75a1.5 1.5 0 1 0 .1 0zM470.45 395a1.5 1.5 0 1 0 .1 0zM470.45 401.75a1.5 1.5 0 1 0 .1 0zM470.45 403.25a1.5 1.5 0 1 0 .1 0zM470.45 415.25a1.5 1.5 0 1 0 .1 0zM470.7 359.5a1.5 1.5 0 1 0 .1 0zM470.7 365a1.5 1.5 0 1 0 .1 0zM470.7 378.25a1.5 1.5 0 1 0 .1 0zM470.7 422.5a1.5 1.5 0 1 0 .1 0zM470.95 375a1.5 1.5 0 1 0 .1 0zM470.95 380.25a1.5 1.5 0 1 0 .1 0zM470.95 383.75a1.5 1.5 0 1 0 .1 0zM470.95 399a1.5 1.5 0 1 0 .1 0zM471.2 369.25a1.5 1.5 0 1 0 .1 0zM471.2 370.5a1.5 1.5 0 1 0 .1 0zM471.2 385.75a1.5 1.5 0 1 0 .1 0zM471.2 420a1.5 1.5 0 1 0 .1 0zM471.45 362.5a1.5 1.5 0 1 0 .1 0zM471.45 374a1.5 1.5 0 1 0 .1 0zM471.45 391a1.5 1.5 0 1 0 .1 0zM471.45 394.25a1.5 1.5 0 1 0 .1 0zM471.45 417.75a1.5 1.5 0 1 0 .1 0zM471.7 365.5a1.5 1.5 0 1 0 .1 0zM471.7 391a1.5 1.5 0 1 0 .1 0zM471.7 405.5a1.5 1.5 0 1 0 .1 0zM471.7 408.25a1.5 1.5 0 1 0 .1 0zM471.95 341.5a1.5 1.5 0 1 0 .1 0zM471.95 355.75a1.5 1.5 0 1 0 .1 0zM471.95 360a1.5 1.5 0 1 0 .1 0zM471.95 399.5a1.5 1.5 0 1 0 .1 0zM471.95 416.75a1.5 1.5 0 1 0 .1 0zM472.2 361a1.5 1.5 0 1 0 .1 0zM472.2 375.75a1.5 1.5 0 1 0 .1 0zM472.2 395.75a1.5 1.5 0 1 0 .1 0zM472.2 408.5a1.5 1.5 0 1 0 .1 0zM472.45 357a1.5 1.5 0 1 0 .1 0zM472.45 376.75a1.5 1.5 0 1 0 .1 0zM472.45 378.5a1.5 1.5 0 1 0 .1 0zM472.45 388.25a1.5 1.5 0 1 0 .1 0zM472.45 407.25a1.5 1.5 0 1 0 .1 0zM472.7 358.75a1.5 1.5 0 1 0 .1 0zM472.7 386.5a1.5 1.5 0 1 0 .1 0zM472.7 397.75a1.5 1.5 0 1 0 .1 0zM472.7 400a1.5 1.5 0 1 0 .1 0zM472.95 373.75a1.5 1.5 0 1 0 .1 0zM472.95 380.5a1.5 1.5 0 1 0 .1 0zM472.95 398.25a1.5 1.5 0 1 0 .1 0zM472.95 406.5a1.5 1.5 0 1 0 .1 0zM473.2 368a1.5 1.5 0 1 0 .1 0zM473.2 389.25a1.5 1.5 0 1 0 .1 0zM473.2 404.5a1.5 1.5 0 1 0 .1 0zM473.2 411.5a1.5 1.5 0 1 0 .1 0zM473.45 374.5a1.5 1.5 0 1 0 .1 0zM473.45 383a1.5 1.5 0 1 0 .1 0zM473.45 385a1.5 1.5 0 1 0 .1 0zM473.45 401a1.5 1.5 0 1 0 .1 0zM473.45 413.25a1.5 1.5 0 1 0 .1 0zM473.7 376.75a1.5 1.5 0 1 0 .1 0zM473.7 383.75a1.5 1.5 0 1 0 .1 0zM473.7 396.25a1.5 1.5 0 1 0 .1 0zM473.7 415.5a1.5 1.5 0 1 0 .1 0zM473.95 376.75a1.5 1.5 0 1 0 .1 0zM473.95 392.25a1.5 1.5 0 1 0 .1 0zM473.95 396.75a1.5 1.5 0 1 0 .1 0zM473.95 406.5a1.5 1.5 0 1 0 .1 0zM474.2 367a1.5 1.5 0 1 0 .1 0zM474.2 372a1.5 1.5 0 1 0 .1 0zM474.2 403.5a1.5 1.5 0 1 0 .1 0zM474.2 407.75a1.5 1.5 0 1 0 .1 0zM474.45 360.5a1.5 1.5 0 1 0 .1 0zM474.45 393a1.5 1.5 0 1 0 .1 0zM474.45 395a1.5 1.5 0 1 0 .1 0zM474.45 397.75a1.5 1.5 0 1 0 .1 0zM474.45 407.75a1.5 1.5 0 1 0 .1 0zM474.7 372.5a1.5 1.5 0 1 0 .1 0zM474.7 391a1.5 1.5 0 1 0 .1 0zM474.7 412a1.5 1.5 0 1 0 .1 0zM474.7 417.75a1.5 1.5 0 1 0 .1 0zM474.95 363.75a1.5 1.5 0 1 0 .1 0zM474.95 384.5a1.5 1.5 0 1 0 .1 0zM474.95 399.25a1.5 1.5 0 1 0 .1 0zM474.95 414.75a1.5 1.5 0 1 0 .1 0zM475.2 353.25a1.5 1.5 0 1 0 .1 0zM475.2 362.25a1.5 1.5 0 1 0 .1 0zM475.2 375.5a1.5 1.5 0 1 0 .1 0zM475.2 399a1.5 1.5 0 1 0 .1 0zM475.45 363a1.5 1.5 0 1 0 .1 0zM475.45 398.5a1.5 1.5 0 1 0 .1 0zM475.45 402.25a1.5 1.5 0 1 0 .1 0zM475.45 407.5a1.5 1.5 0 1 0 .1 0zM475.45 412.5a1.5 1.5 0 1 0 .1 0zM475.7 357.25a1.5 1.5 0 1 0 .1 0zM475.7 361.5a1.5 1.5 0 1 0 .1 0zM475.7 395.75a1.5 1.5 0 1 0 .1 0zM475.7 405.75a1.5 1.5 0 1 0 .1 0zM475.95 375.75a1.5 1.5 0 1 0 .1 0zM475.95 379.5a1.5 1.5 0 1 0 .1 0zM475.95 399a1.5 1.5 0 1 0 .1 0zM475.95 410.5a1.5 1.5 0 1 0 .1 0zM476.2 357.25a1.5 1.5 0 1 0 .1 0zM476.2 358.25a1.5 1.5 0 1 0 .1 0zM476.2 374.5a1.5 1.5 0 1 0 .1 0zM476.45 355a1.5 1.5 0 1 0 .1 0zM476.45 359.75a1.5 1.5 0 1 0 .1 0zM476.45 390.75a1.5 1.5 0 1 0 .1 0zM476.45 392.75a1.5 1.5 0 1 0 .1 0zM476.45 407a1.5 1.5 0 1 0 .1 0zM476.7 353.75a1.5 1.5 0 1 0 .1 0zM476.7 381.75a1.5 1.5 0 1 0 .1 0zM476.7 383a1.5 1.5 0 1 0 .1 0zM476.7 398a1.5 1.5 0 1 0 .1 0zM476.95 380.5a1.5 1.5 0 1 0 .1 0zM476.95 388.75a1.5 1.5 0 1 0 .1 0zM476.95 405.25a1.5 1.5 0 1 0 .1 0zM476.95 409.25a1.5 1.5 0 1 0 .1 0zM477.2 380a1.5 1.5 0 1 0 .1 0zM477.2 388.25a1.5 1.5 0 1 0 .1 0zM477.2 391.5a1.5 1.5 0 1 0 .1 0zM477.2 395.75a1.5 1.5 0 1 0 .1 0zM477.45 346.25a1.5 1.5 0 1 0 .1 0zM477.45 360.25a1.5 1.5 0 1 0 .1 0zM477.45 360.75a1.5 1.5 0 1 0 .1 0zM477.45 385a1.5 1.5 0 1 0 .1 0zM477.45 395.75a1.5 1.5 0 1 0 .1 0zM477.45 399a1.5 1.5 0 1 0 .1 0zM477.7 381.25a1.5 1.5 0 1 0 .1 0zM477.7 381.5a1.5 1.5 0 1 0 .1 0zM477.7 385.75a1.5 1.5 0 1 0 .1 0zM477.7 390.25a1.5 1.5 0 1 0 .1 0zM477.95 366a1.5 1.5 0 1 0 .1 0zM477.95 373a1.5 1.5 0 1 0 .1 0zM477.95 385.75a1.5 1.5 0 1 0 .1 0zM477.95 387.75a1.5 1.5 0 1 0 .1 0zM478.2 360.75a1.5 1.5 0 1 0 .1 0zM478.2 370a1.5 1.5 0 1 0 .1 0zM478.2 372.25a1.5 1.5 0 1 0 .1 0zM478.2 391.25a1.5 1.5 0 1 0 .1 0zM478.45 357.75a1.5 1.5 0 1 0 .1 0zM478.45 368.5a1.5 1.5 0 1 0 .1 0zM478.45 385.5a1.5 1.5 0 1 0 .1 0zM478.45 395.5a1.5 1.5 0 1 0 .1 0zM478.45 403.25a1.5 1.5 0 1 0 .1 0zM478.7 385.75a1.5 1.5 0 1 0 .1 0zM478.7 386.75a1.5 1.5 0 1 0 .1 0zM478.7 399.25a1.5 1.5 0 1 0 .1 0zM478.7 408a1.5 1.5 0 1 0 .1 0zM478.95 355.5a1.5 1.5 0 1 0 .1 0zM478.95 405a1.5 1.5 0 1 0 .1 0zM478.95 408.75a1.5 1.5 0 1 0 .1 0zM478.95 411.5a1.5 1.5 0 1 0 .1 0zM479.2 351.75a1.5 1.5 0 1 0 .1 0zM479.2 359a1.5 1.5 0 1 0 .1 0zM479.2 375a1.5 1.5 0 1 0 .1 0zM479.2 380.25a1.5 1.5 0 1 0 .1 0zM479.45 380.25a1.5 1.5 0 1 0 .1 0zM479.45 381.25a1.5 1.5 0 1 0 .1 0zM479.45 396.25a1.5 1.5 0 1 0 .1 0zM479.45 409.25a1.5 1.5 0 1 0 .1 0zM479.45 410.5a1.5 1.5 0 1 0 .1 0zM479.7 394.75a1.5 1.5 0 1 0 .1 0zM479.7 395.75a1.5 1.5 0 1 0 .1 0zM479.7 398a1.5 1.5 0 1 0 .1 0zM479.7 414a1.5 1.5 0 1 0 .1 0zM479.95 382.5a1.5 1.5 0 1 0 .1 0zM479.95 386.75a1.5 1.5 0 1 0 .1 0zM479.95 388.25a1.5 1.5 0 1 0 .1 0zM479.95 396.25a1.5 1.5 0 1 0 .1 0zM480.2 386a1.5 1.5 0 1 0 .1 0zM480.2 388a1.5 1.5 0 1 0 .1 0zM480.2 396.5a1.5 1.5 0 1 0 .1 0zM480.45 375.25a1.5 1.5 0 1 0 .1 0zM480.45 384.75a1.5 1.5 0 1 0 .1 0zM480.45 386.5a1.5 1.5 0 1 0 .1 0zM480.45 399.75a1.5 1.5 0 1 0 .1 0zM480.45 402a1.5 1.5 0 1 0 .1 0zM480.7 393.75a1.5 1.5 0 1 0 .1 0zM480.7 395.5a1.5 1.5 0 1 0 .1 0zM480.7 399.5a1.5 1.5 0 1 0 .1 0zM480.95 354.25a1.5 1.5 0 1 0 .1 0zM480.95 367.5a1.5 1.5 0 1 0 .1 0zM480.95 372.5a1.5 1.5 0 1 0 .1 0zM480.95 387a1.5 1.5 0 1 0 .1 0zM481.2 368.25a1.5 1.5 0 1 0 .1 0zM481.2 388.25a1.5 1.5 0 1 0 .1 0zM481.2 394a1.5 1.5 0 1 0 .1 0zM481.2 411a1.5 1.5 0 1 0 .1 0zM481.45 361.25a1.5 1.5 0 1 0 .1 0zM481.45 362.25a1.5 1.5 0 1 0 .1 0zM481.45 367.25a1.5 1.5 0 1 0 .1 0zM481.45 373a1.5 1.5 0 1 0 .1 0zM481.45 407.25a1.5 1.5 0 1 0 .1 0zM481.7 371.75a1.5 1.5 0 1 0 .1 0zM481.7 401.5a1.5 1.5 0 1 0 .1 0zM481.7 402a1.5 1.5 0 1 0 .1 0zM481.7 413.75a1.5 1.5 0 1 0 .1 0zM481.95 368a1.5 1.5 0 1 0 .1 0zM481.95 380.25a1.5 1.5 0 1 0 .1 0zM481.95 388.25a1.5 1.5 0 1 0 .1 0zM481.95 413.75a1.5 1.5 0 1 0 .1 0zM482.2 385a1.5 1.5 0 1 0 .1 0zM482.2 387.75a1.5 1.5 0 1 0 .1 0zM482.2 388.75a1.5 1.5 0 1 0 .1 0zM482.2 394.25a1.5 1.5 0 1 0 .1 0zM482.45 350.75a1.5 1.5 0 1 0 .1 0zM482.45 364.5a1.5 1.5 0 1 0 .1 0zM482.45 384.75a1.5 1.5 0 1 0 .1 0zM482.45 389.75a1.5 1.5 0 1 0 .1 0zM482.45 404.5a1.5 1.5 0 1 0 .1 0zM482.7 378.5a1.5 1.5 0 1 0 .1 0zM482.7 381a1.5 1.5 0 1 0 .1 0zM482.7 409.5a1.5 1.5 0 1 0 .1 0zM482.7 412.75a1.5 1.5 0 1 0 .1 0zM482.95 384.75a1.5 1.5 0 1 0 .1 0zM482.95 391a1.5 1.5 0 1 0 .1 0zM482.95 397a1.5 1.5 0 1 0 .1 0zM482.95 417.5a1.5 1.5 0 1 0 .1 0zM483.2 370a1.5 1.5 0 1 0 .1 0zM483.2 376a1.5 1.5 0 1 0 .1 0zM483.2 386.5a1.5 1.5 0 1 0 .1 0zM483.2 409a1.5 1.5 0 1 0 .1 0zM483.45 350.5a1.5 1.5 0 1 0 .1 0zM483.45 374.5a1.5 1.5 0 1 0 .1 0zM483.45 375a1.5 1.5 0 1 0 .1 0zM483.45 378.5a1.5 1.5 0 1 0 .1 0zM483.45 386a1.5 1.5 0 1 0 .1 0zM483.45 412.25a1.5 1.5 0 1 0 .1 0zM483.7 367a1.5 1.5 0 1 0 .1 0zM483.7 405.25a1.5 1.5 0 1 0 .1 0zM483.7 409.25a1.5 1.5 0 1 0 .1 0zM483.7 413.25a1.5 1.5 0 1 0 .1 0zM483.95 369a1.5 1.5 0 1 0 .1 0zM483.95 377.25a1.5 1.5 0 1 0 .1 0zM483.95 391.5a1.5 1.5 0 1 0 .1 0zM483.95 397.75a1.5 1.5 0 1 0 .1 0zM483.95 434.75a1.5 1.5 0 1 0 .1 0zM484.2 358.5a1.5 1.5 0 1 0 .1 0zM484.2 374.25a1.5 1.5 0 1 0 .1 0zM484.2 379.75a1.5 1.5 0 1 0 .1 0zM484.2 391.25a1.5 1.5 0 1 0 .1 0zM484.45 365.25a1.5 1.5 0 1 0 .1 0zM484.45 388.5a1.5 1.5 0 1 0 .1 0zM484.45 391.25a1.5 1.5 0 1 0 .1 0zM484.45 412a1.5 1.5 0 1 0 .1 0zM484.45 413.5a1.5 1.5 0 1 0 .1 0zM484.7 364a1.5 1.5 0 1 0 .1 0zM484.7 382.25a1.5 1.5 0 1 0 .1 0zM484.7 384.25a1.5 1.5 0 1 0 .1 0zM484.7 393.75a1.5 1.5 0 1 0 .1 0zM484.95 347.5a1.5 1.5 0 1 0 .1 0zM484.95 378.25a1.5 1.5 0 1 0 .1 0zM484.95 419a1.5 1.5 0 1 0 .1 0zM484.95 421a1.5 1.5 0 1 0 .1 0zM485.2 381.5a1.5 1.5 0 1 0 .1 0zM485.2 389a1.5 1.5 0 1 0 .1 0zM485.2 391a1.5 1.5 0 1 0 .1 0zM485.2 399.5a1.5 1.5 0 1 0 .1 0zM485.2 401.75a1.5 1.5 0 1 0 .1 0zM485.45 363.25a1.5 1.5 0 1 0 .1 0zM485.45 387.5a1.5 1.5 0 1 0 .1 0zM485.45 396a1.5 1.5 0 1 0 .1 0zM485.45 409.25a1.5 1.5 0 1 0 .1 0zM485.7 370.75a1.5 1.5 0 1 0 .1 0zM485.7 379.75a1.5 1.5 0 1 0 .1 0zM485.7 382.25a1.5 1.5 0 1 0 .1 0zM485.7 399a1.5 1.5 0 1 0 .1 0zM485.95 373.75a1.5 1.5 0 1 0 .1 0zM485.95 395.75a1.5 1.5 0 1 0 .1 0zM485.95 397.25a1.5 1.5 0 1 0 .1 0zM486.2 381.5a1.5 1.5 0 1 0 .1 0zM486.2 397a1.5 1.5 0 1 0 .1 0zM486.2 399.75a1.5 1.5 0 1 0 .1 0zM486.2 419.25a1.5 1.5 0 1 0 .1 0zM486.2 423a1.5 1.5 0 1 0 .1 0zM486.45 383a1.5 1.5 0 1 0 .1 0zM486.45 394a1.5 1.5 0 1 0 .1 0zM486.45 395.5a1.5 1.5 0 1 0 .1 0zM486.45 398.25a1.5 1.5 0 1 0 .1 0zM486.7 361.75a1.5 1.5 0 1 0 .1 0zM486.7 369a1.5 1.5 0 1 0 .1 0zM486.7 399.75a1.5 1.5 0 1 0 .1 0zM486.7 411a1.5 1.5 0 1 0 .1 0zM486.95 368.25a1.5 1.5 0 1 0 .1 0zM486.95 380.25a1.5 1.5 0 1 0 .1 0zM486.95 382.25a1.5 1.5 0 1 0 .1 0zM486.95 383.25a1.5 1.5 0 1 0 .1 0zM487.2 374.25a1.5 1.5 0 1 0 .1 0zM487.2 375.5a1.5 1.5 0 1 0 .1 0zM487.2 383.75a1.5 1.5 0 1 0 .1 0zM487.2 397a1.5 1.5 0 1 0 .1 0zM487.2 398.25a1.5 1.5 0 1 0 .1 0zM487.45 383.25a1.5 1.5 0 1 0 .1 0zM487.45 386a1.5 1.5 0 1 0 .1 0zM487.45 395a1.5 1.5 0 1 0 .1 0zM487.45 405.75a1.5 1.5 0 1 0 .1 0zM487.7 378a1.5 1.5 0 1 0 .1 0zM487.7 402a1.5 1.5 0 1 0 .1 0zM487.7 410.75a1.5 1.5 0 1 0 .1 0zM487.7 415.5a1.5 1.5 0 1 0 .1 0zM487.95 389.5a1.5 1.5 0 1 0 .1 0zM487.95 397.25a1.5 1.5 0 1 0 .1 0zM487.95 400.5a1.5 1.5 0 1 0 .1 0zM487.95 402.25a1.5 1.5 0 1 0 .1 0zM488.2 378.5a1.5 1.5 0 1 0 .1 0zM488.2 392.75a1.5 1.5 0 1 0 .1 0zM488.2 402.5a1.5 1.5 0 1 0 .1 0zM488.2 410.5a1.5 1.5 0 1 0 .1 0zM488.2 431a1.5 1.5 0 1 0 .1 0zM488.45 373a1.5 1.5 0 1 0 .1 0zM488.45 381a1.5 1.5 0 1 0 .1 0zM488.45 390.75a1.5 1.5 0 1 0 .1 0zM488.45 401.5a1.5 1.5 0 1 0 .1 0zM488.7 382.75a1.5 1.5 0 1 0 .1 0zM488.7 387.75a1.5 1.5 0 1 0 .1 0zM488.7 405.25a1.5 1.5 0 1 0 .1 0zM488.95 378.5a1.5 1.5 0 1 0 .1 0zM488.95 387.5a1.5 1.5 0 1 0 .1 0zM488.95 394.5a1.5 1.5 0 1 0 .1 0zM488.95 399.5a1.5 1.5 0 1 0 .1 0zM489.2 387a1.5 1.5 0 1 0 .1 0zM489.2 388a1.5 1.5 0 1 0 .1 0zM489.2 420.25a1.5 1.5 0 1 0 .1 0zM489.2 422.5a1.5 1.5 0 1 0 .1 0zM489.2 427.25a1.5 1.5 0 1 0 .1 0zM489.45 377.75a1.5 1.5 0 1 0 .1 0zM489.45 396.5a1.5 1.5 0 1 0 .1 0zM489.45 399.25a1.5 1.5 0 1 0 .1 0zM489.45 416a1.5 1.5 0 1 0 .1 0zM489.7 373.75a1.5 1.5 0 1 0 .1 0zM489.7 385.25a1.5 1.5 0 1 0 .1 0zM489.7 422a1.5 1.5 0 1 0 .1 0zM489.7 423a1.5 1.5 0 1 0 .1 0zM489.95 365a1.5 1.5 0 1 0 .1 0zM489.95 383a1.5 1.5 0 1 0 .1 0zM489.95 387.25a1.5 1.5 0 1 0 .1 0zM489.95 391.25a1.5 1.5 0 1 0 .1 0zM490.2 360.75a1.5 1.5 0 1 0 .1 0zM490.2 399.5a1.5 1.5 0 1 0 .1 0zM490.2 406.25a1.5 1.5 0 1 0 .1 0zM490.2 414.75a1.5 1.5 0 1 0 .1 0zM490.2 418.25a1.5 1.5 0 1 0 .1 0zM490.45 379.5a1.5 1.5 0 1 0 .1 0zM490.45 381.5a1.5 1.5 0 1 0 .1 0zM490.45 394a1.5 1.5 0 1 0 .1 0zM490.45 397.75a1.5 1.5 0 1 0 .1 0zM490.7 375.5a1.5 1.5 0 1 0 .1 0zM490.7 392.75a1.5 1.5 0 1 0 .1 0zM490.7 400.75a1.5 1.5 0 1 0 .1 0zM490.7 408.75a1.5 1.5 0 1 0 .1 0zM490.95 391.75a1.5 1.5 0 1 0 .1 0zM490.95 404.25a1.5 1.5 0 1 0 .1 0zM490.95 405.5a1.5 1.5 0 1 0 .1 0zM490.95 408.25a1.5 1.5 0 1 0 .1 0zM491.2 366.25a1.5 1.5 0 1 0 .1 0zM491.2 369.5a1.5 1.5 0 1 0 .1 0zM491.2 393a1.5 1.5 0 1 0 .1 0zM491.2 411.75a1.5 1.5 0 1 0 .1 0zM491.2 420.75a1.5 1.5 0 1 0 .1 0zM491.45 367.75a1.5 1.5 0 1 0 .1 0zM491.45 383.75a1.5 1.5 0 1 0 .1 0zM491.45 387a1.5 1.5 0 1 0 .1 0zM491.45 392.5a1.5 1.5 0 1 0 .1 0zM491.7 372a1.5 1.5 0 1 0 .1 0zM491.7 379.75a1.5 1.5 0 1 0 .1 0zM491.7 405.25a1.5 1.5 0 1 0 .1 0zM491.7 408.75a1.5 1.5 0 1 0 .1 0zM491.95 391.25a1.5 1.5 0 1 0 .1 0zM491.95 402a1.5 1.5 0 1 0 .1 0zM491.95 403.5a1.5 1.5 0 1 0 .1 0zM491.95 404.75a1.5 1.5 0 1 0 .1 0zM492.2 381.75a1.5 1.5 0 1 0 .1 0zM492.2 388.75a1.5 1.5 0 1 0 .1 0zM492.2 399.75a1.5 1.5 0 1 0 .1 0zM492.2 400.25a1.5 1.5 0 1 0 .1 0zM492.2 402a1.5 1.5 0 1 0 .1 0zM492.45 366.25a1.5 1.5 0 1 0 .1 0zM492.45 368.5a1.5 1.5 0 1 0 .1 0zM492.45 373.75a1.5 1.5 0 1 0 .1 0zM492.45 398.25a1.5 1.5 0 1 0 .1 0zM492.7 370.75a1.5 1.5 0 1 0 .1 0zM492.7 398.75a1.5 1.5 0 1 0 .1 0zM492.7 409.75a1.5 1.5 0 1 0 .1 0zM492.7 427.5a1.5 1.5 0 1 0 .1 0zM492.95 362.75a1.5 1.5 0 1 0 .1 0zM492.95 376.5a1.5 1.5 0 1 0 .1 0zM492.95 386.5a1.5 1.5 0 1 0 .1 0zM492.95 419.5a1.5 1.5 0 1 0 .1 0zM493.2 361.75a1.5 1.5 0 1 0 .1 0zM493.2 396.75a1.5 1.5 0 1 0 .1 0zM493.2 402.75a1.5 1.5 0 1 0 .1 0zM493.2 418.5a1.5 1.5 0 1 0 .1 0zM493.2 424.5a1.5 1.5 0 1 0 .1 0zM493.45 364.5a1.5 1.5 0 1 0 .1 0zM493.45 378.5a1.5 1.5 0 1 0 .1 0zM493.45 400.5a1.5 1.5 0 1 0 .1 0zM493.45 416a1.5 1.5 0 1 0 .1 0zM493.7 360a1.5 1.5 0 1 0 .1 0zM493.7 382a1.5 1.5 0 1 0 .1 0zM493.7 390a1.5 1.5 0 1 0 .1 0zM493.7 393.75a1.5 1.5 0 1 0 .1 0zM493.95 384.5a1.5 1.5 0 1 0 .1 0zM493.95 397.75a1.5 1.5 0 1 0 .1 0zM493.95 414.25a1.5 1.5 0 1 0 .1 0zM493.95 417a1.5 1.5 0 1 0 .1 0zM494.2 375.75a1.5 1.5 0 1 0 .1 0zM494.2 386a1.5 1.5 0 1 0 .1 0zM494.2 390.5a1.5 1.5 0 1 0 .1 0zM494.2 396.75a1.5 1.5 0 1 0 .1 0zM494.2 405.25a1.5 1.5 0 1 0 .1 0zM494.45 374.75a1.5 1.5 0 1 0 .1 0zM494.45 380.5a1.5 1.5 0 1 0 .1 0zM494.45 392.25a1.5 1.5 0 1 0 .1 0zM494.45 402.75a1.5 1.5 0 1 0 .1 0zM494.7 391.25a1.5 1.5 0 1 0 .1 0zM494.7 396.25a1.5 1.5 0 1 0 .1 0zM494.7 398.5a1.5 1.5 0 1 0 .1 0zM494.7 404a1.5 1.5 0 1 0 .1 0zM494.95 396a1.5 1.5 0 1 0 .1 0zM494.95 397.25a1.5 1.5 0 1 0 .1 0zM494.95 402.5a1.5 1.5 0 1 0 .1 0zM494.95 414a1.5 1.5 0 1 0 .1 0zM495.2 377a1.5 1.5 0 1 0 .1 0zM495.2 379.25a1.5 1.5 0 1 0 .1 0zM495.2 387.75a1.5 1.5 0 1 0 .1 0zM495.2 388.5a1.5 1.5 0 1 0 .1 0zM495.2 415.75a1.5 1.5 0 1 0 .1 0zM495.45 363.25a1.5 1.5 0 1 0 .1 0zM495.45 393a1.5 1.5 0 1 0 .1 0zM495.45 395.5a1.5 1.5 0 1 0 .1 0zM495.45 397a1.5 1.5 0 1 0 .1 0zM495.7 385.25a1.5 1.5 0 1 0 .1 0zM495.7 401.25a1.5 1.5 0 1 0 .1 0zM495.7 416.5a1.5 1.5 0 1 0 .1 0zM495.7 418.25a1.5 1.5 0 1 0 .1 0zM495.95 388.5a1.5 1.5 0 1 0 .1 0zM495.95 390a1.5 1.5 0 1 0 .1 0zM495.95 401.25a1.5 1.5 0 1 0 .1 0zM495.95 404.5a1.5 1.5 0 1 0 .1 0zM496.2 359.75a1.5 1.5 0 1 0 .1 0zM496.2 364a1.5 1.5 0 1 0 .1 0zM496.2 374.5a1.5 1.5 0 1 0 .1 0zM496.2 385.75a1.5 1.5 0 1 0 .1 0zM496.2 391.75a1.5 1.5 0 1 0 .1 0zM496.45 374.25a1.5 1.5 0 1 0 .1 0zM496.45 376.25a1.5 1.5 0 1 0 .1 0zM496.45 377.75a1.5 1.5 0 1 0 .1 0zM496.45 383.75a1.5 1.5 0 1 0 .1 0zM496.7 367.75a1.5 1.5 0 1 0 .1 0zM496.7 384.25a1.5 1.5 0 1 0 .1 0zM496.7 393a1.5 1.5 0 1 0 .1 0zM496.7 420.25a1.5 1.5 0 1 0 .1 0zM496.95 356.25a1.5 1.5 0 1 0 .1 0zM496.95 367.75a1.5 1.5 0 1 0 .1 0zM496.95 387.5a1.5 1.5 0 1 0 .1 0zM496.95 408.5a1.5 1.5 0 1 0 .1 0zM497.2 370.75a1.5 1.5 0 1 0 .1 0zM497.2 397.25a1.5 1.5 0 1 0 .1 0zM497.2 400.5a1.5 1.5 0 1 0 .1 0zM497.2 407a1.5 1.5 0 1 0 .1 0zM497.2 413a1.5 1.5 0 1 0 .1 0zM497.45 369.25a1.5 1.5 0 1 0 .1 0zM497.45 386a1.5 1.5 0 1 0 .1 0zM497.45 393a1.5 1.5 0 1 0 .1 0zM497.45 397.75a1.5 1.5 0 1 0 .1 0zM497.7 363a1.5 1.5 0 1 0 .1 0zM497.7 384.25a1.5 1.5 0 1 0 .1 0zM497.7 385.25a1.5 1.5 0 1 0 .1 0zM497.7 398.75a1.5 1.5 0 1 0 .1 0zM497.95 394.25a1.5 1.5 0 1 0 .1 0zM497.95 402a1.5 1.5 0 1 0 .1 0zM497.95 402.25a1.5 1.5 0 1 0 .1 0zM497.95 416.25a1.5 1.5 0 1 0 .1 0zM498.2 385.75a1.5 1.5 0 1 0 .1 0zM498.2 388.5a1.5 1.5 0 1 0 .1 0zM498.2 396.25a1.5 1.5 0 1 0 .1 0zM498.2 397a1.5 1.5 0 1 0 .1 0zM498.2 399.25a1.5 1.5 0 1 0 .1 0zM498.45 374a1.5 1.5 0 1 0 .1 0zM498.45 374.75a1.5 1.5 0 1 0 .1 0zM498.45 394.5a1.5 1.5 0 1 0 .1 0zM498.45 396a1.5 1.5 0 1 0 .1 0zM498.7 350.25a1.5 1.5 0 1 0 .1 0zM498.7 366.25a1.5 1.5 0 1 0 .1 0zM498.7 395.25a1.5 1.5 0 1 0 .1 0zM498.7 398.75a1.5 1.5 0 1 0 .1 0zM498.95 370.75a1.5 1.5 0 1 0 .1 0zM498.95 387.25a1.5 1.5 0 1 0 .1 0zM498.95 406.25a1.5 1.5 0 1 0 .1 0zM498.95 411a1.5 1.5 0 1 0 .1 0zM499.2 376.75a1.5 1.5 0 1 0 .1 0zM499.2 379.5a1.5 1.5 0 1 0 .1 0zM499.2 393a1.5 1.5 0 1 0 .1 0zM499.2 409a1.5 1.5 0 1 0 .1 0zM499.2 418.75a1.5 1.5 0 1 0 .1 0zM499.45 382a1.5 1.5 0 1 0 .1 0zM499.45 400.5a1.5 1.5 0 1 0 .1 0zM499.45 406.25a1.5 1.5 0 1 0 .1 0zM499.45 423a1.5 1.5 0 1 0 .1 0zM499.7 383.5a1.5 1.5 0 1 0 .1 0zM499.7 412.75a1.5 1.5 0 1 0 .1 0zM499.7 417.5a1.5 1.5 0 1 0 .1 0zM499.7 424a1.5 1.5 0 1 0 .1 0zM499.95 374.5a1.5 1.5 0 1 0 .1 0zM499.95 397.5a1.5 1.5 0 1 0 .1 0zM499.95 398a1.5 1.5 0 1 0 .1 0zM499.95 400.75a1.5 1.5 0 1 0 .1 0zM500.2 363.5a1.5 1.5 0 1 0 .1 0zM500.2 374.5a1.5 1.5 0 1 0 .1 0zM500.2 379.75a1.5 1.5 0 1 0 .1 0zM500.2 404a1.5 1.5 0 1 0 .1 0zM500.2 412a1.5 1.5 0 1 0 .1 0zM500.45 361a1.5 1.5 0 1 0 .1 0zM500.45 385.75a1.5 1.5 0 1 0 .1 0zM500.45 394.25a1.5 1.5 0 1 0 .1 0zM500.45 421a1.5 1.5 0 1 0 .1 0zM500.7 377a1.5 1.5 0 1 0 .1 0zM500.7 377.5a1.5 1.5 0 1 0 .1 0zM500.7 410.5a1.5 1.5 0 1 0 .1 0zM500.7 420.75a1.5 1.5 0 1 0 .1 0zM500.95 394.75a1.5 1.5 0 1 0 .1 0zM500.95 404a1.5 1.5 0 1 0 .1 0zM500.95 412.5a1.5 1.5 0 1 0 .1 0zM500.95 422.25a1.5 1.5 0 1 0 .1 0zM501.2 371a1.5 1.5 0 1 0 .1 0zM501.2 373.5a1.5 1.5 0 1 0 .1 0zM501.2 386a1.5 1.5 0 1 0 .1 0zM501.2 389.25a1.5 1.5 0 1 0 .1 0zM501.2 405.25a1.5 1.5 0 1 0 .1 0zM501.45 375.75a1.5 1.5 0 1 0 .1 0zM501.45 392.25a1.5 1.5 0 1 0 .1 0zM501.45 397.75a1.5 1.5 0 1 0 .1 0zM501.45 399.75a1.5 1.5 0 1 0 .1 0zM501.7 362.75a1.5 1.5 0 1 0 .1 0zM501.7 374a1.5 1.5 0 1 0 .1 0zM501.7 378.5a1.5 1.5 0 1 0 .1 0zM501.7 397a1.5 1.5 0 1 0 .1 0zM501.95 385.5a1.5 1.5 0 1 0 .1 0zM501.95 402.5a1.5 1.5 0 1 0 .1 0zM501.95 409a1.5 1.5 0 1 0 .1 0zM501.95 418a1.5 1.5 0 1 0 .1 0zM502.2 362.5a1.5 1.5 0 1 0 .1 0zM502.2 371.75a1.5 1.5 0 1 0 .1 0zM502.2 385a1.5 1.5 0 1 0 .1 0zM502.2 403.75a1.5 1.5 0 1 0 .1 0zM502.2 407.75a1.5 1.5 0 1 0 .1 0zM502.45 380a1.5 1.5 0 1 0 .1 0zM502.45 396.5a1.5 1.5 0 1 0 .1 0zM502.45 400a1.5 1.5 0 1 0 .1 0zM502.45 402a1.5 1.5 0 1 0 .1 0zM502.7 375.75a1.5 1.5 0 1 0 .1 0zM502.7 377.75a1.5 1.5 0 1 0 .1 0zM502.7 379.25a1.5 1.5 0 1 0 .1 0zM502.7 384.75a1.5 1.5 0 1 0 .1 0zM502.95 396.25a1.5 1.5 0 1 0 .1 0zM502.95 396.75a1.5 1.5 0 1 0 .1 0zM502.95 419a1.5 1.5 0 1 0 .1 0zM502.95 424.25a1.5 1.5 0 1 0 .1 0zM503.2 369a1.5 1.5 0 1 0 .1 0zM503.2 382.5a1.5 1.5 0 1 0 .1 0zM503.2 410a1.5 1.5 0 1 0 .1 0zM503.2 412.5a1.5 1.5 0 1 0 .1 0zM503.2 419a1.5 1.5 0 1 0 .1 0zM503.45 387a1.5 1.5 0 1 0 .1 0zM503.45 393.25a1.5 1.5 0 1 0 .1 0zM503.45 403a1.5 1.5 0 1 0 .1 0zM503.45 405.25a1.5 1.5 0 1 0 .1 0zM503.7 373.5a1.5 1.5 0 1 0 .1 0zM503.7 389a1.5 1.5 0 1 0 .1 0zM503.7 413.5a1.5 1.5 0 1 0 .1 0zM503.7 425a1.5 1.5 0 1 0 .1 0zM503.95 364.5a1.5 1.5 0 1 0 .1 0zM503.95 406a1.5 1.5 0 1 0 .1 0zM503.95 409.5a1.5 1.5 0 1 0 .1 0zM503.95 424.75a1.5 1.5 0 1 0 .1 0zM503.95 437.5a1.5 1.5 0 1 0 .1 0zM504.2 367.75a1.5 1.5 0 1 0 .1 0zM504.2 375a1.5 1.5 0 1 0 .1 0zM504.2 395.75a1.5 1.5 0 1 0 .1 0zM504.2 396.75a1.5 1.5 0 1 0 .1 0zM504.2 418a1.5 1.5 0 1 0 .1 0zM504.45 388.75a1.5 1.5 0 1 0 .1 0zM504.45 399.5a1.5 1.5 0 1 0 .1 0zM504.45 401a1.5 1.5 0 1 0 .1 0zM504.7 389.75a1.5 1.5 0 1 0 .1 0zM504.7 392.5a1.5 1.5 0 1 0 .1 0zM504.7 394a1.5 1.5 0 1 0 .1 0zM504.7 425.25a1.5 1.5 0 1 0 .1 0zM504.95 370.75a1.5 1.5 0 1 0 .1 0zM504.95 396.75a1.5 1.5 0 1 0 .1 0zM504.95 403.5a1.5 1.5 0 1 0 .1 0zM504.95 413.5a1.5 1.5 0 1 0 .1 0zM505.2 363.5a1.5 1.5 0 1 0 .1 0zM505.2 378.5a1.5 1.5 0 1 0 .1 0zM505.2 383.75a1.5 1.5 0 1 0 .1 0zM505.2 394.5a1.5 1.5 0 1 0 .1 0zM505.2 403a1.5 1.5 0 1 0 .1 0zM505.45 379a1.5 1.5 0 1 0 .1 0zM505.45 383.25a1.5 1.5 0 1 0 .1 0zM505.45 388a1.5 1.5 0 1 0 .1 0zM505.45 394.25a1.5 1.5 0 1 0 .1 0zM505.7 384a1.5 1.5 0 1 0 .1 0zM505.7 394.75a1.5 1.5 0 1 0 .1 0zM505.7 408.25a1.5 1.5 0 1 0 .1 0zM505.7 413.25a1.5 1.5 0 1 0 .1 0zM505.95 378a1.5 1.5 0 1 0 .1 0zM505.95 394.25a1.5 1.5 0 1 0 .1 0zM505.95 404a1.5 1.5 0 1 0 .1 0zM505.95 418a1.5 1.5 0 1 0 .1 0zM506.2 360.5a1.5 1.5 0 1 0 .1 0zM506.2 391.25a1.5 1.5 0 1 0 .1 0zM506.2 391.75a1.5 1.5 0 1 0 .1 0zM506.2 395.5a1.5 1.5 0 1 0 .1 0zM506.2 407.5a1.5 1.5 0 1 0 .1 0zM506.45 366a1.5 1.5 0 1 0 .1 0zM506.45 380.75a1.5 1.5 0 1 0 .1 0zM506.45 384.25a1.5 1.5 0 1 0 .1 0zM506.45 395a1.5 1.5 0 1 0 .1 0zM506.7 384.5a1.5 1.5 0 1 0 .1 0zM506.7 389a1.5 1.5 0 1 0 .1 0zM506.7 391.25a1.5 1.5 0 1 0 .1 0zM506.7 411a1.5 1.5 0 1 0 .1 0zM506.95 388.75a1.5 1.5 0 1 0 .1 0zM506.95 390a1.5 1.5 0 1 0 .1 0zM506.95 391.75a1.5 1.5 0 1 0 .1 0zM506.95 397.25a1.5 1.5 0 1 0 .1 0zM507.2 359.25a1.5 1.5 0 1 0 .1 0zM507.2 373.5a1.5 1.5 0 1 0 .1 0zM507.2 381.25a1.5 1.5 0 1 0 .1 0zM507.2 394.5a1.5 1.5 0 1 0 .1 0zM507.2 400.25a1.5 1.5 0 1 0 .1 0zM507.45 370.75a1.5 1.5 0 1 0 .1 0zM507.45 371a1.5 1.5 0 1 0 .1 0zM507.45 382.5a1.5 1.5 0 1 0 .1 0zM507.45 395.75a1.5 1.5 0 1 0 .1 0zM507.7 379.5a1.5 1.5 0 1 0 .1 0zM507.7 385.75a1.5 1.5 0 1 0 .1 0zM507.7 388a1.5 1.5 0 1 0 .1 0zM507.7 403a1.5 1.5 0 1 0 .1 0zM507.95 399.75a1.5 1.5 0 1 0 .1 0zM507.95 400.5a1.5 1.5 0 1 0 .1 0zM507.95 403.75a1.5 1.5 0 1 0 .1 0zM507.95 405a1.5 1.5 0 1 0 .1 0zM508.2 388.25a1.5 1.5 0 1 0 .1 0zM508.2 399.5a1.5 1.5 0 1 0 .1 0zM508.2 415.25a1.5 1.5 0 1 0 .1 0zM508.2 423a1.5 1.5 0 1 0 .1 0zM508.2 428a1.5 1.5 0 1 0 .1 0zM508.45 391.5a1.5 1.5 0 1 0 .1 0zM508.45 392.75a1.5 1.5 0 1 0 .1 0zM508.45 399.75a1.5 1.5 0 1 0 .1 0zM508.45 412.25a1.5 1.5 0 1 0 .1 0zM508.7 362.25a1.5 1.5 0 1 0 .1 0zM508.7 389.5a1.5 1.5 0 1 0 .1 0zM508.7 397.5a1.5 1.5 0 1 0 .1 0zM508.7 405.25a1.5 1.5 0 1 0 .1 0zM508.95 386.25a1.5 1.5 0 1 0 .1 0zM508.95 394.25a1.5 1.5 0 1 0 .1 0zM508.95 395.5a1.5 1.5 0 1 0 .1 0zM508.95 398.25a1.5 1.5 0 1 0 .1 0zM509.2 365.25a1.5 1.5 0 1 0 .1 0zM509.2 391a1.5 1.5 0 1 0 .1 0zM509.2 396.25a1.5 1.5 0 1 0 .1 0zM509.2 407a1.5 1.5 0 1 0 .1 0zM509.2 410a1.5 1.5 0 1 0 .1 0zM509.45 399a1.5 1.5 0 1 0 .1 0zM509.45 404.5a1.5 1.5 0 1 0 .1 0zM509.45 409.25a1.5 1.5 0 1 0 .1 0zM509.45 415.5a1.5 1.5 0 1 0 .1 0zM509.7 381a1.5 1.5 0 1 0 .1 0zM509.7 390.75a1.5 1.5 0 1 0 .1 0zM509.7 392.5a1.5 1.5 0 1 0 .1 0zM509.7 399.5a1.5 1.5 0 1 0 .1 0zM509.95 390.75a1.5 1.5 0 1 0 .1 0zM509.95 401.5a1.5 1.5 0 1 0 .1 0zM509.95 408a1.5 1.5 0 1 0 .1 0zM509.95 412a1.5 1.5 0 1 0 .1 0zM510.2 383.25a1.5 1.5 0 1 0 .1 0zM510.2 385.75a1.5 1.5 0 1 0 .1 0zM510.2 394a1.5 1.5 0 1 0 .1 0zM510.2 404.5a1.5 1.5 0 1 0 .1 0zM510.2 405.75a1.5 1.5 0 1 0 .1 0zM510.45 383.25a1.5 1.5 0 1 0 .1 0zM510.45 385a1.5 1.5 0 1 0 .1 0zM510.45 386.75a1.5 1.5 0 1 0 .1 0zM510.45 390.75a1.5 1.5 0 1 0 .1 0zM510.7 350a1.5 1.5 0 1 0 .1 0zM510.7 383.75a1.5 1.5 0 1 0 .1 0zM510.7 392.75a1.5 1.5 0 1 0 .1 0zM510.7 394a1.5 1.5 0 1 0 .1 0zM510.7 412.5a1.5 1.5 0 1 0 .1 0zM510.95 378a1.5 1.5 0 1 0 .1 0zM510.95 381.5a1.5 1.5 0 1 0 .1 0zM510.95 386a1.5 1.5 0 1 0 .1 0zM510.95 408a1.5 1.5 0 1 0 .1 0zM511.2 385.5a1.5 1.5 0 1 0 .1 0zM511.2 385.75a1.5 1.5 0 1 0 .1 0zM511.2 398a1.5 1.5 0 1 0 .1 0zM511.2 401.5a1.5 1.5 0 1 0 .1 0zM511.2 427a1.5 1.5 0 1 0 .1 0zM511.45 356.5a1.5 1.5 0 1 0 .1 0zM511.45 359a1.5 1.5 0 1 0 .1 0zM511.45 379.25a1.5 1.5 0 1 0 .1 0zM511.45 386.75a1.5 1.5 0 1 0 .1 0zM511.7 366a1.5 1.5 0 1 0 .1 0zM511.7 388.75a1.5 1.5 0 1 0 .1 0zM511.7 401.25a1.5 1.5 0 1 0 .1 0zM511.7 402a1.5 1.5 0 1 0 .1 0zM511.95 381.75a1.5 1.5 0 1 0 .1 0zM511.95 385.5a1.5 1.5 0 1 0 .1 0zM511.95 387a1.5 1.5 0 1 0 .1 0zM511.95 402.25a1.5 1.5 0 1 0 .1 0zM511.95 402.5a1.5 1.5 0 1 0 .1 0zM512.2 388.5a1.5 1.5 0 1 0 .1 0zM512.2 403.75a1.5 1.5 0 1 0 .1 0zM512.2 406.25a1.5 1.5 0 1 0 .1 0zM512.2 411a1.5 1.5 0 1 0 .1 0zM512.45 364.25a1.5 1.5 0 1 0 .1 0zM512.45 383.75a1.5 1.5 0 1 0 .1 0zM512.45 408a1.5 1.5 0 1 0 .1 0zM512.45 409.75a1.5 1.5 0 1 0 .1 0zM512.7 401a1.5 1.5 0 1 0 .1 0zM512.7 405.25a1.5 1.5 0 1 0 .1 0zM512.7 415.25a1.5 1.5 0 1 0 .1 0zM512.7 418.75a1.5 1.5 0 1 0 .1 0zM512.95 376.5a1.5 1.5 0 1 0 .1 0zM512.95 385.25a1.5 1.5 0 1 0 .1 0zM512.95 386.5a1.5 1.5 0 1 0 .1 0zM512.95 403.5a1.5 1.5 0 1 0 .1 0zM512.95 420.25a1.5 1.5 0 1 0 .1 0zM513.2 399a1.5 1.5 0 1 0 .1 0zM513.2 401.75a1.5 1.5 0 1 0 .1 0zM513.2 414.75a1.5 1.5 0 1 0 .1 0zM513.2 422.5a1.5 1.5 0 1 0 .1 0zM513.45 369.25a1.5 1.5 0 1 0 .1 0zM513.45 380.25a1.5 1.5 0 1 0 .1 0zM513.45 389.75a1.5 1.5 0 1 0 .1 0zM513.45 408.5a1.5 1.5 0 1 0 .1 0zM513.7 384a1.5 1.5 0 1 0 .1 0zM513.7 389.5a1.5 1.5 0 1 0 .1 0zM513.7 395a1.5 1.5 0 1 0 .1 0zM513.7 395.5a1.5 1.5 0 1 0 .1 0zM513.95 388.25a1.5 1.5 0 1 0 .1 0zM513.95 393.5a1.5 1.5 0 1 0 .1 0zM513.95 413.5a1.5 1.5 0 1 0 .1 0zM513.95 414.25a1.5 1.5 0 1 0 .1 0zM513.95 416.25a1.5 1.5 0 1 0 .1 0zM514.2 386.75a1.5 1.5 0 1 0 .1 0zM514.2 400.25a1.5 1.5 0 1 0 .1 0zM514.2 400.5a1.5 1.5 0 1 0 .1 0zM514.2 409.5a1.5 1.5 0 1 0 .1 0zM514.45 401.75a1.5 1.5 0 1 0 .1 0zM514.45 405.5a1.5 1.5 0 1 0 .1 0zM514.45 405.75a1.5 1.5 0 1 0 .1 0zM514.45 414.75a1.5 1.5 0 1 0 .1 0zM514.7 372a1.5 1.5 0 1 0 .1 0zM514.7 380.25a1.5 1.5 0 1 0 .1 0zM514.7 396a1.5 1.5 0 1 0 .1 0zM514.7 406.75a1.5 1.5 0 1 0 .1 0zM514.95 373.5a1.5 1.5 0 1 0 .1 0zM514.95 374.25a1.5 1.5 0 1 0 .1 0zM514.95 380.5a1.5 1.5 0 1 0 .1 0zM514.95 395.5a1.5 1.5 0 1 0 .1 0zM514.95 407a1.5 1.5 0 1 0 .1 0zM515.2 374.5a1.5 1.5 0 1 0 .1 0zM515.2 375.75a1.5 1.5 0 1 0 .1 0zM515.2 392.5a1.5 1.5 0 1 0 .1 0zM515.2 414.5a1.5 1.5 0 1 0 .1 0zM515.45 369a1.5 1.5 0 1 0 .1 0zM515.45 410.5a1.5 1.5 0 1 0 .1 0zM515.45 420.5a1.5 1.5 0 1 0 .1 0zM515.45 430a1.5 1.5 0 1 0 .1 0zM515.7 411.5a1.5 1.5 0 1 0 .1 0zM515.7 415.75a1.5 1.5 0 1 0 .1 0zM515.7 416.25a1.5 1.5 0 1 0 .1 0zM515.7 428.25a1.5 1.5 0 1 0 .1 0zM515.95 393.5a1.5 1.5 0 1 0 .1 0zM515.95 397.75a1.5 1.5 0 1 0 .1 0zM515.95 407.75a1.5 1.5 0 1 0 .1 0zM515.95 412a1.5 1.5 0 1 0 .1 0zM515.95 416.25a1.5 1.5 0 1 0 .1 0zM516.2 379.75a1.5 1.5 0 1 0 .1 0zM516.2 386a1.5 1.5 0 1 0 .1 0zM516.2 400a1.5 1.5 0 1 0 .1 0zM516.2 414.75a1.5 1.5 0 1 0 .1 0zM516.45 391a1.5 1.5 0 1 0 .1 0zM516.45 392.25a1.5 1.5 0 1 0 .1 0zM516.45 402.25a1.5 1.5 0 1 0 .1 0zM516.45 415.25a1.5 1.5 0 1 0 .1 0zM516.7 365a1.5 1.5 0 1 0 .1 0zM516.7 373.5a1.5 1.5 0 1 0 .1 0zM516.7 376.5a1.5 1.5 0 1 0 .1 0zM516.7 380.25a1.5 1.5 0 1 0 .1 0zM516.95 373.5a1.5 1.5 0 1 0 .1 0zM516.95 393.75a1.5 1.5 0 1 0 .1 0zM516.95 407a1.5 1.5 0 1 0 .1 0zM516.95 411a1.5 1.5 0 1 0 .1 0zM516.95 426.75a1.5 1.5 0 1 0 .1 0zM517.2 375.5a1.5 1.5 0 1 0 .1 0zM517.2 377.25a1.5 1.5 0 1 0 .1 0zM517.2 396.75a1.5 1.5 0 1 0 .1 0zM517.2 418a1.5 1.5 0 1 0 .1 0zM517.45 372.75a1.5 1.5 0 1 0 .1 0zM517.45 400a1.5 1.5 0 1 0 .1 0zM517.45 401a1.5 1.5 0 1 0 .1 0zM517.45 411a1.5 1.5 0 1 0 .1 0zM517.7 398.25a1.5 1.5 0 1 0 .1 0zM517.7 399.25a1.5 1.5 0 1 0 .1 0zM517.7 401.5a1.5 1.5 0 1 0 .1 0zM517.7 416a1.5 1.5 0 1 0 .1 0zM517.95 365.5a1.5 1.5 0 1 0 .1 0zM517.95 378.75a1.5 1.5 0 1 0 .1 0zM517.95 396.75a1.5 1.5 0 1 0 .1 0zM517.95 398.5a1.5 1.5 0 1 0 .1 0zM517.95 399.25a1.5 1.5 0 1 0 .1 0zM518.2 385.75a1.5 1.5 0 1 0 .1 0zM518.2 392a1.5 1.5 0 1 0 .1 0zM518.2 393.5a1.5 1.5 0 1 0 .1 0zM518.2 412.25a1.5 1.5 0 1 0 .1 0zM518.45 385.25a1.5 1.5 0 1 0 .1 0zM518.45 397a1.5 1.5 0 1 0 .1 0zM518.45 410.5a1.5 1.5 0 1 0 .1 0zM518.45 413.75a1.5 1.5 0 1 0 .1 0zM518.7 394.25a1.5 1.5 0 1 0 .1 0zM518.7 401.25a1.5 1.5 0 1 0 .1 0zM518.7 402.5a1.5 1.5 0 1 0 .1 0zM518.7 406.5a1.5 1.5 0 1 0 .1 0zM518.95 385.75a1.5 1.5 0 1 0 .1 0zM518.95 386a1.5 1.5 0 1 0 .1 0zM518.95 387.75a1.5 1.5 0 1 0 .1 0zM518.95 394.25a1.5 1.5 0 1 0 .1 0zM518.95 395.25a1.5 1.5 0 1 0 .1 0zM519.2 372.75a1.5 1.5 0 1 0 .1 0zM519.2 375.5a1.5 1.5 0 1 0 .1 0zM519.2 387.75a1.5 1.5 0 1 0 .1 0zM519.2 390.75a1.5 1.5 0 1 0 .1 0zM519.45 384.75a1.5 1.5 0 1 0 .1 0zM519.45 399.25a1.5 1.5 0 1 0 .1 0zM519.45 404a1.5 1.5 0 1 0 .1 0zM519.45 404.25a1.5 1.5 0 1 0 .1 0zM519.7 400a1.5 1.5 0 1 0 .1 0zM519.7 407.75a1.5 1.5 0 1 0 .1 0zM519.7 410.5a1.5 1.5 0 1 0 .1 0zM519.7 410.75a1.5 1.5 0 1 0 .1 0zM519.95 395.75a1.5 1.5 0 1 0 .1 0zM519.95 405.25a1.5 1.5 0 1 0 .1 0zM519.95 406.5a1.5 1.5 0 1 0 .1 0zM519.95 408.25a1.5 1.5 0 1 0 .1 0zM519.95 415.75a1.5 1.5 0 1 0 .1 0zM520.2 379.75a1.5 1.5 0 1 0 .1 0zM520.2 391.5a1.5 1.5 0 1 0 .1 0zM520.2 397.25a1.5 1.5 0 1 0 .1 0zM520.2 407.25a1.5 1.5 0 1 0 .1 0zM520.45 385.25a1.5 1.5 0 1 0 .1 0zM520.45 387.25a1.5 1.5 0 1 0 .1 0zM520.45 389.25a1.5 1.5 0 1 0 .1 0zM520.45 398.25a1.5 1.5 0 1 0 .1 0zM520.7 383.75a1.5 1.5 0 1 0 .1 0zM520.7 395.75a1.5 1.5 0 1 0 .1 0zM520.7 422.25a1.5 1.5 0 1 0 .1 0zM520.7 426.25a1.5 1.5 0 1 0 .1 0zM520.95 383.75a1.5 1.5 0 1 0 .1 0zM520.95 385.75a1.5 1.5 0 1 0 .1 0zM520.95 386.25a1.5 1.5 0 1 0 .1 0zM520.95 394.75a1.5 1.5 0 1 0 .1 0zM520.95 396.5a1.5 1.5 0 1 0 .1 0zM521.2 379.5a1.5 1.5 0 1 0 .1 0zM521.2 387.5a1.5 1.5 0 1 0 .1 0zM521.2 399.75a1.5 1.5 0 1 0 .1 0zM521.2 406.25a1.5 1.5 0 1 0 .1 0zM521.45 371.75a1.5 1.5 0 1 0 .1 0zM521.45 377a1.5 1.5 0 1 0 .1 0zM521.45 382.5a1.5 1.5 0 1 0 .1 0zM521.45 393.75a1.5 1.5 0 1 0 .1 0zM521.7 394.75a1.5 1.5 0 1 0 .1 0zM521.7 398.25a1.5 1.5 0 1 0 .1 0zM521.7 421a1.5 1.5 0 1 0 .1 0zM521.95 382.75a1.5 1.5 0 1 0 .1 0zM521.95 385.5a1.5 1.5 0 1 0 .1 0zM521.95 389a1.5 1.5 0 1 0 .1 0zM521.95 416.5a1.5 1.5 0 1 0 .1 0zM521.95 424.25a1.5 1.5 0 1 0 .1 0zM522.2 368a1.5 1.5 0 1 0 .1 0zM522.2 378a1.5 1.5 0 1 0 .1 0zM522.2 401.5a1.5 1.5 0 1 0 .1 0zM522.2 415a1.5 1.5 0 1 0 .1 0zM522.45 384a1.5 1.5 0 1 0 .1 0zM522.45 399.25a1.5 1.5 0 1 0 .1 0zM522.45 401a1.5 1.5 0 1 0 .1 0zM522.45 408.5a1.5 1.5 0 1 0 .1 0zM522.7 372a1.5 1.5 0 1 0 .1 0zM522.7 380.75a1.5 1.5 0 1 0 .1 0zM522.7 384.5a1.5 1.5 0 1 0 .1 0zM522.7 399.5a1.5 1.5 0 1 0 .1 0zM522.95 382.75a1.5 1.5 0 1 0 .1 0zM522.95 384a1.5 1.5 0 1 0 .1 0zM522.95 392.5a1.5 1.5 0 1 0 .1 0zM522.95 396.75a1.5 1.5 0 1 0 .1 0zM522.95 404a1.5 1.5 0 1 0 .1 0zM523.2 390.25a1.5 1.5 0 1 0 .1 0zM523.2 403a1.5 1.5 0 1 0 .1 0zM523.2 411a1.5 1.5 0 1 0 .1 0zM523.2 412.75a1.5 1.5 0 1 0 .1 0zM523.45 365.25a1.5 1.5 0 1 0 .1 0zM523.45 376.25a1.5 1.5 0 1 0 .1 0zM523.45 385.75a1.5 1.5 0 1 0 .1 0zM523.45 404.5a1.5 1.5 0 1 0 .1 0zM523.7 370.75a1.5 1.5 0 1 0 .1 0zM523.7 394.25a1.5 1.5 0 1 0 .1 0zM523.7 401.5a1.5 1.5 0 1 0 .1 0zM523.7 417.75a1.5 1.5 0 1 0 .1 0zM523.95 379.5a1.5 1.5 0 1 0 .1 0zM523.95 384.25a1.5 1.5 0 1 0 .1 0zM523.95 389a1.5 1.5 0 1 0 .1 0zM523.95 401.5a1.5 1.5 0 1 0 .1 0zM523.95 416.25a1.5 1.5 0 1 0 .1 0zM524.2 384.75a1.5 1.5 0 1 0 .1 0zM524.2 389.5a1.5 1.5 0 1 0 .1 0zM524.2 404.25a1.5 1.5 0 1 0 .1 0zM524.2 404.5a1.5 1.5 0 1 0 .1 0zM524.45 382.5a1.5 1.5 0 1 0 .1 0zM524.45 392.75a1.5 1.5 0 1 0 .1 0zM524.45 399.25a1.5 1.5 0 1 0 .1 0zM524.45 406.75a1.5 1.5 0 1 0 .1 0zM524.7 382.25a1.5 1.5 0 1 0 .1 0zM524.7 384.25a1.5 1.5 0 1 0 .1 0zM524.7 394.75a1.5 1.5 0 1 0 .1 0zM524.7 403.25a1.5 1.5 0 1 0 .1 0zM524.95 369a1.5 1.5 0 1 0 .1 0zM524.95 383.5a1.5 1.5 0 1 0 .1 0zM524.95 414.25a1.5 1.5 0 1 0 .1 0zM524.95 417.25a1.5 1.5 0 1 0 .1 0zM524.95 425.5a1.5 1.5 0 1 0 .1 0zM525.2 380.5a1.5 1.5 0 1 0 .1 0zM525.2 394.75a1.5 1.5 0 1 0 .1 0zM525.2 401.75a1.5 1.5 0 1 0 .1 0zM525.2 404a1.5 1.5 0 1 0 .1 0zM525.45 388.25a1.5 1.5 0 1 0 .1 0zM525.45 397.75a1.5 1.5 0 1 0 .1 0zM525.45 404.5a1.5 1.5 0 1 0 .1 0zM525.45 406a1.5 1.5 0 1 0 .1 0zM525.7 390.75a1.5 1.5 0 1 0 .1 0zM525.7 396a1.5 1.5 0 1 0 .1 0zM525.7 396.25a1.5 1.5 0 1 0 .1 0zM525.7 401a1.5 1.5 0 1 0 .1 0zM525.95 385.75a1.5 1.5 0 1 0 .1 0zM525.95 396.5a1.5 1.5 0 1 0 .1 0zM525.95 404a1.5 1.5 0 1 0 .1 0zM525.95 417.75a1.5 1.5 0 1 0 .1 0zM525.95 421.75a1.5 1.5 0 1 0 .1 0zM525.95 440.5a1.5 1.5 0 1 0 .1 0zM526.2 400a1.5 1.5 0 1 0 .1 0zM526.2 404.25a1.5 1.5 0 1 0 .1 0zM526.2 408a1.5 1.5 0 1 0 .1 0zM526.2 414.5a1.5 1.5 0 1 0 .1 0zM526.45 402.5a1.5 1.5 0 1 0 .1 0zM526.45 410.5a1.5 1.5 0 1 0 .1 0zM526.45 425a1.5 1.5 0 1 0 .1 0zM526.45 429.25a1.5 1.5 0 1 0 .1 0zM526.7 402.25a1.5 1.5 0 1 0 .1 0zM526.7 404a1.5 1.5 0 1 0 .1 0zM526.7 409.75a1.5 1.5 0 1 0 .1 0zM526.7 425.25a1.5 1.5 0 1 0 .1 0zM526.95 392.75a1.5 1.5 0 1 0 .1 0zM526.95 394.5a1.5 1.5 0 1 0 .1 0zM526.95 400a1.5 1.5 0 1 0 .1 0zM526.95 402.5a1.5 1.5 0 1 0 .1 0zM526.95 408.25a1.5 1.5 0 1 0 .1 0zM527.2 391.25a1.5 1.5 0 1 0 .1 0zM527.2 395.75a1.5 1.5 0 1 0 .1 0zM527.2 404.75a1.5 1.5 0 1 0 .1 0zM527.2 417a1.5 1.5 0 1 0 .1 0zM527.45 404.75a1.5 1.5 0 1 0 .1 0zM527.45 405a1.5 1.5 0 1 0 .1 0zM527.45 424.5a1.5 1.5 0 1 0 .1 0zM527.45 427.25a1.5 1.5 0 1 0 .1 0zM527.7 385.75a1.5 1.5 0 1 0 .1 0zM527.7 400a1.5 1.5 0 1 0 .1 0zM527.7 412.25a1.5 1.5 0 1 0 .1 0zM527.7 425.75a1.5 1.5 0 1 0 .1 0zM527.95 406.5a1.5 1.5 0 1 0 .1 0zM527.95 409.75a1.5 1.5 0 1 0 .1 0zM527.95 417.5a1.5 1.5 0 1 0 .1 0zM527.95 420a1.5 1.5 0 1 0 .1 0zM527.95 421a1.5 1.5 0 1 0 .1 0zM528.2 408.25a1.5 1.5 0 1 0 .1 0zM528.2 408.75a1.5 1.5 0 1 0 .1 0zM528.2 413.25a1.5 1.5 0 1 0 .1 0zM528.2 414a1.5 1.5 0 1 0 .1 0zM528.45 393a1.5 1.5 0 1 0 .1 0zM528.45 402a1.5 1.5 0 1 0 .1 0zM528.45 403.5a1.5 1.5 0 1 0 .1 0zM528.45 421.25a1.5 1.5 0 1 0 .1 0zM528.7 396a1.5 1.5 0 1 0 .1 0zM528.7 402.25a1.5 1.5 0 1 0 .1 0zM528.7 402.5a1.5 1.5 0 1 0 .1 0zM528.95 394a1.5 1.5 0 1 0 .1 0zM528.95 398.75a1.5 1.5 0 1 0 .1 0zM528.95 399.5a1.5 1.5 0 1 0 .1 0zM528.95 410.75a1.5 1.5 0 1 0 .1 0zM528.95 423a1.5 1.5 0 1 0 .1 0zM529.2 400a1.5 1.5 0 1 0 .1 0zM529.2 408.25a1.5 1.5 0 1 0 .1 0zM529.2 408.5a1.5 1.5 0 1 0 .1 0zM529.2 419.75a1.5 1.5 0 1 0 .1 0zM529.45 409.5a1.5 1.5 0 1 0 .1 0zM529.45 415.5a1.5 1.5 0 1 0 .1 0zM529.45 421.5a1.5 1.5 0 1 0 .1 0zM529.45 427.5a1.5 1.5 0 1 0 .1 0zM529.7 401.75a1.5 1.5 0 1 0 .1 0zM529.7 413.25a1.5 1.5 0 1 0 .1 0zM529.7 418.25a1.5 1.5 0 1 0 .1 0zM529.7 422.75a1.5 1.5 0 1 0 .1 0zM529.95 388a1.5 1.5 0 1 0 .1 0zM529.95 407.75a1.5 1.5 0 1 0 .1 0zM529.95 413.5a1.5 1.5 0 1 0 .1 0zM529.95 415.25a1.5 1.5 0 1 0 .1 0zM529.95 422.25a1.5 1.5 0 1 0 .1 0zM530.2 390.25a1.5 1.5 0 1 0 .1 0zM530.2 401a1.5 1.5 0 1 0 .1 0zM530.2 413.75a1.5 1.5 0 1 0 .1 0zM530.2 423.25a1.5 1.5 0 1 0 .1 0zM530.45 398.75a1.5 1.5 0 1 0 .1 0zM530.45 418.25a1.5 1.5 0 1 0 .1 0zM530.45 421a1.5 1.5 0 1 0 .1 0zM530.45 425a1.5 1.5 0 1 0 .1 0zM530.7 399.75a1.5 1.5 0 1 0 .1 0zM530.7 408.25a1.5 1.5 0 1 0 .1 0zM530.7 419.5a1.5 1.5 0 1 0 .1 0zM530.7 432.75a1.5 1.5 0 1 0 .1 0zM530.95 406.25a1.5 1.5 0 1 0 .1 0zM530.95 407.75a1.5 1.5 0 1 0 .1 0zM530.95 416.5a1.5 1.5 0 1 0 .1 0zM530.95 417.25a1.5 1.5 0 1 0 .1 0zM530.95 420.75a1.5 1.5 0 1 0 .1 0zM531.2 398.25a1.5 1.5 0 1 0 .1 0zM531.2 399.25a1.5 1.5 0 1 0 .1 0zM531.2 406a1.5 1.5 0 1 0 .1 0zM531.2 431.5a1.5 1.5 0 1 0 .1 0zM531.45 414a1.5 1.5 0 1 0 .1 0zM531.45 417a1.5 1.5 0 1 0 .1 0zM531.45 421.75a1.5 1.5 0 1 0 .1 0zM531.45 435a1.5 1.5 0 1 0 .1 0zM531.7 416.25a1.5 1.5 0 1 0 .1 0zM531.7 419a1.5 1.5 0 1 0 .1 0zM531.7 422.5a1.5 1.5 0 1 0 .1 0zM531.7 434.25a1.5 1.5 0 1 0 .1 0zM531.95 399a1.5 1.5 0 1 0 .1 0zM531.95 413a1.5 1.5 0 1 0 .1 0zM531.95 420.75a1.5 1.5 0 1 0 .1 0zM531.95 423.25a1.5 1.5 0 1 0 .1 0zM531.95 428.25a1.5 1.5 0 1 0 .1 0zM531.95 439a1.5 1.5 0 1 0 .1 0zM532.2 405.25a1.5 1.5 0 1 0 .1 0zM532.2 409.25a1.5 1.5 0 1 0 .1 0zM532.2 410a1.5 1.5 0 1 0 .1 0zM532.2 429.75a1.5 1.5 0 1 0 .1 0zM532.45 407.5a1.5 1.5 0 1 0 .1 0zM532.45 412.75a1.5 1.5 0 1 0 .1 0zM532.45 415.75a1.5 1.5 0 1 0 .1 0zM532.45 434.75a1.5 1.5 0 1 0 .1 0zM532.45 436a1.5 1.5 0 1 0 .1 0zM532.7 392.75a1.5 1.5 0 1 0 .1 0zM532.7 403.5a1.5 1.5 0 1 0 .1 0zM532.7 423.25a1.5 1.5 0 1 0 .1 0zM532.7 424.5a1.5 1.5 0 1 0 .1 0zM532.95 403.25a1.5 1.5 0 1 0 .1 0zM532.95 417.75a1.5 1.5 0 1 0 .1 0zM532.95 418a1.5 1.5 0 1 0 .1 0zM532.95 418.75a1.5 1.5 0 1 0 .1 0zM532.95 430.5a1.5 1.5 0 1 0 .1 0zM533.2 417a1.5 1.5 0 1 0 .1 0zM533.2 423.25a1.5 1.5 0 1 0 .1 0zM533.2 429a1.5 1.5 0 1 0 .1 0zM533.2 433.5a1.5 1.5 0 1 0 .1 0zM533.45 404a1.5 1.5 0 1 0 .1 0zM533.45 407a1.5 1.5 0 1 0 .1 0zM533.45 407.75a1.5 1.5 0 1 0 .1 0zM533.45 413.25a1.5 1.5 0 1 0 .1 0zM533.7 409.5a1.5 1.5 0 1 0 .1 0zM533.7 411.5a1.5 1.5 0 1 0 .1 0zM533.7 420.75a1.5 1.5 0 1 0 .1 0zM533.7 428.25a1.5 1.5 0 1 0 .1 0zM533.95 401.5a1.5 1.5 0 1 0 .1 0zM533.95 403.5a1.5 1.5 0 1 0 .1 0zM533.95 414.25a1.5 1.5 0 1 0 .1 0zM533.95 416.5a1.5 1.5 0 1 0 .1 0zM533.95 417a1.5 1.5 0 1 0 .1 0zM533.95 439a1.5 1.5 0 1 0 .1 0zM534.2 401.5a1.5 1.5 0 1 0 .1 0zM534.2 404.5a1.5 1.5 0 1 0 .1 0zM534.2 413.5a1.5 1.5 0 1 0 .1 0zM534.2 432.5a1.5 1.5 0 1 0 .1 0zM534.45 404.75a1.5 1.5 0 1 0 .1 0zM534.45 406.25a1.5 1.5 0 1 0 .1 0zM534.45 413.75a1.5 1.5 0 1 0 .1 0zM534.45 422a1.5 1.5 0 1 0 .1 0zM534.7 397a1.5 1.5 0 1 0 .1 0zM534.7 398.25a1.5 1.5 0 1 0 .1 0zM534.7 399.25a1.5 1.5 0 1 0 .1 0zM534.7 413.25a1.5 1.5 0 1 0 .1 0zM534.95 394.75a1.5 1.5 0 1 0 .1 0zM534.95 407.25a1.5 1.5 0 1 0 .1 0zM534.95 410.75a1.5 1.5 0 1 0 .1 0zM534.95 420.5a1.5 1.5 0 1 0 .1 0zM534.95 426.5a1.5 1.5 0 1 0 .1 0zM535.2 405.5a1.5 1.5 0 1 0 .1 0zM535.2 412.5a1.5 1.5 0 1 0 .1 0zM535.2 418.25a1.5 1.5 0 1 0 .1 0zM535.2 422.75a1.5 1.5 0 1 0 .1 0zM535.45 391.5a1.5 1.5 0 1 0 .1 0zM535.45 396.25a1.5 1.5 0 1 0 .1 0zM535.45 401.75a1.5 1.5 0 1 0 .1 0zM535.45 425.75a1.5 1.5 0 1 0 .1 0zM535.7 390.75a1.5 1.5 0 1 0 .1 0zM535.7 396.5a1.5 1.5 0 1 0 .1 0zM535.7 402.25a1.5 1.5 0 1 0 .1 0zM535.7 422.5a1.5 1.5 0 1 0 .1 0zM535.95 402.75a1.5 1.5 0 1 0 .1 0zM535.95 407.75a1.5 1.5 0 1 0 .1 0zM535.95 408.25a1.5 1.5 0 1 0 .1 0zM535.95 412.25a1.5 1.5 0 1 0 .1 0zM535.95 422.25a1.5 1.5 0 1 0 .1 0zM536.2 398a1.5 1.5 0 1 0 .1 0zM536.2 402.75a1.5 1.5 0 1 0 .1 0zM536.2 409.5a1.5 1.5 0 1 0 .1 0zM536.2 411a1.5 1.5 0 1 0 .1 0zM536.45 387.5a1.5 1.5 0 1 0 .1 0zM536.45 395.5a1.5 1.5 0 1 0 .1 0zM536.45 407.75a1.5 1.5 0 1 0 .1 0zM536.45 421.25a1.5 1.5 0 1 0 .1 0zM536.7 394a1.5 1.5 0 1 0 .1 0zM536.7 407.5a1.5 1.5 0 1 0 .1 0zM536.7 409.25a1.5 1.5 0 1 0 .1 0zM536.7 409.5a1.5 1.5 0 1 0 .1 0zM536.95 402.25a1.5 1.5 0 1 0 .1 0zM536.95 402.5a1.5 1.5 0 1 0 .1 0zM536.95 409a1.5 1.5 0 1 0 .1 0zM536.95 415.75a1.5 1.5 0 1 0 .1 0zM536.95 421a1.5 1.5 0 1 0 .1 0zM537.2 400.25a1.5 1.5 0 1 0 .1 0zM537.2 403.25a1.5 1.5 0 1 0 .1 0zM537.2 411.75a1.5 1.5 0 1 0 .1 0zM537.2 424a1.5 1.5 0 1 0 .1 0zM537.45 392.5a1.5 1.5 0 1 0 .1 0zM537.45 415.75a1.5 1.5 0 1 0 .1 0zM537.45 418.25a1.5 1.5 0 1 0 .1 0zM537.45 419.5a1.5 1.5 0 1 0 .1 0zM537.7 403a1.5 1.5 0 1 0 .1 0zM537.7 406a1.5 1.5 0 1 0 .1 0zM537.7 412.75a1.5 1.5 0 1 0 .1 0zM537.7 428.75a1.5 1.5 0 1 0 .1 0zM537.95 395a1.5 1.5 0 1 0 .1 0zM537.95 397.25a1.5 1.5 0 1 0 .1 0zM537.95 401.75a1.5 1.5 0 1 0 .1 0zM537.95 404.25a1.5 1.5 0 1 0 .1 0zM537.95 412.25a1.5 1.5 0 1 0 .1 0zM538.2 397.75a1.5 1.5 0 1 0 .1 0zM538.2 399.25a1.5 1.5 0 1 0 .1 0zM538.2 416a1.5 1.5 0 1 0 .1 0zM538.2 417a1.5 1.5 0 1 0 .1 0zM538.45 386.75a1.5 1.5 0 1 0 .1 0zM538.45 412.75a1.5 1.5 0 1 0 .1 0zM538.45 414.75a1.5 1.5 0 1 0 .1 0zM538.45 426a1.5 1.5 0 1 0 .1 0zM538.7 386.25a1.5 1.5 0 1 0 .1 0zM538.7 391.5a1.5 1.5 0 1 0 .1 0zM538.7 407.75a1.5 1.5 0 1 0 .1 0zM538.7 410.5a1.5 1.5 0 1 0 .1 0zM538.7 419.75a1.5 1.5 0 1 0 .1 0zM538.95 384.25a1.5 1.5 0 1 0 .1 0zM538.95 387.5a1.5 1.5 0 1 0 .1 0zM538.95 392.5a1.5 1.5 0 1 0 .1 0zM538.95 420.5a1.5 1.5 0 1 0 .1 0zM539.2 401.5a1.5 1.5 0 1 0 .1 0zM539.2 413.75a1.5 1.5 0 1 0 .1 0zM539.2 418.75a1.5 1.5 0 1 0 .1 0zM539.2 425.75a1.5 1.5 0 1 0 .1 0zM539.45 404a1.5 1.5 0 1 0 .1 0zM539.45 405.25a1.5 1.5 0 1 0 .1 0zM539.45 422a1.5 1.5 0 1 0 .1 0zM539.45 427a1.5 1.5 0 1 0 .1 0zM539.7 362.5a1.5 1.5 0 1 0 .1 0zM539.7 413.5a1.5 1.5 0 1 0 .1 0zM539.7 418.75a1.5 1.5 0 1 0 .1 0zM539.7 421.5a1.5 1.5 0 1 0 .1 0zM539.7 424a1.5 1.5 0 1 0 .1 0zM539.7 428a1.5 1.5 0 1 0 .1 0zM539.95 389a1.5 1.5 0 1 0 .1 0zM539.95 408.5a1.5 1.5 0 1 0 .1 0zM539.95 411.25a1.5 1.5 0 1 0 .1 0zM539.95 420.75a1.5 1.5 0 1 0 .1 0zM540.2 399.75a1.5 1.5 0 1 0 .1 0zM540.2 401.75a1.5 1.5 0 1 0 .1 0zM540.2 404.5a1.5 1.5 0 1 0 .1 0zM540.2 417a1.5 1.5 0 1 0 .1 0zM540.45 402.75a1.5 1.5 0 1 0 .1 0zM540.45 403.5a1.5 1.5 0 1 0 .1 0zM540.45 414a1.5 1.5 0 1 0 .1 0zM540.45 420.25a1.5 1.5 0 1 0 .1 0zM540.7 389.75a1.5 1.5 0 1 0 .1 0zM540.7 394a1.5 1.5 0 1 0 .1 0zM540.7 398.75a1.5 1.5 0 1 0 .1 0zM540.7 399.75a1.5 1.5 0 1 0 .1 0zM540.7 402a1.5 1.5 0 1 0 .1 0zM540.95 413a1.5 1.5 0 1 0 .1 0zM540.95 420.25a1.5 1.5 0 1 0 .1 0zM540.95 425.75a1.5 1.5 0 1 0 .1 0zM540.95 430a1.5 1.5 0 1 0 .1 0zM541.2 406.25a1.5 1.5 0 1 0 .1 0zM541.2 412.75a1.5 1.5 0 1 0 .1 0zM541.2 415.25a1.5 1.5 0 1 0 .1 0zM541.2 422.5a1.5 1.5 0 1 0 .1 0zM541.45 402.75a1.5 1.5 0 1 0 .1 0zM541.45 404.75a1.5 1.5 0 1 0 .1 0zM541.45 410.5a1.5 1.5 0 1 0 .1 0zM541.45 421a1.5 1.5 0 1 0 .1 0zM541.7 396.5a1.5 1.5 0 1 0 .1 0zM541.7 411a1.5 1.5 0 1 0 .1 0zM541.7 415.25a1.5 1.5 0 1 0 .1 0zM541.7 420.5a1.5 1.5 0 1 0 .1 0zM541.7 422.75a1.5 1.5 0 1 0 .1 0zM541.7 435a1.5 1.5 0 1 0 .1 0zM541.95 398.75a1.5 1.5 0 1 0 .1 0zM541.95 399.5a1.5 1.5 0 1 0 .1 0zM541.95 421.25a1.5 1.5 0 1 0 .1 0zM541.95 424.5a1.5 1.5 0 1 0 .1 0zM542.2 400.75a1.5 1.5 0 1 0 .1 0zM542.2 412.5a1.5 1.5 0 1 0 .1 0zM542.2 419.75a1.5 1.5 0 1 0 .1 0zM542.2 421.5a1.5 1.5 0 1 0 .1 0zM542.45 397a1.5 1.5 0 1 0 .1 0zM542.45 404.25a1.5 1.5 0 1 0 .1 0zM542.45 420.75a1.5 1.5 0 1 0 .1 0zM542.45 430.75a1.5 1.5 0 1 0 .1 0zM542.7 405a1.5 1.5 0 1 0 .1 0zM542.7 408.25a1.5 1.5 0 1 0 .1 0zM542.7 418.5a1.5 1.5 0 1 0 .1 0zM542.7 420.25a1.5 1.5 0 1 0 .1 0zM542.7 428.75a1.5 1.5 0 1 0 .1 0zM542.95 401.25a1.5 1.5 0 1 0 .1 0zM542.95 415.75a1.5 1.5 0 1 0 .1 0zM542.95 426.75a1.5 1.5 0 1 0 .1 0zM542.95 427.75a1.5 1.5 0 1 0 .1 0zM543.2 398.25a1.5 1.5 0 1 0 .1 0zM543.2 406a1.5 1.5 0 1 0 .1 0zM543.2 406.5a1.5 1.5 0 1 0 .1 0zM543.2 410.25a1.5 1.5 0 1 0 .1 0zM543.45 400.25a1.5 1.5 0 1 0 .1 0zM543.45 415.75a1.5 1.5 0 1 0 .1 0zM543.45 428a1.5 1.5 0 1 0 .1 0zM543.45 436a1.5 1.5 0 1 0 .1 0zM543.7 402.75a1.5 1.5 0 1 0 .1 0zM543.7 405.75a1.5 1.5 0 1 0 .1 0zM543.7 409a1.5 1.5 0 1 0 .1 0zM543.7 412a1.5 1.5 0 1 0 .1 0zM543.7 429a1.5 1.5 0 1 0 .1 0zM543.95 412a1.5 1.5 0 1 0 .1 0zM543.95 416.75a1.5 1.5 0 1 0 .1 0zM543.95 418.5a1.5 1.5 0 1 0 .1 0zM543.95 420a1.5 1.5 0 1 0 .1 0zM544.2 400.25a1.5 1.5 0 1 0 .1 0zM544.2 414.25a1.5 1.5 0 1 0 .1 0zM544.2 416.25a1.5 1.5 0 1 0 .1 0zM544.2 419a1.5 1.5 0 1 0 .1 0zM544.45 392a1.5 1.5 0 1 0 .1 0zM544.45 400.75a1.5 1.5 0 1 0 .1 0zM544.45 406.25a1.5 1.5 0 1 0 .1 0zM544.45 412a1.5 1.5 0 1 0 .1 0zM544.7 420.5a1.5 1.5 0 1 0 .1 0zM544.7 424.25a1.5 1.5 0 1 0 .1 0zM544.7 427.75a1.5 1.5 0 1 0 .1 0zM544.7 431.5a1.5 1.5 0 1 0 .1 0zM544.7 433.5a1.5 1.5 0 1 0 .1 0zM544.95 416.75a1.5 1.5 0 1 0 .1 0zM544.95 422.25a1.5 1.5 0 1 0 .1 0zM544.95 432.75a1.5 1.5 0 1 0 .1 0zM544.95 435.25a1.5 1.5 0 1 0 .1 0zM545.2 395.75a1.5 1.5 0 1 0 .1 0zM545.2 414a1.5 1.5 0 1 0 .1 0zM545.2 418.75a1.5 1.5 0 1 0 .1 0zM545.2 425.5a1.5 1.5 0 1 0 .1 0zM545.45 391a1.5 1.5 0 1 0 .1 0zM545.45 413.25a1.5 1.5 0 1 0 .1 0zM545.45 417.5a1.5 1.5 0 1 0 .1 0zM545.45 420.75a1.5 1.5 0 1 0 .1 0zM545.7 393.75a1.5 1.5 0 1 0 .1 0zM545.7 398.5a1.5 1.5 0 1 0 .1 0zM545.7 412.25a1.5 1.5 0 1 0 .1 0zM545.7 414.5a1.5 1.5 0 1 0 .1 0zM545.7 421.25a1.5 1.5 0 1 0 .1 0zM545.95 394.75a1.5 1.5 0 1 0 .1 0zM545.95 399a1.5 1.5 0 1 0 .1 0zM545.95 427.75a1.5 1.5 0 1 0 .1 0zM545.95 431.25a1.5 1.5 0 1 0 .1 0zM546.2 400.5a1.5 1.5 0 1 0 .1 0zM546.2 405a1.5 1.5 0 1 0 .1 0zM546.2 411.25a1.5 1.5 0 1 0 .1 0zM546.2 413.25a1.5 1.5 0 1 0 .1 0zM546.45 396.5a1.5 1.5 0 1 0 .1 0zM546.45 398.25a1.5 1.5 0 1 0 .1 0zM546.45 403.5a1.5 1.5 0 1 0 .1 0zM546.45 417a1.5 1.5 0 1 0 .1 0zM546.7 400a1.5 1.5 0 1 0 .1 0zM546.7 405.75a1.5 1.5 0 1 0 .1 0zM546.7 406.75a1.5 1.5 0 1 0 .1 0zM546.7 407.25a1.5 1.5 0 1 0 .1 0zM546.7 417.5a1.5 1.5 0 1 0 .1 0zM546.95 389a1.5 1.5 0 1 0 .1 0zM546.95 394.25a1.5 1.5 0 1 0 .1 0zM546.95 398.75a1.5 1.5 0 1 0 .1 0zM546.95 414a1.5 1.5 0 1 0 .1 0zM547.2 403.75a1.5 1.5 0 1 0 .1 0zM547.2 412a1.5 1.5 0 1 0 .1 0zM547.2 424.5a1.5 1.5 0 1 0 .1 0zM547.2 425.25a1.5 1.5 0 1 0 .1 0zM547.45 415.25a1.5 1.5 0 1 0 .1 0zM547.45 415.5a1.5 1.5 0 1 0 .1 0zM547.45 418.25a1.5 1.5 0 1 0 .1 0zM547.45 421.5a1.5 1.5 0 1 0 .1 0zM547.7 384.5a1.5 1.5 0 1 0 .1 0zM547.7 393a1.5 1.5 0 1 0 .1 0zM547.7 399.25a1.5 1.5 0 1 0 .1 0zM547.7 401.75a1.5 1.5 0 1 0 .1 0zM547.95 397a1.5 1.5 0 1 0 .1 0zM547.95 402.25a1.5 1.5 0 1 0 .1 0zM547.95 407a1.5 1.5 0 1 0 .1 0zM547.95 408.75a1.5 1.5 0 1 0 .1 0zM548.2 390.5a1.5 1.5 0 1 0 .1 0zM548.2 403a1.5 1.5 0 1 0 .1 0zM548.2 421.25a1.5 1.5 0 1 0 .1 0zM548.2 424.25a1.5 1.5 0 1 0 .1 0zM548.45 383.5a1.5 1.5 0 1 0 .1 0zM548.45 391a1.5 1.5 0 1 0 .1 0zM548.45 413a1.5 1.5 0 1 0 .1 0zM548.45 415a1.5 1.5 0 1 0 .1 0zM548.7 384a1.5 1.5 0 1 0 .1 0zM548.7 398.75a1.5 1.5 0 1 0 .1 0zM548.7 409a1.5 1.5 0 1 0 .1 0zM548.7 421a1.5 1.5 0 1 0 .1 0zM548.7 422.75a1.5 1.5 0 1 0 .1 0zM548.95 417.25a1.5 1.5 0 1 0 .1 0zM548.95 422.75a1.5 1.5 0 1 0 .1 0zM548.95 426.5a1.5 1.5 0 1 0 .1 0zM548.95 428a1.5 1.5 0 1 0 .1 0zM549.2 401.75a1.5 1.5 0 1 0 .1 0zM549.2 410a1.5 1.5 0 1 0 .1 0zM549.2 414.5a1.5 1.5 0 1 0 .1 0zM549.2 416.75a1.5 1.5 0 1 0 .1 0zM549.45 399.75a1.5 1.5 0 1 0 .1 0zM549.45 410.25a1.5 1.5 0 1 0 .1 0zM549.45 412.25a1.5 1.5 0 1 0 .1 0zM549.45 419.25a1.5 1.5 0 1 0 .1 0zM549.7 390a1.5 1.5 0 1 0 .1 0zM549.7 396.25a1.5 1.5 0 1 0 .1 0zM549.7 403.75a1.5 1.5 0 1 0 .1 0zM549.7 406.5a1.5 1.5 0 1 0 .1 0zM549.7 420a1.5 1.5 0 1 0 .1 0zM549.7 446a1.5 1.5 0 1 0 .1 0zM549.95 392.75a1.5 1.5 0 1 0 .1 0zM549.95 414.75a1.5 1.5 0 1 0 .1 0zM549.95 415.5a1.5 1.5 0 1 0 .1 0zM549.95 427.25a1.5 1.5 0 1 0 .1 0zM550.2 411.75a1.5 1.5 0 1 0 .1 0zM550.2 414.75a1.5 1.5 0 1 0 .1 0zM550.2 415.5a1.5 1.5 0 1 0 .1 0zM550.2 424.25a1.5 1.5 0 1 0 .1 0zM550.2 433.5a1.5 1.5 0 1 0 .1 0zM550.45 391.75a1.5 1.5 0 1 0 .1 0zM550.45 392.25a1.5 1.5 0 1 0 .1 0zM550.45 399.25a1.5 1.5 0 1 0 .1 0zM550.45 414.25a1.5 1.5 0 1 0 .1 0zM550.7 392.25a1.5 1.5 0 1 0 .1 0zM550.7 395.25a1.5 1.5 0 1 0 .1 0zM550.7 400a1.5 1.5 0 1 0 .1 0zM550.7 411.25a1.5 1.5 0 1 0 .1 0zM550.7 420.25a1.5 1.5 0 1 0 .1 0zM550.95 401.75a1.5 1.5 0 1 0 .1 0zM550.95 407.5a1.5 1.5 0 1 0 .1 0zM550.95 412.75a1.5 1.5 0 1 0 .1 0zM550.95 423.25a1.5 1.5 0 1 0 .1 0zM551.2 391a1.5 1.5 0 1 0 .1 0zM551.2 405.5a1.5 1.5 0 1 0 .1 0zM551.2 406.5a1.5 1.5 0 1 0 .1 0zM551.2 426.25a1.5 1.5 0 1 0 .1 0zM551.45 391.25a1.5 1.5 0 1 0 .1 0zM551.45 405.25a1.5 1.5 0 1 0 .1 0zM551.45 407.25a1.5 1.5 0 1 0 .1 0zM551.45 421a1.5 1.5 0 1 0 .1 0zM551.7 402.75a1.5 1.5 0 1 0 .1 0zM551.7 408.5a1.5 1.5 0 1 0 .1 0zM551.7 418a1.5 1.5 0 1 0 .1 0zM551.7 418.75a1.5 1.5 0 1 0 .1 0zM551.7 431.75a1.5 1.5 0 1 0 .1 0zM551.95 388.25a1.5 1.5 0 1 0 .1 0zM551.95 391a1.5 1.5 0 1 0 .1 0zM551.95 407.75a1.5 1.5 0 1 0 .1 0zM551.95 415.5a1.5 1.5 0 1 0 .1 0zM552.2 408.5a1.5 1.5 0 1 0 .1 0zM552.2 412a1.5 1.5 0 1 0 .1 0zM552.2 419.75a1.5 1.5 0 1 0 .1 0zM552.2 420.75a1.5 1.5 0 1 0 .1 0zM552.45 386.25a1.5 1.5 0 1 0 .1 0zM552.45 399a1.5 1.5 0 1 0 .1 0zM552.45 404.25a1.5 1.5 0 1 0 .1 0zM552.45 427.25a1.5 1.5 0 1 0 .1 0zM552.7 395.75a1.5 1.5 0 1 0 .1 0zM552.7 396.25a1.5 1.5 0 1 0 .1 0zM552.7 398.25a1.5 1.5 0 1 0 .1 0zM552.7 414.75a1.5 1.5 0 1 0 .1 0zM552.7 428a1.5 1.5 0 1 0 .1 0zM552.95 396.25a1.5 1.5 0 1 0 .1 0zM552.95 401a1.5 1.5 0 1 0 .1 0zM552.95 411.75a1.5 1.5 0 1 0 .1 0zM552.95 416.5a1.5 1.5 0 1 0 .1 0zM553.2 400.75a1.5 1.5 0 1 0 .1 0zM553.2 403.5a1.5 1.5 0 1 0 .1 0zM553.2 405.75a1.5 1.5 0 1 0 .1 0zM553.2 408a1.5 1.5 0 1 0 .1 0zM553.45 395a1.5 1.5 0 1 0 .1 0zM553.45 402.75a1.5 1.5 0 1 0 .1 0zM553.45 410a1.5 1.5 0 1 0 .1 0zM553.45 411.5a1.5 1.5 0 1 0 .1 0zM553.7 400.5a1.5 1.5 0 1 0 .1 0zM553.7 402.25a1.5 1.5 0 1 0 .1 0zM553.7 406.25a1.5 1.5 0 1 0 .1 0zM553.7 407.75a1.5 1.5 0 1 0 .1 0zM553.7 424.25a1.5 1.5 0 1 0 .1 0zM553.7 437.25a1.5 1.5 0 1 0 .1 0zM553.95 400a1.5 1.5 0 1 0 .1 0zM553.95 412.5a1.5 1.5 0 1 0 .1 0zM553.95 421.25a1.5 1.5 0 1 0 .1 0zM553.95 422.5a1.5 1.5 0 1 0 .1 0zM554.2 387.5a1.5 1.5 0 1 0 .1 0zM554.2 406.25a1.5 1.5 0 1 0 .1 0zM554.2 408.5a1.5 1.5 0 1 0 .1 0zM554.2 411.5a1.5 1.5 0 1 0 .1 0zM554.45 391.5a1.5 1.5 0 1 0 .1 0zM554.45 396a1.5 1.5 0 1 0 .1 0zM554.45 400.5a1.5 1.5 0 1 0 .1 0zM554.45 408.25a1.5 1.5 0 1 0 .1 0zM554.7 406a1.5 1.5 0 1 0 .1 0zM554.7 409a1.5 1.5 0 1 0 .1 0zM554.7 409.75a1.5 1.5 0 1 0 .1 0zM554.7 413.25a1.5 1.5 0 1 0 .1 0zM554.7 417a1.5 1.5 0 1 0 .1 0zM554.95 401.25a1.5 1.5 0 1 0 .1 0zM554.95 405.25a1.5 1.5 0 1 0 .1 0zM554.95 414a1.5 1.5 0 1 0 .1 0zM554.95 433.25a1.5 1.5 0 1 0 .1 0zM555.2 409a1.5 1.5 0 1 0 .1 0zM555.2 413a1.5 1.5 0 1 0 .1 0zM555.2 427.25a1.5 1.5 0 1 0 .1 0zM555.2 429.25a1.5 1.5 0 1 0 .1 0zM555.45 395.5a1.5 1.5 0 1 0 .1 0zM555.45 396.5a1.5 1.5 0 1 0 .1 0zM555.45 402.75a1.5 1.5 0 1 0 .1 0zM555.45 404.25a1.5 1.5 0 1 0 .1 0zM555.7 394.75a1.5 1.5 0 1 0 .1 0zM555.7 397.75a1.5 1.5 0 1 0 .1 0zM555.7 399a1.5 1.5 0 1 0 .1 0zM555.7 413.25a1.5 1.5 0 1 0 .1 0zM555.7 421.5a1.5 1.5 0 1 0 .1 0zM555.95 402.5a1.5 1.5 0 1 0 .1 0zM555.95 406.5a1.5 1.5 0 1 0 .1 0zM555.95 416.5a1.5 1.5 0 1 0 .1 0zM555.95 430a1.5 1.5 0 1 0 .1 0zM556.2 403a1.5 1.5 0 1 0 .1 0zM556.2 417.75a1.5 1.5 0 1 0 .1 0zM556.2 427a1.5 1.5 0 1 0 .1 0zM556.2 433.5a1.5 1.5 0 1 0 .1 0zM556.45 395.25a1.5 1.5 0 1 0 .1 0zM556.45 396.5a1.5 1.5 0 1 0 .1 0zM556.45 406a1.5 1.5 0 1 0 .1 0zM556.45 422.5a1.5 1.5 0 1 0 .1 0zM556.7 396.25a1.5 1.5 0 1 0 .1 0zM556.7 402.5a1.5 1.5 0 1 0 .1 0zM556.7 414.75a1.5 1.5 0 1 0 .1 0zM556.7 427.5a1.5 1.5 0 1 0 .1 0zM556.7 431a1.5 1.5 0 1 0 .1 0zM556.95 400.75a1.5 1.5 0 1 0 .1 0zM556.95 415.25a1.5 1.5 0 1 0 .1 0zM556.95 423.5a1.5 1.5 0 1 0 .1 0zM556.95 430a1.5 1.5 0 1 0 .1 0zM557.2 398.75a1.5 1.5 0 1 0 .1 0zM557.2 403a1.5 1.5 0 1 0 .1 0zM557.2 407a1.5 1.5 0 1 0 .1 0zM557.2 410a1.5 1.5 0 1 0 .1 0zM557.45 358.5a1.5 1.5 0 1 0 .1 0zM557.45 387.5a1.5 1.5 0 1 0 .1 0zM557.45 394.5a1.5 1.5 0 1 0 .1 0zM557.45 417.75a1.5 1.5 0 1 0 .1 0zM557.45 426.25a1.5 1.5 0 1 0 .1 0zM557.7 397.75a1.5 1.5 0 1 0 .1 0zM557.7 413.5a1.5 1.5 0 1 0 .1 0zM557.7 415.75a1.5 1.5 0 1 0 .1 0zM557.7 419a1.5 1.5 0 1 0 .1 0zM557.7 422.5a1.5 1.5 0 1 0 .1 0zM557.95 400.75a1.5 1.5 0 1 0 .1 0zM557.95 403.25a1.5 1.5 0 1 0 .1 0zM557.95 418a1.5 1.5 0 1 0 .1 0zM557.95 424a1.5 1.5 0 1 0 .1 0zM558.2 419a1.5 1.5 0 1 0 .1 0zM558.2 425a1.5 1.5 0 1 0 .1 0zM558.2 426.25a1.5 1.5 0 1 0 .1 0zM558.2 429.5a1.5 1.5 0 1 0 .1 0zM558.45 387.25a1.5 1.5 0 1 0 .1 0zM558.45 402.5a1.5 1.5 0 1 0 .1 0zM558.45 411.25a1.5 1.5 0 1 0 .1 0zM558.45 415.25a1.5 1.5 0 1 0 .1 0zM558.7 387.75a1.5 1.5 0 1 0 .1 0zM558.7 399.5a1.5 1.5 0 1 0 .1 0zM558.7 405.5a1.5 1.5 0 1 0 .1 0zM558.7 414.5a1.5 1.5 0 1 0 .1 0zM558.7 422.5a1.5 1.5 0 1 0 .1 0zM558.95 407a1.5 1.5 0 1 0 .1 0zM558.95 412.75a1.5 1.5 0 1 0 .1 0zM558.95 414a1.5 1.5 0 1 0 .1 0zM558.95 421.75a1.5 1.5 0 1 0 .1 0zM559.2 398.25a1.5 1.5 0 1 0 .1 0zM559.2 410.5a1.5 1.5 0 1 0 .1 0zM559.2 415.25a1.5 1.5 0 1 0 .1 0zM559.2 416a1.5 1.5 0 1 0 .1 0zM559.45 399.25a1.5 1.5 0 1 0 .1 0zM559.45 411a1.5 1.5 0 1 0 .1 0zM559.45 413.5a1.5 1.5 0 1 0 .1 0zM559.7 398.75a1.5 1.5 0 1 0 .1 0zM559.7 407.25a1.5 1.5 0 1 0 .1 0zM559.7 414a1.5 1.5 0 1 0 .1 0zM559.7 430a1.5 1.5 0 1 0 .1 0zM559.7 430.25a1.5 1.5 0 1 0 .1 0zM559.95 416.25a1.5 1.5 0 1 0 .1 0zM559.95 416.5a1.5 1.5 0 1 0 .1 0zM559.95 417.25a1.5 1.5 0 1 0 .1 0zM559.95 422.5a1.5 1.5 0 1 0 .1 0zM560.2 395.75a1.5 1.5 0 1 0 .1 0zM560.2 406.5a1.5 1.5 0 1 0 .1 0zM560.2 414.75a1.5 1.5 0 1 0 .1 0zM560.2 416.75a1.5 1.5 0 1 0 .1 0zM560.45 407.25a1.5 1.5 0 1 0 .1 0zM560.45 414.75a1.5 1.5 0 1 0 .1 0zM560.45 421.75a1.5 1.5 0 1 0 .1 0zM560.45 427a1.5 1.5 0 1 0 .1 0zM560.7 400.75a1.5 1.5 0 1 0 .1 0zM560.7 401.75a1.5 1.5 0 1 0 .1 0zM560.7 403a1.5 1.5 0 1 0 .1 0zM560.7 410.5a1.5 1.5 0 1 0 .1 0zM560.7 413.75a1.5 1.5 0 1 0 .1 0zM560.95 395.25a1.5 1.5 0 1 0 .1 0zM560.95 400.25a1.5 1.5 0 1 0 .1 0zM560.95 402.75a1.5 1.5 0 1 0 .1 0zM560.95 421.5a1.5 1.5 0 1 0 .1 0zM561.2 388.5a1.5 1.5 0 1 0 .1 0zM561.2 407.75a1.5 1.5 0 1 0 .1 0zM561.2 415a1.5 1.5 0 1 0 .1 0zM561.2 428a1.5 1.5 0 1 0 .1 0zM561.45 391.25a1.5 1.5 0 1 0 .1 0zM561.45 406.5a1.5 1.5 0 1 0 .1 0zM561.45 418.5a1.5 1.5 0 1 0 .1 0zM561.45 419.5a1.5 1.5 0 1 0 .1 0zM561.7 391.5a1.5 1.5 0 1 0 .1 0zM561.7 392a1.5 1.5 0 1 0 .1 0zM561.7 400a1.5 1.5 0 1 0 .1 0zM561.7 418a1.5 1.5 0 1 0 .1 0zM561.7 429.5a1.5 1.5 0 1 0 .1 0zM561.95 405.75a1.5 1.5 0 1 0 .1 0zM561.95 408.25a1.5 1.5 0 1 0 .1 0zM561.95 409.5a1.5 1.5 0 1 0 .1 0zM561.95 412.25a1.5 1.5 0 1 0 .1 0zM562.2 401a1.5 1.5 0 1 0 .1 0zM562.2 410a1.5 1.5 0 1 0 .1 0zM562.2 412.5a1.5 1.5 0 1 0 .1 0zM562.2 423.25a1.5 1.5 0 1 0 .1 0zM562.45 387.25a1.5 1.5 0 1 0 .1 0zM562.45 402.5a1.5 1.5 0 1 0 .1 0zM562.45 429.5a1.5 1.5 0 1 0 .1 0zM562.45 431a1.5 1.5 0 1 0 .1 0zM562.7 384.75a1.5 1.5 0 1 0 .1 0zM562.7 391a1.5 1.5 0 1 0 .1 0zM562.7 409.25a1.5 1.5 0 1 0 .1 0zM562.7 410a1.5 1.5 0 1 0 .1 0zM562.7 419.75a1.5 1.5 0 1 0 .1 0zM562.95 388.5a1.5 1.5 0 1 0 .1 0zM562.95 404a1.5 1.5 0 1 0 .1 0zM562.95 414.25a1.5 1.5 0 1 0 .1 0zM562.95 419.25a1.5 1.5 0 1 0 .1 0zM563.2 393.25a1.5 1.5 0 1 0 .1 0zM563.2 405.5a1.5 1.5 0 1 0 .1 0zM563.2 407a1.5 1.5 0 1 0 .1 0zM563.2 408.25a1.5 1.5 0 1 0 .1 0zM563.45 399a1.5 1.5 0 1 0 .1 0zM563.45 402.25a1.5 1.5 0 1 0 .1 0zM563.45 417a1.5 1.5 0 1 0 .1 0zM563.45 418a1.5 1.5 0 1 0 .1 0zM563.7 385a1.5 1.5 0 1 0 .1 0zM563.7 393.75a1.5 1.5 0 1 0 .1 0zM563.7 397a1.5 1.5 0 1 0 .1 0zM563.7 407.75a1.5 1.5 0 1 0 .1 0zM563.7 411a1.5 1.5 0 1 0 .1 0zM563.95 383.75a1.5 1.5 0 1 0 .1 0zM563.95 395.25a1.5 1.5 0 1 0 .1 0zM563.95 403.25a1.5 1.5 0 1 0 .1 0zM563.95 416.5a1.5 1.5 0 1 0 .1 0zM564.2 393a1.5 1.5 0 1 0 .1 0zM564.2 402.25a1.5 1.5 0 1 0 .1 0zM564.2 405.5a1.5 1.5 0 1 0 .1 0zM564.2 431.25a1.5 1.5 0 1 0 .1 0zM564.2 433.5a1.5 1.5 0 1 0 .1 0zM564.45 385.5a1.5 1.5 0 1 0 .1 0zM564.45 395a1.5 1.5 0 1 0 .1 0zM564.45 411a1.5 1.5 0 1 0 .1 0zM564.45 417.75a1.5 1.5 0 1 0 .1 0zM564.7 377a1.5 1.5 0 1 0 .1 0zM564.7 396.25a1.5 1.5 0 1 0 .1 0zM564.7 409a1.5 1.5 0 1 0 .1 0zM564.7 413.5a1.5 1.5 0 1 0 .1 0zM564.7 423.75a1.5 1.5 0 1 0 .1 0zM564.95 370.5a1.5 1.5 0 1 0 .1 0zM564.95 391.5a1.5 1.5 0 1 0 .1 0zM564.95 402.5a1.5 1.5 0 1 0 .1 0zM564.95 402.75a1.5 1.5 0 1 0 .1 0zM565.2 383.75a1.5 1.5 0 1 0 .1 0zM565.2 386.5a1.5 1.5 0 1 0 .1 0zM565.2 400a1.5 1.5 0 1 0 .1 0zM565.2 409.5a1.5 1.5 0 1 0 .1 0zM565.45 355.75a1.5 1.5 0 1 0 .1 0zM565.45 372.75a1.5 1.5 0 1 0 .1 0zM565.45 374.75a1.5 1.5 0 1 0 .1 0zM565.45 407.75a1.5 1.5 0 1 0 .1 0zM565.45 412a1.5 1.5 0 1 0 .1 0zM565.45 414.75a1.5 1.5 0 1 0 .1 0zM565.7 373a1.5 1.5 0 1 0 .1 0zM565.7 382.75a1.5 1.5 0 1 0 .1 0zM565.7 405.25a1.5 1.5 0 1 0 .1 0zM565.7 421.5a1.5 1.5 0 1 0 .1 0zM565.95 384.25a1.5 1.5 0 1 0 .1 0zM565.95 398.75a1.5 1.5 0 1 0 .1 0zM565.95 416a1.5 1.5 0 1 0 .1 0zM565.95 425.75a1.5 1.5 0 1 0 .1 0zM566.2 382.5a1.5 1.5 0 1 0 .1 0zM566.2 384a1.5 1.5 0 1 0 .1 0zM566.2 403a1.5 1.5 0 1 0 .1 0zM566.2 405a1.5 1.5 0 1 0 .1 0zM566.45 374.25a1.5 1.5 0 1 0 .1 0zM566.45 387.25a1.5 1.5 0 1 0 .1 0zM566.45 397a1.5 1.5 0 1 0 .1 0zM566.45 398a1.5 1.5 0 1 0 .1 0zM566.45 417a1.5 1.5 0 1 0 .1 0zM566.7 396.75a1.5 1.5 0 1 0 .1 0zM566.7 399.25a1.5 1.5 0 1 0 .1 0zM566.7 405a1.5 1.5 0 1 0 .1 0zM566.7 410.5a1.5 1.5 0 1 0 .1 0zM566.95 364a1.5 1.5 0 1 0 .1 0zM566.95 384.75a1.5 1.5 0 1 0 .1 0zM566.95 385a1.5 1.5 0 1 0 .1 0zM566.95 403a1.5 1.5 0 1 0 .1 0zM567.2 367.5a1.5 1.5 0 1 0 .1 0zM567.2 374.75a1.5 1.5 0 1 0 .1 0zM567.2 402.75a1.5 1.5 0 1 0 .1 0zM567.2 409.5a1.5 1.5 0 1 0 .1 0zM567.45 366.25a1.5 1.5 0 1 0 .1 0zM567.45 373.25a1.5 1.5 0 1 0 .1 0zM567.45 379.75a1.5 1.5 0 1 0 .1 0zM567.45 382a1.5 1.5 0 1 0 .1 0zM567.45 414.5a1.5 1.5 0 1 0 .1 0zM567.7 384.25a1.5 1.5 0 1 0 .1 0zM567.7 388.25a1.5 1.5 0 1 0 .1 0zM567.7 400a1.5 1.5 0 1 0 .1 0zM567.7 418.5a1.5 1.5 0 1 0 .1 0zM567.95 386.75a1.5 1.5 0 1 0 .1 0zM567.95 395.5a1.5 1.5 0 1 0 .1 0zM567.95 396.5a1.5 1.5 0 1 0 .1 0zM567.95 425.5a1.5 1.5 0 1 0 .1 0zM568.2 390.75a1.5 1.5 0 1 0 .1 0zM568.2 395.5a1.5 1.5 0 1 0 .1 0zM568.2 395.75a1.5 1.5 0 1 0 .1 0zM568.2 396.75a1.5 1.5 0 1 0 .1 0zM568.45 372.5a1.5 1.5 0 1 0 .1 0zM568.45 374.75a1.5 1.5 0 1 0 .1 0zM568.45 390.25a1.5 1.5 0 1 0 .1 0zM568.45 399.5a1.5 1.5 0 1 0 .1 0zM568.45 408.75a1.5 1.5 0 1 0 .1 0zM568.7 362a1.5 1.5 0 1 0 .1 0zM568.7 375.5a1.5 1.5 0 1 0 .1 0zM568.7 391.25a1.5 1.5 0 1 0 .1 0zM568.7 393.25a1.5 1.5 0 1 0 .1 0zM568.95 383a1.5 1.5 0 1 0 .1 0zM568.95 389.25a1.5 1.5 0 1 0 .1 0zM568.95 395a1.5 1.5 0 1 0 .1 0zM568.95 413a1.5 1.5 0 1 0 .1 0zM569.2 367a1.5 1.5 0 1 0 .1 0zM569.2 372.75a1.5 1.5 0 1 0 .1 0zM569.2 390a1.5 1.5 0 1 0 .1 0zM569.2 418a1.5 1.5 0 1 0 .1 0zM569.45 391.5a1.5 1.5 0 1 0 .1 0zM569.45 398.25a1.5 1.5 0 1 0 .1 0zM569.45 409.75a1.5 1.5 0 1 0 .1 0zM569.45 411.25a1.5 1.5 0 1 0 .1 0zM569.45 422.75a1.5 1.5 0 1 0 .1 0zM569.7 386.25a1.5 1.5 0 1 0 .1 0zM569.7 394.5a1.5 1.5 0 1 0 .1 0zM569.7 407a1.5 1.5 0 1 0 .1 0zM569.7 412.75a1.5 1.5 0 1 0 .1 0zM569.95 370.75a1.5 1.5 0 1 0 .1 0zM569.95 379.75a1.5 1.5 0 1 0 .1 0zM569.95 382.75a1.5 1.5 0 1 0 .1 0zM569.95 411.5a1.5 1.5 0 1 0 .1 0zM570.2 392.75a1.5 1.5 0 1 0 .1 0zM570.2 398.75a1.5 1.5 0 1 0 .1 0zM570.2 415.25a1.5 1.5 0 1 0 .1 0zM570.45 376.25a1.5 1.5 0 1 0 .1 0zM570.45 385a1.5 1.5 0 1 0 .1 0zM570.45 389.75a1.5 1.5 0 1 0 .1 0zM570.45 414a1.5 1.5 0 1 0 .1 0zM570.45 420a1.5 1.5 0 1 0 .1 0zM570.7 388.75a1.5 1.5 0 1 0 .1 0zM570.7 398.5a1.5 1.5 0 1 0 .1 0zM570.7 406.5a1.5 1.5 0 1 0 .1 0zM570.7 433.5a1.5 1.5 0 1 0 .1 0zM570.95 385a1.5 1.5 0 1 0 .1 0zM570.95 387.75a1.5 1.5 0 1 0 .1 0zM570.95 390.75a1.5 1.5 0 1 0 .1 0zM570.95 414a1.5 1.5 0 1 0 .1 0zM571.2 382.75a1.5 1.5 0 1 0 .1 0zM571.2 401.25a1.5 1.5 0 1 0 .1 0zM571.2 411.25a1.5 1.5 0 1 0 .1 0zM571.2 412.75a1.5 1.5 0 1 0 .1 0zM571.45 386.5a1.5 1.5 0 1 0 .1 0zM571.45 388a1.5 1.5 0 1 0 .1 0zM571.45 395a1.5 1.5 0 1 0 .1 0zM571.45 409.75a1.5 1.5 0 1 0 .1 0zM571.45 411.5a1.5 1.5 0 1 0 .1 0zM571.7 378.25a1.5 1.5 0 1 0 .1 0zM571.7 382.5a1.5 1.5 0 1 0 .1 0zM571.7 405.5a1.5 1.5 0 1 0 .1 0zM571.7 413.5a1.5 1.5 0 1 0 .1 0zM571.95 400.25a1.5 1.5 0 1 0 .1 0zM571.95 403a1.5 1.5 0 1 0 .1 0zM571.95 403.5a1.5 1.5 0 1 0 .1 0zM571.95 423.75a1.5 1.5 0 1 0 .1 0zM572.2 377.5a1.5 1.5 0 1 0 .1 0zM572.2 381.75a1.5 1.5 0 1 0 .1 0zM572.2 405.5a1.5 1.5 0 1 0 .1 0zM572.2 425.5a1.5 1.5 0 1 0 .1 0zM572.45 382.5a1.5 1.5 0 1 0 .1 0zM572.45 394.5a1.5 1.5 0 1 0 .1 0zM572.45 402.5a1.5 1.5 0 1 0 .1 0zM572.45 405.75a1.5 1.5 0 1 0 .1 0zM572.45 425a1.5 1.5 0 1 0 .1 0zM572.7 390.75a1.5 1.5 0 1 0 .1 0zM572.7 392.75a1.5 1.5 0 1 0 .1 0zM572.7 399.25a1.5 1.5 0 1 0 .1 0zM572.7 426.75a1.5 1.5 0 1 0 .1 0zM572.95 388.5a1.5 1.5 0 1 0 .1 0zM572.95 394a1.5 1.5 0 1 0 .1 0zM572.95 396a1.5 1.5 0 1 0 .1 0zM572.95 410a1.5 1.5 0 1 0 .1 0zM573.2 381a1.5 1.5 0 1 0 .1 0zM573.2 385a1.5 1.5 0 1 0 .1 0zM573.2 391.25a1.5 1.5 0 1 0 .1 0zM573.45 380.25a1.5 1.5 0 1 0 .1 0zM573.45 387.75a1.5 1.5 0 1 0 .1 0zM573.45 400.75a1.5 1.5 0 1 0 .1 0zM573.45 405.25a1.5 1.5 0 1 0 .1 0zM573.45 416a1.5 1.5 0 1 0 .1 0zM573.7 410.5a1.5 1.5 0 1 0 .1 0zM573.7 415.75a1.5 1.5 0 1 0 .1 0zM573.7 416.25a1.5 1.5 0 1 0 .1 0zM573.7 422.5a1.5 1.5 0 1 0 .1 0zM573.95 381.75a1.5 1.5 0 1 0 .1 0zM573.95 395a1.5 1.5 0 1 0 .1 0zM573.95 397.25a1.5 1.5 0 1 0 .1 0zM573.95 409.25a1.5 1.5 0 1 0 .1 0zM574.2 410.25a1.5 1.5 0 1 0 .1 0zM574.2 412a1.5 1.5 0 1 0 .1 0zM574.2 413.75a1.5 1.5 0 1 0 .1 0zM574.2 414.75a1.5 1.5 0 1 0 .1 0zM574.45 373.25a1.5 1.5 0 1 0 .1 0zM574.45 373.5a1.5 1.5 0 1 0 .1 0zM574.45 393.5a1.5 1.5 0 1 0 .1 0zM574.45 405.25a1.5 1.5 0 1 0 .1 0zM574.45 417.75a1.5 1.5 0 1 0 .1 0zM574.7 377.5a1.5 1.5 0 1 0 .1 0zM574.7 390.25a1.5 1.5 0 1 0 .1 0zM574.7 406.25a1.5 1.5 0 1 0 .1 0zM574.7 420.5a1.5 1.5 0 1 0 .1 0zM574.95 360.5a1.5 1.5 0 1 0 .1 0zM574.95 395.75a1.5 1.5 0 1 0 .1 0zM574.95 416.25a1.5 1.5 0 1 0 .1 0zM574.95 422a1.5 1.5 0 1 0 .1 0zM574.95 428.5a1.5 1.5 0 1 0 .1 0zM575.2 391.75a1.5 1.5 0 1 0 .1 0zM575.2 409.75a1.5 1.5 0 1 0 .1 0zM575.2 416.25a1.5 1.5 0 1 0 .1 0zM575.2 424a1.5 1.5 0 1 0 .1 0zM575.45 371.5a1.5 1.5 0 1 0 .1 0zM575.45 379.75a1.5 1.5 0 1 0 .1 0zM575.45 384.25a1.5 1.5 0 1 0 .1 0zM575.45 391.25a1.5 1.5 0 1 0 .1 0zM575.45 420a1.5 1.5 0 1 0 .1 0zM575.7 373.5a1.5 1.5 0 1 0 .1 0zM575.7 388.5a1.5 1.5 0 1 0 .1 0zM575.7 399.25a1.5 1.5 0 1 0 .1 0zM575.7 421.25a1.5 1.5 0 1 0 .1 0zM575.95 372.25a1.5 1.5 0 1 0 .1 0zM575.95 389a1.5 1.5 0 1 0 .1 0zM575.95 392a1.5 1.5 0 1 0 .1 0zM575.95 402a1.5 1.5 0 1 0 .1 0zM576.2 381.75a1.5 1.5 0 1 0 .1 0zM576.2 416.25a1.5 1.5 0 1 0 .1 0zM576.2 419.5a1.5 1.5 0 1 0 .1 0zM576.2 421.75a1.5 1.5 0 1 0 .1 0zM576.45 384.25a1.5 1.5 0 1 0 .1 0zM576.45 400.5a1.5 1.5 0 1 0 .1 0zM576.45 406.5a1.5 1.5 0 1 0 .1 0zM576.45 417.25a1.5 1.5 0 1 0 .1 0zM576.45 424.25a1.5 1.5 0 1 0 .1 0zM576.7 368.5a1.5 1.5 0 1 0 .1 0zM576.7 408a1.5 1.5 0 1 0 .1 0zM576.7 408.75a1.5 1.5 0 1 0 .1 0zM576.7 424.5a1.5 1.5 0 1 0 .1 0zM576.95 373.5a1.5 1.5 0 1 0 .1 0zM576.95 376a1.5 1.5 0 1 0 .1 0zM576.95 383.75a1.5 1.5 0 1 0 .1 0zM576.95 389a1.5 1.5 0 1 0 .1 0zM577.2 367.75a1.5 1.5 0 1 0 .1 0zM577.2 381.5a1.5 1.5 0 1 0 .1 0zM577.2 394a1.5 1.5 0 1 0 .1 0zM577.2 415.25a1.5 1.5 0 1 0 .1 0zM577.45 368.5a1.5 1.5 0 1 0 .1 0zM577.45 393.5a1.5 1.5 0 1 0 .1 0zM577.45 400.5a1.5 1.5 0 1 0 .1 0zM577.45 406.5a1.5 1.5 0 1 0 .1 0zM577.7 385.25a1.5 1.5 0 1 0 .1 0zM577.7 392a1.5 1.5 0 1 0 .1 0zM577.7 415a1.5 1.5 0 1 0 .1 0zM577.7 418a1.5 1.5 0 1 0 .1 0zM577.95 384.25a1.5 1.5 0 1 0 .1 0zM577.95 408a1.5 1.5 0 1 0 .1 0zM577.95 408.5a1.5 1.5 0 1 0 .1 0zM577.95 420a1.5 1.5 0 1 0 .1 0zM578.2 385.25a1.5 1.5 0 1 0 .1 0zM578.2 408a1.5 1.5 0 1 0 .1 0zM578.2 409.75a1.5 1.5 0 1 0 .1 0zM578.2 414.25a1.5 1.5 0 1 0 .1 0zM578.45 399a1.5 1.5 0 1 0 .1 0zM578.45 400.75a1.5 1.5 0 1 0 .1 0zM578.45 404.25a1.5 1.5 0 1 0 .1 0zM578.45 411.25a1.5 1.5 0 1 0 .1 0zM578.45 417.25a1.5 1.5 0 1 0 .1 0zM578.7 378.25a1.5 1.5 0 1 0 .1 0zM578.7 409.5a1.5 1.5 0 1 0 .1 0zM578.7 410a1.5 1.5 0 1 0 .1 0zM578.7 410.75a1.5 1.5 0 1 0 .1 0zM578.95 389.5a1.5 1.5 0 1 0 .1 0zM578.95 394a1.5 1.5 0 1 0 .1 0zM578.95 402.5a1.5 1.5 0 1 0 .1 0zM578.95 407.25a1.5 1.5 0 1 0 .1 0zM579.2 400.25a1.5 1.5 0 1 0 .1 0zM579.2 401.75a1.5 1.5 0 1 0 .1 0zM579.2 403.75a1.5 1.5 0 1 0 .1 0zM579.2 428.25a1.5 1.5 0 1 0 .1 0zM579.45 385.5a1.5 1.5 0 1 0 .1 0zM579.45 389.75a1.5 1.5 0 1 0 .1 0zM579.45 401.75a1.5 1.5 0 1 0 .1 0zM579.45 404.25a1.5 1.5 0 1 0 .1 0zM579.45 409a1.5 1.5 0 1 0 .1 0zM579.7 400.75a1.5 1.5 0 1 0 .1 0zM579.7 402a1.5 1.5 0 1 0 .1 0zM579.7 406.25a1.5 1.5 0 1 0 .1 0zM579.7 419a1.5 1.5 0 1 0 .1 0zM579.95 406.5a1.5 1.5 0 1 0 .1 0zM579.95 413a1.5 1.5 0 1 0 .1 0zM579.95 418.75a1.5 1.5 0 1 0 .1 0zM579.95 422.25a1.5 1.5 0 1 0 .1 0zM580.2 400.75a1.5 1.5 0 1 0 .1 0zM580.2 405.75a1.5 1.5 0 1 0 .1 0zM580.2 419.25a1.5 1.5 0 1 0 .1 0zM580.2 420.5a1.5 1.5 0 1 0 .1 0zM580.45 384.5a1.5 1.5 0 1 0 .1 0zM580.45 401.25a1.5 1.5 0 1 0 .1 0zM580.45 406.75a1.5 1.5 0 1 0 .1 0zM580.45 410.5a1.5 1.5 0 1 0 .1 0zM580.45 419.75a1.5 1.5 0 1 0 .1 0zM580.7 400.25a1.5 1.5 0 1 0 .1 0zM580.7 411a1.5 1.5 0 1 0 .1 0zM580.7 412.5a1.5 1.5 0 1 0 .1 0zM580.7 421.25a1.5 1.5 0 1 0 .1 0zM580.7 434.75a1.5 1.5 0 1 0 .1 0zM580.95 387.75a1.5 1.5 0 1 0 .1 0zM580.95 403.25a1.5 1.5 0 1 0 .1 0zM580.95 418.75a1.5 1.5 0 1 0 .1 0zM580.95 423.5a1.5 1.5 0 1 0 .1 0zM581.2 403.25a1.5 1.5 0 1 0 .1 0zM581.2 405.75a1.5 1.5 0 1 0 .1 0zM581.2 417.25a1.5 1.5 0 1 0 .1 0zM581.2 430.5a1.5 1.5 0 1 0 .1 0zM581.45 396.25a1.5 1.5 0 1 0 .1 0zM581.45 403.5a1.5 1.5 0 1 0 .1 0zM581.45 419.5a1.5 1.5 0 1 0 .1 0zM581.45 421.75a1.5 1.5 0 1 0 .1 0zM581.45 425.75a1.5 1.5 0 1 0 .1 0zM581.7 412.25a1.5 1.5 0 1 0 .1 0zM581.7 422.5a1.5 1.5 0 1 0 .1 0zM581.7 423.25a1.5 1.5 0 1 0 .1 0zM581.7 434a1.5 1.5 0 1 0 .1 0zM581.95 401.5a1.5 1.5 0 1 0 .1 0zM581.95 412.5a1.5 1.5 0 1 0 .1 0zM581.95 424a1.5 1.5 0 1 0 .1 0zM581.95 436.5a1.5 1.5 0 1 0 .1 0zM582.2 393.75a1.5 1.5 0 1 0 .1 0zM582.2 415.25a1.5 1.5 0 1 0 .1 0zM582.2 425a1.5 1.5 0 1 0 .1 0zM582.2 428.5a1.5 1.5 0 1 0 .1 0zM582.45 402.5a1.5 1.5 0 1 0 .1 0zM582.45 406.5a1.5 1.5 0 1 0 .1 0zM582.45 410.75a1.5 1.5 0 1 0 .1 0zM582.45 428a1.5 1.5 0 1 0 .1 0zM582.45 435a1.5 1.5 0 1 0 .1 0zM582.7 391.25a1.5 1.5 0 1 0 .1 0zM582.7 401.75a1.5 1.5 0 1 0 .1 0zM582.7 411.75a1.5 1.5 0 1 0 .1 0zM582.7 421a1.5 1.5 0 1 0 .1 0zM582.95 396.5a1.5 1.5 0 1 0 .1 0zM582.95 404.5a1.5 1.5 0 1 0 .1 0zM582.95 407.5a1.5 1.5 0 1 0 .1 0zM582.95 435.75a1.5 1.5 0 1 0 .1 0zM583.2 396.75a1.5 1.5 0 1 0 .1 0zM583.2 407.25a1.5 1.5 0 1 0 .1 0zM583.2 408a1.5 1.5 0 1 0 .1 0zM583.2 410.75a1.5 1.5 0 1 0 .1 0zM583.45 408.5a1.5 1.5 0 1 0 .1 0zM583.45 410.25a1.5 1.5 0 1 0 .1 0zM583.45 412.5a1.5 1.5 0 1 0 .1 0zM583.45 434.5a1.5 1.5 0 1 0 .1 0zM583.45 435a1.5 1.5 0 1 0 .1 0zM583.7 389.75a1.5 1.5 0 1 0 .1 0zM583.7 410.5a1.5 1.5 0 1 0 .1 0zM583.7 421.25a1.5 1.5 0 1 0 .1 0zM583.7 425.25a1.5 1.5 0 1 0 .1 0zM583.95 398.25a1.5 1.5 0 1 0 .1 0zM583.95 416.25a1.5 1.5 0 1 0 .1 0zM583.95 419.25a1.5 1.5 0 1 0 .1 0zM583.95 424.5a1.5 1.5 0 1 0 .1 0zM584.2 399.25a1.5 1.5 0 1 0 .1 0zM584.2 399.75a1.5 1.5 0 1 0 .1 0zM584.2 409.25a1.5 1.5 0 1 0 .1 0zM584.2 420a1.5 1.5 0 1 0 .1 0zM584.45 399a1.5 1.5 0 1 0 .1 0zM584.45 401a1.5 1.5 0 1 0 .1 0zM584.45 410.5a1.5 1.5 0 1 0 .1 0zM584.45 419.75a1.5 1.5 0 1 0 .1 0zM584.45 424.75a1.5 1.5 0 1 0 .1 0zM584.7 394.5a1.5 1.5 0 1 0 .1 0zM584.7 399.25a1.5 1.5 0 1 0 .1 0zM584.7 401a1.5 1.5 0 1 0 .1 0zM584.7 416a1.5 1.5 0 1 0 .1 0zM584.95 392a1.5 1.5 0 1 0 .1 0zM584.95 397a1.5 1.5 0 1 0 .1 0zM584.95 415.5a1.5 1.5 0 1 0 .1 0zM584.95 421.5a1.5 1.5 0 1 0 .1 0zM585.2 406.5a1.5 1.5 0 1 0 .1 0zM585.2 411.5a1.5 1.5 0 1 0 .1 0zM585.2 424.5a1.5 1.5 0 1 0 .1 0zM585.2 426.75a1.5 1.5 0 1 0 .1 0zM585.45 416a1.5 1.5 0 1 0 .1 0zM585.45 418.5a1.5 1.5 0 1 0 .1 0zM585.45 419.25a1.5 1.5 0 1 0 .1 0zM585.45 421.25a1.5 1.5 0 1 0 .1 0zM585.45 421.5a1.5 1.5 0 1 0 .1 0zM585.7 391a1.5 1.5 0 1 0 .1 0zM585.7 407.75a1.5 1.5 0 1 0 .1 0zM585.7 410.25a1.5 1.5 0 1 0 .1 0zM585.7 432a1.5 1.5 0 1 0 .1 0zM585.95 403.25a1.5 1.5 0 1 0 .1 0zM585.95 415.25a1.5 1.5 0 1 0 .1 0zM585.95 419.5a1.5 1.5 0 1 0 .1 0zM585.95 421.75a1.5 1.5 0 1 0 .1 0zM586.2 410a1.5 1.5 0 1 0 .1 0zM586.2 411.5a1.5 1.5 0 1 0 .1 0zM586.2 413a1.5 1.5 0 1 0 .1 0zM586.2 416.5a1.5 1.5 0 1 0 .1 0zM586.45 400.75a1.5 1.5 0 1 0 .1 0zM586.45 415a1.5 1.5 0 1 0 .1 0zM586.45 425.25a1.5 1.5 0 1 0 .1 0zM586.45 427a1.5 1.5 0 1 0 .1 0zM586.45 432.5a1.5 1.5 0 1 0 .1 0zM586.7 397.25a1.5 1.5 0 1 0 .1 0zM586.7 409.75a1.5 1.5 0 1 0 .1 0zM586.7 412.75a1.5 1.5 0 1 0 .1 0zM586.7 421.25a1.5 1.5 0 1 0 .1 0zM586.95 413.75a1.5 1.5 0 1 0 .1 0zM586.95 416a1.5 1.5 0 1 0 .1 0zM586.95 433a1.5 1.5 0 1 0 .1 0zM586.95 434.75a1.5 1.5 0 1 0 .1 0zM587.2 418a1.5 1.5 0 1 0 .1 0zM587.2 422.75a1.5 1.5 0 1 0 .1 0zM587.2 431.25a1.5 1.5 0 1 0 .1 0zM587.2 434a1.5 1.5 0 1 0 .1 0zM587.45 412.25a1.5 1.5 0 1 0 .1 0zM587.45 415.5a1.5 1.5 0 1 0 .1 0zM587.45 427.75a1.5 1.5 0 1 0 .1 0zM587.45 431.5a1.5 1.5 0 1 0 .1 0zM587.45 437.25a1.5 1.5 0 1 0 .1 0zM587.7 406.75a1.5 1.5 0 1 0 .1 0zM587.7 413a1.5 1.5 0 1 0 .1 0zM587.7 418.5a1.5 1.5 0 1 0 .1 0zM587.7 431.75a1.5 1.5 0 1 0 .1 0zM587.95 395.25a1.5 1.5 0 1 0 .1 0zM587.95 398.75a1.5 1.5 0 1 0 .1 0zM587.95 413.5a1.5 1.5 0 1 0 .1 0zM587.95 428.75a1.5 1.5 0 1 0 .1 0zM588.2 411.25a1.5 1.5 0 1 0 .1 0zM588.2 421.5a1.5 1.5 0 1 0 .1 0zM588.2 422.75a1.5 1.5 0 1 0 .1 0zM588.2 433.75a1.5 1.5 0 1 0 .1 0zM588.2 441.25a1.5 1.5 0 1 0 .1 0zM588.45 400.5a1.5 1.5 0 1 0 .1 0zM588.45 412.25a1.5 1.5 0 1 0 .1 0zM588.45 419.75a1.5 1.5 0 1 0 .1 0zM588.45 421.75a1.5 1.5 0 1 0 .1 0zM588.45 437.25a1.5 1.5 0 1 0 .1 0zM588.7 414.25a1.5 1.5 0 1 0 .1 0zM588.7 416.75a1.5 1.5 0 1 0 .1 0zM588.7 418.75a1.5 1.5 0 1 0 .1 0zM588.7 437.75a1.5 1.5 0 1 0 .1 0zM588.95 407.75a1.5 1.5 0 1 0 .1 0zM588.95 417a1.5 1.5 0 1 0 .1 0zM588.95 418.75a1.5 1.5 0 1 0 .1 0zM588.95 433.25a1.5 1.5 0 1 0 .1 0zM589.2 396.25a1.5 1.5 0 1 0 .1 0zM589.2 400.25a1.5 1.5 0 1 0 .1 0zM589.2 404.25a1.5 1.5 0 1 0 .1 0zM589.2 411.5a1.5 1.5 0 1 0 .1 0zM589.45 402.25a1.5 1.5 0 1 0 .1 0zM589.45 406a1.5 1.5 0 1 0 .1 0zM589.45 408.25a1.5 1.5 0 1 0 .1 0zM589.45 419.25a1.5 1.5 0 1 0 .1 0zM589.45 427.5a1.5 1.5 0 1 0 .1 0zM589.7 418.25a1.5 1.5 0 1 0 .1 0zM589.7 420.5a1.5 1.5 0 1 0 .1 0zM589.7 421.5a1.5 1.5 0 1 0 .1 0zM589.7 433.5a1.5 1.5 0 1 0 .1 0zM589.95 391.5a1.5 1.5 0 1 0 .1 0zM589.95 402.25a1.5 1.5 0 1 0 .1 0zM589.95 415.75a1.5 1.5 0 1 0 .1 0zM589.95 421.75a1.5 1.5 0 1 0 .1 0zM590.2 390.25a1.5 1.5 0 1 0 .1 0zM590.2 401.5a1.5 1.5 0 1 0 .1 0zM590.2 404.75a1.5 1.5 0 1 0 .1 0zM590.2 408.25a1.5 1.5 0 1 0 .1 0zM590.45 385.5a1.5 1.5 0 1 0 .1 0zM590.45 395.5a1.5 1.5 0 1 0 .1 0zM590.45 416a1.5 1.5 0 1 0 .1 0zM590.45 425.5a1.5 1.5 0 1 0 .1 0zM590.7 381.75a1.5 1.5 0 1 0 .1 0zM590.7 398a1.5 1.5 0 1 0 .1 0zM590.7 403.25a1.5 1.5 0 1 0 .1 0zM590.7 415a1.5 1.5 0 1 0 .1 0zM590.95 394.5a1.5 1.5 0 1 0 .1 0zM590.95 396.75a1.5 1.5 0 1 0 .1 0zM590.95 404.5a1.5 1.5 0 1 0 .1 0zM590.95 417a1.5 1.5 0 1 0 .1 0zM591.2 403.75a1.5 1.5 0 1 0 .1 0zM591.2 404.75a1.5 1.5 0 1 0 .1 0zM591.2 410a1.5 1.5 0 1 0 .1 0zM591.2 417.5a1.5 1.5 0 1 0 .1 0zM591.45 377a1.5 1.5 0 1 0 .1 0zM591.45 390.25a1.5 1.5 0 1 0 .1 0zM591.45 393.75a1.5 1.5 0 1 0 .1 0zM591.45 401a1.5 1.5 0 1 0 .1 0zM591.45 409a1.5 1.5 0 1 0 .1 0zM591.7 397.75a1.5 1.5 0 1 0 .1 0zM591.7 402.25a1.5 1.5 0 1 0 .1 0zM591.7 406a1.5 1.5 0 1 0 .1 0zM591.7 413.25a1.5 1.5 0 1 0 .1 0zM591.95 393a1.5 1.5 0 1 0 .1 0zM591.95 399.5a1.5 1.5 0 1 0 .1 0zM591.95 406.75a1.5 1.5 0 1 0 .1 0zM591.95 415.25a1.5 1.5 0 1 0 .1 0zM592.2 396a1.5 1.5 0 1 0 .1 0zM592.2 402a1.5 1.5 0 1 0 .1 0zM592.2 408.75a1.5 1.5 0 1 0 .1 0zM592.2 411.5a1.5 1.5 0 1 0 .1 0zM592.45 396.5a1.5 1.5 0 1 0 .1 0zM592.45 398.25a1.5 1.5 0 1 0 .1 0zM592.45 412a1.5 1.5 0 1 0 .1 0zM592.45 416.5a1.5 1.5 0 1 0 .1 0zM592.45 417.5a1.5 1.5 0 1 0 .1 0zM592.7 404a1.5 1.5 0 1 0 .1 0zM592.7 406.5a1.5 1.5 0 1 0 .1 0zM592.7 421.25a1.5 1.5 0 1 0 .1 0zM592.7 424a1.5 1.5 0 1 0 .1 0zM592.95 393a1.5 1.5 0 1 0 .1 0zM592.95 404a1.5 1.5 0 1 0 .1 0zM592.95 414.25a1.5 1.5 0 1 0 .1 0zM592.95 421a1.5 1.5 0 1 0 .1 0zM593.2 384.25a1.5 1.5 0 1 0 .1 0zM593.2 388a1.5 1.5 0 1 0 .1 0zM593.2 398a1.5 1.5 0 1 0 .1 0zM593.2 400.25a1.5 1.5 0 1 0 .1 0zM593.2 400.5a1.5 1.5 0 1 0 .1 0zM593.45 389.25a1.5 1.5 0 1 0 .1 0zM593.45 400a1.5 1.5 0 1 0 .1 0zM593.45 405.25a1.5 1.5 0 1 0 .1 0zM593.45 425a1.5 1.5 0 1 0 .1 0zM593.7 407.75a1.5 1.5 0 1 0 .1 0zM593.7 412.25a1.5 1.5 0 1 0 .1 0zM593.7 414.5a1.5 1.5 0 1 0 .1 0zM593.7 415.25a1.5 1.5 0 1 0 .1 0zM593.95 390.25a1.5 1.5 0 1 0 .1 0zM593.95 408a1.5 1.5 0 1 0 .1 0zM593.95 410.75a1.5 1.5 0 1 0 .1 0zM594.2 403.5a1.5 1.5 0 1 0 .1 0zM594.2 404.75a1.5 1.5 0 1 0 .1 0zM594.2 417.5a1.5 1.5 0 1 0 .1 0zM594.2 434.25a1.5 1.5 0 1 0 .1 0zM594.2 441a1.5 1.5 0 1 0 .1 0zM594.45 390.75a1.5 1.5 0 1 0 .1 0zM594.45 402.75a1.5 1.5 0 1 0 .1 0zM594.45 421.25a1.5 1.5 0 1 0 .1 0zM594.45 424.25a1.5 1.5 0 1 0 .1 0zM594.7 393.25a1.5 1.5 0 1 0 .1 0zM594.7 406.75a1.5 1.5 0 1 0 .1 0zM594.7 417a1.5 1.5 0 1 0 .1 0zM594.7 431.5a1.5 1.5 0 1 0 .1 0zM594.95 404a1.5 1.5 0 1 0 .1 0zM594.95 407.25a1.5 1.5 0 1 0 .1 0zM594.95 424.5a1.5 1.5 0 1 0 .1 0zM594.95 432a1.5 1.5 0 1 0 .1 0zM595.2 389a1.5 1.5 0 1 0 .1 0zM595.2 398.25a1.5 1.5 0 1 0 .1 0zM595.2 411a1.5 1.5 0 1 0 .1 0zM595.2 413a1.5 1.5 0 1 0 .1 0zM595.2 414.75a1.5 1.5 0 1 0 .1 0zM595.45 397.25a1.5 1.5 0 1 0 .1 0zM595.45 404a1.5 1.5 0 1 0 .1 0zM595.45 404.25a1.5 1.5 0 1 0 .1 0zM595.45 406a1.5 1.5 0 1 0 .1 0zM595.7 399a1.5 1.5 0 1 0 .1 0zM595.7 405.75a1.5 1.5 0 1 0 .1 0zM595.7 409.75a1.5 1.5 0 1 0 .1 0zM595.95 381.25a1.5 1.5 0 1 0 .1 0zM595.95 385a1.5 1.5 0 1 0 .1 0zM595.95 398.75a1.5 1.5 0 1 0 .1 0zM595.95 402a1.5 1.5 0 1 0 .1 0zM596.2 378.75a1.5 1.5 0 1 0 .1 0zM596.2 398.5a1.5 1.5 0 1 0 .1 0zM596.2 399a1.5 1.5 0 1 0 .1 0zM596.2 401.5a1.5 1.5 0 1 0 .1 0zM596.2 427.25a1.5 1.5 0 1 0 .1 0zM596.45 373.5a1.5 1.5 0 1 0 .1 0zM596.45 383a1.5 1.5 0 1 0 .1 0zM596.45 414.75a1.5 1.5 0 1 0 .1 0zM596.45 431.5a1.5 1.5 0 1 0 .1 0zM596.45 431.75a1.5 1.5 0 1 0 .1 0zM596.7 407.25a1.5 1.5 0 1 0 .1 0zM596.7 410.25a1.5 1.5 0 1 0 .1 0zM596.7 410.75a1.5 1.5 0 1 0 .1 0zM596.7 421.25a1.5 1.5 0 1 0 .1 0zM596.95 401a1.5 1.5 0 1 0 .1 0zM596.95 416a1.5 1.5 0 1 0 .1 0zM596.95 418.75a1.5 1.5 0 1 0 .1 0zM597.2 389.5a1.5 1.5 0 1 0 .1 0zM597.2 395.75a1.5 1.5 0 1 0 .1 0zM597.2 404.5a1.5 1.5 0 1 0 .1 0zM597.2 405.25a1.5 1.5 0 1 0 .1 0zM597.2 405.75a1.5 1.5 0 1 0 .1 0zM597.45 398.25a1.5 1.5 0 1 0 .1 0zM597.45 407.25a1.5 1.5 0 1 0 .1 0zM597.45 408a1.5 1.5 0 1 0 .1 0zM597.45 410a1.5 1.5 0 1 0 .1 0zM597.7 398a1.5 1.5 0 1 0 .1 0zM597.7 401a1.5 1.5 0 1 0 .1 0zM597.7 408a1.5 1.5 0 1 0 .1 0zM597.7 411a1.5 1.5 0 1 0 .1 0zM597.95 393.5a1.5 1.5 0 1 0 .1 0zM597.95 419.75a1.5 1.5 0 1 0 .1 0zM597.95 424.75a1.5 1.5 0 1 0 .1 0zM597.95 425.25a1.5 1.5 0 1 0 .1 0zM598.2 404a1.5 1.5 0 1 0 .1 0zM598.2 417.25a1.5 1.5 0 1 0 .1 0zM598.2 418.5a1.5 1.5 0 1 0 .1 0zM598.2 428.75a1.5 1.5 0 1 0 .1 0zM598.2 431.25a1.5 1.5 0 1 0 .1 0zM598.45 398.75a1.5 1.5 0 1 0 .1 0zM598.45 410a1.5 1.5 0 1 0 .1 0zM598.45 416.5a1.5 1.5 0 1 0 .1 0zM598.45 434.5a1.5 1.5 0 1 0 .1 0zM598.7 407a1.5 1.5 0 1 0 .1 0zM598.7 413.75a1.5 1.5 0 1 0 .1 0zM598.7 416a1.5 1.5 0 1 0 .1 0zM598.7 437.5a1.5 1.5 0 1 0 .1 0zM598.95 400.75a1.5 1.5 0 1 0 .1 0zM598.95 406.5a1.5 1.5 0 1 0 .1 0zM598.95 422a1.5 1.5 0 1 0 .1 0zM598.95 437.25a1.5 1.5 0 1 0 .1 0zM599.2 412.25a1.5 1.5 0 1 0 .1 0zM599.2 416.75a1.5 1.5 0 1 0 .1 0zM599.2 426a1.5 1.5 0 1 0 .1 0zM599.2 436.75a1.5 1.5 0 1 0 .1 0zM599.45 409.75a1.5 1.5 0 1 0 .1 0zM599.45 426.75a1.5 1.5 0 1 0 .1 0zM599.45 427.75a1.5 1.5 0 1 0 .1 0zM599.45 430.5a1.5 1.5 0 1 0 .1 0zM599.7 415a1.5 1.5 0 1 0 .1 0zM599.7 421a1.5 1.5 0 1 0 .1 0zM599.7 421.5a1.5 1.5 0 1 0 .1 0zM599.7 424.25a1.5 1.5 0 1 0 .1 0zM599.95 412.25a1.5 1.5 0 1 0 .1 0zM599.95 413.5a1.5 1.5 0 1 0 .1 0zM599.95 418.5a1.5 1.5 0 1 0 .1 0zM599.95 424.5a1.5 1.5 0 1 0 .1 0zM600.2 422.75a1.5 1.5 0 1 0 .1 0zM600.2 424a1.5 1.5 0 1 0 .1 0zM600.2 434a1.5 1.5 0 1 0 .1 0zM600.2 436a1.5 1.5 0 1 0 .1 0zM600.2 439a1.5 1.5 0 1 0 .1 0zM600.45 408a1.5 1.5 0 1 0 .1 0zM600.45 414.25a1.5 1.5 0 1 0 .1 0zM600.45 423.5a1.5 1.5 0 1 0 .1 0zM600.45 423.75a1.5 1.5 0 1 0 .1 0zM600.7 411.5a1.5 1.5 0 1 0 .1 0zM600.7 414.75a1.5 1.5 0 1 0 .1 0zM600.7 418.75a1.5 1.5 0 1 0 .1 0zM600.7 428.5a1.5 1.5 0 1 0 .1 0zM600.95 412.25a1.5 1.5 0 1 0 .1 0zM600.95 429.75a1.5 1.5 0 1 0 .1 0zM600.95 439a1.5 1.5 0 1 0 .1 0zM600.95 439.5a1.5 1.5 0 1 0 .1 0zM601.2 419a1.5 1.5 0 1 0 .1 0zM601.2 428.75a1.5 1.5 0 1 0 .1 0zM601.2 431.75a1.5 1.5 0 1 0 .1 0zM601.2 433.75a1.5 1.5 0 1 0 .1 0zM601.2 434.75a1.5 1.5 0 1 0 .1 0zM601.45 420a1.5 1.5 0 1 0 .1 0zM601.45 421.75a1.5 1.5 0 1 0 .1 0zM601.45 425.5a1.5 1.5 0 1 0 .1 0zM601.45 433.25a1.5 1.5 0 1 0 .1 0zM601.7 418.75a1.5 1.5 0 1 0 .1 0zM601.7 429a1.5 1.5 0 1 0 .1 0zM601.7 440a1.5 1.5 0 1 0 .1 0zM601.7 441.75a1.5 1.5 0 1 0 .1 0zM601.95 424a1.5 1.5 0 1 0 .1 0zM601.95 430.25a1.5 1.5 0 1 0 .1 0zM601.95 436.75a1.5 1.5 0 1 0 .1 0zM601.95 437.75a1.5 1.5 0 1 0 .1 0zM602.2 418a1.5 1.5 0 1 0 .1 0zM602.2 419.25a1.5 1.5 0 1 0 .1 0zM602.2 430a1.5 1.5 0 1 0 .1 0zM602.2 438.25a1.5 1.5 0 1 0 .1 0zM602.2 442a1.5 1.5 0 1 0 .1 0zM602.2 443.5a1.5 1.5 0 1 0 .1 0zM602.45 418.5a1.5 1.5 0 1 0 .1 0zM602.45 424.75a1.5 1.5 0 1 0 .1 0zM602.45 428.75a1.5 1.5 0 1 0 .1 0zM602.45 434a1.5 1.5 0 1 0 .1 0zM602.7 418.5a1.5 1.5 0 1 0 .1 0zM602.7 425a1.5 1.5 0 1 0 .1 0zM602.7 430a1.5 1.5 0 1 0 .1 0zM602.7 438.75a1.5 1.5 0 1 0 .1 0zM602.95 414a1.5 1.5 0 1 0 .1 0zM602.95 428a1.5 1.5 0 1 0 .1 0zM602.95 431.75a1.5 1.5 0 1 0 .1 0zM602.95 432a1.5 1.5 0 1 0 .1 0zM603.2 427.25a1.5 1.5 0 1 0 .1 0zM603.2 430.75a1.5 1.5 0 1 0 .1 0zM603.2 433a1.5 1.5 0 1 0 .1 0zM603.2 440.25a1.5 1.5 0 1 0 .1 0zM603.2 443.25a1.5 1.5 0 1 0 .1 0zM603.45 433.75a1.5 1.5 0 1 0 .1 0zM603.45 437.25a1.5 1.5 0 1 0 .1 0zM603.45 438a1.5 1.5 0 1 0 .1 0zM603.45 439.5a1.5 1.5 0 1 0 .1 0zM603.45 445a1.5 1.5 0 1 0 .1 0zM603.45 451.25a1.5 1.5 0 1 0 .1 0zM603.7 427.75a1.5 1.5 0 1 0 .1 0zM603.7 428a1.5 1.5 0 1 0 .1 0zM603.7 433a1.5 1.5 0 1 0 .1 0zM603.7 439.25a1.5 1.5 0 1 0 .1 0zM603.95 423.75a1.5 1.5 0 1 0 .1 0zM603.95 431.25a1.5 1.5 0 1 0 .1 0zM603.95 439.25a1.5 1.5 0 1 0 .1 0zM603.95 440.25a1.5 1.5 0 1 0 .1 0zM603.95 443.25a1.5 1.5 0 1 0 .1 0zM604.2 427a1.5 1.5 0 1 0 .1 0zM604.2 428.5a1.5 1.5 0 1 0 .1 0zM604.2 429.5a1.5 1.5 0 1 0 .1 0zM604.2 432.5a1.5 1.5 0 1 0 .1 0zM604.2 436a1.5 1.5 0 1 0 .1 0zM604.45 421a1.5 1.5 0 1 0 .1 0zM604.45 422.25a1.5 1.5 0 1 0 .1 0zM604.45 427.25a1.5 1.5 0 1 0 .1 0zM604.45 434a1.5 1.5 0 1 0 .1 0zM604.7 430.75a1.5 1.5 0 1 0 .1 0zM604.7 431.75a1.5 1.5 0 1 0 .1 0zM604.7 437a1.5 1.5 0 1 0 .1 0zM604.7 439.5a1.5 1.5 0 1 0 .1 0zM604.95 424a1.5 1.5 0 1 0 .1 0zM604.95 435.5a1.5 1.5 0 1 0 .1 0zM604.95 436.25a1.5 1.5 0 1 0 .1 0zM604.95 442.25a1.5 1.5 0 1 0 .1 0zM605.2 420.25a1.5 1.5 0 1 0 .1 0zM605.2 426.75a1.5 1.5 0 1 0 .1 0zM605.2 432.75a1.5 1.5 0 1 0 .1 0zM605.2 435.75a1.5 1.5 0 1 0 .1 0zM605.45 410a1.5 1.5 0 1 0 .1 0zM605.45 420.25a1.5 1.5 0 1 0 .1 0zM605.45 423.75a1.5 1.5 0 1 0 .1 0zM605.45 427a1.5 1.5 0 1 0 .1 0zM605.7 415a1.5 1.5 0 1 0 .1 0zM605.7 423a1.5 1.5 0 1 0 .1 0zM605.7 423.75a1.5 1.5 0 1 0 .1 0zM605.7 432a1.5 1.5 0 1 0 .1 0zM605.95 414.5a1.5 1.5 0 1 0 .1 0zM605.95 420.75a1.5 1.5 0 1 0 .1 0zM605.95 428.25a1.5 1.5 0 1 0 .1 0zM605.95 431.75a1.5 1.5 0 1 0 .1 0zM606.2 408.5a1.5 1.5 0 1 0 .1 0zM606.2 423a1.5 1.5 0 1 0 .1 0zM606.2 434.5a1.5 1.5 0 1 0 .1 0zM606.2 439.75a1.5 1.5 0 1 0 .1 0zM606.2 440a1.5 1.5 0 1 0 .1 0zM606.45 413a1.5 1.5 0 1 0 .1 0zM606.45 427a1.5 1.5 0 1 0 .1 0zM606.45 428.25a1.5 1.5 0 1 0 .1 0zM606.45 437.5a1.5 1.5 0 1 0 .1 0zM606.7 404.25a1.5 1.5 0 1 0 .1 0zM606.7 423.75a1.5 1.5 0 1 0 .1 0zM606.7 426.75a1.5 1.5 0 1 0 .1 0zM606.7 431.75a1.5 1.5 0 1 0 .1 0zM606.95 409a1.5 1.5 0 1 0 .1 0zM606.95 418.75a1.5 1.5 0 1 0 .1 0zM606.95 422.25a1.5 1.5 0 1 0 .1 0zM607.2 415.75a1.5 1.5 0 1 0 .1 0zM607.2 417.25a1.5 1.5 0 1 0 .1 0zM607.2 428.5a1.5 1.5 0 1 0 .1 0zM607.2 432.75a1.5 1.5 0 1 0 .1 0zM607.2 440.25a1.5 1.5 0 1 0 .1 0zM607.45 411.5a1.5 1.5 0 1 0 .1 0zM607.45 419a1.5 1.5 0 1 0 .1 0zM607.45 422.5a1.5 1.5 0 1 0 .1 0zM607.45 422.75a1.5 1.5 0 1 0 .1 0zM607.7 402.5a1.5 1.5 0 1 0 .1 0zM607.7 418a1.5 1.5 0 1 0 .1 0zM607.7 424.75a1.5 1.5 0 1 0 .1 0zM607.7 432a1.5 1.5 0 1 0 .1 0zM607.95 406a1.5 1.5 0 1 0 .1 0zM607.95 411.25a1.5 1.5 0 1 0 .1 0zM607.95 418.75a1.5 1.5 0 1 0 .1 0zM607.95 435.5a1.5 1.5 0 1 0 .1 0zM608.2 404.25a1.5 1.5 0 1 0 .1 0zM608.2 407.25a1.5 1.5 0 1 0 .1 0zM608.2 413.75a1.5 1.5 0 1 0 .1 0zM608.2 425.75a1.5 1.5 0 1 0 .1 0zM608.45 410a1.5 1.5 0 1 0 .1 0zM608.45 419.5a1.5 1.5 0 1 0 .1 0zM608.45 420.25a1.5 1.5 0 1 0 .1 0zM608.45 422.75a1.5 1.5 0 1 0 .1 0zM608.7 403a1.5 1.5 0 1 0 .1 0zM608.7 407a1.5 1.5 0 1 0 .1 0zM608.7 407.25a1.5 1.5 0 1 0 .1 0zM608.7 414.5a1.5 1.5 0 1 0 .1 0zM608.95 409.25a1.5 1.5 0 1 0 .1 0zM608.95 410.25a1.5 1.5 0 1 0 .1 0zM608.95 411.25a1.5 1.5 0 1 0 .1 0zM608.95 428a1.5 1.5 0 1 0 .1 0zM609.2 397a1.5 1.5 0 1 0 .1 0zM609.2 406.75a1.5 1.5 0 1 0 .1 0zM609.2 412a1.5 1.5 0 1 0 .1 0zM609.2 415.25a1.5 1.5 0 1 0 .1 0zM609.2 425a1.5 1.5 0 1 0 .1 0zM609.45 387a1.5 1.5 0 1 0 .1 0zM609.45 404.25a1.5 1.5 0 1 0 .1 0zM609.45 408a1.5 1.5 0 1 0 .1 0zM609.45 409.25a1.5 1.5 0 1 0 .1 0zM609.7 385a1.5 1.5 0 1 0 .1 0zM609.7 397a1.5 1.5 0 1 0 .1 0zM609.7 398.5a1.5 1.5 0 1 0 .1 0zM609.7 418a1.5 1.5 0 1 0 .1 0zM609.95 387a1.5 1.5 0 1 0 .1 0zM609.95 388a1.5 1.5 0 1 0 .1 0zM609.95 401.75a1.5 1.5 0 1 0 .1 0zM609.95 403.75a1.5 1.5 0 1 0 .1 0zM610.2 383.25a1.5 1.5 0 1 0 .1 0zM610.2 394a1.5 1.5 0 1 0 .1 0zM610.2 394.25a1.5 1.5 0 1 0 .1 0zM610.2 398a1.5 1.5 0 1 0 .1 0zM610.2 407a1.5 1.5 0 1 0 .1 0zM610.45 378.75a1.5 1.5 0 1 0 .1 0zM610.45 379.25a1.5 1.5 0 1 0 .1 0zM610.45 384.25a1.5 1.5 0 1 0 .1 0zM610.45 414.75a1.5 1.5 0 1 0 .1 0zM610.7 361.5a1.5 1.5 0 1 0 .1 0zM610.7 390.25a1.5 1.5 0 1 0 .1 0zM610.7 395a1.5 1.5 0 1 0 .1 0zM610.7 401.5a1.5 1.5 0 1 0 .1 0zM610.7 415a1.5 1.5 0 1 0 .1 0zM610.95 375.25a1.5 1.5 0 1 0 .1 0zM610.95 376.75a1.5 1.5 0 1 0 .1 0zM610.95 378a1.5 1.5 0 1 0 .1 0zM610.95 385.75a1.5 1.5 0 1 0 .1 0zM611.2 387.75a1.5 1.5 0 1 0 .1 0zM611.2 392.5a1.5 1.5 0 1 0 .1 0zM611.2 402.25a1.5 1.5 0 1 0 .1 0zM611.2 402.5a1.5 1.5 0 1 0 .1 0zM611.2 402.75a1.5 1.5 0 1 0 .1 0zM611.45 371a1.5 1.5 0 1 0 .1 0zM611.45 378.25a1.5 1.5 0 1 0 .1 0zM611.45 380.25a1.5 1.5 0 1 0 .1 0zM611.45 383.25a1.5 1.5 0 1 0 .1 0zM611.7 375.75a1.5 1.5 0 1 0 .1 0zM611.7 378.75a1.5 1.5 0 1 0 .1 0zM611.7 399.25a1.5 1.5 0 1 0 .1 0zM611.7 400.75a1.5 1.5 0 1 0 .1 0zM611.95 379.5a1.5 1.5 0 1 0 .1 0zM611.95 382.5a1.5 1.5 0 1 0 .1 0zM611.95 383.5a1.5 1.5 0 1 0 .1 0zM611.95 391.5a1.5 1.5 0 1 0 .1 0zM612.2 371.5a1.5 1.5 0 1 0 .1 0zM612.2 372.5a1.5 1.5 0 1 0 .1 0zM612.2 380.25a1.5 1.5 0 1 0 .1 0zM612.2 386a1.5 1.5 0 1 0 .1 0zM612.2 407.75a1.5 1.5 0 1 0 .1 0zM612.45 380.25a1.5 1.5 0 1 0 .1 0zM612.45 382.5a1.5 1.5 0 1 0 .1 0zM612.45 403.5a1.5 1.5 0 1 0 .1 0zM612.45 405.5a1.5 1.5 0 1 0 .1 0zM612.7 372.25a1.5 1.5 0 1 0 .1 0zM612.7 392a1.5 1.5 0 1 0 .1 0zM612.7 394.75a1.5 1.5 0 1 0 .1 0zM612.7 398.75a1.5 1.5 0 1 0 .1 0zM612.95 387.25a1.5 1.5 0 1 0 .1 0zM612.95 388.25a1.5 1.5 0 1 0 .1 0zM612.95 394.25a1.5 1.5 0 1 0 .1 0zM612.95 413a1.5 1.5 0 1 0 .1 0zM613.2 375.5a1.5 1.5 0 1 0 .1 0zM613.2 376.75a1.5 1.5 0 1 0 .1 0zM613.2 398.25a1.5 1.5 0 1 0 .1 0zM613.2 399.25a1.5 1.5 0 1 0 .1 0zM613.2 407.25a1.5 1.5 0 1 0 .1 0zM613.45 375.5a1.5 1.5 0 1 0 .1 0zM613.45 386.25a1.5 1.5 0 1 0 .1 0zM613.45 395.75a1.5 1.5 0 1 0 .1 0zM613.45 398.75a1.5 1.5 0 1 0 .1 0zM613.7 373.25a1.5 1.5 0 1 0 .1 0zM613.7 376.5a1.5 1.5 0 1 0 .1 0zM613.7 381.75a1.5 1.5 0 1 0 .1 0zM613.95 388.75a1.5 1.5 0 1 0 .1 0zM613.95 397.25a1.5 1.5 0 1 0 .1 0zM613.95 399.25a1.5 1.5 0 1 0 .1 0zM613.95 410.5a1.5 1.5 0 1 0 .1 0zM614.2 389.5a1.5 1.5 0 1 0 .1 0zM614.2 391a1.5 1.5 0 1 0 .1 0zM614.2 399.25a1.5 1.5 0 1 0 .1 0zM614.2 399.75a1.5 1.5 0 1 0 .1 0zM614.2 400.75a1.5 1.5 0 1 0 .1 0zM614.45 382.75a1.5 1.5 0 1 0 .1 0zM614.45 384.25a1.5 1.5 0 1 0 .1 0zM614.45 404.5a1.5 1.5 0 1 0 .1 0zM614.45 409.5a1.5 1.5 0 1 0 .1 0zM614.7 387.25a1.5 1.5 0 1 0 .1 0zM614.7 393.75a1.5 1.5 0 1 0 .1 0zM614.7 405.5a1.5 1.5 0 1 0 .1 0zM614.95 401a1.5 1.5 0 1 0 .1 0zM614.95 402.5a1.5 1.5 0 1 0 .1 0zM614.95 404.75a1.5 1.5 0 1 0 .1 0zM614.95 409.5a1.5 1.5 0 1 0 .1 0zM615.2 383.75a1.5 1.5 0 1 0 .1 0zM615.2 387.75a1.5 1.5 0 1 0 .1 0zM615.2 400.25a1.5 1.5 0 1 0 .1 0zM615.2 403a1.5 1.5 0 1 0 .1 0zM615.2 405.5a1.5 1.5 0 1 0 .1 0zM615.45 398a1.5 1.5 0 1 0 .1 0zM615.45 399.25a1.5 1.5 0 1 0 .1 0zM615.45 400.75a1.5 1.5 0 1 0 .1 0zM615.45 405a1.5 1.5 0 1 0 .1 0zM615.7 379.75a1.5 1.5 0 1 0 .1 0zM615.7 394.5a1.5 1.5 0 1 0 .1 0zM615.7 399.5a1.5 1.5 0 1 0 .1 0zM615.7 404.75a1.5 1.5 0 1 0 .1 0zM615.95 394a1.5 1.5 0 1 0 .1 0zM615.95 399.75a1.5 1.5 0 1 0 .1 0zM615.95 400.5a1.5 1.5 0 1 0 .1 0zM615.95 412a1.5 1.5 0 1 0 .1 0zM616.2 389.5a1.5 1.5 0 1 0 .1 0zM616.2 394.75a1.5 1.5 0 1 0 .1 0zM616.2 396.75a1.5 1.5 0 1 0 .1 0zM616.2 403.75a1.5 1.5 0 1 0 .1 0zM616.2 409.75a1.5 1.5 0 1 0 .1 0zM616.45 398.25a1.5 1.5 0 1 0 .1 0zM616.45 400.75a1.5 1.5 0 1 0 .1 0zM616.45 403.5a1.5 1.5 0 1 0 .1 0zM616.45 404.5a1.5 1.5 0 1 0 .1 0zM616.7 398a1.5 1.5 0 1 0 .1 0zM616.7 403a1.5 1.5 0 1 0 .1 0zM616.7 410a1.5 1.5 0 1 0 .1 0zM616.7 421.75a1.5 1.5 0 1 0 .1 0zM616.95 401.75a1.5 1.5 0 1 0 .1 0zM616.95 416.25a1.5 1.5 0 1 0 .1 0zM616.95 423.75a1.5 1.5 0 1 0 .1 0zM616.95 424a1.5 1.5 0 1 0 .1 0zM617.2 393.75a1.5 1.5 0 1 0 .1 0zM617.2 403.75a1.5 1.5 0 1 0 .1 0zM617.2 407.5a1.5 1.5 0 1 0 .1 0zM617.2 408.75a1.5 1.5 0 1 0 .1 0zM617.2 418a1.5 1.5 0 1 0 .1 0zM617.2 434.25a1.5 1.5 0 1 0 .1 0zM617.45 396.25a1.5 1.5 0 1 0 .1 0zM617.45 405.5a1.5 1.5 0 1 0 .1 0zM617.45 409.25a1.5 1.5 0 1 0 .1 0zM617.45 411.25a1.5 1.5 0 1 0 .1 0zM617.7 398.5a1.5 1.5 0 1 0 .1 0zM617.7 406.5a1.5 1.5 0 1 0 .1 0zM617.7 417a1.5 1.5 0 1 0 .1 0zM617.7 434.75a1.5 1.5 0 1 0 .1 0zM617.95 404.5a1.5 1.5 0 1 0 .1 0zM617.95 407a1.5 1.5 0 1 0 .1 0zM617.95 413.75a1.5 1.5 0 1 0 .1 0zM617.95 414a1.5 1.5 0 1 0 .1 0zM618.2 417a1.5 1.5 0 1 0 .1 0zM618.2 423.5a1.5 1.5 0 1 0 .1 0zM618.2 432.75a1.5 1.5 0 1 0 .1 0zM618.2 433.25a1.5 1.5 0 1 0 .1 0zM618.2 434.5a1.5 1.5 0 1 0 .1 0zM618.45 410.5a1.5 1.5 0 1 0 .1 0zM618.45 414a1.5 1.5 0 1 0 .1 0zM618.45 429.5a1.5 1.5 0 1 0 .1 0zM618.45 439.75a1.5 1.5 0 1 0 .1 0zM618.7 411.25a1.5 1.5 0 1 0 .1 0zM618.7 415.75a1.5 1.5 0 1 0 .1 0zM618.7 418.5a1.5 1.5 0 1 0 .1 0zM618.7 426.5a1.5 1.5 0 1 0 .1 0zM618.95 396.5a1.5 1.5 0 1 0 .1 0zM618.95 407.5a1.5 1.5 0 1 0 .1 0zM618.95 413.25a1.5 1.5 0 1 0 .1 0zM618.95 422.5a1.5 1.5 0 1 0 .1 0zM619.2 405.5a1.5 1.5 0 1 0 .1 0zM619.2 411a1.5 1.5 0 1 0 .1 0zM619.2 413.75a1.5 1.5 0 1 0 .1 0zM619.2 431.75a1.5 1.5 0 1 0 .1 0zM619.2 433a1.5 1.5 0 1 0 .1 0zM619.45 402.5a1.5 1.5 0 1 0 .1 0zM619.45 407.25a1.5 1.5 0 1 0 .1 0zM619.45 425.25a1.5 1.5 0 1 0 .1 0zM619.45 435.5a1.5 1.5 0 1 0 .1 0zM619.7 406.75a1.5 1.5 0 1 0 .1 0zM619.7 412.5a1.5 1.5 0 1 0 .1 0zM619.7 433a1.5 1.5 0 1 0 .1 0zM619.7 434.5a1.5 1.5 0 1 0 .1 0zM619.95 407a1.5 1.5 0 1 0 .1 0zM619.95 416.75a1.5 1.5 0 1 0 .1 0zM619.95 421.25a1.5 1.5 0 1 0 .1 0zM619.95 426.25a1.5 1.5 0 1 0 .1 0zM619.95 431.5a1.5 1.5 0 1 0 .1 0zM620.2 418.75a1.5 1.5 0 1 0 .1 0zM620.2 419.75a1.5 1.5 0 1 0 .1 0zM620.2 421a1.5 1.5 0 1 0 .1 0zM620.2 427.5a1.5 1.5 0 1 0 .1 0zM620.45 411.75a1.5 1.5 0 1 0 .1 0zM620.45 415a1.5 1.5 0 1 0 .1 0zM620.45 418.25a1.5 1.5 0 1 0 .1 0zM620.45 427a1.5 1.5 0 1 0 .1 0zM620.45 435.25a1.5 1.5 0 1 0 .1 0zM620.7 426.25a1.5 1.5 0 1 0 .1 0zM620.7 428.5a1.5 1.5 0 1 0 .1 0zM620.7 434.25a1.5 1.5 0 1 0 .1 0zM620.7 436.5a1.5 1.5 0 1 0 .1 0zM620.95 407.75a1.5 1.5 0 1 0 .1 0zM620.95 410.75a1.5 1.5 0 1 0 .1 0zM620.95 419.75a1.5 1.5 0 1 0 .1 0zM620.95 428a1.5 1.5 0 1 0 .1 0zM620.95 431.25a1.5 1.5 0 1 0 .1 0zM621.2 420.5a1.5 1.5 0 1 0 .1 0zM621.2 422.75a1.5 1.5 0 1 0 .1 0zM621.2 425.25a1.5 1.5 0 1 0 .1 0zM621.2 428.5a1.5 1.5 0 1 0 .1 0zM621.45 405a1.5 1.5 0 1 0 .1 0zM621.45 411.25a1.5 1.5 0 1 0 .1 0zM621.45 419.5a1.5 1.5 0 1 0 .1 0zM621.45 431.25a1.5 1.5 0 1 0 .1 0zM621.7 409.5a1.5 1.5 0 1 0 .1 0zM621.7 426.25a1.5 1.5 0 1 0 .1 0zM621.7 428a1.5 1.5 0 1 0 .1 0zM621.7 444.75a1.5 1.5 0 1 0 .1 0zM621.95 410a1.5 1.5 0 1 0 .1 0zM621.95 416.75a1.5 1.5 0 1 0 .1 0zM621.95 424a1.5 1.5 0 1 0 .1 0zM621.95 424.75a1.5 1.5 0 1 0 .1 0zM621.95 428.75a1.5 1.5 0 1 0 .1 0zM622.2 414.25a1.5 1.5 0 1 0 .1 0zM622.2 420a1.5 1.5 0 1 0 .1 0zM622.2 423.75a1.5 1.5 0 1 0 .1 0z" stroke="#6464ff" stroke-width="0.8" fill="none"/>
<path d="M115.6 349 116.4 343 117.2 337 118.3 326 118.9 300 119.5 272 120.3 248.1 121 272 121.6 300 122.2 326 122.7 337 123.3 322 124 303 124.8 288 125.8 276 126.9 270.5 127.8 277 128.6 283.5 130.7 286 133.2 291.1 135.3 289 137.4 296.1 139.1 305.4 141.2 308.3 143.3 305.4 145.4 293.6 147.1 282.3 148.8 291.9 150 295.7 151.7 293.6 153.4 297.8 155.1 305.4 157.6 308.7 158.8 310.8 161 316 163.8 322.6 166.3 320 169 325 172.2 331 173 328.5 176.4 345.3 178.6 340.3 182.6 356.2 184 352 187 362 190.7 371.3 193.2 365.5 194.8 345 196 325 197.1 309.8 198.3 326.8 199.2 350 200 372 200.8 384 202.5 384 205.3 375.5 207.5 385.6 210 368.8 214.2 368 217.6 375.5 220.1 371.3 224.3 371.3 228.5 376.4 230.2 373 231.9 375.5 234.4 372.2 237.8 377.2 239.5 373.9 241 352 242.2 334 242.9 325 244.5 312 246.1 303.8 246.9 318 247.5 336.8 248.7 370.4 250.5 357 252.6 336.8 254.3 358.7 256 367.9 258.5 367.9 260.2 360.3 261.6 365.4 263.2 364.5 266.1 377.1 268.3 374.6 270.6 382.2 272.3 378.8 274.5 368.7 277 365.4 278.4 367.9 280.4 364.5 282 364.5 285.4 362 287.1 365.4 288.8 362.9 290.5 364 293.3 354.5 295.5 362 299.7 369.6 302.6 363.4 305.3 370.4 306.9 367.9 309.8 378.8 312.6 385.5 314.8 372.9 315.7 375.5 317.7 402.4 319.9 402.4 321.6 404 324.9 385.5 326.6 390.6 328.8 387.2 330.8 400.7 332.5 394.8 335 402.4 337.2 392.3 340 393.1 344.2 400.7 345.6 399 349.6 408.2 352.6 395.6 355.7 388 359.4 395.6 361.9 387.2 364.7 402.4 366.9 392.3 370.3 391.4 372.8 400.7 375.9 407.2 378.4 397.1 380.1 389.6 381.8 395.5 383.8 387.4 386 388.7 388.5 403.9 390.2 403.9 392.7 392.9 394.9 404.7 398.6 408.1 402.3 390.4 404.5 391.3 407 386.2 408.4 387.1 410.7 382 412.9 387.1 415.1 381.2 417.1 388.7 418.8 390.4 422.1 403.9 423.8 398 427.2 399.7 431.4 406.4 433.6 404.7 435.6 407.2 437.8 412.3 439.8 402.2 441.5 403.9 442.8 396.3 444.8 403.9 448.2 398 451.1 390.4 453.2 395.5 455.8 394.6 458.8 387.9 460.8 388.7 464.2 396.3 465.8 397.1 470 398 472.6 389.6 473.9 395.5 477.3 383.4 481 387.9 486 393.8 490.2 398.8 493.6 395.5 496.9 393.8 500.9 398.7 504.2 400.3 506.8 386 508.8 400.3 510.5 394.5 513.2 396.1 516 400.3 517.7 397.8 520.2 402.9 522.2 394.5 524.4 397 526.6 408.7 529.5 410.4 532.3 417.1 535.3 409.6 537 410.4 539 406.7 542.1 412.1 544.6 416.3 547.9 405.7 551.3 411.3 553 408.7 555.8 414.6 558 409.6 560.5 413.8 563.9 404.5 566.4 392.8 568.1 392.8 571.5 404.5 573.2 405.4 575.3 398.7 577.4 396.1 579.9 408.7 582.4 415.5 584.9 412.1 587.1 418 589.1 418 591.1 403.7 592.5 404.5 594.2 415.5 596.3 404 598.4 417.1 600.9 427.2 603.4 434.8 605.9 427.2 607.6 423.9 609.6 403.7 611.3 387.7 613.5 391.9 615.7 400.3 617.7 415.5 619.4 423" stroke="#0000ff" stroke-width="1.6" fill="none" stroke-linejoin="round"/>
<path d="M113.5 481.5v5.4M113.5 84.5v-5.4M134.75 481.5v3.1M134.75 84.5v-3.1M156 481.5v3.1M156 84.5v-3.1M177.25 481.5v3.1M177.25 84.5v-3.1M198.5 481.5v3.1M198.5 84.5v-3.1M219.75 481.5v3.1M219.75 84.5v-3.1M241 481.5v5.4M241 84.5v-5.4M262.25 481.5v3.1M262.25 84.5v-3.1M283.5 481.5v3.1M283.5 84.5v-3.1M304.75 481.5v3.1M304.75 84.5v-3.1M326 481.5v3.1M326 84.5v-3.1M347.25 481.5v3.1M347.25 84.5v-3.1M368.5 481.5v5.4M368.5 84.5v-5.4M389.75 481.5v3.1M389.75 84.5v-3.1M411 481.5v3.1M411 84.5v-3.1M432.25 481.5v3.1M432.25 84.5v-3.1M453.5 481.5v3.1M453.5 84.5v-3.1M474.75 481.5v3.1M474.75 84.5v-3.1M496 481.5v5.4M496 84.5v-5.4M517.25 481.5v3.1M517.25 84.5v-3.1M538.5 481.5v3.1M538.5 84.5v-3.1M559.75 481.5v3.1M559.75 84.5v-3.1M581 481.5v3.1M581 84.5v-3.1M602.25 481.5v3.1M602.25 84.5v-3.1M113.5 481.5h-6M623.5 481.5h6M113.5 431.5h-3M623.5 431.5h3M113.5 382.5h-6M623.5 382.5h6M113.5 332.5h-3M623.5 332.5h3M113.5 283.5h-6M623.5 283.5h6M113.5 233.5h-3M623.5 233.5h3M113.5 184.3h-6M623.5 184.3h6M113.5 134.5h-3M623.5 134.5h3M113.5 84.5h-6M623.5 84.5h6" stroke="#2a2a2a" stroke-width="0.8" fill="none"/>
<rect x="113.5" y="84.5" width="510.0" height="397.0" fill="none" stroke="#000" stroke-width="1.4"/>
<rect x="637.5" y="453.5" width="185" height="28" fill="#fff" stroke="#000" stroke-width="1.25" stroke-linejoin="round"/>
<path d="M643.5 467.5H655" stroke="#0000ff" stroke-width="1.1" fill="none"/>
<circle cx="649.2" cy="467.5" r="1.5" fill="#fff" fill-opacity="0.45" stroke="#7878ff" stroke-width="0.7"/>
<text transform="translate(369.2 46.2) scale(1.003 1)" font-size="36" stroke="#000" stroke-width="0.3" text-anchor="middle">Wind Direction at 29.5m / 2009-02-26</text>
<text class="sans" transform="translate(92.4 93.9)" font-size="23.5" text-anchor="middle">N</text>
<text class="sans" transform="translate(91.5 192.6)" font-size="23.5" text-anchor="middle">W</text>
<text class="sans" transform="translate(92.1 292.6)" font-size="23.5" text-anchor="middle">S</text>
<text class="sans" transform="translate(92.6 390.9)" font-size="23.5" text-anchor="middle">E</text>
<text class="sans" transform="translate(92.4 490.9)" font-size="23.5" text-anchor="middle">N</text>
<text transform="translate(114.3 507) scale(1.11 1)" font-size="18.5" stroke="#000" stroke-width="0.25" text-anchor="middle">00:00</text>
<text transform="translate(241.5 507) scale(1.11 1)" font-size="18.5" stroke="#000" stroke-width="0.25" text-anchor="middle">06:00</text>
<text transform="translate(370.5 507) scale(1.11 1)" font-size="18.5" stroke="#000" stroke-width="0.25" text-anchor="middle">12:00</text>
<text transform="translate(498 507) scale(1.11 1)" font-size="18.5" stroke="#000" stroke-width="0.25" text-anchor="middle">18:00</text>
<text transform="translate(369 527) scale(1.06 1)" font-size="18.5" stroke="#000" stroke-width="0.25" text-anchor="middle">Feb-26</text>
<text transform="translate(370 550.8)" font-size="24" stroke="#000" stroke-width="0.25" text-anchor="middle">(LST)</text>
<text transform="translate(660.6 473)" font-size="18" stroke="#000" stroke-width="0.2">Wind Direction</text>
<text transform="translate(780.3 533)" font-size="11.6" letter-spacing="0.4" text-anchor="end">©TERC, Univ. Tsukuba</text>
<text transform="translate(822.9 550)" font-size="13" letter-spacing="0.43" text-anchor="end">Observed at TERC Tower site</text>
<text transform="translate(822.9 566.8)" font-size="13" letter-spacing="0.43" text-anchor="end">Created Automatically at 2009-02-26/23:55:43</text>
<text transform="translate(822.9 583.8)" font-size="13" letter-spacing="0.43" text-anchor="end">Data source : /home/hojyo/new/TERC-data/sorted_data/FLUX.10s.dat</text>
<g transform="translate(785,504)">
<rect width="34.2" height="34" rx="1.6" fill="#1464f0"/>
<path d="M10.6 0h12.8l-1.6 4q-.5 1.3-2 1.7q-2.8.7-5.6 0q-1.5-.4-2-1.7z" fill="#fff"/>
<path d="M17.1 7.7q.5 2.2 2.2 4.4q1 1.5 1 2.8a3.2 3.2 0 0 1-6.4 0q0-1.3 1-2.8q1.7-2.2 2.2-4.4z" fill="#fff"/>
<path d="M0 10.9A19.4 19.4 0 0 0 34.2 10.9M0 15.5A22 22 0 0 0 34.2 15.5M0 19.6A27.5 27.5 0 0 0 34.2 19.6" stroke="#fff" stroke-width="0.75" fill="none"/>
<text class="sans" x="17.9" y="33.1" font-size="8.4" font-weight="bold" text-anchor="middle" letter-spacing="3.3" style="fill:#fff">TERC</text>
</g>

</svg></body></html>
